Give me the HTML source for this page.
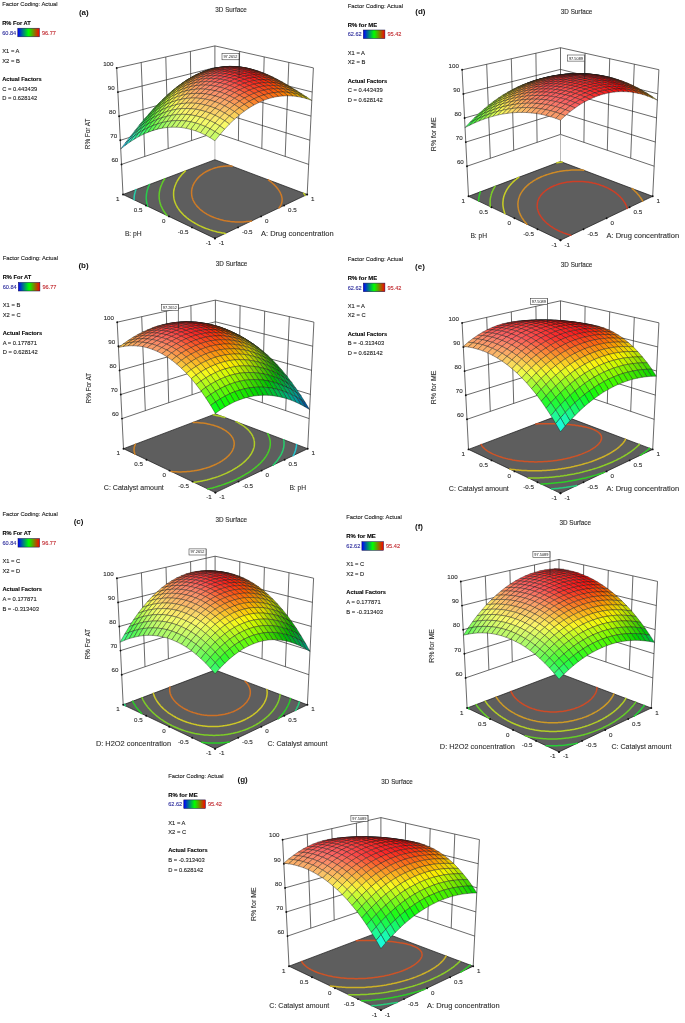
<!DOCTYPE html><html><head><meta charset="utf-8"><title>3D Surface plots</title>
<style>html,body{margin:0;padding:0;background:#fff}svg{display:block}</style></head><body>
<svg width="685" height="1023" viewBox="0 0 685 1023">
<defs><linearGradient id="lg" x1="0" x2="1" y1="0" y2="0"><stop offset="0" stop-color="#0000ff"/><stop offset="0.5" stop-color="#00ff00"/><stop offset="1" stop-color="#ff0000"/></linearGradient></defs>
<rect width="685" height="1023" fill="#fff"/>
<g id="panel-a">
<text x="2.2" y="5.8" font-size="5.80" fill="#1a1a1a" stroke="#1a1a1a" stroke-width="0.1" font-family="Liberation Sans, sans-serif" >Factor Coding: Actual</text>
<text x="2.2" y="24.8" font-size="5.80" fill="#000" stroke="#000" stroke-width="0.1" font-family="Liberation Sans, sans-serif" font-weight="bold" textLength="28.5" lengthAdjust="spacingAndGlyphs">R% For AT</text>
<rect x="17.8" y="28.2" width="21.6" height="8.6" fill="url(#lg)" stroke="#10104a" stroke-width="0.5"/>
<text x="2.2" y="34.6" font-size="5.60" fill="#2b2b9c" stroke="#2b2b9c" stroke-width="0.1" font-family="Liberation Sans, sans-serif" >60.84</text>
<text x="41.9" y="34.6" font-size="5.60" fill="#c0262c" stroke="#c0262c" stroke-width="0.1" font-family="Liberation Sans, sans-serif" >96.77</text>
<text x="2.2" y="52.8" font-size="5.80" fill="#1a1a1a" stroke="#1a1a1a" stroke-width="0.1" font-family="Liberation Sans, sans-serif" >X1 = A</text>
<text x="2.2" y="62.5" font-size="5.80" fill="#1a1a1a" stroke="#1a1a1a" stroke-width="0.1" font-family="Liberation Sans, sans-serif" >X2 = B</text>
<text x="2.2" y="80.7" font-size="5.70" fill="#000" stroke="#000" stroke-width="0.1" font-family="Liberation Sans, sans-serif" font-weight="bold">Actual Factors</text>
<text x="2.2" y="90.5" font-size="5.80" fill="#1a1a1a" stroke="#1a1a1a" stroke-width="0.1" font-family="Liberation Sans, sans-serif" >C = 0.443439</text>
<text x="2.2" y="100.2" font-size="5.80" fill="#1a1a1a" stroke="#1a1a1a" stroke-width="0.1" font-family="Liberation Sans, sans-serif" >D = 0.628142</text>
<text x="83.8" y="15.2" font-size="8.0" font-weight="bold" fill="#111" text-anchor="middle" font-family="Liberation Sans, sans-serif">(a)</text>
<text x="231.1" y="11.9" font-size="6.3" text-anchor="middle" fill="#2e2e2e" stroke="#2e2e2e" stroke-width="0.12" font-family="Liberation Sans, sans-serif">3D Surface</text>
<polyline points="121.5,164.4 214.9,132.6 308.7,164.4" stroke="#2a2a2a" stroke-width="0.7" fill="none"/>
<polyline points="120.3,140.3 214.9,110.9 309.9,140.2" stroke="#2a2a2a" stroke-width="0.7" fill="none"/>
<polyline points="119.1,116.2 214.9,89.3 311.0,116.1" stroke="#2a2a2a" stroke-width="0.7" fill="none"/>
<polyline points="117.9,92.1 214.9,67.6 312.2,92.0" stroke="#2a2a2a" stroke-width="0.7" fill="none"/>
<polyline points="116.7,68.0 214.9,45.9 313.4,67.9" stroke="#2a2a2a" stroke-width="0.7" fill="none"/>
<line x1="123.0" y1="194.5" x2="116.7" y2="68.0" stroke="#2a2a2a" stroke-width="0.7" fill="none"/>
<line x1="144.8" y1="156.4" x2="141.2" y2="62.5" stroke="#2a2a2a" stroke-width="0.7" fill="none"/>
<line x1="168.2" y1="148.5" x2="165.8" y2="57.0" stroke="#2a2a2a" stroke-width="0.7" fill="none"/>
<line x1="191.6" y1="140.5" x2="190.4" y2="51.4" stroke="#2a2a2a" stroke-width="0.7" fill="none"/>
<line x1="307.2" y1="194.5" x2="313.4" y2="67.9" stroke="#2a2a2a" stroke-width="0.7" fill="none"/>
<line x1="285.2" y1="156.4" x2="288.8" y2="62.4" stroke="#2a2a2a" stroke-width="0.7" fill="none"/>
<line x1="261.8" y1="148.5" x2="264.2" y2="56.9" stroke="#2a2a2a" stroke-width="0.7" fill="none"/>
<line x1="238.4" y1="140.5" x2="239.6" y2="51.4" stroke="#2a2a2a" stroke-width="0.7" fill="none"/>
<line x1="214.9" y1="159.7" x2="214.9" y2="132.6" stroke="#a8a8a8" stroke-width="0.8"/>
<line x1="214.9" y1="132.6" x2="214.9" y2="45.9" stroke="#2a2a2a" stroke-width="0.7" fill="none"/>
<polygon points="123.0,194.5 214.9,159.7 307.2,194.5 214.9,238.4" fill="#5e5e5e" stroke="#151515" stroke-width="0.7"/>
<polyline points="134.1,199.8 134.1,199.1 134.1,198.8 134.1,198.1 134.1,197.8 134.2,197.1 134.2,196.9 134.3,196.1 134.3,195.9 134.4,195.0 134.4,195.0 134.6,194.1 134.6,194.0 134.8,193.2 134.9,192.9 135.0,192.4 135.2,191.8 135.3,191.5 135.5,190.7 135.5,190.7 135.8,189.8 135.9,189.6" fill="none" stroke="rgb(38,206,173)" stroke-width="1.5" stroke-linecap="round"/>
<polyline points="147.6,206.3 147.5,205.9 147.3,205.1 147.2,205.0 147.0,204.0 147.0,203.9 146.8,203.1 146.7,202.8 146.6,202.2 146.5,201.7 146.5,201.2 146.4,200.7 146.4,200.3 146.3,199.6 146.3,199.3 146.3,198.6 146.2,198.3 146.2,197.6 146.2,197.4 146.3,196.6 146.3,196.4 146.3,195.7 146.4,195.3 146.4,194.7 146.5,194.3 146.5,193.8 146.6,193.3 146.7,192.9 146.8,192.2 146.9,192.0 147.0,191.2 147.1,191.1 147.3,190.2 147.3,190.1 147.5,189.4 147.7,189.0 147.8,188.6 148.0,187.9 148.1,187.7 148.4,186.9 148.4,186.8 148.7,186.1 148.9,185.6 149.1,185.3 149.4,184.5 149.4,184.5" fill="none" stroke="rgb(38,206,76)" stroke-width="1.5" stroke-linecap="round"/>
<polyline points="167.0,215.5 166.8,215.3 166.2,214.5 165.7,213.8 165.6,213.7 165.0,212.9 164.5,212.3 164.5,212.1 163.9,211.3 163.6,210.8 163.4,210.5 162.9,209.7 162.8,209.4 162.5,208.9 162.1,208.0 162.1,208.0 161.7,207.2 161.4,206.7 161.3,206.3 160.9,205.5 160.9,205.5 160.6,204.6 160.5,204.3 160.3,203.7 160.1,203.1 160.1,202.8 159.8,201.9 159.8,201.9 159.6,201.0 159.6,200.8 159.5,200.0 159.4,199.7 159.3,199.1 159.3,198.7 159.2,198.1 159.2,197.7 159.2,197.2 159.1,196.7 159.1,196.2 159.1,195.7 159.1,195.2 159.2,194.7 159.2,194.2 159.2,193.7 159.3,193.2 159.3,192.8 159.4,192.2 159.4,191.9 159.6,191.1 159.6,191.0 159.8,190.1 159.8,190.1 160.0,189.2 160.0,189.0 160.2,188.4 160.4,187.9 160.5,187.5 160.7,186.9 160.8,186.7 161.1,185.9 161.1,185.7 161.4,185.1 161.6,184.6 161.7,184.3 162.1,183.5 162.1,183.5 162.4,182.7 162.6,182.3 162.8,181.9 163.2,181.2 163.3,181.1 163.7,180.4 163.9,179.9 164.1,179.7 164.6,178.9 164.7,178.7" fill="none" stroke="rgb(96,206,38)" stroke-width="1.5" stroke-linecap="round"/>
<polyline points="225.4,233.4 225.1,233.4 223.7,233.1 222.0,232.9 221.5,232.7 220.4,232.5 218.8,232.2 217.3,231.9 217.3,231.9 215.8,231.5 214.3,231.1 212.8,230.7 211.9,230.4 211.4,230.3 210.0,229.9 208.7,229.4 207.4,228.9 206.1,228.5 204.8,228.0 203.6,227.5 202.4,227.0 201.2,226.4 200.0,225.9 198.9,225.4 197.8,224.8 196.7,224.2 195.6,223.6 194.6,223.0 193.6,222.4 192.6,221.8 191.6,221.2 190.7,220.6 190.1,220.2 189.7,219.9 188.8,219.3 188.0,218.6 187.1,218.0 186.4,217.4 186.3,217.3 185.5,216.6 184.7,215.9 183.9,215.2 183.9,215.2 183.2,214.5 182.5,213.8 182.0,213.3 181.8,213.0 181.1,212.3 180.5,211.5 180.4,211.5 179.8,210.8 179.2,210.0 179.2,209.9 178.7,209.2 178.1,208.4 178.1,208.4 177.6,207.6 177.2,207.0 177.1,206.8 176.7,206.0 176.5,205.6 176.2,205.2 175.8,204.3 175.8,204.3 175.5,203.5 175.3,203.1 175.1,202.6 174.9,201.9 174.8,201.8 174.5,200.9 174.5,200.7 174.3,200.0 174.2,199.6 174.1,199.1 174.0,198.5 173.9,198.2 173.8,197.4 173.8,197.2 173.7,196.4 173.7,196.3 173.6,195.3 173.6,195.3 173.6,194.4 173.6,194.3 173.6,193.4 173.6,193.4 173.6,192.4 173.6,192.4 173.7,191.5 173.7,191.4 173.8,190.6 173.9,190.3 174.0,189.7 174.1,189.3 174.2,188.8 174.3,188.2 174.4,187.9 174.6,187.2 174.6,187.1 174.9,186.2 175.0,186.1 175.2,185.4 175.4,185.0 175.5,184.6 175.9,183.8 175.9,183.8 176.2,183.0 176.4,182.7 176.6,182.2 177.0,181.5 177.0,181.5 177.4,180.7 177.7,180.3 177.9,180.0 178.3,179.2 178.5,179.1 178.8,178.5 179.3,177.8 179.3,177.8 179.8,177.1 180.3,176.5 180.4,176.4 180.9,175.7 181.3,175.2 181.5,175.0 182.1,174.3 182.6,173.8 182.7,173.7 183.3,173.0 183.9,172.4 183.9,172.4 184.6,171.7 185.2,171.1 185.5,170.9" fill="none" stroke="rgb(193,206,38)" stroke-width="1.5" stroke-linecap="round"/>
<polyline points="305.2,195.4 304.7,194.7 304.6,194.5 304.2,193.9 303.7,193.2 303.7,193.2" fill="none" stroke="rgb(193,206,38)" stroke-width="1.5" stroke-linecap="round"/>
<polyline points="251.6,220.9 250.2,221.2 248.4,221.4 248.4,221.4 246.5,221.6 245.6,221.7 244.4,221.8 243.0,221.9 242.3,221.9 240.6,222.0 240.1,222.0 238.3,222.0 237.7,222.0 236.2,221.9 235.1,221.9 234.1,221.8 232.4,221.7 232.2,221.7 230.4,221.5 229.2,221.3 228.6,221.3 226.9,221.0 225.6,220.8 225.3,220.7 223.7,220.4 222.2,220.0 221.0,219.7 220.7,219.7 219.3,219.3 217.9,218.8 216.5,218.4 215.2,217.9 214.0,217.5 212.8,217.0 211.6,216.5 210.4,216.0 209.3,215.4 208.3,214.9 207.2,214.3 206.2,213.7 205.2,213.1 204.3,212.5 203.4,211.9 203.0,211.6 202.5,211.2 201.7,210.6 200.8,209.9 200.0,209.2 200.0,209.2 199.3,208.5 198.6,207.8 198.1,207.3 197.9,207.1 197.2,206.4 196.6,205.7 196.6,205.6 196.0,204.9 195.4,204.1 195.4,204.1 194.9,203.4 194.5,202.7 194.4,202.6 194.0,201.8 193.8,201.4 193.5,200.9 193.1,200.1 193.1,200.1 192.8,199.3 192.7,198.9 192.5,198.4 192.3,197.8 192.2,197.5 192.0,196.6 192.0,196.6 191.8,195.7 191.8,195.6 191.7,194.8 191.7,194.5 191.6,193.9 191.6,193.5 191.6,192.9 191.6,192.5 191.6,191.9 191.6,191.6 191.6,190.9 191.7,190.6 191.8,189.9 191.8,189.7 191.9,188.9 192.0,188.8 192.2,188.0 192.2,187.8 192.4,187.1 192.5,186.7 192.7,186.3 193.0,185.6 193.0,185.5 193.4,184.7 193.5,184.4 193.7,183.9 194.1,183.3 194.1,183.1 194.6,182.4 194.8,182.0 195.1,181.6 195.6,180.9 195.7,180.7 196.1,180.2 196.6,179.5 196.7,179.4 197.2,178.8 197.8,178.1 197.9,178.0 198.5,177.4 199.1,176.8 199.5,176.4 199.8,176.1 200.5,175.5 201.3,174.9 201.5,174.7 202.1,174.3 202.9,173.7 203.7,173.1 204.4,172.7 204.6,172.6 205.5,172.0 206.4,171.5 207.4,171.0 208.4,170.5 209.5,170.0 210.5,169.5 211.7,169.1 212.9,168.6 214.1,168.2 215.4,167.8 216.8,167.5 218.3,167.1 219.0,167.0 219.8,166.8 221.4,166.6 222.8,166.4 223.2,166.3 225.1,166.2 225.7,166.1 227.2,166.1 228.2,166.1 229.5,166.1 230.4,166.1 232.1,166.2" fill="none" stroke="rgb(206,122,38)" stroke-width="1.5" stroke-linecap="round"/>
<polyline points="279.0,207.9 279.3,207.6 279.9,206.8 280.1,206.4 280.4,206.0 280.8,205.1 280.9,205.0 281.2,204.3 281.4,203.7 281.5,203.4 281.8,202.6 281.8,202.5 282.0,201.6 282.0,201.5 282.1,200.6 282.1,200.4 282.1,199.6 282.1,199.4 282.1,198.6 282.1,198.4 281.9,197.6 281.9,197.5 281.7,196.6 281.7,196.5 281.5,195.7 281.4,195.4 281.2,194.9 281.0,194.3 280.9,194.1 280.5,193.2 280.5,193.1 280.1,192.4 279.8,191.9 279.7,191.7 279.2,190.9 279.0,190.6 278.7,190.2 278.2,189.4 278.1,189.3 277.7,188.7 277.1,188.0 277.0,187.9 276.5,187.3 275.9,186.6 275.8,186.5 275.3,185.9 274.7,185.3 274.3,184.9 274.0,184.6 273.3,184.0 272.7,183.4 272.6,183.3 271.9,182.7 271.2,182.1 270.7,181.7 270.4,181.5 269.7,180.9 268.9,180.3 268.4,179.9" fill="none" stroke="rgb(206,122,38)" stroke-width="1.5" stroke-linecap="round"/>
<circle cx="121.5" cy="164.4" r="0.95" fill="#111"/>
<text x="118.3" y="162.1" font-size="6.2" text-anchor="end" fill="#2e2e2e" stroke="#2e2e2e" stroke-width="0.12" font-family="Liberation Sans, sans-serif">60</text>
<circle cx="120.3" cy="140.3" r="0.95" fill="#111"/>
<text x="117.1" y="138.0" font-size="6.2" text-anchor="end" fill="#2e2e2e" stroke="#2e2e2e" stroke-width="0.12" font-family="Liberation Sans, sans-serif">70</text>
<circle cx="119.1" cy="116.2" r="0.95" fill="#111"/>
<text x="115.9" y="113.9" font-size="6.2" text-anchor="end" fill="#2e2e2e" stroke="#2e2e2e" stroke-width="0.12" font-family="Liberation Sans, sans-serif">80</text>
<circle cx="117.9" cy="92.1" r="0.95" fill="#111"/>
<text x="114.7" y="89.8" font-size="6.2" text-anchor="end" fill="#2e2e2e" stroke="#2e2e2e" stroke-width="0.12" font-family="Liberation Sans, sans-serif">90</text>
<circle cx="116.7" cy="68.0" r="0.95" fill="#111"/>
<text x="113.5" y="65.7" font-size="6.2" text-anchor="end" fill="#2e2e2e" stroke="#2e2e2e" stroke-width="0.12" font-family="Liberation Sans, sans-serif">100</text>
<circle cx="214.9" cy="238.4" r="0.95" fill="#111"/>
<text x="211.3" y="244.9" font-size="6.2" text-anchor="end" fill="#2e2e2e" stroke="#2e2e2e" stroke-width="0.12" font-family="Liberation Sans, sans-serif">-1</text>
<circle cx="214.9" cy="238.4" r="0.95" fill="#111"/>
<text x="218.8" y="244.9" font-size="6.2" text-anchor="start" fill="#2e2e2e" stroke="#2e2e2e" stroke-width="0.12" font-family="Liberation Sans, sans-serif">-1</text>
<circle cx="192.0" cy="227.4" r="0.95" fill="#111"/>
<text x="188.4" y="233.9" font-size="6.2" text-anchor="end" fill="#2e2e2e" stroke="#2e2e2e" stroke-width="0.12" font-family="Liberation Sans, sans-serif">-0.5</text>
<circle cx="238.0" cy="227.4" r="0.95" fill="#111"/>
<text x="241.9" y="233.9" font-size="6.2" text-anchor="start" fill="#2e2e2e" stroke="#2e2e2e" stroke-width="0.12" font-family="Liberation Sans, sans-serif">-0.5</text>
<circle cx="169.0" cy="216.4" r="0.95" fill="#111"/>
<text x="165.4" y="222.9" font-size="6.2" text-anchor="end" fill="#2e2e2e" stroke="#2e2e2e" stroke-width="0.12" font-family="Liberation Sans, sans-serif">0</text>
<circle cx="261.1" cy="216.4" r="0.95" fill="#111"/>
<text x="265.0" y="222.9" font-size="6.2" text-anchor="start" fill="#2e2e2e" stroke="#2e2e2e" stroke-width="0.12" font-family="Liberation Sans, sans-serif">0</text>
<circle cx="146.0" cy="205.5" r="0.95" fill="#111"/>
<text x="142.4" y="212.0" font-size="6.2" text-anchor="end" fill="#2e2e2e" stroke="#2e2e2e" stroke-width="0.12" font-family="Liberation Sans, sans-serif">0.5</text>
<circle cx="284.1" cy="205.5" r="0.95" fill="#111"/>
<text x="288.0" y="212.0" font-size="6.2" text-anchor="start" fill="#2e2e2e" stroke="#2e2e2e" stroke-width="0.12" font-family="Liberation Sans, sans-serif">0.5</text>
<circle cx="123.0" cy="194.5" r="0.95" fill="#111"/>
<text x="119.4" y="201.0" font-size="6.2" text-anchor="end" fill="#2e2e2e" stroke="#2e2e2e" stroke-width="0.12" font-family="Liberation Sans, sans-serif">1</text>
<circle cx="307.2" cy="194.5" r="0.95" fill="#111"/>
<text x="311.1" y="201.0" font-size="6.2" text-anchor="start" fill="#2e2e2e" stroke="#2e2e2e" stroke-width="0.12" font-family="Liberation Sans, sans-serif">1</text>
<g stroke="#181818" stroke-width="0.4" stroke-linejoin="round">
<polygon points="215.0,69.1 219.8,68.8 214.9,70.2 210.1,70.8" fill="rgb(250,201,9)"/>
<polygon points="210.1,70.0 215.0,69.1 210.1,70.8 205.3,71.9" fill="rgb(250,196,16)"/>
<polygon points="219.8,67.9 224.7,67.8 219.8,68.8 215.0,69.1" fill="rgb(250,169,8)"/>
<polygon points="205.2,71.3 210.1,70.0 205.3,71.9 200.4,73.5" fill="rgb(250,197,21)"/>
<polygon points="215.0,68.5 219.8,67.9 215.0,69.1 210.1,70.0" fill="rgb(250,162,16)"/>
<polygon points="224.7,67.1 229.6,67.2 224.7,67.8 219.8,67.9" fill="rgb(250,142,5)"/>
<polygon points="200.4,73.0 205.2,71.3 200.4,73.5 195.6,75.5" fill="rgb(250,202,25)"/>
<polygon points="210.1,69.5 215.0,68.5 210.1,70.0 205.2,71.3" fill="rgb(250,161,22)"/>
<polygon points="219.8,67.4 224.7,67.1 219.8,67.9 215.0,68.5" fill="rgb(250,133,14)"/>
<polygon points="229.6,66.6 234.5,67.1 229.6,67.2 224.7,67.1" fill="rgb(250,119,1)"/>
<polygon points="205.2,71.0 210.1,69.5 205.2,71.3 200.4,73.0" fill="rgb(250,165,27)"/>
<polygon points="215.0,68.2 219.8,67.4 215.0,68.5 210.1,69.5" fill="rgb(250,131,22)"/>
<polygon points="224.7,66.7 229.6,66.6 224.7,67.1 219.8,67.4" fill="rgb(250,109,12)"/>
<polygon points="195.5,75.2 200.4,73.0 195.6,75.5 190.7,77.9" fill="rgb(250,212,28)"/>
<polygon points="234.5,66.6 239.4,67.3 234.5,67.1 229.6,66.6" fill="rgb(246,100,0)"/>
<polygon points="210.1,69.4 215.0,68.2 210.1,69.5 205.2,71.0" fill="rgb(250,133,28)"/>
<polygon points="219.9,67.3 224.7,66.7 219.8,67.4 215.0,68.2" fill="rgb(250,105,21)"/>
<polygon points="190.7,77.8 195.5,75.2 190.7,77.9 185.9,80.7" fill="rgb(250,226,30)"/>
<polygon points="200.4,72.9 205.2,71.0 200.4,73.0 195.5,75.2" fill="rgb(250,173,31)"/>
<polygon points="229.6,66.4 234.5,66.6 229.6,66.6 224.7,66.7" fill="rgb(250,88,9)"/>
<polygon points="239.4,66.9 244.2,67.8 239.4,67.3 234.5,66.6" fill="rgb(239,86,0)"/>
<polygon points="185.9,80.7 190.7,77.8 185.9,80.7 181.1,83.9" fill="rgb(250,244,31)"/>
<polygon points="195.5,75.3 200.4,72.9 195.5,75.2 190.7,77.8" fill="rgb(250,185,33)"/>
<polygon points="205.2,71.1 210.1,69.4 205.2,71.0 200.4,72.9" fill="rgb(250,139,33)"/>
<polygon points="215.0,68.3 219.9,67.3 215.0,68.2 210.1,69.4" fill="rgb(250,106,28)"/>
<polygon points="224.8,66.8 229.6,66.4 224.7,66.7 219.9,67.3" fill="rgb(250,83,19)"/>
<polygon points="234.5,66.5 239.4,66.9 234.5,66.6 229.6,66.4" fill="rgb(250,71,4)"/>
<polygon points="244.3,67.6 249.1,68.7 244.2,67.8 239.4,66.9" fill="rgb(232,77,0)"/>
<polygon points="181.1,84.1 185.9,80.7 181.1,83.9 176.3,87.4" fill="rgb(234,250,32)"/>
<polygon points="190.7,78.1 195.5,75.3 190.7,77.8 185.9,80.7" fill="rgb(250,200,35)"/>
<polygon points="200.4,73.3 205.2,71.1 200.4,72.9 195.5,75.3" fill="rgb(250,150,36)"/>
<polygon points="210.1,69.8 215.0,68.3 210.1,69.4 205.2,71.1" fill="rgb(250,111,34)"/>
<polygon points="219.9,67.6 224.8,66.8 219.9,67.3 215.0,68.3" fill="rgb(250,83,27)"/>
<polygon points="229.7,66.7 234.5,66.5 229.6,66.4 224.8,66.8" fill="rgb(250,64,16)"/>
<polygon points="239.4,67.0 244.3,67.6 239.4,66.9 234.5,66.5" fill="rgb(250,58,0)"/>
<polygon points="249.2,68.6 254.0,69.9 249.1,68.7 244.3,67.6" fill="rgb(226,72,0)"/>
<polygon points="176.3,87.8 181.1,84.1 176.3,87.4 171.6,91.3" fill="rgb(209,250,32)"/>
<polygon points="185.8,81.2 190.7,78.1 185.9,80.7 181.1,84.1" fill="rgb(250,220,36)"/>
<polygon points="195.5,75.9 200.4,73.3 195.5,75.3 190.7,78.1" fill="rgb(250,163,39)"/>
<polygon points="205.2,71.7 210.1,69.8 205.2,71.1 200.4,73.3" fill="rgb(250,120,39)"/>
<polygon points="215.0,68.8 219.9,67.6 215.0,68.3 210.1,69.8" fill="rgb(250,87,34)"/>
<polygon points="224.8,67.2 229.7,66.7 224.8,66.8 219.9,67.6" fill="rgb(250,63,26)"/>
<polygon points="234.6,66.9 239.4,67.0 234.5,66.5 229.7,66.7" fill="rgb(250,50,12)"/>
<polygon points="244.3,67.8 249.2,68.6 244.3,67.6 239.4,67.0" fill="rgb(243,51,0)"/>
<polygon points="254.1,70.0 258.9,71.4 254.0,69.9 249.2,68.6" fill="rgb(220,71,0)"/>
<polygon points="181.0,84.8 185.8,81.2 181.1,84.1 176.3,87.8" fill="rgb(250,242,37)"/>
<polygon points="190.7,78.8 195.5,75.9 190.7,78.1 185.8,81.2" fill="rgb(250,180,40)"/>
<polygon points="200.3,74.1 205.2,71.7 200.4,73.3 195.5,75.9" fill="rgb(250,132,42)"/>
<polygon points="229.7,67.3 234.6,66.9 229.7,66.7 224.8,67.2" fill="rgb(250,47,23)"/>
<polygon points="239.5,67.6 244.3,67.8 239.4,67.0 234.6,66.9" fill="rgb(250,38,8)"/>
<polygon points="249.2,69.0 254.1,70.0 249.2,68.6 244.3,67.8" fill="rgb(237,49,0)"/>
<polygon points="171.5,91.8 176.3,87.8 171.6,91.3 166.8,95.4" fill="rgb(181,250,33)"/>
<polygon points="210.1,70.6 215.0,68.8 210.1,69.8 205.2,71.7" fill="rgb(250,95,40)"/>
<polygon points="219.9,68.3 224.8,67.2 219.9,67.6 215.0,68.8" fill="rgb(250,67,34)"/>
<polygon points="258.9,71.6 263.8,73.2 258.9,71.4 254.1,70.0" fill="rgb(214,73,0)"/>
<polygon points="185.8,82.2 190.7,78.8 185.8,81.2 181.0,84.8" fill="rgb(250,201,41)"/>
<polygon points="195.5,76.9 200.3,74.1 195.5,75.9 190.7,78.8" fill="rgb(250,147,44)"/>
<polygon points="234.6,67.8 239.5,67.6 234.6,66.9 229.7,67.3" fill="rgb(250,35,19)"/>
<polygon points="244.4,68.5 249.2,69.0 244.3,67.8 239.5,67.6" fill="rgb(250,31,3)"/>
<polygon points="166.8,96.2 171.5,91.8 166.8,95.4 162.1,99.9" fill="rgb(150,250,33)"/>
<polygon points="176.2,88.6 181.0,84.8 176.3,87.8 171.5,91.8" fill="rgb(232,250,37)"/>
<polygon points="205.2,72.7 210.1,70.6 205.2,71.7 200.3,74.1" fill="rgb(250,106,44)"/>
<polygon points="215.0,69.8 219.9,68.3 215.0,68.8 210.1,70.6" fill="rgb(250,74,40)"/>
<polygon points="224.8,68.2 229.7,67.3 224.8,67.2 219.9,68.3" fill="rgb(250,50,32)"/>
<polygon points="254.1,70.5 258.9,71.6 254.1,70.0 249.2,69.0" fill="rgb(231,50,0)"/>
<polygon points="263.8,73.5 268.6,75.2 263.8,73.2 258.9,71.6" fill="rgb(208,78,0)"/>
<polygon points="190.6,80.0 195.5,76.9 190.7,78.8 185.8,82.2" fill="rgb(250,166,45)"/>
<polygon points="239.5,68.5 244.4,68.5 239.5,67.6 234.6,67.8" fill="rgb(250,26,15)"/>
<polygon points="181.0,85.9 185.8,82.2 181.0,84.8 176.2,88.6" fill="rgb(250,224,42)"/>
<polygon points="200.3,75.3 205.2,72.7 200.3,74.1 195.5,76.9" fill="rgb(250,120,47)"/>
<polygon points="210.1,71.8 215.0,69.8 210.1,70.6 205.2,72.7" fill="rgb(250,84,45)"/>
<polygon points="219.9,69.5 224.8,68.2 219.9,68.3 215.0,69.8" fill="rgb(250,56,40)"/>
<polygon points="229.7,68.4 234.6,67.8 229.7,67.3 224.8,68.2" fill="rgb(250,36,29)"/>
<polygon points="249.3,69.8 254.1,70.5 249.2,69.0 244.4,68.5" fill="rgb(248,28,0)"/>
<polygon points="162.0,100.8 166.8,96.2 162.1,99.9 157.4,104.6" fill="rgb(117,250,33)"/>
<polygon points="171.5,92.8 176.2,88.6 171.5,91.8 166.8,96.2" fill="rgb(203,250,38)"/>
<polygon points="259.0,72.2 263.8,73.5 258.9,71.6 254.1,70.5" fill="rgb(225,54,0)"/>
<polygon points="268.7,75.6 273.5,77.4 268.6,75.2 263.8,73.5" fill="rgb(204,85,0)"/>
<polygon points="157.3,105.7 162.0,100.8 157.4,104.6 152.7,109.6" fill="rgb(81,250,33)"/>
<polygon points="166.7,97.4 171.5,92.8 166.8,96.2 162.0,100.8" fill="rgb(171,250,38)"/>
<polygon points="176.2,90.0 181.0,85.9 176.2,88.6 171.5,92.8" fill="rgb(249,250,42)"/>
<polygon points="185.8,83.6 190.6,80.0 185.8,82.2 181.0,85.9" fill="rgb(250,188,46)"/>
<polygon points="195.5,78.3 200.3,75.3 195.5,76.9 190.6,80.0" fill="rgb(250,139,52)"/>
<polygon points="205.2,74.2 210.1,71.8 205.2,72.7 200.3,75.3" fill="rgb(250,100,53)"/>
<polygon points="215.0,71.3 219.9,69.5 215.0,69.8 210.1,71.8" fill="rgb(250,66,46)"/>
<polygon points="224.8,69.6 229.7,68.4 224.8,68.2 219.9,69.5" fill="rgb(250,42,38)"/>
<polygon points="234.6,69.0 239.5,68.5 234.6,67.8 229.7,68.4" fill="rgb(250,26,26)"/>
<polygon points="244.4,69.7 249.3,69.8 244.4,68.5 239.5,68.5" fill="rgb(250,20,11)"/>
<polygon points="254.1,71.4 259.0,72.2 254.1,70.5 249.3,69.8" fill="rgb(242,32,0)"/>
<polygon points="263.9,74.2 268.7,75.6 263.8,73.5 259.0,72.2" fill="rgb(220,61,0)"/>
<polygon points="273.5,78.0 278.3,79.9 273.5,77.4 268.7,75.6" fill="rgb(200,94,0)"/>
<polygon points="200.3,77.0 205.2,74.2 200.3,75.3 195.5,78.3" fill="rgb(250,118,60)"/>
<polygon points="210.1,73.5 215.0,71.3 210.1,71.8 205.2,74.2" fill="rgb(250,83,56)"/>
<polygon points="219.9,71.2 224.8,69.6 219.9,69.5 215.0,71.3" fill="rgb(250,51,45)"/>
<polygon points="229.7,70.0 234.6,69.0 229.7,68.4 224.8,69.6" fill="rgb(250,36,36)"/>
<polygon points="152.7,110.8 157.3,105.7 152.7,109.6 148.1,114.8" fill="rgb(43,250,33)"/>
<polygon points="162.0,102.2 166.7,97.4 162.0,100.8 157.3,105.7" fill="rgb(137,250,38)"/>
<polygon points="171.4,94.4 176.2,90.0 171.5,92.8 166.7,97.4" fill="rgb(219,250,43)"/>
<polygon points="181.0,87.5 185.8,83.6 181.0,85.9 176.2,90.0" fill="rgb(250,212,47)"/>
<polygon points="190.6,81.7 195.5,78.3 190.6,80.0 185.8,83.6" fill="rgb(250,159,56)"/>
<polygon points="239.5,70.0 244.4,69.7 239.5,68.5 234.6,69.0" fill="rgb(250,23,23)"/>
<polygon points="249.3,71.1 254.1,71.4 249.3,69.8 244.4,69.7" fill="rgb(250,18,7)"/>
<polygon points="259.0,73.3 263.9,74.2 259.0,72.2 254.1,71.4" fill="rgb(237,38,0)"/>
<polygon points="268.7,76.5 273.5,78.0 268.7,75.6 263.9,74.2" fill="rgb(216,70,0)"/>
<polygon points="278.4,80.5 283.1,82.5 278.3,79.9 273.5,78.0" fill="rgb(197,105,0)"/>
<polygon points="157.3,107.3 162.0,102.2 157.3,105.7 152.7,110.8" fill="rgb(101,250,38)"/>
<polygon points="166.7,99.1 171.4,94.4 166.7,97.4 162.0,102.2" fill="rgb(187,250,43)"/>
<polygon points="176.2,91.8 181.0,87.5 176.2,90.0 171.4,94.4" fill="rgb(250,240,48)"/>
<polygon points="205.2,76.2 210.1,73.5 205.2,74.2 200.3,77.0" fill="rgb(250,102,65)"/>
<polygon points="215.0,73.2 219.9,71.2 215.0,71.3 210.1,73.5" fill="rgb(250,69,58)"/>
<polygon points="224.8,71.4 229.7,70.0 224.8,69.6 219.9,71.2" fill="rgb(250,44,44)"/>
<polygon points="254.2,72.9 259.0,73.3 254.1,71.4 249.3,71.1" fill="rgb(250,19,3)"/>
<polygon points="263.9,75.5 268.7,76.5 263.9,74.2 259.0,73.3" fill="rgb(232,47,0)"/>
<polygon points="273.6,79.0 278.4,80.5 273.5,78.0 268.7,76.5" fill="rgb(212,81,0)"/>
<polygon points="148.0,116.2 152.7,110.8 148.1,114.8 143.4,120.1" fill="rgb(34,250,65)"/>
<polygon points="195.5,80.3 200.3,77.0 195.5,78.3 190.6,81.7" fill="rgb(250,137,64)"/>
<polygon points="234.6,70.8 239.5,70.0 234.6,69.0 229.7,70.0" fill="rgb(250,33,33)"/>
<polygon points="283.2,83.3 287.9,85.3 283.1,82.5 278.4,80.5" fill="rgb(195,117,0)"/>
<polygon points="185.8,85.5 190.6,81.7 185.8,83.6 181.0,87.5" fill="rgb(250,182,58)"/>
<polygon points="244.4,71.3 249.3,71.1 244.4,69.7 239.5,70.0" fill="rgb(250,18,18)"/>
<polygon points="210.1,75.7 215.0,73.2 210.1,73.5 205.2,76.2" fill="rgb(250,88,69)"/>
<polygon points="219.9,73.3 224.8,71.4 219.9,71.2 215.0,73.2" fill="rgb(250,56,56)"/>
<polygon points="162.0,104.1 166.7,99.1 162.0,102.2 157.3,107.3" fill="rgb(152,250,43)"/>
<polygon points="171.4,96.4 176.2,91.8 171.4,94.4 166.7,99.1" fill="rgb(229,250,48)"/>
<polygon points="259.1,75.0 263.9,75.5 259.0,73.3 254.2,72.9" fill="rgb(248,26,0)"/>
<polygon points="268.8,77.9 273.6,79.0 268.7,76.5 263.9,75.5" fill="rgb(228,58,0)"/>
<polygon points="152.6,112.6 157.3,107.3 152.7,110.8 148.0,116.2" fill="rgb(62,250,38)"/>
<polygon points="200.3,79.3 205.2,76.2 200.3,77.0 195.5,80.3" fill="rgb(250,121,71)"/>
<polygon points="229.7,72.1 234.6,70.8 229.7,70.0 224.8,71.4" fill="rgb(250,42,42)"/>
<polygon points="278.4,81.7 283.2,83.3 278.4,80.5 273.6,79.0" fill="rgb(210,94,0)"/>
<polygon points="181.0,89.7 185.8,85.5 181.0,87.5 176.2,91.8" fill="rgb(250,207,59)"/>
<polygon points="190.6,83.9 195.5,80.3 190.6,81.7 185.8,85.5" fill="rgb(250,158,67)"/>
<polygon points="239.5,72.0 244.4,71.3 239.5,70.0 234.6,70.8" fill="rgb(250,29,29)"/>
<polygon points="249.3,73.0 254.2,72.9 249.3,71.1 244.4,71.3" fill="rgb(250,14,14)"/>
<polygon points="143.4,121.7 148.0,116.2 143.4,120.1 138.8,125.7" fill="rgb(34,250,106)"/>
<polygon points="288.0,86.2 292.7,88.2 287.9,85.3 283.2,83.3" fill="rgb(194,132,0)"/>
<polygon points="215.0,75.6 219.9,73.3 215.0,73.2 210.1,75.7" fill="rgb(250,77,70)"/>
<polygon points="166.7,101.4 171.4,96.4 166.7,99.1 162.0,104.1" fill="rgb(196,250,48)"/>
<polygon points="263.9,77.3 268.8,77.9 263.9,75.5 259.1,75.0" fill="rgb(243,37,0)"/>
<polygon points="138.8,127.5 143.4,121.7 138.8,125.7 134.3,131.4" fill="rgb(35,250,149)"/>
<polygon points="157.3,109.4 162.0,104.1 157.3,107.3 152.6,112.6" fill="rgb(115,250,43)"/>
<polygon points="205.2,78.6 210.1,75.7 205.2,76.2 200.3,79.3" fill="rgb(250,108,77)"/>
<polygon points="224.8,73.8 229.7,72.1 224.8,71.4 219.9,73.3" fill="rgb(250,53,53)"/>
<polygon points="273.6,80.6 278.4,81.7 273.6,79.0 268.8,77.9" fill="rgb(225,72,0)"/>
<polygon points="292.8,89.2 297.5,91.1 292.7,88.2 288.0,86.2" fill="rgb(194,147,0)"/>
<polygon points="176.2,94.2 181.0,89.7 176.2,91.8 171.4,96.4" fill="rgb(250,235,59)"/>
<polygon points="185.8,88.0 190.6,83.9 185.8,85.5 181.0,89.7" fill="rgb(250,181,69)"/>
<polygon points="195.5,82.7 200.3,79.3 195.5,80.3 190.6,83.9" fill="rgb(250,141,75)"/>
<polygon points="234.6,73.1 239.5,72.0 234.6,70.8 229.7,72.1" fill="rgb(250,39,39)"/>
<polygon points="244.4,73.5 249.3,73.0 244.4,71.3 239.5,72.0" fill="rgb(250,25,25)"/>
<polygon points="254.2,74.9 259.1,75.0 254.2,72.9 249.3,73.0" fill="rgb(250,17,10)"/>
<polygon points="148.0,118.2 152.6,112.6 148.0,116.2 143.4,121.7" fill="rgb(39,250,55)"/>
<polygon points="283.2,84.6 288.0,86.2 283.2,83.3 278.4,81.7" fill="rgb(208,109,0)"/>
<polygon points="143.3,123.9 148.0,118.2 143.4,121.7 138.8,127.5" fill="rgb(39,250,98)"/>
<polygon points="162.0,106.6 166.7,101.4 162.0,104.1 157.3,109.4" fill="rgb(161,250,48)"/>
<polygon points="210.1,78.4 215.0,75.6 210.1,75.7 205.2,78.6" fill="rgb(250,97,80)"/>
<polygon points="219.9,76.0 224.8,73.8 219.9,73.3 215.0,75.6" fill="rgb(250,69,69)"/>
<polygon points="268.8,79.9 273.6,80.6 268.8,77.9 263.9,77.3" fill="rgb(239,51,0)"/>
<polygon points="288.0,87.6 292.8,89.2 288.0,86.2 283.2,84.6" fill="rgb(207,125,0)"/>
<polygon points="171.4,99.0 176.2,94.2 171.4,96.4 166.7,101.4" fill="rgb(235,250,59)"/>
<polygon points="181.0,92.4 185.8,88.0 181.0,89.7 176.2,94.2" fill="rgb(250,207,70)"/>
<polygon points="190.6,86.6 195.5,82.7 190.6,83.9 185.8,88.0" fill="rgb(250,162,78)"/>
<polygon points="200.3,82.0 205.2,78.6 200.3,79.3 195.5,82.7" fill="rgb(250,127,82)"/>
<polygon points="229.7,74.7 234.6,73.1 229.7,72.1 224.8,73.8" fill="rgb(250,48,48)"/>
<polygon points="239.5,74.4 244.4,73.5 239.5,72.0 234.6,73.1" fill="rgb(250,36,36)"/>
<polygon points="249.3,75.3 254.2,74.9 249.3,73.0 244.4,73.5" fill="rgb(250,22,22)"/>
<polygon points="259.1,77.2 263.9,77.3 259.1,75.0 254.2,74.9" fill="rgb(250,24,7)"/>
<polygon points="134.2,133.4 138.8,127.5 134.3,131.4 129.7,137.2" fill="rgb(36,250,193)"/>
<polygon points="152.6,115.0 157.3,109.4 152.6,112.6 148.0,118.2" fill="rgb(76,250,43)"/>
<polygon points="278.4,83.4 283.2,84.6 278.4,81.7 273.6,80.6" fill="rgb(222,87,0)"/>
<polygon points="297.6,92.3 302.3,94.2 297.5,91.1 292.8,89.2" fill="rgb(195,165,0)"/>
<polygon points="148.0,120.7 152.6,115.0 148.0,118.2 143.3,123.9" fill="rgb(44,250,52)"/>
<polygon points="283.3,86.5 288.0,87.6 283.2,84.6 278.4,83.4" fill="rgb(220,104,0)"/>
<polygon points="176.2,97.1 181.0,92.4 176.2,94.2 171.4,99.0" fill="rgb(250,234,70)"/>
<polygon points="185.8,90.9 190.6,86.6 185.8,88.0 181.0,92.4" fill="rgb(250,185,79)"/>
<polygon points="195.5,85.7 200.3,82.0 195.5,82.7 190.6,86.6" fill="rgb(250,147,86)"/>
<polygon points="205.2,81.6 210.1,78.4 205.2,78.6 200.3,82.0" fill="rgb(250,117,87)"/>
<polygon points="224.8,76.7 229.7,74.7 224.8,73.8 219.9,76.0" fill="rgb(250,65,65)"/>
<polygon points="234.6,75.9 239.5,74.4 234.6,73.1 229.7,74.7" fill="rgb(250,44,44)"/>
<polygon points="244.4,76.2 249.3,75.3 244.4,73.5 239.5,74.4" fill="rgb(250,32,32)"/>
<polygon points="254.2,77.4 259.1,77.2 254.2,74.9 249.3,75.3" fill="rgb(250,21,18)"/>
<polygon points="138.8,129.9 143.3,123.9 138.8,127.5 134.2,133.4" fill="rgb(40,250,141)"/>
<polygon points="157.3,112.1 162.0,106.6 157.3,109.4 152.6,115.0" fill="rgb(124,250,49)"/>
<polygon points="166.7,104.2 171.4,99.0 166.7,101.4 162.0,106.6" fill="rgb(202,250,60)"/>
<polygon points="215.0,78.6 219.9,76.0 215.0,75.6 210.1,78.4" fill="rgb(250,88,81)"/>
<polygon points="263.9,79.7 268.8,79.9 263.9,77.3 259.1,77.2" fill="rgb(250,35,3)"/>
<polygon points="273.6,82.7 278.4,83.4 273.6,80.6 268.8,79.9" fill="rgb(236,67,0)"/>
<polygon points="292.8,90.8 297.6,92.3 292.8,89.2 288.0,87.6" fill="rgb(207,143,0)"/>
<polygon points="129.7,139.4 134.2,133.4 129.7,137.2 125.2,143.1" fill="rgb(37,250,238)"/>
<polygon points="302.4,95.5 307.1,97.3 302.3,94.2 297.6,92.3" fill="rgb(197,184,0)"/>
<polygon points="152.6,117.9 157.3,112.1 152.6,115.0 148.0,120.7" fill="rgb(84,250,50)"/>
<polygon points="278.5,85.8 283.3,86.5 278.4,83.4 273.6,82.7" fill="rgb(234,85,0)"/>
<polygon points="181.0,95.6 185.8,90.9 181.0,92.4 176.2,97.1" fill="rgb(250,210,80)"/>
<polygon points="190.6,89.9 195.5,85.7 190.6,86.6 185.8,90.9" fill="rgb(250,169,88)"/>
<polygon points="200.3,85.2 205.2,81.6 200.3,82.0 195.5,85.7" fill="rgb(250,136,92)"/>
<polygon points="229.7,77.8 234.6,75.9 229.7,74.7 224.8,76.7" fill="rgb(250,60,60)"/>
<polygon points="239.5,77.5 244.4,76.2 239.5,74.4 234.6,75.9" fill="rgb(250,41,41)"/>
<polygon points="249.3,78.2 254.2,77.4 249.3,75.3 244.4,76.2" fill="rgb(250,28,28)"/>
<polygon points="125.1,145.5 129.7,139.4 125.2,143.1 120.7,149.0" fill="rgb(38,218,250)"/>
<polygon points="143.3,126.7 148.0,120.7 143.3,123.9 138.8,129.9" fill="rgb(44,250,95)"/>
<polygon points="171.4,102.2 176.2,97.1 171.4,99.0 166.7,104.2" fill="rgb(236,250,70)"/>
<polygon points="259.1,79.9 263.9,79.7 259.1,77.2 254.2,77.4" fill="rgb(250,29,14)"/>
<polygon points="288.1,89.7 292.8,90.8 288.0,87.6 283.3,86.5" fill="rgb(220,123,0)"/>
<polygon points="307.1,98.8 311.8,100.5 307.1,97.3 302.4,95.5" fill="rgb(196,200,0)"/>
<polygon points="210.1,81.6 215.0,78.6 210.1,78.4 205.2,81.6" fill="rgb(250,108,90)"/>
<polygon points="219.9,79.2 224.8,76.7 219.9,76.0 215.0,78.6" fill="rgb(250,80,79)"/>
<polygon points="134.2,136.0 138.8,129.9 134.2,133.4 129.7,139.4" fill="rgb(41,250,186)"/>
<polygon points="162.0,109.7 166.7,104.2 162.0,106.6 157.3,112.1" fill="rgb(167,250,60)"/>
<polygon points="268.8,82.4 273.6,82.7 268.8,79.9 263.9,79.7" fill="rgb(250,49,0)"/>
<polygon points="297.6,94.1 302.4,95.5 297.6,92.3 292.8,90.8" fill="rgb(208,163,0)"/>
<polygon points="185.8,94.4 190.6,89.9 185.8,90.9 181.0,95.6" fill="rgb(250,192,89)"/>
<polygon points="195.5,89.3 200.3,85.2 195.5,85.7 190.6,89.9" fill="rgb(250,157,94)"/>
<polygon points="234.6,79.2 239.5,77.5 234.6,75.9 229.7,77.8" fill="rgb(250,53,53)"/>
<polygon points="244.4,79.4 249.3,78.2 244.4,76.2 239.5,77.5" fill="rgb(250,38,38)"/>
<polygon points="129.6,142.2 134.2,136.0 129.7,139.4 125.1,145.5" fill="rgb(42,250,230)"/>
<polygon points="148.0,123.9 152.6,117.9 148.0,120.7 143.3,126.7" fill="rgb(51,250,57)"/>
<polygon points="157.3,115.5 162.0,109.7 157.3,112.1 152.6,117.9" fill="rgb(130,250,60)"/>
<polygon points="176.2,100.6 181.0,95.6 176.2,97.1 171.4,102.2" fill="rgb(250,238,80)"/>
<polygon points="254.2,80.5 259.1,79.9 254.2,77.4 249.3,78.2" fill="rgb(250,29,24)"/>
<polygon points="273.6,85.5 278.5,85.8 273.6,82.7 268.8,82.4" fill="rgb(247,67,0)"/>
<polygon points="283.3,89.0 288.1,89.7 283.3,86.5 278.5,85.8" fill="rgb(232,104,0)"/>
<polygon points="302.4,97.5 307.1,98.8 302.4,95.5 297.6,94.1" fill="rgb(210,185,0)"/>
<polygon points="205.2,85.1 210.1,81.6 205.2,81.6 200.3,85.2" fill="rgb(250,128,96)"/>
<polygon points="224.8,80.1 229.7,77.8 224.8,76.7 219.9,79.2" fill="rgb(250,76,76)"/>
<polygon points="138.7,132.9 143.3,126.7 138.8,129.9 134.2,136.0" fill="rgb(45,250,139)"/>
<polygon points="166.7,107.6 171.4,102.2 166.7,104.2 162.0,109.7" fill="rgb(203,250,70)"/>
<polygon points="215.0,82.1 219.9,79.2 215.0,78.6 210.1,81.6" fill="rgb(250,101,90)"/>
<polygon points="263.9,82.6 268.8,82.4 263.9,79.7 259.1,79.9" fill="rgb(250,41,11)"/>
<polygon points="292.9,93.1 297.6,94.1 292.8,90.8 288.1,89.7" fill="rgb(220,144,0)"/>
<polygon points="190.6,93.7 195.5,89.3 190.6,89.9 185.8,94.4" fill="rgb(250,178,96)"/>
<polygon points="239.5,81.0 244.4,79.4 239.5,77.5 234.6,79.2" fill="rgb(250,46,46)"/>
<polygon points="134.2,139.3 138.7,132.9 134.2,136.0 129.6,142.2" fill="rgb(46,250,184)"/>
<polygon points="162.0,113.4 166.7,107.6 162.0,109.7 157.3,115.5" fill="rgb(169,250,70)"/>
<polygon points="181.0,99.4 185.8,94.4 181.0,95.6 176.2,100.6" fill="rgb(250,217,89)"/>
<polygon points="249.3,81.6 254.2,80.5 249.3,78.2 244.4,79.4" fill="rgb(250,34,34)"/>
<polygon points="268.8,85.6 273.6,85.5 268.8,82.4 263.9,82.6" fill="rgb(250,57,8)"/>
<polygon points="297.6,96.6 302.4,97.5 297.6,94.1 292.9,93.1" fill="rgb(221,166,0)"/>
<polygon points="200.3,89.0 205.2,85.1 200.3,85.2 195.5,89.3" fill="rgb(250,148,100)"/>
<polygon points="229.7,81.4 234.6,79.2 229.7,77.8 224.8,80.1" fill="rgb(250,71,71)"/>
<polygon points="143.3,130.2 148.0,123.9 143.3,126.7 138.7,132.9" fill="rgb(52,250,101)"/>
<polygon points="152.6,121.5 157.3,115.5 152.6,117.9 148.0,123.9" fill="rgb(92,250,61)"/>
<polygon points="171.4,106.0 176.2,100.6 171.4,102.2 166.7,107.6" fill="rgb(232,250,80)"/>
<polygon points="210.1,85.4 215.0,82.1 210.1,81.6 205.2,85.1" fill="rgb(250,122,98)"/>
<polygon points="219.9,82.9 224.8,80.1 219.9,79.2 215.0,82.1" fill="rgb(250,95,88)"/>
<polygon points="259.0,83.2 263.9,82.6 259.1,79.9 254.2,80.5" fill="rgb(250,39,21)"/>
<polygon points="278.4,88.7 283.3,89.0 278.5,85.8 273.6,85.5" fill="rgb(245,88,0)"/>
<polygon points="288.1,92.4 292.9,93.1 288.1,89.7 283.3,89.0" fill="rgb(232,126,0)"/>
<polygon points="138.8,136.6 143.3,130.2 138.7,132.9 134.2,139.3" fill="rgb(54,250,145)"/>
<polygon points="166.7,111.6 171.4,106.0 166.7,107.6 162.0,113.4" fill="rgb(200,250,79)"/>
<polygon points="185.8,98.5 190.6,93.7 185.8,94.4 181.0,99.4" fill="rgb(250,202,97)"/>
<polygon points="244.4,83.2 249.3,81.6 244.4,79.4 239.5,81.0" fill="rgb(250,43,43)"/>
<polygon points="263.9,86.1 268.8,85.6 263.9,82.6 259.0,83.2" fill="rgb(250,53,18)"/>
<polygon points="292.9,96.0 297.6,96.6 292.9,93.1 288.1,92.4" fill="rgb(232,149,0)"/>
<polygon points="195.5,93.4 200.3,89.0 195.5,89.3 190.6,93.7" fill="rgb(250,168,102)"/>
<polygon points="234.6,83.1 239.5,81.0 234.6,79.2 229.7,81.4" fill="rgb(250,64,64)"/>
<polygon points="157.3,119.4 162.0,113.4 157.3,115.5 152.6,121.5" fill="rgb(132,250,70)"/>
<polygon points="176.2,104.7 181.0,99.4 176.2,100.6 171.4,106.0" fill="rgb(250,245,88)"/>
<polygon points="205.2,89.2 210.1,85.4 205.2,85.1 200.3,89.0" fill="rgb(250,141,103)"/>
<polygon points="215.0,86.1 219.9,82.9 215.0,82.1 210.1,85.4" fill="rgb(250,116,98)"/>
<polygon points="224.8,84.1 229.7,81.4 224.8,80.1 219.9,82.9" fill="rgb(250,90,85)"/>
<polygon points="254.2,84.2 259.0,83.2 254.2,80.5 249.3,81.6" fill="rgb(250,42,30)"/>
<polygon points="273.6,88.8 278.4,88.7 273.6,85.5 268.8,85.6" fill="rgb(250,75,6)"/>
<polygon points="148.0,127.8 152.6,121.5 148.0,123.9 143.3,130.2" fill="rgb(62,250,71)"/>
<polygon points="283.3,92.1 288.1,92.4 283.3,89.0 278.4,88.7" fill="rgb(243,110,0)"/>
<polygon points="171.5,110.3 176.2,104.7 171.4,106.0 166.7,111.6" fill="rgb(225,250,88)"/>
<polygon points="259.0,87.0 263.9,86.1 259.0,83.2 254.2,84.2" fill="rgb(250,54,27)"/>
<polygon points="143.4,134.3 148.0,127.8 143.3,130.2 138.8,136.6" fill="rgb(63,250,113)"/>
<polygon points="162.0,117.7 166.7,111.6 162.0,113.4 157.3,119.4" fill="rgb(165,250,79)"/>
<polygon points="181.0,103.7 185.8,98.5 181.0,99.4 176.2,104.7" fill="rgb(250,227,96)"/>
<polygon points="190.7,98.1 195.5,93.4 190.6,93.7 185.8,98.5" fill="rgb(250,190,103)"/>
<polygon points="200.4,93.4 205.2,89.2 200.3,89.0 195.5,93.4" fill="rgb(250,160,105)"/>
<polygon points="210.1,89.8 215.0,86.1 210.1,85.4 205.2,89.2" fill="rgb(250,136,105)"/>
<polygon points="219.9,87.2 224.8,84.1 219.9,82.9 215.0,86.1" fill="rgb(250,112,96)"/>
<polygon points="229.7,85.6 234.6,83.1 229.7,81.4 224.8,84.1" fill="rgb(250,86,79)"/>
<polygon points="239.5,85.1 244.4,83.2 239.5,81.0 234.6,83.1" fill="rgb(250,59,55)"/>
<polygon points="249.3,85.6 254.2,84.2 249.3,81.6 244.4,83.2" fill="rgb(250,49,39)"/>
<polygon points="268.7,89.3 273.6,88.8 268.8,85.6 263.9,86.1" fill="rgb(250,70,15)"/>
<polygon points="288.0,95.8 292.9,96.0 288.1,92.4 283.3,92.1" fill="rgb(243,134,0)"/>
<polygon points="152.6,125.7 157.3,119.4 152.6,121.5 148.0,127.8" fill="rgb(94,250,71)"/>
<polygon points="278.4,92.2 283.3,92.1 278.4,88.7 273.6,88.8" fill="rgb(250,97,4)"/>
<polygon points="176.3,109.3 181.0,103.7 176.2,104.7 171.5,110.3" fill="rgb(245,250,96)"/>
<polygon points="254.1,88.4 259.0,87.0 254.2,84.2 249.3,85.6" fill="rgb(250,59,35)"/>
<polygon points="148.0,132.3 152.6,125.7 148.0,127.8 143.4,134.3" fill="rgb(71,250,88)"/>
<polygon points="166.8,116.3 171.5,110.3 166.7,111.6 162.0,117.7" fill="rgb(193,250,87)"/>
<polygon points="205.2,93.9 210.1,89.8 205.2,89.2 200.4,93.4" fill="rgb(250,153,105)"/>
<polygon points="215.0,90.7 219.9,87.2 215.0,86.1 210.1,89.8" fill="rgb(250,132,104)"/>
<polygon points="224.8,88.6 229.7,85.6 224.8,84.1 219.9,87.2" fill="rgb(250,108,92)"/>
<polygon points="263.9,90.2 268.7,89.3 263.9,86.1 259.0,87.0" fill="rgb(250,69,24)"/>
<polygon points="283.2,95.9 288.0,95.8 283.3,92.1 278.4,92.2" fill="rgb(250,122,3)"/>
<polygon points="195.5,98.0 200.4,93.4 195.5,93.4 190.7,98.1" fill="rgb(250,180,105)"/>
<polygon points="234.6,87.6 239.5,85.1 234.6,83.1 229.7,85.6" fill="rgb(250,83,72)"/>
<polygon points="157.3,124.0 162.0,117.7 157.3,119.4 152.6,125.7" fill="rgb(129,250,79)"/>
<polygon points="185.9,103.2 190.7,98.1 185.8,98.5 181.0,103.7" fill="rgb(250,214,103)"/>
<polygon points="244.4,87.5 249.3,85.6 244.4,83.2 239.5,85.1" fill="rgb(250,59,47)"/>
<polygon points="273.6,92.7 278.4,92.2 273.6,88.8 268.7,89.3" fill="rgb(250,90,12)"/>
<polygon points="152.7,130.6 157.3,124.0 152.6,125.7 148.0,132.3" fill="rgb(91,250,79)"/>
<polygon points="171.5,115.3 176.3,109.3 171.5,110.3 166.8,116.3" fill="rgb(214,250,95)"/>
<polygon points="181.1,108.7 185.9,103.2 181.0,103.7 176.3,109.3" fill="rgb(250,240,103)"/>
<polygon points="200.4,98.4 205.2,93.9 200.4,93.4 195.5,98.0" fill="rgb(250,172,105)"/>
<polygon points="210.1,94.7 215.0,90.7 210.1,89.8 205.2,93.9" fill="rgb(250,148,105)"/>
<polygon points="219.9,92.0 224.8,88.6 219.9,87.2 215.0,90.7" fill="rgb(250,129,102)"/>
<polygon points="229.7,90.4 234.6,87.6 229.7,85.6 224.8,88.6" fill="rgb(250,105,87)"/>
<polygon points="249.2,90.2 254.1,88.4 249.3,85.6 244.4,87.5" fill="rgb(250,68,43)"/>
<polygon points="259.0,91.5 263.9,90.2 259.0,87.0 254.1,88.4" fill="rgb(250,72,32)"/>
<polygon points="278.4,96.4 283.2,95.9 278.4,92.2 273.6,92.7" fill="rgb(250,113,11)"/>
<polygon points="162.1,122.6 166.8,116.3 162.0,117.7 157.3,124.0" fill="rgb(158,250,87)"/>
<polygon points="268.7,93.6 273.6,92.7 268.7,89.3 263.9,90.2" fill="rgb(250,87,21)"/>
<polygon points="190.7,103.1 195.5,98.0 190.7,98.1 185.9,103.2" fill="rgb(250,203,105)"/>
<polygon points="239.4,89.9 244.4,87.5 239.5,85.1 234.6,87.6" fill="rgb(250,82,64)"/>
<polygon points="157.4,129.2 162.1,122.6 157.3,124.0 152.7,130.6" fill="rgb(122,250,87)"/>
<polygon points="215.0,95.9 219.9,92.0 215.0,90.7 210.1,94.7" fill="rgb(250,146,105)"/>
<polygon points="273.5,97.3 278.4,96.4 273.6,92.7 268.7,93.6" fill="rgb(250,109,18)"/>
<polygon points="166.8,121.6 171.5,115.3 166.8,116.3 162.1,122.6" fill="rgb(182,250,94)"/>
<polygon points="176.3,114.6 181.1,108.7 176.3,109.3 171.5,115.3" fill="rgb(232,250,102)"/>
<polygon points="185.9,108.5 190.7,103.1 185.9,103.2 181.1,108.7" fill="rgb(250,228,105)"/>
<polygon points="195.5,103.3 200.4,98.4 195.5,98.0 190.7,103.1" fill="rgb(250,194,105)"/>
<polygon points="205.2,99.1 210.1,94.7 205.2,93.9 200.4,98.4" fill="rgb(250,167,105)"/>
<polygon points="224.8,93.8 229.7,90.4 224.8,88.6 219.9,92.0" fill="rgb(250,127,98)"/>
<polygon points="234.5,92.6 239.4,89.9 234.6,87.6 229.7,90.4" fill="rgb(250,105,79)"/>
<polygon points="244.3,92.5 249.2,90.2 244.4,87.5 239.4,89.9" fill="rgb(250,84,56)"/>
<polygon points="254.1,93.3 259.0,91.5 254.1,88.4 249.2,90.2" fill="rgb(250,80,40)"/>
<polygon points="263.8,94.9 268.7,93.6 263.9,90.2 259.0,91.5" fill="rgb(250,89,29)"/>
<polygon points="162.1,128.2 166.8,121.6 162.1,122.6 157.4,129.2" fill="rgb(147,250,94)"/>
<polygon points="190.7,108.7 195.5,103.3 190.7,103.1 185.9,108.5" fill="rgb(250,218,105)"/>
<polygon points="210.1,100.2 215.0,95.9 210.1,94.7 205.2,99.1" fill="rgb(250,164,105)"/>
<polygon points="219.9,97.5 224.8,93.8 219.9,92.0 215.0,95.9" fill="rgb(250,147,105)"/>
<polygon points="239.4,95.2 244.3,92.5 239.4,89.9 234.5,92.6" fill="rgb(250,106,71)"/>
<polygon points="268.6,98.6 273.5,97.3 268.7,93.6 263.8,94.9" fill="rgb(250,109,26)"/>
<polygon points="171.6,120.9 176.3,114.6 171.5,115.3 166.8,121.6" fill="rgb(201,250,101)"/>
<polygon points="181.1,114.3 185.9,108.5 181.1,108.7 176.3,114.6" fill="rgb(245,250,105)"/>
<polygon points="200.4,103.9 205.2,99.1 200.4,98.4 195.5,103.3" fill="rgb(250,188,105)"/>
<polygon points="229.6,95.9 234.5,92.6 229.7,90.4 224.8,93.8" fill="rgb(250,126,92)"/>
<polygon points="249.2,95.5 254.1,93.3 249.2,90.2 244.3,92.5" fill="rgb(250,90,47)"/>
<polygon points="258.9,96.7 263.8,94.9 259.0,91.5 254.1,93.3" fill="rgb(250,95,36)"/>
<polygon points="166.9,127.5 171.6,120.9 166.8,121.6 162.1,128.2" fill="rgb(168,250,100)"/>
<polygon points="185.9,114.4 190.7,108.7 185.9,108.5 181.1,114.3" fill="rgb(250,245,105)"/>
<polygon points="195.6,109.2 200.4,103.9 195.5,103.3 190.7,108.7" fill="rgb(250,211,105)"/>
<polygon points="205.2,105.0 210.1,100.2 205.2,99.1 200.4,103.9" fill="rgb(250,184,105)"/>
<polygon points="215.0,101.7 219.9,97.5 215.0,95.9 210.1,100.2" fill="rgb(250,163,105)"/>
<polygon points="224.7,99.5 229.6,95.9 224.8,93.8 219.9,97.5" fill="rgb(250,148,102)"/>
<polygon points="234.5,98.3 239.4,95.2 234.5,92.6 229.6,95.9" fill="rgb(250,128,85)"/>
<polygon points="244.3,98.1 249.2,95.5 244.3,92.5 239.4,95.2" fill="rgb(250,111,62)"/>
<polygon points="263.8,100.3 268.6,98.6 263.8,94.9 258.9,96.7" fill="rgb(250,114,33)"/>
<polygon points="176.4,120.6 181.1,114.3 176.3,114.6 171.6,120.9" fill="rgb(216,250,105)"/>
<polygon points="254.0,98.8 258.9,96.7 254.1,93.3 249.2,95.5" fill="rgb(250,104,43)"/>
<polygon points="200.4,110.2 205.2,105.0 200.4,103.9 195.6,109.2" fill="rgb(250,206,105)"/>
<polygon points="229.6,101.9 234.5,98.3 229.6,95.9 224.7,99.5" fill="rgb(250,149,96)"/>
<polygon points="171.6,127.2 176.4,120.6 171.6,120.9 166.9,127.5" fill="rgb(184,250,105)"/>
<polygon points="181.2,120.6 185.9,114.4 181.1,114.3 176.4,120.6" fill="rgb(227,250,105)"/>
<polygon points="190.7,114.9 195.6,109.2 190.7,108.7 185.9,114.4" fill="rgb(250,237,105)"/>
<polygon points="210.1,106.4 215.0,101.7 210.1,100.2 205.2,105.0" fill="rgb(250,183,105)"/>
<polygon points="219.9,103.6 224.7,99.5 219.9,97.5 215.0,101.7" fill="rgb(250,166,105)"/>
<polygon points="239.4,101.2 244.3,98.1 239.4,95.2 234.5,98.3" fill="rgb(250,132,76)"/>
<polygon points="249.1,101.4 254.0,98.8 249.2,95.5 244.3,98.1" fill="rgb(250,119,53)"/>
<polygon points="258.9,102.5 263.8,100.3 258.9,96.7 254.0,98.8" fill="rgb(250,121,40)"/>
<polygon points="176.4,127.2 181.2,120.6 176.4,120.6 171.6,127.2" fill="rgb(196,250,105)"/>
<polygon points="195.6,115.8 200.4,110.2 195.6,109.2 190.7,114.9" fill="rgb(250,231,105)"/>
<polygon points="205.3,111.5 210.1,106.4 205.2,105.0 200.4,110.2" fill="rgb(250,204,105)"/>
<polygon points="224.7,105.9 229.6,101.9 224.7,99.5 219.9,103.6" fill="rgb(250,169,104)"/>
<polygon points="234.5,104.7 239.4,101.2 234.5,98.3 229.6,101.9" fill="rgb(250,152,88)"/>
<polygon points="254.0,105.0 258.9,102.5 254.0,98.8 249.1,101.4" fill="rgb(250,132,46)"/>
<polygon points="186.0,121.0 190.7,114.9 185.9,114.4 181.2,120.6" fill="rgb(235,250,105)"/>
<polygon points="215.0,108.2 219.9,103.6 215.0,101.7 210.1,106.4" fill="rgb(250,184,105)"/>
<polygon points="244.2,104.4 249.1,101.4 244.3,98.1 239.4,101.2" fill="rgb(250,139,67)"/>
<polygon points="181.2,127.5 186.0,121.0 181.2,120.6 176.4,127.2" fill="rgb(205,250,105)"/>
<polygon points="190.8,121.8 195.6,115.8 190.7,114.9 186.0,121.0" fill="rgb(241,250,105)"/>
<polygon points="200.4,117.0 205.3,111.5 200.4,110.2 195.6,115.8" fill="rgb(250,229,105)"/>
<polygon points="210.1,113.2 215.0,108.2 210.1,106.4 205.3,111.5" fill="rgb(250,205,105)"/>
<polygon points="219.8,110.4 224.7,105.9 219.9,103.6 215.0,108.2" fill="rgb(250,187,105)"/>
<polygon points="229.6,108.6 234.5,104.7 229.6,101.9 224.7,105.9" fill="rgb(250,173,98)"/>
<polygon points="239.3,107.8 244.2,104.4 239.4,101.2 234.5,104.7" fill="rgb(250,159,80)"/>
<polygon points="249.1,107.9 254.0,105.0 249.1,101.4 244.2,104.4" fill="rgb(250,150,58)"/>
<polygon points="186.0,128.3 190.8,121.8 186.0,121.0 181.2,127.5" fill="rgb(211,250,105)"/>
<polygon points="215.0,115.3 219.8,110.4 215.0,108.2 210.1,113.2" fill="rgb(250,208,105)"/>
<polygon points="244.2,111.3 249.1,107.9 244.2,104.4 239.3,107.8" fill="rgb(250,169,71)"/>
<polygon points="195.6,123.0 200.4,117.0 195.6,115.8 190.8,121.8" fill="rgb(244,250,105)"/>
<polygon points="205.3,118.6 210.1,113.2 205.3,111.5 200.4,117.0" fill="rgb(250,228,105)"/>
<polygon points="224.7,113.0 229.6,108.6 224.7,105.9 219.8,110.4" fill="rgb(250,193,105)"/>
<polygon points="234.4,111.6 239.3,107.8 234.5,104.7 229.6,108.6" fill="rgb(250,179,90)"/>
<polygon points="190.8,129.4 195.6,123.0 190.8,121.8 186.0,128.3" fill="rgb(215,250,105)"/>
<polygon points="210.1,120.7 215.0,115.3 210.1,113.2 205.3,118.6" fill="rgb(250,230,105)"/>
<polygon points="219.8,117.8 224.7,113.0 219.8,110.4 215.0,115.3" fill="rgb(250,213,105)"/>
<polygon points="239.3,115.1 244.2,111.3 239.3,107.8 234.4,111.6" fill="rgb(250,188,81)"/>
<polygon points="200.5,124.6 205.3,118.6 200.4,117.0 195.6,123.0" fill="rgb(246,250,105)"/>
<polygon points="229.5,116.0 234.4,111.6 229.6,108.6 224.7,113.0" fill="rgb(250,200,98)"/>
<polygon points="195.7,130.9 200.5,124.6 195.6,123.0 190.8,129.4" fill="rgb(217,250,105)"/>
<polygon points="205.3,126.5 210.1,120.7 205.3,118.6 200.5,124.6" fill="rgb(244,250,105)"/>
<polygon points="215.0,123.1 219.8,117.8 215.0,115.3 210.1,120.7" fill="rgb(250,235,105)"/>
<polygon points="224.7,120.7 229.5,116.0 224.7,113.0 219.8,117.8" fill="rgb(250,220,105)"/>
<polygon points="234.4,119.3 239.3,115.1 234.4,111.6 229.5,116.0" fill="rgb(250,209,90)"/>
<polygon points="200.5,132.8 205.3,126.5 200.5,124.6 195.7,130.9" fill="rgb(217,250,105)"/>
<polygon points="229.5,124.0 234.4,119.3 229.5,116.0 224.7,120.7" fill="rgb(250,229,98)"/>
<polygon points="210.1,128.9 215.0,123.1 210.1,120.7 205.3,126.5" fill="rgb(241,250,105)"/>
<polygon points="219.8,125.9 224.7,120.7 219.8,117.8 215.0,123.1" fill="rgb(250,242,105)"/>
<polygon points="205.3,135.1 210.1,128.9 205.3,126.5 200.5,132.8" fill="rgb(214,250,105)"/>
<polygon points="224.6,129.2 229.5,124.0 224.7,120.7 219.8,125.9" fill="rgb(249,250,103)"/>
<polygon points="215.0,131.6 219.8,125.9 215.0,123.1 210.1,128.9" fill="rgb(235,250,105)"/>
<polygon points="210.1,137.7 215.0,131.6 210.1,128.9 205.3,135.1" fill="rgb(208,250,105)"/>
<polygon points="219.8,134.8 224.6,129.2 219.8,125.9 215.0,131.6" fill="rgb(226,250,105)"/>
<polygon points="214.9,140.8 219.8,134.8 215.0,131.6 210.1,137.7" fill="rgb(201,250,105)"/>
</g>
<line x1="239.1" y1="53.5" x2="239.1" y2="77.8" stroke="#222" stroke-width="0.6"/>
<rect x="222.0" y="53.7" width="17" height="6.1" fill="#fff" stroke="#222" stroke-width="0.5"/>
<text x="230.5" y="58.2" font-size="3.9" text-anchor="middle" fill="#111" font-family="Liberation Sans, sans-serif">97.2652</text>
<text transform="translate(90.1,133.9) rotate(-90)" font-size="7.0" text-anchor="middle" fill="#2e2e2e" stroke="#2e2e2e" stroke-width="0.1" textLength="30.6" lengthAdjust="spacingAndGlyphs" font-family="Liberation Sans, sans-serif">R% For AT</text>
<text x="133.3" y="235.9" font-size="7.2" text-anchor="middle" fill="#2e2e2e" stroke="#2e2e2e" stroke-width="0.1" textLength="16.8" lengthAdjust="spacingAndGlyphs" font-family="Liberation Sans, sans-serif">B: pH</text>
<text x="297.3" y="235.9" font-size="7.2" text-anchor="middle" fill="#2e2e2e" stroke="#2e2e2e" stroke-width="0.1" textLength="72.7" lengthAdjust="spacingAndGlyphs" font-family="Liberation Sans, sans-serif">A: Drug concentration</text>
</g>
<g id="panel-b">
<text x="2.7" y="260.0" font-size="5.80" fill="#1a1a1a" stroke="#1a1a1a" stroke-width="0.1" font-family="Liberation Sans, sans-serif" >Factor Coding: Actual</text>
<text x="2.7" y="279.0" font-size="5.80" fill="#000" stroke="#000" stroke-width="0.1" font-family="Liberation Sans, sans-serif" font-weight="bold" textLength="28.5" lengthAdjust="spacingAndGlyphs">R% For AT</text>
<rect x="18.3" y="282.4" width="21.6" height="8.6" fill="url(#lg)" stroke="#10104a" stroke-width="0.5"/>
<text x="2.7" y="288.8" font-size="5.60" fill="#2b2b9c" stroke="#2b2b9c" stroke-width="0.1" font-family="Liberation Sans, sans-serif" >60.84</text>
<text x="42.4" y="288.8" font-size="5.60" fill="#c0262c" stroke="#c0262c" stroke-width="0.1" font-family="Liberation Sans, sans-serif" >96.77</text>
<text x="2.7" y="307.0" font-size="5.80" fill="#1a1a1a" stroke="#1a1a1a" stroke-width="0.1" font-family="Liberation Sans, sans-serif" >X1 = B</text>
<text x="2.7" y="316.7" font-size="5.80" fill="#1a1a1a" stroke="#1a1a1a" stroke-width="0.1" font-family="Liberation Sans, sans-serif" >X2 = C</text>
<text x="2.7" y="334.9" font-size="5.70" fill="#000" stroke="#000" stroke-width="0.1" font-family="Liberation Sans, sans-serif" font-weight="bold">Actual Factors</text>
<text x="2.7" y="344.7" font-size="5.80" fill="#1a1a1a" stroke="#1a1a1a" stroke-width="0.1" font-family="Liberation Sans, sans-serif" >A = 0.177871</text>
<text x="2.7" y="354.4" font-size="5.80" fill="#1a1a1a" stroke="#1a1a1a" stroke-width="0.1" font-family="Liberation Sans, sans-serif" >D = 0.628142</text>
<text x="83.5" y="268.1" font-size="8.0" font-weight="bold" fill="#111" text-anchor="middle" font-family="Liberation Sans, sans-serif">(b)</text>
<text x="231.6" y="266.1" font-size="6.3" text-anchor="middle" fill="#2e2e2e" stroke="#2e2e2e" stroke-width="0.12" font-family="Liberation Sans, sans-serif">3D Surface</text>
<polyline points="122.0,418.6 215.4,386.8 309.2,418.6" stroke="#2a2a2a" stroke-width="0.7" fill="none"/>
<polyline points="120.8,394.5 215.4,365.1 310.4,394.4" stroke="#2a2a2a" stroke-width="0.7" fill="none"/>
<polyline points="119.6,370.4 215.4,343.5 311.5,370.3" stroke="#2a2a2a" stroke-width="0.7" fill="none"/>
<polyline points="118.4,346.3 215.4,321.8 312.7,346.2" stroke="#2a2a2a" stroke-width="0.7" fill="none"/>
<polyline points="117.2,322.2 215.4,300.1 313.9,322.1" stroke="#2a2a2a" stroke-width="0.7" fill="none"/>
<line x1="123.5" y1="448.7" x2="117.2" y2="322.2" stroke="#2a2a2a" stroke-width="0.7" fill="none"/>
<line x1="145.3" y1="410.6" x2="141.7" y2="316.7" stroke="#2a2a2a" stroke-width="0.7" fill="none"/>
<line x1="168.7" y1="402.7" x2="166.3" y2="311.1" stroke="#2a2a2a" stroke-width="0.7" fill="none"/>
<line x1="192.1" y1="394.7" x2="190.9" y2="305.6" stroke="#2a2a2a" stroke-width="0.7" fill="none"/>
<line x1="307.7" y1="448.7" x2="313.9" y2="322.1" stroke="#2a2a2a" stroke-width="0.7" fill="none"/>
<line x1="285.7" y1="410.6" x2="289.3" y2="316.6" stroke="#2a2a2a" stroke-width="0.7" fill="none"/>
<line x1="262.3" y1="402.7" x2="264.7" y2="311.1" stroke="#2a2a2a" stroke-width="0.7" fill="none"/>
<line x1="238.9" y1="394.7" x2="240.1" y2="305.6" stroke="#2a2a2a" stroke-width="0.7" fill="none"/>
<line x1="215.4" y1="413.9" x2="215.4" y2="386.8" stroke="#a8a8a8" stroke-width="0.8"/>
<line x1="215.4" y1="386.8" x2="215.4" y2="300.1" stroke="#2a2a2a" stroke-width="0.7" fill="none"/>
<polygon points="123.5,448.7 215.4,413.9 307.7,448.7 215.4,492.6" fill="#5e5e5e" stroke="#151515" stroke-width="0.7"/>
<polyline points="293.2,455.6 293.5,455.1 293.9,454.3 293.9,454.3 294.3,453.5 294.5,453.0 294.6,452.6 295.0,451.8 295.0,451.7 295.3,450.9 295.4,450.6 295.6,450.0 295.7,449.4 295.8,449.1 296.0,448.3 296.0,448.2 296.2,447.3 296.2,447.2 296.4,446.4 296.4,446.2 296.5,445.4 296.5,445.2 296.5,444.5" fill="none" stroke="rgb(38,197,206)" stroke-width="1.5" stroke-linecap="round"/>
<polyline points="273.1,465.2 273.1,465.2 273.8,464.4 274.5,463.7 274.8,463.3 275.2,462.9 275.8,462.2 276.3,461.6 276.5,461.4 277.1,460.7 277.6,460.0 277.7,459.9 278.2,459.1 278.7,458.4 278.8,458.3 279.3,457.5 279.7,457.0 279.8,456.7 280.3,455.9 280.5,455.6 280.8,455.1 281.2,454.3 281.2,454.3 281.6,453.5 281.8,453.0 282.0,452.6 282.4,451.8 282.4,451.7 282.7,450.9 282.8,450.5 283.0,450.0 283.2,449.4 283.2,449.1 283.5,448.3 283.5,448.3 283.7,447.4 283.7,447.2 283.8,446.4 283.9,446.1 283.9,445.5 284.0,445.1 284.0,444.6 284.0,444.1 284.0,443.6 284.1,443.1 284.0,442.7 284.0,442.2 284.0,441.7 284.0,441.3 283.9,440.7 283.8,440.4 283.7,439.7" fill="none" stroke="rgb(38,206,110)" stroke-width="1.5" stroke-linecap="round"/>
<polyline points="207.8,489.0 209.3,488.6 210.8,488.2 210.9,488.2 212.4,487.9 213.8,487.5 215.3,487.1 216.1,486.8 216.7,486.7 218.1,486.2 219.5,485.8 220.9,485.4 222.3,484.9 223.1,484.6 223.6,484.5 224.9,484.0 226.2,483.5 227.5,483.0 228.8,482.5 230.0,482.0 231.2,481.5 232.5,481.0 233.6,480.5 234.8,480.0 236.0,479.4 237.1,478.9 238.3,478.3 239.4,477.8 240.5,477.2 241.6,476.6 242.6,476.0 243.7,475.4 244.7,474.8 245.7,474.2 246.7,473.6 247.6,473.1 247.7,473.0 248.7,472.4 249.6,471.8 250.6,471.1 251.5,470.5 252.4,469.8 252.6,469.7 253.3,469.2 254.2,468.5 255.0,467.9 255.9,467.2 256.0,467.1 256.7,466.5 257.5,465.8 258.3,465.1 258.5,464.9 259.0,464.4 259.8,463.7 260.5,463.0 260.6,462.9 261.2,462.3 261.9,461.5 262.3,461.1 262.5,460.8 263.2,460.0 263.7,459.4 263.8,459.3 264.4,458.5 264.9,457.8 265.0,457.8 265.5,457.0 266.0,456.4 266.1,456.2 266.6,455.4 266.8,455.0 267.0,454.6 267.5,453.8 267.6,453.6 267.9,452.9 268.2,452.3 268.3,452.1 268.7,451.3 268.7,451.1 269.0,450.4 269.2,449.9 269.3,449.6 269.5,448.8 269.6,448.7 269.8,447.8 269.8,447.7 270.0,446.9 270.0,446.6 270.1,446.0 270.2,445.6 270.2,445.0 270.3,444.6 270.3,444.1 270.3,443.6 270.3,443.1 270.3,442.6 270.3,442.2 270.2,441.7 270.2,441.2 270.1,440.8 270.0,440.2 270.0,439.9 269.8,439.1 269.8,439.0 269.6,438.1 269.6,438.1 269.3,437.3 269.2,437.0 269.0,436.5 268.8,435.9 268.7,435.7 268.4,434.9 268.3,434.8 268.0,434.1 267.7,433.6" fill="none" stroke="rgb(71,206,38)" stroke-width="1.5" stroke-linecap="round"/>
<polyline points="193.9,482.3 195.6,482.1 196.5,481.9 197.3,481.8 199.0,481.5 200.3,481.3 200.6,481.2 202.2,480.9 203.8,480.6 204.5,480.4 205.3,480.2 206.8,479.9 208.3,479.5 209.5,479.2 209.8,479.1 211.2,478.7 212.6,478.3 214.0,477.9 215.4,477.5 216.3,477.1 216.7,477.0 218.0,476.6 219.3,476.1 220.6,475.6 221.8,475.1 223.0,474.6 224.2,474.1 225.4,473.6 226.6,473.1 227.7,472.5 228.8,472.0 229.9,471.4 231.0,470.9 232.1,470.3 233.1,469.7 234.1,469.1 235.1,468.5 235.4,468.4 236.1,467.9 237.1,467.3 238.0,466.7 238.9,466.1 239.8,465.4 240.2,465.1 240.7,464.8 241.6,464.1 242.4,463.5 243.2,462.8 243.3,462.7 244.0,462.1 244.8,461.4 245.5,460.7 245.6,460.7 246.2,460.0 246.9,459.3 247.4,458.8 247.6,458.6 248.2,457.9 248.8,457.2 248.9,457.1 249.5,456.4 250.0,455.6 250.0,455.6 250.6,454.8 251.0,454.2 251.1,454.0 251.6,453.2 251.8,452.8 252.0,452.4 252.4,451.6 252.5,451.6 252.8,450.8 253.0,450.3 253.2,449.9 253.5,449.1 253.5,449.1 253.7,448.2 253.8,448.0 254.0,447.3 254.1,446.9 254.2,446.4 254.3,445.9 254.3,445.5 254.4,444.8 254.4,444.6 254.4,443.9 254.4,443.7 254.4,442.9 254.4,442.7 254.4,442.0 254.3,441.7 254.3,441.1 254.2,440.7 254.1,440.2 254.0,439.6 253.9,439.3 253.7,438.6 253.6,438.5 253.4,437.6 253.3,437.5 253.0,436.8 252.8,436.3 252.7,436.0 252.3,435.3 252.2,435.2 251.8,434.5 251.5,434.0 251.4,433.8 250.9,433.1 250.6,432.7 250.3,432.4 249.8,431.7 249.5,431.3 249.2,431.0 248.6,430.3 248.2,429.9 247.9,429.7 247.3,429.0 246.6,428.4 246.5,428.4 245.8,427.8 245.1,427.2 244.4,426.6 244.3,426.6 243.5,426.0 242.7,425.4 241.8,424.9 241.4,424.6 241.0,424.3 240.0,423.8 239.1,423.3 238.2,422.7 237.2,422.2 236.2,421.7 236.0,421.7" fill="none" stroke="rgb(176,206,38)" stroke-width="1.5" stroke-linecap="round"/>
<polyline points="213.1,414.8 213.3,414.8 214.7,415.1 216.2,415.4 217.7,415.7 217.9,415.7 219.2,416.0 220.6,416.3 222.0,416.7 223.3,417.0 224.7,417.4 224.9,417.5" fill="none" stroke="rgb(176,206,38)" stroke-width="1.5" stroke-linecap="round"/>
<polyline points="171.2,471.5 172.1,471.6 173.9,471.7 174.2,471.7 176.3,471.8 176.4,471.8 178.7,471.9 178.7,471.9 180.9,471.9 181.1,471.9 183.0,471.8 183.6,471.8 185.0,471.8 186.4,471.7 186.9,471.6 188.8,471.5 189.3,471.4 190.6,471.3 192.4,471.0 192.6,471.0 194.1,470.8 195.8,470.5 196.4,470.4 197.4,470.2 198.9,469.9 200.4,469.6 200.8,469.5 201.9,469.2 203.4,468.8 204.8,468.4 206.2,468.0 207.1,467.7 207.5,467.6 208.8,467.2 210.1,466.7 211.3,466.2 212.5,465.7 213.7,465.2 214.8,464.7 216.0,464.2 217.1,463.7 218.1,463.1 219.2,462.6 220.2,462.0 220.5,461.8 221.1,461.4 222.1,460.8 223.0,460.2 223.9,459.6 224.8,458.9 224.8,458.9 225.6,458.3 226.4,457.6 227.2,456.9 227.4,456.7 227.9,456.3 228.6,455.6 229.2,455.0 229.3,454.9 229.9,454.1 230.5,453.4 230.5,453.4 231.1,452.6 231.6,451.9 231.6,451.9 232.1,451.1 232.4,450.6 232.5,450.3 232.9,449.5 233.0,449.3 233.3,448.6 233.4,448.2 233.6,447.8 233.8,447.0 233.8,446.9 234.0,446.0 234.0,446.0 234.1,445.1 234.2,444.9 234.2,444.2 234.2,444.0 234.2,443.2 234.2,443.0 234.1,442.2 234.1,442.1 233.9,441.2 233.9,441.2 233.7,440.3 233.6,440.1 233.4,439.5 233.2,439.0 233.1,438.7 232.7,437.9 232.6,437.8 232.2,437.2 231.8,436.6 231.7,436.4 231.2,435.7 230.8,435.2 230.6,435.0 230.0,434.3 229.4,433.7 229.4,433.7 228.7,433.0 227.9,432.4 227.5,432.0 227.2,431.8 226.4,431.2 225.5,430.6 224.6,430.0 224.3,429.8 223.7,429.5 222.7,429.0 221.7,428.4 220.7,427.9 219.6,427.5 218.5,427.0 217.3,426.5 216.1,426.1 214.8,425.7 213.5,425.3 212.2,424.9 211.2,424.7 210.8,424.6 209.4,424.2 207.8,423.9 206.3,423.6 206.2,423.6 204.6,423.3 202.9,423.1 202.6,423.1 201.2,422.9 199.4,422.7 199.3,422.7 197.3,422.5 196.7,422.5 195.3,422.4 194.2,422.4 193.1,422.4" fill="none" stroke="rgb(206,130,38)" stroke-width="1.5" stroke-linecap="round"/>
<polyline points="135.0,454.2 135.0,454.2 134.6,453.3 134.5,453.0 134.4,452.4 134.2,451.9 134.2,451.5 134.1,450.8 134.1,450.6 134.0,449.8 134.0,449.6 134.1,448.8 134.1,448.6 134.2,447.9 134.2,447.6 134.3,447.0 134.5,446.5 134.6,446.1 134.9,445.4 134.9,445.3 135.2,444.5 135.4,444.2" fill="none" stroke="rgb(206,130,38)" stroke-width="1.5" stroke-linecap="round"/>
<circle cx="122.0" cy="418.6" r="0.95" fill="#111"/>
<text x="118.8" y="416.3" font-size="6.2" text-anchor="end" fill="#2e2e2e" stroke="#2e2e2e" stroke-width="0.12" font-family="Liberation Sans, sans-serif">60</text>
<circle cx="120.8" cy="394.5" r="0.95" fill="#111"/>
<text x="117.6" y="392.2" font-size="6.2" text-anchor="end" fill="#2e2e2e" stroke="#2e2e2e" stroke-width="0.12" font-family="Liberation Sans, sans-serif">70</text>
<circle cx="119.6" cy="370.4" r="0.95" fill="#111"/>
<text x="116.4" y="368.1" font-size="6.2" text-anchor="end" fill="#2e2e2e" stroke="#2e2e2e" stroke-width="0.12" font-family="Liberation Sans, sans-serif">80</text>
<circle cx="118.4" cy="346.3" r="0.95" fill="#111"/>
<text x="115.2" y="344.0" font-size="6.2" text-anchor="end" fill="#2e2e2e" stroke="#2e2e2e" stroke-width="0.12" font-family="Liberation Sans, sans-serif">90</text>
<circle cx="117.2" cy="322.2" r="0.95" fill="#111"/>
<text x="114.0" y="319.9" font-size="6.2" text-anchor="end" fill="#2e2e2e" stroke="#2e2e2e" stroke-width="0.12" font-family="Liberation Sans, sans-serif">100</text>
<circle cx="215.4" cy="492.6" r="0.95" fill="#111"/>
<text x="211.8" y="499.1" font-size="6.2" text-anchor="end" fill="#2e2e2e" stroke="#2e2e2e" stroke-width="0.12" font-family="Liberation Sans, sans-serif">-1</text>
<circle cx="215.4" cy="492.6" r="0.95" fill="#111"/>
<text x="219.3" y="499.1" font-size="6.2" text-anchor="start" fill="#2e2e2e" stroke="#2e2e2e" stroke-width="0.12" font-family="Liberation Sans, sans-serif">-1</text>
<circle cx="192.5" cy="481.6" r="0.95" fill="#111"/>
<text x="188.9" y="488.1" font-size="6.2" text-anchor="end" fill="#2e2e2e" stroke="#2e2e2e" stroke-width="0.12" font-family="Liberation Sans, sans-serif">-0.5</text>
<circle cx="238.5" cy="481.6" r="0.95" fill="#111"/>
<text x="242.4" y="488.1" font-size="6.2" text-anchor="start" fill="#2e2e2e" stroke="#2e2e2e" stroke-width="0.12" font-family="Liberation Sans, sans-serif">-0.5</text>
<circle cx="169.5" cy="470.6" r="0.95" fill="#111"/>
<text x="165.9" y="477.1" font-size="6.2" text-anchor="end" fill="#2e2e2e" stroke="#2e2e2e" stroke-width="0.12" font-family="Liberation Sans, sans-serif">0</text>
<circle cx="261.6" cy="470.6" r="0.95" fill="#111"/>
<text x="265.5" y="477.1" font-size="6.2" text-anchor="start" fill="#2e2e2e" stroke="#2e2e2e" stroke-width="0.12" font-family="Liberation Sans, sans-serif">0</text>
<circle cx="146.5" cy="459.7" r="0.95" fill="#111"/>
<text x="142.9" y="466.2" font-size="6.2" text-anchor="end" fill="#2e2e2e" stroke="#2e2e2e" stroke-width="0.12" font-family="Liberation Sans, sans-serif">0.5</text>
<circle cx="284.6" cy="459.7" r="0.95" fill="#111"/>
<text x="288.5" y="466.2" font-size="6.2" text-anchor="start" fill="#2e2e2e" stroke="#2e2e2e" stroke-width="0.12" font-family="Liberation Sans, sans-serif">0.5</text>
<circle cx="123.5" cy="448.7" r="0.95" fill="#111"/>
<text x="119.9" y="455.2" font-size="6.2" text-anchor="end" fill="#2e2e2e" stroke="#2e2e2e" stroke-width="0.12" font-family="Liberation Sans, sans-serif">1</text>
<circle cx="307.7" cy="448.7" r="0.95" fill="#111"/>
<text x="311.6" y="455.2" font-size="6.2" text-anchor="start" fill="#2e2e2e" stroke="#2e2e2e" stroke-width="0.12" font-family="Liberation Sans, sans-serif">1</text>
<g stroke="#181818" stroke-width="0.4" stroke-linejoin="round">
<polygon points="215.5,329.5 220.3,332.0 215.4,331.9 210.6,329.5" fill="rgb(155,181,0)"/>
<polygon points="210.6,327.3 215.5,329.5 210.6,329.5 205.8,327.5" fill="rgb(193,186,0)"/>
<polygon points="220.3,329.9 225.1,332.6 220.3,332.0 215.5,329.5" fill="rgb(162,178,0)"/>
<polygon points="205.7,325.6 210.6,327.3 205.8,327.5 200.9,325.8" fill="rgb(205,165,0)"/>
<polygon points="215.5,327.7 220.3,329.9 215.5,329.5 210.6,327.3" fill="rgb(191,173,0)"/>
<polygon points="225.2,330.8 230.0,333.5 225.1,332.6 220.3,329.9" fill="rgb(165,176,0)"/>
<polygon points="200.9,324.1 205.7,325.6 200.9,325.8 196.0,324.5" fill="rgb(217,144,0)"/>
<polygon points="210.6,325.8 215.5,327.7 210.6,327.3 205.7,325.6" fill="rgb(203,151,0)"/>
<polygon points="220.3,328.4 225.2,330.8 220.3,329.9 215.5,327.7" fill="rgb(188,164,0)"/>
<polygon points="230.0,332.0 234.8,334.9 230.0,333.5 225.2,330.8" fill="rgb(163,173,0)"/>
<polygon points="205.7,324.3 210.6,325.8 205.7,325.6 200.9,324.1" fill="rgb(216,129,0)"/>
<polygon points="215.5,326.4 220.3,328.4 215.5,327.7 210.6,325.8" fill="rgb(201,141,0)"/>
<polygon points="225.2,329.6 230.0,332.0 225.2,330.8 220.3,328.4" fill="rgb(185,159,0)"/>
<polygon points="196.0,323.1 200.9,324.1 196.0,324.5 191.1,323.5" fill="rgb(229,124,0)"/>
<polygon points="234.9,333.8 239.7,336.7 234.8,334.9 230.0,332.0" fill="rgb(158,170,0)"/>
<polygon points="210.6,324.8 215.5,326.4 210.6,325.8 205.7,324.3" fill="rgb(214,118,0)"/>
<polygon points="220.3,327.5 225.2,329.6 220.3,328.4 215.5,326.4" fill="rgb(198,136,0)"/>
<polygon points="191.1,322.4 196.0,323.1 191.1,323.5 186.2,322.9" fill="rgb(241,106,0)"/>
<polygon points="200.8,323.1 205.7,324.3 200.9,324.1 196.0,323.1" fill="rgb(228,108,0)"/>
<polygon points="230.0,331.2 234.9,333.8 230.0,332.0 225.2,329.6" fill="rgb(182,158,0)"/>
<polygon points="239.7,335.9 244.5,338.9 239.7,336.7 234.9,333.8" fill="rgb(150,167,0)"/>
<polygon points="186.2,322.0 191.1,322.4 186.2,322.9 181.3,322.7" fill="rgb(250,90,1)"/>
<polygon points="195.9,322.3 200.8,323.1 196.0,323.1 191.1,322.4" fill="rgb(241,88,0)"/>
<polygon points="205.7,323.6 210.6,324.8 205.7,324.3 200.8,323.1" fill="rgb(227,96,0)"/>
<polygon points="215.5,325.8 220.3,327.5 215.5,326.4 210.6,324.8" fill="rgb(211,112,0)"/>
<polygon points="225.2,329.0 230.0,331.2 225.2,329.6 220.3,327.5" fill="rgb(195,134,0)"/>
<polygon points="234.9,333.3 239.7,335.9 234.9,333.8 230.0,331.2" fill="rgb(179,161,0)"/>
<polygon points="244.5,338.4 249.3,341.5 244.5,338.9 239.7,335.9" fill="rgb(138,164,0)"/>
<polygon points="181.3,322.0 186.2,322.0 181.3,322.7 176.4,322.8" fill="rgb(250,80,9)"/>
<polygon points="191.0,321.9 195.9,322.3 191.1,322.4 186.2,322.0" fill="rgb(250,70,2)"/>
<polygon points="200.8,322.7 205.7,323.6 200.8,323.1 195.9,322.3" fill="rgb(239,74,0)"/>
<polygon points="210.6,324.5 215.5,325.8 210.6,324.8 205.7,323.6" fill="rgb(224,89,0)"/>
<polygon points="220.4,327.2 225.2,329.0 220.3,327.5 215.5,325.8" fill="rgb(208,110,0)"/>
<polygon points="230.1,331.0 234.9,333.3 230.0,331.2 225.2,329.0" fill="rgb(192,137,0)"/>
<polygon points="239.7,335.7 244.5,338.4 239.7,335.9 234.9,333.3" fill="rgb(176,167,0)"/>
<polygon points="249.3,341.4 254.1,344.5 249.3,341.5 244.5,338.4" fill="rgb(124,161,0)"/>
<polygon points="176.4,322.4 181.3,322.0 176.4,322.8 171.5,323.2" fill="rgb(250,73,16)"/>
<polygon points="186.1,321.8 191.0,321.9 186.2,322.0 181.3,322.0" fill="rgb(250,60,10)"/>
<polygon points="195.9,322.1 200.8,322.7 195.9,322.3 191.0,321.9" fill="rgb(250,56,1)"/>
<polygon points="205.7,323.5 210.6,324.5 205.7,323.6 200.8,322.7" fill="rgb(237,66,0)"/>
<polygon points="215.5,325.8 220.4,327.2 215.5,325.8 210.6,324.5" fill="rgb(221,87,0)"/>
<polygon points="225.2,329.1 230.1,331.0 225.2,329.0 220.4,327.2" fill="rgb(204,113,0)"/>
<polygon points="234.9,333.4 239.7,335.7 234.9,333.3 230.1,331.0" fill="rgb(188,143,0)"/>
<polygon points="244.6,338.6 249.3,341.4 244.5,338.4 239.7,335.7" fill="rgb(169,173,0)"/>
<polygon points="254.1,344.7 258.9,347.9 254.1,344.5 249.3,341.4" fill="rgb(107,159,0)"/>
<polygon points="181.2,322.0 186.1,321.8 181.3,322.0 176.4,322.4" fill="rgb(250,54,17)"/>
<polygon points="191.0,322.0 195.9,322.1 191.0,321.9 186.1,321.8" fill="rgb(250,45,10)"/>
<polygon points="200.8,322.9 205.7,323.5 200.8,322.7 195.9,322.1" fill="rgb(250,46,0)"/>
<polygon points="230.1,331.5 234.9,333.4 230.1,331.0 225.2,329.1" fill="rgb(201,120,0)"/>
<polygon points="239.8,336.2 244.6,338.6 239.7,335.7 234.9,333.4" fill="rgb(185,153,0)"/>
<polygon points="249.4,341.9 254.1,344.7 249.3,341.4 244.6,338.6" fill="rgb(151,170,0)"/>
<polygon points="171.5,323.0 176.4,322.4 171.5,323.2 166.6,323.9" fill="rgb(250,71,22)"/>
<polygon points="210.6,324.8 215.5,325.8 210.6,324.5 205.7,323.5" fill="rgb(234,64,0)"/>
<polygon points="220.4,327.6 225.2,329.1 220.4,327.2 215.5,325.8" fill="rgb(218,89,0)"/>
<polygon points="258.9,348.5 263.6,351.7 258.9,347.9 254.1,344.7" fill="rgb(88,156,0)"/>
<polygon points="186.1,322.1 191.0,322.0 186.1,321.8 181.2,322.0" fill="rgb(250,39,18)"/>
<polygon points="195.9,322.6 200.8,322.9 195.9,322.1 191.0,322.0" fill="rgb(250,34,9)"/>
<polygon points="235.0,334.2 239.8,336.2 234.9,333.4 230.1,331.5" fill="rgb(197,130,0)"/>
<polygon points="244.6,339.5 249.4,341.9 244.6,338.6 239.8,336.2" fill="rgb(181,166,0)"/>
<polygon points="166.6,324.0 171.5,323.0 166.6,323.9 161.7,325.0" fill="rgb(250,72,28)"/>
<polygon points="176.3,322.6 181.2,322.0 176.4,322.4 171.5,323.0" fill="rgb(250,51,24)"/>
<polygon points="205.7,324.1 210.6,324.8 205.7,323.5 200.8,322.9" fill="rgb(247,42,0)"/>
<polygon points="215.5,326.5 220.4,327.6 215.5,325.8 210.6,324.8" fill="rgb(231,66,0)"/>
<polygon points="225.2,329.9 230.1,331.5 225.2,329.1 220.4,327.6" fill="rgb(214,96,0)"/>
<polygon points="254.2,345.7 258.9,348.5 254.1,344.7 249.4,341.9" fill="rgb(130,167,0)"/>
<polygon points="263.7,352.7 268.4,355.9 263.6,351.7 258.9,348.5" fill="rgb(67,154,0)"/>
<polygon points="191.0,322.7 195.9,322.6 191.0,322.0 186.1,322.1" fill="rgb(250,28,18)"/>
<polygon points="239.8,337.4 244.6,339.5 239.8,336.2 235.0,334.2" fill="rgb(193,143,0)"/>
<polygon points="181.2,322.7 186.1,322.1 181.2,322.0 176.3,322.6" fill="rgb(250,37,25)"/>
<polygon points="200.8,323.7 205.7,324.1 200.8,322.9 195.9,322.6" fill="rgb(250,29,7)"/>
<polygon points="210.6,325.7 215.5,326.5 210.6,324.8 205.7,324.1" fill="rgb(244,44,0)"/>
<polygon points="220.4,328.7 225.2,329.9 220.4,327.6 215.5,326.5" fill="rgb(227,73,0)"/>
<polygon points="230.1,332.6 235.0,334.2 230.1,331.5 225.2,329.9" fill="rgb(209,106,0)"/>
<polygon points="249.4,343.2 254.2,345.7 249.4,341.9 244.6,339.5" fill="rgb(174,178,0)"/>
<polygon points="161.7,325.3 166.6,324.0 161.7,325.0 156.9,326.3" fill="rgb(250,76,33)"/>
<polygon points="171.4,323.5 176.3,322.6 171.5,323.0 166.6,324.0" fill="rgb(250,53,31)"/>
<polygon points="259.0,349.8 263.7,352.7 258.9,348.5 254.2,345.7" fill="rgb(107,164,0)"/>
<polygon points="268.4,357.2 273.1,360.5 268.4,355.9 263.7,352.7" fill="rgb(44,152,0)"/>
<polygon points="156.8,327.0 161.7,325.3 156.9,326.3 152.0,328.0" fill="rgb(250,83,38)"/>
<polygon points="166.5,324.8 171.4,323.5 166.6,324.0 161.7,325.3" fill="rgb(250,57,36)"/>
<polygon points="176.3,323.5 181.2,322.7 176.3,322.6 171.4,323.5" fill="rgb(250,38,32)"/>
<polygon points="186.1,323.2 191.0,322.7 186.1,322.1 181.2,322.7" fill="rgb(250,26,25)"/>
<polygon points="195.9,323.8 200.8,323.7 195.9,322.6 191.0,322.7" fill="rgb(250,22,16)"/>
<polygon points="205.7,325.3 210.6,325.7 205.7,324.1 200.8,323.7" fill="rgb(250,28,5)"/>
<polygon points="215.5,327.8 220.4,328.7 215.5,326.5 210.6,325.7" fill="rgb(239,51,0)"/>
<polygon points="225.2,331.3 230.1,332.6 225.2,329.9 220.4,328.7" fill="rgb(222,84,0)"/>
<polygon points="235.0,335.7 239.8,337.4 235.0,334.2 230.1,332.6" fill="rgb(205,121,0)"/>
<polygon points="244.6,341.1 249.4,343.2 244.6,339.5 239.8,337.4" fill="rgb(189,160,0)"/>
<polygon points="254.2,347.3 259.0,349.8 254.2,345.7 249.4,343.2" fill="rgb(149,175,0)"/>
<polygon points="263.7,354.3 268.4,357.2 263.7,352.7 259.0,349.8" fill="rgb(82,162,0)"/>
<polygon points="273.1,362.2 277.8,365.4 273.1,360.5 268.4,357.2" fill="rgb(19,151,0)"/>
<polygon points="200.8,325.3 205.7,325.3 200.8,323.7 195.9,323.8" fill="rgb(250,20,14)"/>
<polygon points="210.6,327.3 215.5,327.8 210.6,325.7 205.7,325.3" fill="rgb(250,32,2)"/>
<polygon points="220.4,330.4 225.2,331.3 220.4,328.7 215.5,327.8" fill="rgb(235,62,0)"/>
<polygon points="230.1,334.4 235.0,335.7 230.1,332.6 225.2,331.3" fill="rgb(217,99,0)"/>
<polygon points="152.0,328.9 156.8,327.0 152.0,328.0 147.2,330.0" fill="rgb(250,93,42)"/>
<polygon points="161.7,326.4 166.5,324.8 161.7,325.3 156.8,327.0" fill="rgb(250,64,41)"/>
<polygon points="171.4,324.7 176.3,323.5 171.4,323.5 166.5,324.8" fill="rgb(250,43,38)"/>
<polygon points="181.2,324.0 186.1,323.2 181.2,322.7 176.3,323.5" fill="rgb(250,33,33)"/>
<polygon points="191.0,324.1 195.9,323.8 191.0,322.7 186.1,323.2" fill="rgb(250,24,24)"/>
<polygon points="239.8,339.3 244.6,341.1 239.8,337.4 235.0,335.7" fill="rgb(201,138,0)"/>
<polygon points="249.4,345.1 254.2,347.3 249.4,343.2 244.6,341.1" fill="rgb(185,180,0)"/>
<polygon points="259.0,351.8 263.7,354.3 259.0,349.8 254.2,347.3" fill="rgb(122,172,0)"/>
<polygon points="268.4,359.3 273.1,362.2 268.4,357.2 263.7,354.3" fill="rgb(55,160,0)"/>
<polygon points="277.8,367.5 282.4,370.7 277.8,365.4 273.1,362.2" fill="rgb(0,149,8)"/>
<polygon points="156.8,328.3 161.7,326.4 156.8,327.0 152.0,328.9" fill="rgb(250,74,45)"/>
<polygon points="166.5,326.3 171.4,324.7 166.5,324.8 161.7,326.4" fill="rgb(250,50,43)"/>
<polygon points="176.3,325.1 181.2,324.0 176.3,323.5 171.4,324.7" fill="rgb(250,39,39)"/>
<polygon points="205.7,327.2 210.6,327.3 205.7,325.3 200.8,325.3" fill="rgb(250,23,11)"/>
<polygon points="215.5,329.8 220.4,330.4 215.5,327.8 210.6,327.3" fill="rgb(247,42,0)"/>
<polygon points="225.3,333.4 230.1,334.4 225.2,331.3 220.4,330.4" fill="rgb(230,77,0)"/>
<polygon points="254.2,349.6 259.0,351.8 254.2,347.3 249.4,345.1" fill="rgb(162,182,0)"/>
<polygon points="263.7,356.7 268.4,359.3 263.7,354.3 259.0,351.8" fill="rgb(93,169,0)"/>
<polygon points="273.1,364.6 277.8,367.5 273.1,362.2 268.4,359.3" fill="rgb(26,158,0)"/>
<polygon points="147.1,331.1 152.0,328.9 147.2,330.0 142.3,332.2" fill="rgb(250,104,45)"/>
<polygon points="195.9,325.6 200.8,325.3 195.9,323.8 191.0,324.1" fill="rgb(250,23,23)"/>
<polygon points="235.0,337.9 239.8,339.3 235.0,335.7 230.1,334.4" fill="rgb(213,117,0)"/>
<polygon points="282.4,373.2 287.0,376.3 282.4,370.7 277.8,367.5" fill="rgb(0,148,37)"/>
<polygon points="186.1,324.9 191.0,324.1 186.1,323.2 181.2,324.0" fill="rgb(250,32,32)"/>
<polygon points="244.6,343.3 249.4,345.1 244.6,341.1 239.8,339.3" fill="rgb(197,159,0)"/>
<polygon points="210.6,329.7 215.5,329.8 210.6,327.3 205.7,327.2" fill="rgb(250,30,7)"/>
<polygon points="220.4,332.8 225.3,333.4 220.4,330.4 215.5,329.8" fill="rgb(242,58,0)"/>
<polygon points="161.6,328.1 166.5,326.3 161.7,326.4 156.8,328.3" fill="rgb(250,61,50)"/>
<polygon points="171.4,326.6 176.3,325.1 171.4,324.7 166.5,326.3" fill="rgb(250,45,45)"/>
<polygon points="259.0,354.5 263.7,356.7 259.0,351.8 254.2,349.6" fill="rgb(131,179,0)"/>
<polygon points="268.4,362.0 273.1,364.6 268.4,359.3 263.7,356.7" fill="rgb(62,167,0)"/>
<polygon points="151.9,330.5 156.8,328.3 152.0,328.9 147.1,331.1" fill="rgb(250,88,53)"/>
<polygon points="200.8,327.5 205.7,327.2 200.8,325.3 195.9,325.6" fill="rgb(250,20,20)"/>
<polygon points="230.1,336.9 235.0,337.9 230.1,334.4 225.3,333.4" fill="rgb(225,97,0)"/>
<polygon points="277.8,370.3 282.4,373.2 277.8,367.5 273.1,364.6" fill="rgb(0,156,4)"/>
<polygon points="181.2,326.0 186.1,324.9 181.2,324.0 176.3,325.1" fill="rgb(250,39,39)"/>
<polygon points="191.0,326.2 195.9,325.6 191.0,324.1 186.1,324.9" fill="rgb(250,31,31)"/>
<polygon points="239.8,341.9 244.6,343.3 239.8,339.3 235.0,337.9" fill="rgb(208,139,0)"/>
<polygon points="249.4,347.8 254.2,349.6 249.4,345.1 244.6,343.3" fill="rgb(193,182,0)"/>
<polygon points="142.3,333.6 147.1,331.1 142.3,332.2 137.5,334.7" fill="rgb(250,119,51)"/>
<polygon points="287.0,379.2 291.6,382.3 287.0,376.3 282.4,373.2" fill="rgb(0,148,68)"/>
<polygon points="215.5,332.6 220.4,332.8 215.5,329.8 210.6,329.7" fill="rgb(250,42,3)"/>
<polygon points="166.5,328.4 171.4,326.6 166.5,326.3 161.6,328.1" fill="rgb(250,55,55)"/>
<polygon points="263.7,359.9 268.4,362.0 263.7,356.7 259.0,354.5" fill="rgb(98,176,0)"/>
<polygon points="137.5,336.4 142.3,333.6 137.5,334.7 132.7,337.5" fill="rgb(250,137,58)"/>
<polygon points="156.8,330.3 161.6,328.1 156.8,328.3 151.9,330.5" fill="rgb(250,79,61)"/>
<polygon points="205.7,329.9 210.6,329.7 205.7,327.2 200.8,327.5" fill="rgb(250,24,16)"/>
<polygon points="225.3,336.2 230.1,336.9 225.3,333.4 220.4,332.8" fill="rgb(237,78,0)"/>
<polygon points="273.1,367.8 277.8,370.3 273.1,364.6 268.4,362.0" fill="rgb(29,165,0)"/>
<polygon points="291.6,385.6 296.2,388.7 291.6,382.3 287.0,379.2" fill="rgb(0,147,101)"/>
<polygon points="176.3,327.4 181.2,326.0 176.3,325.1 171.4,326.6" fill="rgb(250,45,45)"/>
<polygon points="186.1,327.3 191.0,326.2 186.1,324.9 181.2,326.0" fill="rgb(250,38,38)"/>
<polygon points="195.9,328.1 200.8,327.5 195.9,325.6 191.0,326.2" fill="rgb(250,28,28)"/>
<polygon points="235.0,340.8 239.8,341.9 235.0,337.9 230.1,336.9" fill="rgb(219,119,0)"/>
<polygon points="244.6,346.3 249.4,347.8 244.6,343.3 239.8,341.9" fill="rgb(203,163,0)"/>
<polygon points="254.2,352.7 259.0,354.5 254.2,349.6 249.4,347.8" fill="rgb(169,189,0)"/>
<polygon points="147.1,333.0 151.9,330.5 147.1,331.1 142.3,333.6" fill="rgb(250,106,61)"/>
<polygon points="282.4,376.4 287.0,379.2 282.4,373.2 277.8,370.3" fill="rgb(0,155,37)"/>
<polygon points="142.3,335.8 147.1,333.0 142.3,333.6 137.5,336.4" fill="rgb(250,124,68)"/>
<polygon points="161.6,330.5 166.5,328.4 161.6,328.1 156.8,330.3" fill="rgb(250,72,66)"/>
<polygon points="210.6,332.7 215.5,332.6 210.6,329.7 205.7,329.9" fill="rgb(250,35,12)"/>
<polygon points="220.4,335.9 225.3,336.2 220.4,332.8 215.5,332.6" fill="rgb(248,61,0)"/>
<polygon points="268.4,365.6 273.1,367.8 268.4,362.0 263.7,359.9" fill="rgb(62,173,0)"/>
<polygon points="287.0,382.9 291.6,385.6 287.0,379.2 282.4,376.4" fill="rgb(0,154,72)"/>
<polygon points="171.4,329.1 176.3,327.4 171.4,326.6 166.5,328.4" fill="rgb(250,57,57)"/>
<polygon points="181.2,328.6 186.1,327.3 181.2,326.0 176.3,327.4" fill="rgb(250,44,44)"/>
<polygon points="191.0,329.0 195.9,328.1 191.0,326.2 186.1,327.3" fill="rgb(250,36,36)"/>
<polygon points="200.8,330.4 205.7,329.9 200.8,327.5 195.9,328.1" fill="rgb(250,25,25)"/>
<polygon points="230.1,340.1 235.0,340.8 230.1,336.9 225.3,336.2" fill="rgb(231,101,0)"/>
<polygon points="239.8,345.2 244.6,346.3 239.8,341.9 235.0,340.8" fill="rgb(214,145,0)"/>
<polygon points="249.4,351.2 254.2,352.7 249.4,347.8 244.6,346.3" fill="rgb(199,191,0)"/>
<polygon points="259.0,358.0 263.7,359.9 259.0,354.5 254.2,352.7" fill="rgb(134,185,0)"/>
<polygon points="132.7,339.5 137.5,336.4 132.7,337.5 127.9,340.6" fill="rgb(250,156,64)"/>
<polygon points="151.9,332.8 156.8,330.3 151.9,330.5 147.1,333.0" fill="rgb(250,96,69)"/>
<polygon points="277.8,373.9 282.4,376.4 277.8,370.3 273.1,367.8" fill="rgb(0,163,6)"/>
<polygon points="296.2,392.4 300.7,395.3 296.2,388.7 291.6,385.6" fill="rgb(0,147,135)"/>
<polygon points="147.1,335.6 151.9,332.8 147.1,333.0 142.3,335.8" fill="rgb(250,114,77)"/>
<polygon points="282.4,380.4 287.0,382.9 282.4,376.4 277.8,373.9" fill="rgb(0,162,42)"/>
<polygon points="176.3,330.4 181.2,328.6 176.3,327.4 171.4,329.1" fill="rgb(250,55,55)"/>
<polygon points="186.1,330.4 191.0,329.0 186.1,327.3 181.2,328.6" fill="rgb(250,42,42)"/>
<polygon points="195.9,331.3 200.8,330.4 195.9,328.1 191.0,329.0" fill="rgb(250,32,32)"/>
<polygon points="205.7,333.2 210.6,332.7 205.7,329.9 200.8,330.4" fill="rgb(250,33,20)"/>
<polygon points="225.3,339.8 230.1,340.1 225.3,336.2 220.4,335.9" fill="rgb(242,85,0)"/>
<polygon points="235.0,344.5 239.8,345.2 235.0,340.8 230.1,340.1" fill="rgb(225,128,0)"/>
<polygon points="244.6,350.0 249.4,351.2 244.6,346.3 239.8,345.2" fill="rgb(209,174,0)"/>
<polygon points="254.2,356.5 259.0,358.0 254.2,352.7 249.4,351.2" fill="rgb(169,195,0)"/>
<polygon points="137.5,338.9 142.3,335.8 137.5,336.4 132.7,339.5" fill="rgb(250,142,75)"/>
<polygon points="156.8,333.0 161.6,330.5 156.8,330.3 151.9,332.8" fill="rgb(250,90,76)"/>
<polygon points="166.5,331.2 171.4,329.1 166.5,328.4 161.6,330.5" fill="rgb(250,69,69)"/>
<polygon points="215.5,336.0 220.4,335.9 215.5,332.6 210.6,332.7" fill="rgb(250,51,8)"/>
<polygon points="263.7,363.7 268.4,365.6 263.7,359.9 259.0,358.0" fill="rgb(96,182,0)"/>
<polygon points="273.1,371.7 277.8,373.9 273.1,367.8 268.4,365.6" fill="rgb(26,171,0)"/>
<polygon points="291.6,389.7 296.2,392.4 291.6,385.6 287.0,382.9" fill="rgb(0,154,108)"/>
<polygon points="127.9,342.9 132.7,339.5 127.9,340.6 123.2,343.9" fill="rgb(250,176,70)"/>
<polygon points="300.7,399.5 305.2,402.3 300.7,395.3 296.2,392.4" fill="rgb(0,122,147)"/>
<polygon points="151.9,335.8 156.8,333.0 151.9,332.8 147.1,335.6" fill="rgb(250,109,84)"/>
<polygon points="277.7,378.3 282.4,380.4 277.8,373.9 273.1,371.7" fill="rgb(0,169,13)"/>
<polygon points="181.2,332.0 186.1,330.4 181.2,328.6 176.3,330.4" fill="rgb(250,51,51)"/>
<polygon points="191.0,332.6 195.9,331.3 191.0,329.0 186.1,330.4" fill="rgb(250,40,40)"/>
<polygon points="200.8,334.0 205.7,333.2 200.8,330.4 195.9,331.3" fill="rgb(250,34,28)"/>
<polygon points="230.1,344.1 235.0,344.5 230.1,340.1 225.3,339.8" fill="rgb(236,113,0)"/>
<polygon points="239.8,349.3 244.6,350.0 239.8,345.2 235.0,344.5" fill="rgb(220,158,0)"/>
<polygon points="249.4,355.3 254.2,356.5 249.4,351.2 244.6,350.0" fill="rgb(204,205,0)"/>
<polygon points="123.1,346.5 127.9,342.9 123.2,343.9 118.4,347.5" fill="rgb(250,196,75)"/>
<polygon points="142.3,338.7 147.1,335.6 142.3,335.8 137.5,338.9" fill="rgb(250,133,84)"/>
<polygon points="171.4,332.4 176.3,330.4 171.4,329.1 166.5,331.2" fill="rgb(250,68,68)"/>
<polygon points="258.9,362.2 263.7,363.7 259.0,358.0 254.2,356.5" fill="rgb(129,191,0)"/>
<polygon points="287.0,387.3 291.6,389.7 287.0,382.9 282.4,380.4" fill="rgb(0,161,81)"/>
<polygon points="305.1,406.9 309.6,409.6 305.2,402.3 300.7,399.5" fill="rgb(0,83,148)"/>
<polygon points="210.6,336.4 215.5,336.0 210.6,332.7 205.7,333.2" fill="rgb(250,47,16)"/>
<polygon points="220.4,339.8 225.3,339.8 220.4,335.9 215.5,336.0" fill="rgb(250,73,3)"/>
<polygon points="132.7,342.2 137.5,338.9 132.7,339.5 127.9,342.9" fill="rgb(250,161,80)"/>
<polygon points="161.6,333.7 166.5,331.2 161.6,330.5 156.8,333.0" fill="rgb(250,86,79)"/>
<polygon points="268.4,369.9 273.1,371.7 268.4,365.6 263.7,363.7" fill="rgb(57,179,0)"/>
<polygon points="296.1,396.9 300.7,399.5 296.2,392.4 291.6,389.7" fill="rgb(0,154,147)"/>
<polygon points="186.1,334.2 191.0,332.6 186.1,330.4 181.2,332.0" fill="rgb(250,46,46)"/>
<polygon points="195.9,335.2 200.8,334.0 195.9,331.3 191.0,332.6" fill="rgb(250,39,36)"/>
<polygon points="234.9,348.8 239.8,349.3 235.0,344.5 230.1,344.1" fill="rgb(230,144,0)"/>
<polygon points="244.6,354.5 249.4,355.3 244.6,350.0 239.8,349.3" fill="rgb(215,191,0)"/>
<polygon points="127.9,345.9 132.7,342.2 127.9,342.9 123.1,346.5" fill="rgb(250,181,85)"/>
<polygon points="147.1,338.9 151.9,335.8 147.1,335.6 142.3,338.7" fill="rgb(250,127,90)"/>
<polygon points="156.8,336.4 161.6,333.7 156.8,333.0 151.9,335.8" fill="rgb(250,105,88)"/>
<polygon points="176.3,334.1 181.2,332.0 176.3,330.4 171.4,332.4" fill="rgb(250,65,65)"/>
<polygon points="254.2,361.1 258.9,362.2 254.2,356.5 249.4,355.3" fill="rgb(162,200,0)"/>
<polygon points="273.1,376.5 277.7,378.3 273.1,371.7 268.4,369.9" fill="rgb(16,177,0)"/>
<polygon points="282.3,385.2 287.0,387.3 282.4,380.4 277.7,378.3" fill="rgb(0,168,54)"/>
<polygon points="300.6,404.4 305.1,406.9 300.7,399.5 296.1,396.9" fill="rgb(0,119,154)"/>
<polygon points="205.7,337.2 210.6,336.4 205.7,333.2 200.8,334.0" fill="rgb(250,47,24)"/>
<polygon points="225.2,344.0 230.1,344.1 225.3,339.8 220.4,339.8" fill="rgb(247,101,0)"/>
<polygon points="137.5,342.0 142.3,338.7 137.5,338.9 132.7,342.2" fill="rgb(250,152,89)"/>
<polygon points="166.5,334.8 171.4,332.4 166.5,331.2 161.6,333.7" fill="rgb(250,83,80)"/>
<polygon points="215.5,340.2 220.4,339.8 215.5,336.0 210.6,336.4" fill="rgb(250,66,11)"/>
<polygon points="263.7,368.4 268.4,369.9 263.7,363.7 258.9,362.2" fill="rgb(88,188,0)"/>
<polygon points="291.5,394.6 296.1,396.9 291.6,389.7 287.0,387.3" fill="rgb(0,160,121)"/>
<polygon points="191.0,336.8 195.9,335.2 191.0,332.6 186.1,334.2" fill="rgb(250,47,42)"/>
<polygon points="239.8,354.1 244.6,354.5 239.8,349.3 234.9,348.8" fill="rgb(225,178,0)"/>
<polygon points="132.7,345.7 137.5,342.0 132.7,342.2 127.9,345.9" fill="rgb(250,171,94)"/>
<polygon points="161.7,337.6 166.5,334.8 161.6,333.7 156.8,336.4" fill="rgb(250,102,89)"/>
<polygon points="181.2,336.2 186.1,334.2 181.2,332.0 176.3,334.1" fill="rgb(250,59,59)"/>
<polygon points="249.4,360.2 254.2,361.1 249.4,355.3 244.6,354.5" fill="rgb(194,210,0)"/>
<polygon points="268.3,375.0 273.1,376.5 268.4,369.9 263.7,368.4" fill="rgb(45,185,0)"/>
<polygon points="296.0,402.2 300.6,404.4 296.1,396.9 291.5,394.6" fill="rgb(0,155,159)"/>
<polygon points="200.8,338.4 205.7,337.2 200.8,334.0 195.9,335.2" fill="rgb(250,50,31)"/>
<polygon points="230.1,348.8 234.9,348.8 230.1,344.1 225.2,344.0" fill="rgb(241,133,0)"/>
<polygon points="142.3,342.3 147.1,338.9 142.3,338.7 137.5,342.0" fill="rgb(250,145,96)"/>
<polygon points="152.0,339.5 156.8,336.4 151.9,335.8 147.1,338.9" fill="rgb(250,123,95)"/>
<polygon points="171.4,336.4 176.3,334.1 171.4,332.4 166.5,334.8" fill="rgb(250,80,77)"/>
<polygon points="210.6,340.9 215.5,340.2 210.6,336.4 205.7,337.2" fill="rgb(250,65,19)"/>
<polygon points="220.4,344.4 225.2,344.0 220.4,339.8 215.5,340.2" fill="rgb(250,92,6)"/>
<polygon points="258.9,367.2 263.7,368.4 258.9,362.2 254.2,361.1" fill="rgb(118,197,0)"/>
<polygon points="277.7,383.5 282.3,385.2 277.7,378.3 273.1,376.5" fill="rgb(0,175,27)"/>
<polygon points="286.9,392.6 291.5,394.6 287.0,387.3 282.3,385.2" fill="rgb(0,166,96)"/>
<polygon points="137.5,346.0 142.3,342.3 137.5,342.0 132.7,345.7" fill="rgb(250,164,101)"/>
<polygon points="166.6,339.1 171.4,336.4 166.5,334.8 161.7,337.6" fill="rgb(250,100,87)"/>
<polygon points="186.1,338.7 191.0,336.8 186.1,334.2 181.2,336.2" fill="rgb(250,59,51)"/>
<polygon points="244.6,359.8 249.4,360.2 244.6,354.5 239.8,354.1" fill="rgb(219,214,0)"/>
<polygon points="263.6,373.9 268.3,375.0 263.7,368.4 258.9,367.2" fill="rgb(72,193,0)"/>
<polygon points="291.4,400.3 296.0,402.2 291.5,394.6 286.9,392.6" fill="rgb(0,165,141)"/>
<polygon points="195.9,339.9 200.8,338.4 195.9,335.2 191.0,336.8" fill="rgb(250,57,38)"/>
<polygon points="234.9,354.0 239.8,354.1 234.9,348.8 230.1,348.8" fill="rgb(234,168,0)"/>
<polygon points="156.8,340.6 161.7,337.6 156.8,336.4 152.0,339.5" fill="rgb(250,120,97)"/>
<polygon points="176.3,338.5 181.2,336.2 176.3,334.1 171.4,336.4" fill="rgb(250,79,72)"/>
<polygon points="205.7,342.0 210.6,340.9 205.7,337.2 200.8,338.4" fill="rgb(250,67,26)"/>
<polygon points="215.5,345.1 220.4,344.4 215.5,340.2 210.6,340.9" fill="rgb(250,88,14)"/>
<polygon points="225.2,349.1 230.1,348.8 225.2,344.0 220.4,344.4" fill="rgb(250,124,1)"/>
<polygon points="254.1,366.4 258.9,367.2 254.2,361.1 249.4,360.2" fill="rgb(147,205,0)"/>
<polygon points="273.0,382.0 277.7,383.5 273.1,376.5 268.3,375.0" fill="rgb(0,182,0)"/>
<polygon points="147.1,342.9 152.0,339.5 147.1,338.9 142.3,342.3" fill="rgb(250,141,101)"/>
<polygon points="282.3,390.9 286.9,392.6 282.3,385.2 277.7,383.5" fill="rgb(0,173,71)"/>
<polygon points="171.5,341.2 176.3,338.5 171.4,336.4 166.6,339.1" fill="rgb(250,99,83)"/>
<polygon points="258.8,373.1 263.6,373.9 258.9,367.2 254.1,366.4" fill="rgb(99,201,0)"/>
<polygon points="142.4,346.6 147.1,342.9 142.3,342.3 137.5,346.0" fill="rgb(250,159,105)"/>
<polygon points="161.7,342.2 166.6,339.1 161.7,337.6 156.8,340.6" fill="rgb(250,119,96)"/>
<polygon points="181.2,341.0 186.1,338.7 181.2,336.2 176.3,338.5" fill="rgb(250,79,64)"/>
<polygon points="191.0,341.8 195.9,339.9 191.0,336.8 186.1,338.7" fill="rgb(250,66,44)"/>
<polygon points="200.8,343.5 205.7,342.0 200.8,338.4 195.9,339.9" fill="rgb(250,72,33)"/>
<polygon points="210.6,346.2 215.5,345.1 210.6,340.9 205.7,342.0" fill="rgb(250,88,21)"/>
<polygon points="220.4,349.7 225.2,349.1 220.4,344.4 215.5,345.1" fill="rgb(250,118,8)"/>
<polygon points="230.1,354.3 234.9,354.0 230.1,348.8 225.2,349.1" fill="rgb(244,160,0)"/>
<polygon points="239.7,359.7 244.6,359.8 239.8,354.1 234.9,354.0" fill="rgb(228,205,0)"/>
<polygon points="249.3,366.0 254.1,366.4 249.4,360.2 244.6,359.8" fill="rgb(175,214,0)"/>
<polygon points="268.3,380.9 273.0,382.0 268.3,375.0 263.6,373.9" fill="rgb(25,190,0)"/>
<polygon points="286.8,398.7 291.4,400.3 286.9,392.6 282.3,390.9" fill="rgb(0,172,118)"/>
<polygon points="152.0,344.0 156.8,340.6 152.0,339.5 147.1,342.9" fill="rgb(250,139,103)"/>
<polygon points="277.6,389.5 282.3,390.9 277.7,383.5 273.0,382.0" fill="rgb(0,180,47)"/>
<polygon points="176.4,343.7 181.2,341.0 176.3,338.5 171.5,341.2" fill="rgb(250,99,76)"/>
<polygon points="254.1,372.6 258.8,373.1 254.1,366.4 249.3,366.0" fill="rgb(124,209,0)"/>
<polygon points="147.2,347.7 152.0,344.0 147.1,342.9 142.4,346.6" fill="rgb(250,155,105)"/>
<polygon points="166.6,344.2 171.5,341.2 166.6,339.1 161.7,342.2" fill="rgb(250,118,92)"/>
<polygon points="205.7,347.6 210.6,346.2 205.7,342.0 200.8,343.5" fill="rgb(250,92,28)"/>
<polygon points="215.5,350.8 220.4,349.7 215.5,345.1 210.6,346.2" fill="rgb(250,116,15)"/>
<polygon points="225.2,354.9 230.1,354.3 225.2,349.1 220.4,349.7" fill="rgb(250,154,3)"/>
<polygon points="263.5,380.1 268.3,380.9 263.6,373.9 258.8,373.1" fill="rgb(49,197,0)"/>
<polygon points="282.2,397.4 286.8,398.7 282.3,390.9 277.6,389.5" fill="rgb(0,178,96)"/>
<polygon points="195.9,345.4 200.8,343.5 195.9,339.9 191.0,341.8" fill="rgb(250,80,39)"/>
<polygon points="234.9,359.9 239.7,359.7 234.9,354.0 230.1,354.3" fill="rgb(238,198,0)"/>
<polygon points="156.9,345.6 161.7,342.2 156.8,340.6 152.0,344.0" fill="rgb(250,138,102)"/>
<polygon points="186.2,344.1 191.0,341.8 186.1,338.7 181.2,341.0" fill="rgb(250,82,54)"/>
<polygon points="244.5,365.8 249.3,366.0 244.6,359.8 239.7,359.7" fill="rgb(200,223,0)"/>
<polygon points="272.9,388.4 277.6,389.5 273.0,382.0 268.3,380.9" fill="rgb(0,187,24)"/>
<polygon points="152.1,349.3 156.9,345.6 152.0,344.0 147.2,347.7" fill="rgb(250,154,105)"/>
<polygon points="171.5,346.7 176.4,343.7 171.5,341.2 166.6,344.2" fill="rgb(250,119,86)"/>
<polygon points="181.3,346.7 186.2,344.1 181.2,341.0 176.4,343.7" fill="rgb(250,102,67)"/>
<polygon points="200.8,349.4 205.7,347.6 200.8,343.5 195.9,345.4" fill="rgb(250,99,34)"/>
<polygon points="210.6,352.2 215.5,350.8 210.6,346.2 205.7,347.6" fill="rgb(250,118,22)"/>
<polygon points="220.4,355.9 225.2,354.9 220.4,349.7 215.5,350.8" fill="rgb(250,150,10)"/>
<polygon points="230.0,360.5 234.9,359.9 230.1,354.3 225.2,354.9" fill="rgb(247,194,0)"/>
<polygon points="249.3,372.5 254.1,372.6 249.3,366.0 244.5,365.8" fill="rgb(147,217,0)"/>
<polygon points="258.8,379.7 263.5,380.1 258.8,373.1 254.1,372.6" fill="rgb(72,205,0)"/>
<polygon points="277.5,396.4 282.2,397.4 277.6,389.5 272.9,388.4" fill="rgb(0,184,74)"/>
<polygon points="161.8,347.6 166.6,344.2 161.7,342.2 156.9,345.6" fill="rgb(250,137,100)"/>
<polygon points="268.2,387.7 272.9,388.4 268.3,380.9 263.5,380.1" fill="rgb(0,194,2)"/>
<polygon points="191.1,347.6 195.9,345.4 191.0,341.8 186.2,344.1" fill="rgb(250,91,45)"/>
<polygon points="239.7,366.0 244.5,365.8 239.7,359.7 234.9,359.9" fill="rgb(223,231,0)"/>
<polygon points="157.0,351.3 161.8,347.6 156.9,345.6 152.1,349.3" fill="rgb(250,156,105)"/>
<polygon points="215.5,357.2 220.4,355.9 215.5,350.8 210.6,352.2" fill="rgb(250,150,16)"/>
<polygon points="272.8,395.7 277.5,396.4 272.9,388.4 268.2,387.7" fill="rgb(0,191,54)"/>
<polygon points="166.7,350.0 171.5,346.7 166.6,344.2 161.8,347.6" fill="rgb(250,139,94)"/>
<polygon points="176.4,349.6 181.3,346.7 176.4,343.7 171.5,346.7" fill="rgb(250,122,77)"/>
<polygon points="186.2,350.2 191.1,347.6 186.2,344.1 181.3,346.7" fill="rgb(250,108,55)"/>
<polygon points="196.0,351.6 200.8,349.4 195.9,345.4 191.1,347.6" fill="rgb(250,109,40)"/>
<polygon points="205.7,353.9 210.6,352.2 205.7,347.6 200.8,349.4" fill="rgb(250,124,28)"/>
<polygon points="225.2,361.5 230.0,360.5 225.2,354.9 220.4,355.9" fill="rgb(250,190,4)"/>
<polygon points="234.9,366.6 239.7,366.0 234.9,359.9 230.0,360.5" fill="rgb(240,236,0)"/>
<polygon points="244.5,372.7 249.3,372.5 244.5,365.8 239.7,366.0" fill="rgb(168,225,0)"/>
<polygon points="254.0,379.6 258.8,379.7 254.1,372.6 249.3,372.5" fill="rgb(93,212,0)"/>
<polygon points="263.4,387.2 268.2,387.7 263.5,380.1 258.8,379.7" fill="rgb(19,201,0)"/>
<polygon points="161.9,353.7 166.7,350.0 161.8,347.6 157.0,351.3" fill="rgb(250,158,101)"/>
<polygon points="191.1,354.1 196.0,351.6 191.1,347.6 186.2,350.2" fill="rgb(250,122,45)"/>
<polygon points="210.6,359.0 215.5,357.2 210.6,352.2 205.7,353.9" fill="rgb(250,154,23)"/>
<polygon points="220.3,362.8 225.2,361.5 220.4,355.9 215.5,357.2" fill="rgb(250,189,11)"/>
<polygon points="239.6,373.2 244.5,372.7 239.7,366.0 234.9,366.6" fill="rgb(186,234,0)"/>
<polygon points="268.1,395.3 272.8,395.7 268.2,387.7 263.4,387.2" fill="rgb(0,197,36)"/>
<polygon points="171.6,353.0 176.4,349.6 171.5,346.7 166.7,350.0" fill="rgb(250,142,86)"/>
<polygon points="181.3,353.1 186.2,350.2 181.3,346.7 176.4,349.6" fill="rgb(250,128,67)"/>
<polygon points="200.9,356.1 205.7,353.9 200.8,349.4 196.0,351.6" fill="rgb(250,132,34)"/>
<polygon points="230.0,367.6 234.9,366.6 230.0,360.5 225.2,361.5" fill="rgb(248,237,0)"/>
<polygon points="249.2,379.8 254.0,379.6 249.3,372.5 244.5,372.7" fill="rgb(112,220,0)"/>
<polygon points="258.7,387.1 263.4,387.2 258.8,379.7 254.0,379.6" fill="rgb(38,208,0)"/>
<polygon points="166.8,356.7 171.6,353.0 166.7,350.0 161.9,353.7" fill="rgb(250,162,94)"/>
<polygon points="186.3,357.0 191.1,354.1 186.2,350.2 181.3,353.1" fill="rgb(250,139,54)"/>
<polygon points="196.0,358.6 200.9,356.1 196.0,351.6 191.1,354.1" fill="rgb(250,144,40)"/>
<polygon points="205.8,361.1 210.6,359.0 205.7,353.9 200.9,356.1" fill="rgb(250,161,28)"/>
<polygon points="215.5,364.5 220.3,362.8 215.5,357.2 210.6,359.0" fill="rgb(250,191,17)"/>
<polygon points="225.2,368.9 230.0,367.6 225.2,361.5 220.3,362.8" fill="rgb(250,234,5)"/>
<polygon points="234.8,374.2 239.6,373.2 234.9,366.6 230.0,367.6" fill="rgb(201,242,0)"/>
<polygon points="244.4,380.3 249.2,379.8 244.5,372.7 239.6,373.2" fill="rgb(128,228,0)"/>
<polygon points="263.3,395.2 268.1,395.3 263.4,387.2 258.7,387.1" fill="rgb(0,204,19)"/>
<polygon points="176.5,356.4 181.3,353.1 176.4,349.6 171.6,353.0" fill="rgb(250,148,76)"/>
<polygon points="253.9,387.4 258.7,387.1 254.0,379.6 249.2,379.8" fill="rgb(54,215,0)"/>
<polygon points="200.9,363.5 205.8,361.1 200.9,356.1 196.0,358.6" fill="rgb(250,171,34)"/>
<polygon points="230.0,375.4 234.8,374.2 230.0,367.6 225.2,368.9" fill="rgb(213,249,0)"/>
<polygon points="171.7,360.1 176.5,356.4 171.6,353.0 166.8,356.7" fill="rgb(250,168,84)"/>
<polygon points="181.4,360.3 186.3,357.0 181.3,353.1 176.5,356.4" fill="rgb(250,159,65)"/>
<polygon points="191.2,361.5 196.0,358.6 191.1,354.1 186.3,357.0" fill="rgb(250,158,44)"/>
<polygon points="210.6,366.6 215.5,364.5 210.6,359.0 205.8,361.1" fill="rgb(250,196,23)"/>
<polygon points="220.3,370.5 225.2,368.9 220.3,362.8 215.5,364.5" fill="rgb(250,234,11)"/>
<polygon points="239.6,381.3 244.4,380.3 239.6,373.2 234.8,374.2" fill="rgb(141,235,0)"/>
<polygon points="249.1,387.9 253.9,387.4 249.2,379.8 244.4,380.3" fill="rgb(68,222,0)"/>
<polygon points="258.6,395.5 263.3,395.2 258.7,387.1 253.9,387.4" fill="rgb(0,210,5)"/>
<polygon points="176.6,364.0 181.4,360.3 176.5,356.4 171.7,360.1" fill="rgb(250,179,74)"/>
<polygon points="196.1,366.4 200.9,363.5 196.0,358.6 191.2,361.5" fill="rgb(250,184,39)"/>
<polygon points="205.8,369.0 210.6,366.6 205.8,361.1 200.9,363.5" fill="rgb(250,205,28)"/>
<polygon points="225.1,377.1 230.0,375.4 225.2,368.9 220.3,370.5" fill="rgb(215,250,5)"/>
<polygon points="234.8,382.5 239.6,381.3 234.8,374.2 230.0,375.4" fill="rgb(151,243,0)"/>
<polygon points="253.8,396.0 258.6,395.5 253.9,387.4 249.1,387.9" fill="rgb(8,217,0)"/>
<polygon points="186.3,364.7 191.2,361.5 186.3,357.0 181.4,360.3" fill="rgb(250,175,52)"/>
<polygon points="215.5,372.6 220.3,370.5 215.5,364.5 210.6,366.6" fill="rgb(250,238,17)"/>
<polygon points="244.3,388.9 249.1,387.9 244.4,380.3 239.6,381.3" fill="rgb(80,229,0)"/>
<polygon points="181.5,368.3 186.3,364.7 181.4,360.3 176.6,364.0" fill="rgb(250,195,61)"/>
<polygon points="191.2,369.6 196.1,366.4 191.2,361.5 186.3,364.7" fill="rgb(250,200,43)"/>
<polygon points="200.9,371.8 205.8,369.0 200.9,363.5 196.1,366.4" fill="rgb(250,217,33)"/>
<polygon points="210.6,375.0 215.5,372.6 210.6,366.6 205.8,369.0" fill="rgb(250,245,22)"/>
<polygon points="220.3,379.1 225.1,377.1 220.3,370.5 215.5,372.6" fill="rgb(213,250,11)"/>
<polygon points="229.9,384.2 234.8,382.5 230.0,375.4 225.1,377.1" fill="rgb(157,250,0)"/>
<polygon points="239.5,390.1 244.3,388.9 239.6,381.3 234.8,382.5" fill="rgb(88,236,0)"/>
<polygon points="249.0,397.0 253.8,396.0 249.1,387.9 244.3,388.9" fill="rgb(17,223,0)"/>
<polygon points="186.4,373.2 191.2,369.6 186.3,364.7 181.5,368.3" fill="rgb(250,218,48)"/>
<polygon points="215.5,381.5 220.3,379.1 215.5,372.6 210.6,375.0" fill="rgb(207,250,16)"/>
<polygon points="244.2,398.2 249.0,397.0 244.3,388.9 239.5,390.1" fill="rgb(24,230,0)"/>
<polygon points="196.1,375.0 200.9,371.8 196.1,366.4 191.2,369.6" fill="rgb(250,232,37)"/>
<polygon points="205.8,377.8 210.6,375.0 205.8,369.0 200.9,371.8" fill="rgb(244,250,27)"/>
<polygon points="225.1,386.2 229.9,384.2 225.1,377.1 220.3,379.1" fill="rgb(157,250,5)"/>
<polygon points="234.7,391.7 239.5,390.1 234.8,382.5 229.9,384.2" fill="rgb(93,243,0)"/>
<polygon points="191.3,378.6 196.1,375.0 191.2,369.6 186.4,373.2" fill="rgb(250,249,42)"/>
<polygon points="210.6,384.3 215.5,381.5 210.6,375.0 205.8,377.8" fill="rgb(198,250,21)"/>
<polygon points="220.3,388.5 225.1,386.2 220.3,379.1 215.5,381.5" fill="rgb(153,250,10)"/>
<polygon points="239.4,399.9 244.2,398.2 239.5,390.1 234.7,391.7" fill="rgb(27,236,0)"/>
<polygon points="201.0,380.9 205.8,377.8 200.9,371.8 196.1,375.0" fill="rgb(231,250,32)"/>
<polygon points="229.9,393.7 234.7,391.7 229.9,384.2 225.1,386.2" fill="rgb(94,250,0)"/>
<polygon points="196.1,384.5 201.0,380.9 196.1,375.0 191.3,378.6" fill="rgb(214,250,36)"/>
<polygon points="205.8,387.4 210.6,384.3 205.8,377.8 201.0,380.9" fill="rgb(186,250,26)"/>
<polygon points="215.5,391.3 220.3,388.5 215.5,381.5 210.6,384.3" fill="rgb(146,250,15)"/>
<polygon points="225.1,396.1 229.9,393.7 225.1,386.2 220.3,388.5" fill="rgb(92,250,5)"/>
<polygon points="234.6,401.8 239.4,399.9 234.7,391.7 229.9,393.7" fill="rgb(27,243,0)"/>
<polygon points="201.0,390.9 205.8,387.4 201.0,380.9 196.1,384.5" fill="rgb(171,250,30)"/>
<polygon points="229.8,404.2 234.6,401.8 229.9,393.7 225.1,396.1" fill="rgb(23,249,0)"/>
<polygon points="210.7,394.4 215.5,391.3 210.6,384.3 205.8,387.4" fill="rgb(135,250,20)"/>
<polygon points="220.3,398.8 225.1,396.1 220.3,388.5 215.5,391.3" fill="rgb(86,250,10)"/>
<polygon points="205.8,397.9 210.7,394.4 205.8,387.4 201.0,390.9" fill="rgb(121,250,24)"/>
<polygon points="225.0,406.9 229.8,404.2 225.1,396.1 220.3,398.8" fill="rgb(19,250,4)"/>
<polygon points="215.5,401.9 220.3,398.8 215.5,391.3 210.7,394.4" fill="rgb(77,250,14)"/>
<polygon points="210.7,405.4 215.5,401.9 210.7,394.4 205.8,397.9" fill="rgb(64,250,18)"/>
<polygon points="220.2,410.0 225.0,406.9 220.3,398.8 215.5,401.9" fill="rgb(11,250,8)"/>
<polygon points="215.4,413.4 220.2,410.0 215.5,401.9 210.7,405.4" fill="rgb(13,250,25)"/>
</g>
<line x1="178.4" y1="304.1" x2="178.4" y2="328.4" stroke="#222" stroke-width="0.6"/>
<rect x="161.3" y="304.3" width="17" height="6.1" fill="#fff" stroke="#222" stroke-width="0.5"/>
<text x="169.8" y="308.8" font-size="3.9" text-anchor="middle" fill="#111" font-family="Liberation Sans, sans-serif">97.2652</text>
<text transform="translate(90.6,388.1) rotate(-90)" font-size="7.0" text-anchor="middle" fill="#2e2e2e" stroke="#2e2e2e" stroke-width="0.1" textLength="30.6" lengthAdjust="spacingAndGlyphs" font-family="Liberation Sans, sans-serif">R% For AT</text>
<text x="133.8" y="490.1" font-size="7.2" text-anchor="middle" fill="#2e2e2e" stroke="#2e2e2e" stroke-width="0.1" textLength="60.0" lengthAdjust="spacingAndGlyphs" font-family="Liberation Sans, sans-serif">C: Catalyst amount</text>
<text x="297.8" y="490.1" font-size="7.2" text-anchor="middle" fill="#2e2e2e" stroke="#2e2e2e" stroke-width="0.1" textLength="16.8" lengthAdjust="spacingAndGlyphs" font-family="Liberation Sans, sans-serif">B: pH</text>
</g>
<g id="panel-c">
<text x="2.4" y="516.1" font-size="5.80" fill="#1a1a1a" stroke="#1a1a1a" stroke-width="0.1" font-family="Liberation Sans, sans-serif" >Factor Coding: Actual</text>
<text x="2.4" y="535.1" font-size="5.80" fill="#000" stroke="#000" stroke-width="0.1" font-family="Liberation Sans, sans-serif" font-weight="bold" textLength="28.5" lengthAdjust="spacingAndGlyphs">R% For AT</text>
<rect x="18.0" y="538.5" width="21.6" height="8.6" fill="url(#lg)" stroke="#10104a" stroke-width="0.5"/>
<text x="2.4" y="544.9" font-size="5.60" fill="#2b2b9c" stroke="#2b2b9c" stroke-width="0.1" font-family="Liberation Sans, sans-serif" >60.84</text>
<text x="42.1" y="544.9" font-size="5.60" fill="#c0262c" stroke="#c0262c" stroke-width="0.1" font-family="Liberation Sans, sans-serif" >96.77</text>
<text x="2.4" y="563.1" font-size="5.80" fill="#1a1a1a" stroke="#1a1a1a" stroke-width="0.1" font-family="Liberation Sans, sans-serif" >X1 = C</text>
<text x="2.4" y="572.8" font-size="5.80" fill="#1a1a1a" stroke="#1a1a1a" stroke-width="0.1" font-family="Liberation Sans, sans-serif" >X2 = D</text>
<text x="2.4" y="591.0" font-size="5.70" fill="#000" stroke="#000" stroke-width="0.1" font-family="Liberation Sans, sans-serif" font-weight="bold">Actual Factors</text>
<text x="2.4" y="600.8" font-size="5.80" fill="#1a1a1a" stroke="#1a1a1a" stroke-width="0.1" font-family="Liberation Sans, sans-serif" >A = 0.177871</text>
<text x="2.4" y="610.5" font-size="5.80" fill="#1a1a1a" stroke="#1a1a1a" stroke-width="0.1" font-family="Liberation Sans, sans-serif" >B = -0.313403</text>
<text x="78.6" y="524.1" font-size="8.0" font-weight="bold" fill="#111" text-anchor="middle" font-family="Liberation Sans, sans-serif">(c)</text>
<text x="231.3" y="522.2" font-size="6.3" text-anchor="middle" fill="#2e2e2e" stroke="#2e2e2e" stroke-width="0.12" font-family="Liberation Sans, sans-serif">3D Surface</text>
<polyline points="121.7,674.7 215.1,642.9 308.9,674.7" stroke="#2a2a2a" stroke-width="0.7" fill="none"/>
<polyline points="120.5,650.6 215.1,621.2 310.1,650.5" stroke="#2a2a2a" stroke-width="0.7" fill="none"/>
<polyline points="119.3,626.5 215.1,599.6 311.2,626.4" stroke="#2a2a2a" stroke-width="0.7" fill="none"/>
<polyline points="118.1,602.4 215.1,577.9 312.4,602.3" stroke="#2a2a2a" stroke-width="0.7" fill="none"/>
<polyline points="116.9,578.3 215.1,556.2 313.6,578.2" stroke="#2a2a2a" stroke-width="0.7" fill="none"/>
<line x1="123.2" y1="704.8" x2="116.9" y2="578.3" stroke="#2a2a2a" stroke-width="0.7" fill="none"/>
<line x1="145.0" y1="666.7" x2="141.4" y2="572.8" stroke="#2a2a2a" stroke-width="0.7" fill="none"/>
<line x1="168.4" y1="658.8" x2="166.0" y2="567.2" stroke="#2a2a2a" stroke-width="0.7" fill="none"/>
<line x1="191.8" y1="650.8" x2="190.6" y2="561.7" stroke="#2a2a2a" stroke-width="0.7" fill="none"/>
<line x1="307.4" y1="704.8" x2="313.6" y2="578.2" stroke="#2a2a2a" stroke-width="0.7" fill="none"/>
<line x1="285.4" y1="666.7" x2="289.0" y2="572.7" stroke="#2a2a2a" stroke-width="0.7" fill="none"/>
<line x1="262.0" y1="658.8" x2="264.4" y2="567.2" stroke="#2a2a2a" stroke-width="0.7" fill="none"/>
<line x1="238.6" y1="650.8" x2="239.8" y2="561.7" stroke="#2a2a2a" stroke-width="0.7" fill="none"/>
<line x1="215.1" y1="670.0" x2="215.1" y2="642.9" stroke="#a8a8a8" stroke-width="0.8"/>
<line x1="215.1" y1="642.9" x2="215.1" y2="556.2" stroke="#2a2a2a" stroke-width="0.7" fill="none"/>
<polygon points="123.2,704.8 215.1,670.0 307.4,704.8 215.1,748.7" fill="#5e5e5e" stroke="#151515" stroke-width="0.7"/>
<polyline points="125.4,705.9 125.0,705.1 124.6,704.5 124.5,704.3" fill="none" stroke="rgb(38,206,123)" stroke-width="1.5" stroke-linecap="round"/>
<polyline points="295.5,710.5 295.7,710.2 296.1,709.4 296.3,709.1 296.6,708.6 297.0,707.8 297.0,707.7 297.4,706.9 297.6,706.5 297.8,706.1 298.2,705.2 298.2,705.2 298.5,704.4 298.7,704.0 298.8,703.5 299.1,702.8 299.1,702.7 299.4,701.8" fill="none" stroke="rgb(38,206,123)" stroke-width="1.5" stroke-linecap="round"/>
<polyline points="201.8,742.3 202.9,742.5 204.7,742.6 204.9,742.7 206.8,742.8 207.5,742.9 208.9,742.9 210.0,743.0 211.0,743.0 212.5,743.1 213.2,743.1 214.8,743.1 215.5,743.1 217.0,743.0 218.0,743.0 219.2,743.0 220.5,742.9 221.2,742.8 223.2,742.7 223.2,742.7 225.2,742.5 226.1,742.4 227.0,742.3 228.8,742.0 229.3,742.0" fill="none" stroke="rgb(39,206,38)" stroke-width="1.5" stroke-linecap="round"/>
<polyline points="141.7,713.6 141.6,713.6 140.9,712.8 140.3,712.1 140.1,711.9 139.6,711.3 139.0,710.6 138.6,710.2 138.3,709.8 137.7,709.1 137.3,708.6 137.1,708.3 136.6,707.6 136.2,707.1 136.0,706.8 135.5,706.0 135.2,705.6 135.0,705.2 134.5,704.4 134.3,704.2 134.0,703.6 133.5,702.8 133.5,702.8 133.1,702.0 132.8,701.5 132.6,701.2" fill="none" stroke="rgb(39,206,38)" stroke-width="1.5" stroke-linecap="round"/>
<polyline points="278.4,718.6 278.5,718.5 279.2,717.8 279.9,717.0 280.2,716.7 280.6,716.3 281.3,715.5 281.7,715.0 281.9,714.8 282.5,714.0 283.1,713.4 283.1,713.3 283.7,712.5 284.2,711.8 284.3,711.7 284.8,710.9 285.2,710.3 285.3,710.2 285.9,709.4 286.1,708.9 286.3,708.6 286.8,707.7 286.9,707.6 287.3,706.9 287.6,706.2 287.7,706.1 288.1,705.3 288.2,705.0 288.5,704.5 288.8,703.7 288.8,703.6 289.2,702.8 289.3,702.5 289.5,701.9 289.7,701.4 289.8,701.0 290.0,700.2 290.0,700.2 290.3,699.3 290.3,699.1 290.5,698.4" fill="none" stroke="rgb(39,206,38)" stroke-width="1.5" stroke-linecap="round"/>
<polyline points="142.0,697.7 142.2,698.1 142.4,698.5 142.7,699.3 142.7,699.3 143.1,700.1 143.4,700.6 143.6,700.9 144.0,701.7 144.1,701.9 144.5,702.5 145.0,703.3 145.0,703.3 145.5,704.1 146.0,704.7 146.1,704.9 146.6,705.6 147.1,706.2 147.2,706.4 147.8,707.1 148.3,707.8 148.4,707.9 149.0,708.6 149.7,709.3 149.8,709.5 150.4,710.1 151.1,710.8 151.5,711.3 151.8,711.5 152.5,712.2 153.2,712.9 153.6,713.2 154.0,713.6 154.8,714.3 155.6,715.0 156.1,715.4 156.4,715.7 157.2,716.3 158.1,717.0 158.9,717.7 159.3,718.0 159.8,718.3 160.7,719.0 161.6,719.6 162.6,720.2 163.5,720.9 164.2,721.3 164.5,721.5 165.5,722.1 166.5,722.7 167.6,723.3 168.6,723.9 169.7,724.5 170.8,725.0 171.9,725.6 173.0,726.1 174.2,726.7 175.4,727.2 176.6,727.7 177.8,728.2 179.0,728.7 180.3,729.2 181.6,729.7 182.9,730.2 183.1,730.3 184.3,730.6 185.7,731.1 187.1,731.5 188.5,731.9 189.3,732.1 190.0,732.3 191.5,732.7 193.1,733.1 193.9,733.2 194.7,733.4 196.3,733.7 197.7,734.0 198.0,734.0 199.7,734.3 201.1,734.5 201.5,734.6 203.4,734.8 204.1,734.9 205.3,735.0 207.0,735.1 207.3,735.1 209.3,735.2 209.6,735.3 211.5,735.3 212.0,735.3 213.7,735.4 214.4,735.4 216.1,735.3 216.6,735.3 218.6,735.2 218.7,735.2 220.7,735.1 221.3,735.0 222.7,734.9 224.1,734.8 224.6,734.7 226.4,734.5 227.3,734.4 228.1,734.2 229.8,733.9 230.9,733.7 231.5,733.6 233.1,733.3 234.7,732.9 235.1,732.8 236.2,732.6 237.7,732.2 239.1,731.8 240.5,731.3 240.6,731.3 241.9,730.9 243.2,730.4 244.6,730.0 245.8,729.5 247.1,729.0 248.3,728.5 249.5,727.9 250.7,727.4 251.8,726.9 253.0,726.3 254.0,725.7 255.1,725.2 256.2,724.6 257.2,724.0 258.2,723.4 259.2,722.8 260.1,722.1 260.2,722.1 261.1,721.5 262.0,720.9 262.9,720.2 263.8,719.6 264.3,719.1 264.6,718.9 265.5,718.2 266.3,717.5 267.1,716.8 267.1,716.8 267.8,716.2 268.6,715.4 269.3,714.8 269.3,714.7 270.0,714.0 270.7,713.3 271.0,713.0 271.4,712.6 272.0,711.8 272.5,711.3 272.7,711.1 273.3,710.3 273.7,709.7 273.8,709.6 274.4,708.8 274.8,708.2 274.9,708.0 275.4,707.2 275.7,706.8 275.9,706.4 276.4,705.6 276.5,705.5 276.8,704.8 277.2,704.2 277.3,704.0 277.7,703.2 277.8,702.9 278.0,702.4 278.3,701.7 278.4,701.5 278.7,700.7 278.7,700.6 279.0,699.8 279.1,699.4 279.2,699.0 279.4,698.3 279.5,698.1 279.7,697.3 279.7,697.2 279.8,696.3 279.8,696.2 280.0,695.4 280.0,695.2 280.1,694.5" fill="none" stroke="rgb(125,206,38)" stroke-width="1.5" stroke-linecap="round"/>
<polyline points="153.4,693.3 153.5,693.7 153.7,694.2 153.9,694.8 153.9,695.1 154.2,695.9 154.3,695.9 154.6,696.7 154.7,697.1 154.9,697.5 155.3,698.3 155.3,698.3 155.8,699.1 156.0,699.6 156.2,699.9 156.7,700.7 156.8,700.9 157.2,701.5 157.7,702.3 157.8,702.3 158.3,703.0 158.8,703.8 158.9,703.8 159.5,704.5 160.1,705.2 160.2,705.4 160.7,706.0 161.4,706.7 161.8,707.1 162.1,707.4 162.8,708.1 163.5,708.8 163.8,709.0 164.3,709.5 165.1,710.1 165.9,710.8 166.3,711.2 166.7,711.5 167.6,712.1 168.4,712.8 169.3,713.4 170.0,713.8 170.3,714.0 171.2,714.6 172.2,715.2 173.1,715.8 174.2,716.4 175.2,717.0 176.2,717.6 177.3,718.1 178.4,718.7 179.6,719.2 180.7,719.8 181.9,720.3 183.1,720.8 184.4,721.3 185.7,721.7 187.0,722.2 188.3,722.6 189.7,723.1 190.6,723.3 191.1,723.5 192.6,723.9 194.1,724.3 195.6,724.6 195.6,724.6 197.2,725.0 198.9,725.3 199.5,725.4 200.6,725.6 202.3,725.8 202.9,725.9 204.2,726.0 205.9,726.2 206.1,726.2 208.1,726.4 208.6,726.4 210.1,726.5 211.1,726.5 212.3,726.5 213.5,726.5 214.7,726.5 215.7,726.5 217.2,726.4 217.8,726.4 219.8,726.3 219.9,726.2 221.7,726.1 222.9,725.9 223.5,725.8 225.3,725.6 226.2,725.4 226.9,725.3 228.6,725.0 230.2,724.7 230.2,724.6 231.7,724.3 233.2,723.9 234.6,723.5 235.7,723.2 236.0,723.1 237.3,722.6 238.7,722.2 239.9,721.7 241.2,721.2 242.4,720.7 243.5,720.2 244.7,719.7 245.8,719.1 246.9,718.6 247.9,718.0 249.0,717.4 250.0,716.8 250.9,716.2 251.0,716.2 251.9,715.6 252.8,715.0 253.7,714.3 254.5,713.7 254.9,713.4 255.4,713.0 256.2,712.4 257.0,711.7 257.5,711.2 257.7,711.0 258.4,710.3 259.1,709.6 259.4,709.3 259.8,708.9 260.5,708.1 260.9,707.7 261.1,707.4 261.7,706.7 262.1,706.1 262.3,705.9 262.8,705.2 263.1,704.7 263.3,704.4 263.8,703.6 264.0,703.3 264.3,702.8 264.7,702.0 264.7,702.0 265.1,701.2 265.3,700.8 265.5,700.4 265.8,699.6 265.8,699.5 266.1,698.7 266.2,698.5 266.4,697.8 266.5,697.4 266.6,697.0 266.8,696.3 266.8,696.1 266.9,695.3 267.0,695.2 267.1,694.3 267.1,694.3 267.1,693.4 267.1,693.3 267.2,692.4 267.2,692.3 267.1,691.5 267.1,691.4 267.0,690.5 267.0,690.5 266.9,689.6 266.9,689.5" fill="none" stroke="rgb(206,200,38)" stroke-width="1.5" stroke-linecap="round"/>
<polyline points="169.9,687.1 169.8,687.7 169.7,688.1 169.7,688.6 169.7,689.1 169.7,689.5 169.7,690.0 169.7,690.4 169.7,690.9 169.8,691.4 169.8,691.8 170.0,692.4 170.0,692.7 170.2,693.5 170.2,693.5 170.5,694.4 170.6,694.6 170.8,695.2 171.1,695.7 171.2,696.0 171.6,696.8 171.7,697.0 172.1,697.6 172.5,698.3 172.5,698.4 173.1,699.1 173.5,699.7 173.6,699.9 174.2,700.6 174.8,701.2 174.8,701.3 175.5,702.0 176.2,702.7 176.4,702.9 176.9,703.4 177.7,704.0 178.5,704.7 178.7,704.9 179.3,705.4 180.2,706.0 181.0,706.6 182.0,707.2 182.6,707.6 182.9,707.8 183.9,708.4 184.9,709.0 186.0,709.5 187.1,710.0 188.2,710.6 189.4,711.1 190.6,711.6 191.8,712.0 193.1,712.5 194.5,712.9 194.5,712.9 195.9,713.3 197.3,713.7 198.8,714.1 199.8,714.3 200.4,714.4 202.0,714.7 203.6,714.9 203.8,715.0 205.6,715.2 206.7,715.3 207.5,715.4 209.4,715.5 209.5,715.5 211.7,715.6 211.8,715.6 214.1,715.5 214.1,715.5 216.1,715.4 216.7,715.4 218.1,715.3 219.7,715.1 219.9,715.1 221.6,714.8 223.2,714.5 223.3,714.5 224.9,714.2 226.4,713.8 227.8,713.5 228.3,713.3 229.2,713.0 230.5,712.6 231.8,712.1 233.0,711.7 234.2,711.2 235.3,710.6 236.4,710.1 237.4,709.5 238.4,709.0 239.3,708.5 239.4,708.4 240.3,707.8 241.2,707.2 242.0,706.5 242.8,705.9 242.8,705.9 243.6,705.2 244.3,704.5 244.8,704.0 245.0,703.8 245.7,703.1 246.3,702.4 246.3,702.4 246.9,701.7 247.4,701.0 247.4,700.9 247.9,700.2 248.2,699.6 248.4,699.4 248.8,698.6 248.9,698.4 249.2,697.8 249.4,697.2 249.5,697.0 249.8,696.1 249.8,696.1 250.0,695.2 250.0,695.0 250.2,694.4 250.2,694.0 250.3,693.5 250.3,693.0 250.3,692.5 250.3,692.1 250.3,691.6 250.3,691.2 250.2,690.6 250.2,690.3 250.0,689.6 250.0,689.4 249.8,688.6 249.8,688.6 249.5,687.8 249.4,687.5 249.2,687.0 248.9,686.4 248.8,686.2 248.4,685.4 248.3,685.2 247.9,684.7 247.5,684.0 247.5,684.0 246.9,683.3 246.4,682.7 246.4,682.6 245.7,682.0 245.1,681.3 245.1,681.3" fill="none" stroke="rgb(206,113,38)" stroke-width="1.5" stroke-linecap="round"/>
<polyline points="215.8,670.2 214.8,670.1" fill="none" stroke="rgb(206,113,38)" stroke-width="1.5" stroke-linecap="round"/>
<circle cx="121.7" cy="674.7" r="0.95" fill="#111"/>
<text x="118.5" y="672.4" font-size="6.2" text-anchor="end" fill="#2e2e2e" stroke="#2e2e2e" stroke-width="0.12" font-family="Liberation Sans, sans-serif">60</text>
<circle cx="120.5" cy="650.6" r="0.95" fill="#111"/>
<text x="117.3" y="648.3" font-size="6.2" text-anchor="end" fill="#2e2e2e" stroke="#2e2e2e" stroke-width="0.12" font-family="Liberation Sans, sans-serif">70</text>
<circle cx="119.3" cy="626.5" r="0.95" fill="#111"/>
<text x="116.1" y="624.2" font-size="6.2" text-anchor="end" fill="#2e2e2e" stroke="#2e2e2e" stroke-width="0.12" font-family="Liberation Sans, sans-serif">80</text>
<circle cx="118.1" cy="602.4" r="0.95" fill="#111"/>
<text x="114.9" y="600.1" font-size="6.2" text-anchor="end" fill="#2e2e2e" stroke="#2e2e2e" stroke-width="0.12" font-family="Liberation Sans, sans-serif">90</text>
<circle cx="116.9" cy="578.3" r="0.95" fill="#111"/>
<text x="113.7" y="576.0" font-size="6.2" text-anchor="end" fill="#2e2e2e" stroke="#2e2e2e" stroke-width="0.12" font-family="Liberation Sans, sans-serif">100</text>
<circle cx="215.1" cy="748.7" r="0.95" fill="#111"/>
<text x="211.5" y="755.2" font-size="6.2" text-anchor="end" fill="#2e2e2e" stroke="#2e2e2e" stroke-width="0.12" font-family="Liberation Sans, sans-serif">-1</text>
<circle cx="215.1" cy="748.7" r="0.95" fill="#111"/>
<text x="219.0" y="755.2" font-size="6.2" text-anchor="start" fill="#2e2e2e" stroke="#2e2e2e" stroke-width="0.12" font-family="Liberation Sans, sans-serif">-1</text>
<circle cx="192.2" cy="737.7" r="0.95" fill="#111"/>
<text x="188.6" y="744.2" font-size="6.2" text-anchor="end" fill="#2e2e2e" stroke="#2e2e2e" stroke-width="0.12" font-family="Liberation Sans, sans-serif">-0.5</text>
<circle cx="238.2" cy="737.7" r="0.95" fill="#111"/>
<text x="242.1" y="744.2" font-size="6.2" text-anchor="start" fill="#2e2e2e" stroke="#2e2e2e" stroke-width="0.12" font-family="Liberation Sans, sans-serif">-0.5</text>
<circle cx="169.2" cy="726.8" r="0.95" fill="#111"/>
<text x="165.6" y="733.2" font-size="6.2" text-anchor="end" fill="#2e2e2e" stroke="#2e2e2e" stroke-width="0.12" font-family="Liberation Sans, sans-serif">0</text>
<circle cx="261.3" cy="726.8" r="0.95" fill="#111"/>
<text x="265.2" y="733.2" font-size="6.2" text-anchor="start" fill="#2e2e2e" stroke="#2e2e2e" stroke-width="0.12" font-family="Liberation Sans, sans-serif">0</text>
<circle cx="146.2" cy="715.8" r="0.95" fill="#111"/>
<text x="142.6" y="722.3" font-size="6.2" text-anchor="end" fill="#2e2e2e" stroke="#2e2e2e" stroke-width="0.12" font-family="Liberation Sans, sans-serif">0.5</text>
<circle cx="284.3" cy="715.8" r="0.95" fill="#111"/>
<text x="288.2" y="722.3" font-size="6.2" text-anchor="start" fill="#2e2e2e" stroke="#2e2e2e" stroke-width="0.12" font-family="Liberation Sans, sans-serif">0.5</text>
<circle cx="123.2" cy="704.8" r="0.95" fill="#111"/>
<text x="119.6" y="711.3" font-size="6.2" text-anchor="end" fill="#2e2e2e" stroke="#2e2e2e" stroke-width="0.12" font-family="Liberation Sans, sans-serif">1</text>
<circle cx="307.4" cy="704.8" r="0.95" fill="#111"/>
<text x="311.3" y="711.3" font-size="6.2" text-anchor="start" fill="#2e2e2e" stroke="#2e2e2e" stroke-width="0.12" font-family="Liberation Sans, sans-serif">1</text>
<g stroke="#181818" stroke-width="0.4" stroke-linejoin="round">
<polygon points="215.2,571.3 220.0,572.1 215.1,572.1 210.3,571.3" fill="rgb(237,88,0)"/>
<polygon points="210.3,570.8 215.2,571.3 210.3,571.3 205.4,571.0" fill="rgb(250,71,1)"/>
<polygon points="220.0,571.6 224.9,572.6 220.0,572.1 215.2,571.3" fill="rgb(235,75,0)"/>
<polygon points="205.4,570.8 210.3,570.8 205.4,571.0 200.5,571.1" fill="rgb(250,62,12)"/>
<polygon points="215.2,571.1 220.0,571.6 215.2,571.3 210.3,570.8" fill="rgb(250,56,0)"/>
<polygon points="224.9,572.4 229.8,573.5 224.9,572.6 220.0,571.6" fill="rgb(232,68,0)"/>
<polygon points="200.5,571.3 205.4,570.8 200.5,571.1 195.6,571.6" fill="rgb(250,59,21)"/>
<polygon points="210.3,571.0 215.2,571.1 210.3,570.8 205.4,570.8" fill="rgb(250,47,11)"/>
<polygon points="220.1,571.7 224.9,572.4 220.0,571.6 215.2,571.1" fill="rgb(247,47,0)"/>
<polygon points="229.8,573.5 234.7,574.7 229.8,573.5 224.9,572.4" fill="rgb(228,64,0)"/>
<polygon points="205.4,571.3 210.3,571.0 205.4,570.8 200.5,571.3" fill="rgb(250,43,21)"/>
<polygon points="215.2,571.5 220.1,571.7 215.2,571.1 210.3,571.0" fill="rgb(250,35,9)"/>
<polygon points="225.0,572.7 229.8,573.5 224.9,572.4 220.1,571.7" fill="rgb(243,42,0)"/>
<polygon points="195.6,572.1 200.5,571.3 195.6,571.6 190.7,572.6" fill="rgb(250,61,30)"/>
<polygon points="234.7,575.1 239.6,576.4 234.7,574.7 229.8,573.5" fill="rgb(223,66,0)"/>
<polygon points="210.3,571.7 215.2,571.5 210.3,571.0 205.4,571.3" fill="rgb(250,31,19)"/>
<polygon points="220.1,572.4 225.0,572.7 220.1,571.7 215.2,571.5" fill="rgb(250,28,6)"/>
<polygon points="190.7,573.4 195.6,572.1 190.7,572.6 185.8,574.0" fill="rgb(250,67,38)"/>
<polygon points="200.5,572.0 205.4,571.3 200.5,571.3 195.6,572.1" fill="rgb(250,45,30)"/>
<polygon points="229.9,574.2 234.7,575.1 229.8,573.5 225.0,572.7" fill="rgb(239,43,0)"/>
<polygon points="239.6,577.0 244.4,578.4 239.6,576.4 234.7,575.1" fill="rgb(218,71,0)"/>
<polygon points="185.8,575.2 190.7,573.4 185.8,574.0 181.0,575.9" fill="rgb(250,77,44)"/>
<polygon points="195.6,573.2 200.5,572.0 195.6,572.1 190.7,573.4" fill="rgb(250,51,38)"/>
<polygon points="205.4,572.3 210.3,571.7 205.4,571.3 200.5,572.0" fill="rgb(250,33,29)"/>
<polygon points="215.2,572.4 220.1,572.4 215.2,571.5 210.3,571.7" fill="rgb(250,23,17)"/>
<polygon points="225.0,573.7 229.9,574.2 225.0,572.7 220.1,572.4" fill="rgb(250,24,3)"/>
<polygon points="234.7,576.0 239.6,577.0 234.7,575.1 229.9,574.2" fill="rgb(233,48,0)"/>
<polygon points="244.5,579.4 249.3,580.9 244.4,578.4 239.6,577.0" fill="rgb(213,80,0)"/>
<polygon points="181.0,577.4 185.8,575.2 181.0,575.9 176.1,578.2" fill="rgb(250,93,53)"/>
<polygon points="190.7,574.8 195.6,573.2 190.7,573.4 185.8,575.2" fill="rgb(250,61,45)"/>
<polygon points="200.5,573.4 205.4,572.3 200.5,572.0 195.6,573.2" fill="rgb(250,38,38)"/>
<polygon points="210.3,573.0 215.2,572.4 210.3,571.7 205.4,572.3" fill="rgb(250,27,27)"/>
<polygon points="220.1,573.6 225.0,573.7 220.1,572.4 215.2,572.4" fill="rgb(250,18,14)"/>
<polygon points="229.9,575.4 234.7,576.0 229.9,574.2 225.0,573.7" fill="rgb(249,26,0)"/>
<polygon points="239.6,578.2 244.5,579.4 239.6,577.0 234.7,576.0" fill="rgb(228,57,0)"/>
<polygon points="249.3,582.1 254.1,583.8 249.3,580.9 244.5,579.4" fill="rgb(207,92,0)"/>
<polygon points="176.1,580.0 181.0,577.4 176.1,578.2 171.3,581.0" fill="rgb(250,113,64)"/>
<polygon points="185.8,576.9 190.7,574.8 185.8,575.2 181.0,577.4" fill="rgb(250,79,58)"/>
<polygon points="195.6,574.9 200.5,573.4 195.6,573.2 190.7,574.8" fill="rgb(250,48,46)"/>
<polygon points="205.4,573.9 210.3,573.0 205.4,572.3 200.5,573.4" fill="rgb(250,37,37)"/>
<polygon points="215.2,574.0 220.1,573.6 215.2,572.4 210.3,573.0" fill="rgb(250,25,25)"/>
<polygon points="225.0,575.2 229.9,575.4 225.0,573.7 220.1,573.6" fill="rgb(250,17,10)"/>
<polygon points="234.8,577.5 239.6,578.2 234.7,576.0 229.9,575.4" fill="rgb(243,35,0)"/>
<polygon points="244.5,580.9 249.3,582.1 244.5,579.4 239.6,578.2" fill="rgb(222,69,0)"/>
<polygon points="254.2,585.3 259.0,587.1 254.1,583.8 249.3,582.1" fill="rgb(201,108,0)"/>
<polygon points="181.0,579.4 185.8,576.9 181.0,577.4 176.1,580.0" fill="rgb(250,100,69)"/>
<polygon points="190.7,576.8 195.6,574.9 190.7,574.8 185.8,576.9" fill="rgb(250,68,60)"/>
<polygon points="200.5,575.3 205.4,573.9 200.5,573.4 195.6,574.9" fill="rgb(250,45,45)"/>
<polygon points="229.9,577.3 234.8,577.5 229.9,575.4 225.0,575.2" fill="rgb(250,21,6)"/>
<polygon points="239.6,580.1 244.5,580.9 239.6,578.2 234.8,577.5" fill="rgb(236,48,0)"/>
<polygon points="249.3,584.0 254.2,585.3 249.3,582.1 244.5,580.9" fill="rgb(215,85,0)"/>
<polygon points="171.3,583.1 176.1,580.0 171.3,581.0 166.4,584.2" fill="rgb(250,134,72)"/>
<polygon points="210.3,574.9 215.2,574.0 210.3,573.0 205.4,573.9" fill="rgb(250,35,35)"/>
<polygon points="220.1,575.5 225.0,575.2 220.1,573.6 215.2,574.0" fill="rgb(250,21,21)"/>
<polygon points="259.0,588.9 263.8,590.8 259.0,587.1 254.2,585.3" fill="rgb(195,126,0)"/>
<polygon points="185.8,579.3 190.7,576.8 185.8,576.9 181.0,579.4" fill="rgb(250,89,73)"/>
<polygon points="195.6,577.2 200.5,575.3 195.6,574.9 190.7,576.8" fill="rgb(250,60,60)"/>
<polygon points="234.8,579.7 239.6,580.1 234.8,577.5 229.9,577.3" fill="rgb(250,29,1)"/>
<polygon points="244.5,583.0 249.3,584.0 244.5,580.9 239.6,580.1" fill="rgb(230,64,0)"/>
<polygon points="166.4,586.7 171.3,583.1 166.4,584.2 161.6,587.9" fill="rgb(250,156,77)"/>
<polygon points="176.1,582.4 181.0,579.4 176.1,580.0 171.3,583.1" fill="rgb(250,121,78)"/>
<polygon points="205.4,576.1 210.3,574.9 205.4,573.9 200.5,575.3" fill="rgb(250,44,44)"/>
<polygon points="215.2,576.2 220.1,575.5 215.2,574.0 210.3,574.9" fill="rgb(250,32,32)"/>
<polygon points="225.0,577.4 229.9,577.3 225.0,575.2 220.1,575.5" fill="rgb(250,17,17)"/>
<polygon points="254.2,587.5 259.0,588.9 254.2,585.3 249.3,584.0" fill="rgb(209,104,0)"/>
<polygon points="263.8,592.9 268.5,594.9 263.8,590.8 259.0,588.9" fill="rgb(189,146,0)"/>
<polygon points="190.7,579.5 195.6,577.2 190.7,576.8 185.8,579.3" fill="rgb(250,81,75)"/>
<polygon points="239.6,582.5 244.5,583.0 239.6,580.1 234.8,579.7" fill="rgb(245,45,0)"/>
<polygon points="181.0,582.1 185.8,579.3 181.0,579.4 176.1,582.4" fill="rgb(250,111,83)"/>
<polygon points="200.5,577.9 205.4,576.1 200.5,575.3 195.6,577.2" fill="rgb(250,58,58)"/>
<polygon points="210.3,577.4 215.2,576.2 210.3,574.9 205.4,576.1" fill="rgb(250,41,41)"/>
<polygon points="220.1,578.0 225.0,577.4 220.1,575.5 215.2,576.2" fill="rgb(250,28,28)"/>
<polygon points="229.9,579.7 234.8,579.7 229.9,577.3 225.0,577.4" fill="rgb(250,23,12)"/>
<polygon points="249.3,586.4 254.2,587.5 249.3,584.0 244.5,583.0" fill="rgb(223,84,0)"/>
<polygon points="161.7,590.7 166.4,586.7 161.6,587.9 156.9,592.0" fill="rgb(250,180,81)"/>
<polygon points="171.3,585.9 176.1,582.4 171.3,583.1 166.4,586.7" fill="rgb(250,142,85)"/>
<polygon points="259.0,591.4 263.8,592.9 259.0,588.9 254.2,587.5" fill="rgb(202,126,0)"/>
<polygon points="268.6,597.4 273.3,599.5 268.5,594.9 263.8,592.9" fill="rgb(184,169,0)"/>
<polygon points="156.9,595.2 161.7,590.7 156.9,592.0 152.1,596.6" fill="rgb(250,206,82)"/>
<polygon points="166.5,589.8 171.3,585.9 166.4,586.7 161.7,590.7" fill="rgb(250,164,89)"/>
<polygon points="176.1,585.5 181.0,582.1 176.1,582.4 171.3,585.9" fill="rgb(250,132,91)"/>
<polygon points="185.8,582.2 190.7,579.5 185.8,579.3 181.0,582.1" fill="rgb(250,103,86)"/>
<polygon points="195.6,580.1 200.5,577.9 195.6,577.2 190.7,579.5" fill="rgb(250,74,74)"/>
<polygon points="205.4,579.0 210.3,577.4 205.4,576.1 200.5,577.9" fill="rgb(250,53,53)"/>
<polygon points="215.2,579.0 220.1,578.0 215.2,576.2 210.3,577.4" fill="rgb(250,38,38)"/>
<polygon points="225.0,580.2 229.9,579.7 225.0,577.4 220.1,578.0" fill="rgb(250,23,23)"/>
<polygon points="234.8,582.4 239.6,582.5 234.8,579.7 229.9,579.7" fill="rgb(250,34,7)"/>
<polygon points="244.5,585.8 249.3,586.4 244.5,583.0 239.6,582.5" fill="rgb(237,65,0)"/>
<polygon points="254.2,590.2 259.0,591.4 254.2,587.5 249.3,586.4" fill="rgb(216,106,0)"/>
<polygon points="263.8,595.7 268.6,597.4 263.8,592.9 259.0,591.4" fill="rgb(196,150,0)"/>
<polygon points="273.3,602.3 278.0,604.5 273.3,599.5 268.6,597.4" fill="rgb(163,178,0)"/>
<polygon points="200.5,581.1 205.4,579.0 200.5,577.9 195.6,580.1" fill="rgb(250,71,71)"/>
<polygon points="210.3,580.5 215.2,579.0 210.3,577.4 205.4,579.0" fill="rgb(250,46,46)"/>
<polygon points="220.1,581.1 225.0,580.2 220.1,578.0 215.2,579.0" fill="rgb(250,33,33)"/>
<polygon points="229.9,582.8 234.8,582.4 229.9,579.7 225.0,580.2" fill="rgb(250,31,18)"/>
<polygon points="152.2,600.2 156.9,595.2 152.1,596.6 147.4,601.7" fill="rgb(250,234,83)"/>
<polygon points="161.7,594.2 166.5,589.8 161.7,590.7 156.9,595.2" fill="rgb(250,188,91)"/>
<polygon points="171.3,589.3 176.1,585.5 171.3,585.9 166.5,589.8" fill="rgb(250,153,95)"/>
<polygon points="181.0,585.5 185.8,582.2 181.0,582.1 176.1,585.5" fill="rgb(250,124,95)"/>
<polygon points="190.7,582.7 195.6,580.1 190.7,579.5 185.8,582.2" fill="rgb(250,96,87)"/>
<polygon points="239.6,585.6 244.5,585.8 239.6,582.5 234.8,582.4" fill="rgb(250,50,2)"/>
<polygon points="249.3,589.5 254.2,590.2 249.3,586.4 244.5,585.8" fill="rgb(230,88,0)"/>
<polygon points="259.0,594.4 263.8,595.7 259.0,591.4 254.2,590.2" fill="rgb(209,131,0)"/>
<polygon points="268.5,600.5 273.3,602.3 268.6,597.4 263.8,595.7" fill="rgb(190,175,0)"/>
<polygon points="278.0,607.6 282.7,609.9 278.0,604.5 273.3,602.3" fill="rgb(126,173,0)"/>
<polygon points="156.9,599.1 161.7,594.2 156.9,595.2 152.2,600.2" fill="rgb(250,214,91)"/>
<polygon points="166.5,593.6 171.3,589.3 166.5,589.8 161.7,594.2" fill="rgb(250,175,98)"/>
<polygon points="176.1,589.2 181.0,585.5 176.1,585.5 171.3,589.3" fill="rgb(250,144,100)"/>
<polygon points="205.4,582.5 210.3,580.5 205.4,579.0 200.5,581.1" fill="rgb(250,65,65)"/>
<polygon points="215.2,582.5 220.1,581.1 215.2,579.0 210.3,580.5" fill="rgb(250,43,43)"/>
<polygon points="225.0,583.6 229.9,582.8 225.0,580.2 220.1,581.1" fill="rgb(250,34,28)"/>
<polygon points="254.2,593.6 259.0,594.4 254.2,590.2 249.3,589.5" fill="rgb(223,114,0)"/>
<polygon points="263.8,599.1 268.5,600.5 263.8,595.7 259.0,594.4" fill="rgb(203,158,0)"/>
<polygon points="273.3,605.7 278.0,607.6 273.3,602.3 268.5,600.5" fill="rgb(166,184,0)"/>
<polygon points="147.5,605.7 152.2,600.2 147.4,601.7 142.7,607.3" fill="rgb(234,250,82)"/>
<polygon points="195.6,583.6 200.5,581.1 195.6,580.1 190.7,582.7" fill="rgb(250,90,86)"/>
<polygon points="234.8,585.8 239.6,585.6 234.8,582.4 229.9,582.8" fill="rgb(250,44,12)"/>
<polygon points="282.7,613.3 287.4,615.7 282.7,609.9 278.0,607.6" fill="rgb(89,168,0)"/>
<polygon points="185.8,585.8 190.7,582.7 185.8,582.2 181.0,585.5" fill="rgb(250,117,97)"/>
<polygon points="244.5,589.2 249.3,589.5 244.5,585.8 239.6,585.6" fill="rgb(244,73,0)"/>
<polygon points="210.3,584.3 215.2,582.5 210.3,580.5 205.4,582.5" fill="rgb(250,57,57)"/>
<polygon points="220.1,584.8 225.0,583.6 220.1,581.1 215.2,582.5" fill="rgb(250,42,38)"/>
<polygon points="161.7,598.4 166.5,593.6 161.7,594.2 156.9,599.1" fill="rgb(250,199,98)"/>
<polygon points="171.3,593.3 176.1,589.2 171.3,589.3 166.5,593.6" fill="rgb(250,166,104)"/>
<polygon points="259.0,598.1 263.8,599.1 259.0,594.4 254.2,593.6" fill="rgb(215,142,0)"/>
<polygon points="268.5,604.2 273.3,605.7 268.5,600.5 263.8,599.1" fill="rgb(196,187,0)"/>
<polygon points="152.2,604.5 156.9,599.1 152.2,600.2 147.5,605.7" fill="rgb(250,244,90)"/>
<polygon points="200.5,584.9 205.4,582.5 200.5,581.1 195.6,583.6" fill="rgb(250,85,82)"/>
<polygon points="229.9,586.5 234.8,585.8 229.9,582.8 225.0,583.6" fill="rgb(250,45,23)"/>
<polygon points="278.0,611.3 282.7,613.3 278.0,607.6 273.3,605.7" fill="rgb(125,179,0)"/>
<polygon points="181.0,589.4 185.8,585.8 181.0,585.5 176.1,589.2" fill="rgb(250,138,104)"/>
<polygon points="190.7,586.6 195.6,583.6 190.7,582.7 185.8,585.8" fill="rgb(250,112,97)"/>
<polygon points="239.6,589.3 244.5,589.2 239.6,585.6 234.8,585.8" fill="rgb(250,63,6)"/>
<polygon points="249.3,593.2 254.2,593.6 249.3,589.5 244.5,589.2" fill="rgb(236,99,0)"/>
<polygon points="142.8,611.6 147.5,605.7 142.7,607.3 138.1,613.3" fill="rgb(198,250,80)"/>
<polygon points="287.3,619.5 292.0,622.0 287.4,615.7 282.7,613.3" fill="rgb(50,163,0)"/>
<polygon points="215.2,586.5 220.1,584.8 215.2,582.5 210.3,584.3" fill="rgb(250,52,47)"/>
<polygon points="166.5,598.0 171.3,593.3 166.5,593.6 161.7,598.4" fill="rgb(250,188,105)"/>
<polygon points="263.7,603.1 268.5,604.2 263.8,599.1 259.0,598.1" fill="rgb(208,172,0)"/>
<polygon points="138.2,618.1 142.8,611.6 138.1,613.3 133.5,619.8" fill="rgb(157,250,78)"/>
<polygon points="157.0,603.6 161.7,598.4 156.9,599.1 152.2,604.5" fill="rgb(250,226,98)"/>
<polygon points="205.4,586.6 210.3,584.3 205.4,582.5 200.5,584.9" fill="rgb(250,80,75)"/>
<polygon points="225.0,587.6 229.9,586.5 225.0,583.6 220.1,584.8" fill="rgb(250,50,33)"/>
<polygon points="273.2,609.8 278.0,611.3 273.3,605.7 268.5,604.2" fill="rgb(162,190,0)"/>
<polygon points="291.9,626.2 296.6,628.7 292.0,622.0 287.3,619.5" fill="rgb(10,159,0)"/>
<polygon points="176.2,593.5 181.0,589.4 176.1,589.2 171.3,593.3" fill="rgb(250,157,105)"/>
<polygon points="185.9,590.1 190.7,586.6 185.8,585.8 181.0,589.4" fill="rgb(250,133,105)"/>
<polygon points="195.6,587.8 200.5,584.9 195.6,583.6 190.7,586.6" fill="rgb(250,108,95)"/>
<polygon points="234.7,589.8 239.6,589.3 234.8,585.8 229.9,586.5" fill="rgb(250,60,17)"/>
<polygon points="244.5,593.2 249.3,593.2 244.5,589.2 239.6,589.3" fill="rgb(250,87,0)"/>
<polygon points="254.1,597.6 259.0,598.1 254.2,593.6 249.3,593.2" fill="rgb(229,128,0)"/>
<polygon points="147.5,610.3 152.2,604.5 147.5,605.7 142.8,611.6" fill="rgb(223,250,88)"/>
<polygon points="282.7,617.4 287.3,619.5 282.7,613.3 278.0,611.3" fill="rgb(84,173,0)"/>
<polygon points="142.9,616.6 147.5,610.3 142.8,611.6 138.2,618.1" fill="rgb(186,250,86)"/>
<polygon points="161.8,603.1 166.5,598.0 161.7,598.4 157.0,603.6" fill="rgb(250,213,105)"/>
<polygon points="210.3,588.7 215.2,586.5 210.3,584.3 205.4,586.6" fill="rgb(250,77,66)"/>
<polygon points="220.1,589.2 225.0,587.6 220.1,584.8 215.2,586.5" fill="rgb(250,60,42)"/>
<polygon points="268.5,608.6 273.2,609.8 268.5,604.2 263.7,603.1" fill="rgb(199,202,0)"/>
<polygon points="287.3,624.0 291.9,626.2 287.3,619.5 282.7,617.4" fill="rgb(42,168,0)"/>
<polygon points="171.4,598.0 176.2,593.5 171.3,593.3 166.5,598.0" fill="rgb(250,178,105)"/>
<polygon points="181.0,594.0 185.9,590.1 181.0,589.4 176.2,593.5" fill="rgb(250,150,105)"/>
<polygon points="190.8,591.1 195.6,587.8 190.7,586.6 185.9,590.1" fill="rgb(250,130,104)"/>
<polygon points="200.5,589.3 205.4,586.6 200.5,584.9 195.6,587.8" fill="rgb(250,104,90)"/>
<polygon points="229.9,590.8 234.7,589.8 229.9,586.5 225.0,587.6" fill="rgb(250,63,27)"/>
<polygon points="239.6,593.6 244.5,593.2 239.6,589.3 234.7,589.8" fill="rgb(250,81,11)"/>
<polygon points="249.3,597.5 254.1,597.6 249.3,593.2 244.5,593.2" fill="rgb(242,117,0)"/>
<polygon points="258.9,602.5 263.7,603.1 259.0,598.1 254.1,597.6" fill="rgb(221,159,0)"/>
<polygon points="133.6,625.0 138.2,618.1 133.5,619.8 129.0,626.9" fill="rgb(112,250,75)"/>
<polygon points="152.3,609.4 157.0,603.6 152.2,604.5 147.5,610.3" fill="rgb(243,250,96)"/>
<polygon points="277.9,615.7 282.7,617.4 278.0,611.3 273.2,609.8" fill="rgb(119,184,0)"/>
<polygon points="296.5,633.2 301.1,635.9 296.6,628.7 291.9,626.2" fill="rgb(0,154,30)"/>
<polygon points="147.6,615.6 152.3,609.4 147.5,610.3 142.9,616.6" fill="rgb(209,250,93)"/>
<polygon points="282.6,622.2 287.3,624.0 282.7,617.4 277.9,615.7" fill="rgb(74,178,0)"/>
<polygon points="176.2,598.4 181.0,594.0 176.2,593.5 171.4,598.0" fill="rgb(250,170,105)"/>
<polygon points="185.9,594.9 190.8,591.1 185.9,590.1 181.0,594.0" fill="rgb(250,146,105)"/>
<polygon points="195.6,592.6 200.5,589.3 195.6,587.8 190.8,591.1" fill="rgb(250,127,101)"/>
<polygon points="205.4,591.3 210.3,588.7 205.4,586.6 200.5,589.3" fill="rgb(250,102,82)"/>
<polygon points="225.0,592.3 229.9,590.8 225.0,587.6 220.1,589.2" fill="rgb(250,71,36)"/>
<polygon points="234.7,594.5 239.6,593.6 234.7,589.8 229.9,590.8" fill="rgb(250,81,20)"/>
<polygon points="244.4,597.8 249.3,597.5 244.5,593.2 239.6,593.6" fill="rgb(250,108,4)"/>
<polygon points="254.1,602.2 258.9,602.5 254.1,597.6 249.3,597.5" fill="rgb(234,148,0)"/>
<polygon points="138.3,623.5 142.9,616.6 138.2,618.1 133.6,625.0" fill="rgb(143,250,83)"/>
<polygon points="157.1,608.8 161.8,603.1 157.0,603.6 152.3,609.4" fill="rgb(250,241,103)"/>
<polygon points="166.6,603.0 171.4,598.0 166.5,598.0 161.8,603.1" fill="rgb(250,202,105)"/>
<polygon points="215.2,591.2 220.1,589.2 215.2,586.5 210.3,588.7" fill="rgb(250,76,54)"/>
<polygon points="263.7,607.8 268.5,608.6 263.7,603.1 258.9,602.5" fill="rgb(214,192,0)"/>
<polygon points="273.2,614.4 277.9,615.7 273.2,609.8 268.5,608.6" fill="rgb(153,195,0)"/>
<polygon points="291.9,630.9 296.5,633.2 291.9,626.2 287.3,624.0" fill="rgb(0,164,0)"/>
<polygon points="129.1,632.4 133.6,625.0 129.0,626.9 124.5,634.4" fill="rgb(72,250,83)"/>
<polygon points="301.0,640.7 305.6,643.5 301.1,635.9 296.5,633.2" fill="rgb(0,150,70)"/>
<polygon points="152.4,614.9 157.1,608.8 152.3,609.4 147.6,615.6" fill="rgb(227,250,100)"/>
<polygon points="277.9,620.8 282.6,622.2 277.9,615.7 273.2,614.4" fill="rgb(106,189,0)"/>
<polygon points="181.1,599.2 185.9,594.9 181.0,594.0 176.2,598.4" fill="rgb(250,165,105)"/>
<polygon points="190.8,596.2 195.6,592.6 190.8,591.1 185.9,594.9" fill="rgb(250,145,105)"/>
<polygon points="200.5,594.4 205.4,591.3 200.5,589.3 195.6,592.6" fill="rgb(250,125,95)"/>
<polygon points="229.8,595.8 234.7,594.5 229.9,590.8 225.0,592.3" fill="rgb(250,86,30)"/>
<polygon points="239.6,598.6 244.4,597.8 239.6,593.6 234.7,594.5" fill="rgb(250,105,14)"/>
<polygon points="249.3,602.4 254.1,602.2 249.3,597.5 244.4,597.8" fill="rgb(247,141,0)"/>
<polygon points="124.6,640.3 129.1,632.4 124.5,634.4 120.0,642.3" fill="rgb(69,250,133)"/>
<polygon points="143.0,622.3 147.6,615.6 142.9,616.6 138.3,623.5" fill="rgb(170,250,90)"/>
<polygon points="171.4,603.3 176.2,598.4 171.4,598.0 166.6,603.0" fill="rgb(250,193,105)"/>
<polygon points="258.9,607.4 263.7,607.8 258.9,602.5 254.1,602.2" fill="rgb(226,182,0)"/>
<polygon points="287.2,629.0 291.9,630.9 287.3,624.0 282.6,622.2" fill="rgb(30,173,0)"/>
<polygon points="305.5,648.7 310.0,651.5 305.6,643.5 301.0,640.7" fill="rgb(0,147,112)"/>
<polygon points="210.3,593.7 215.2,591.2 210.3,588.7 205.4,591.3" fill="rgb(250,100,72)"/>
<polygon points="220.1,594.2 225.0,592.3 220.1,589.2 215.2,591.2" fill="rgb(250,82,45)"/>
<polygon points="133.7,630.8 138.3,623.5 133.6,625.0 129.1,632.4" fill="rgb(96,250,79)"/>
<polygon points="161.9,608.6 166.6,603.0 161.8,603.1 157.1,608.8" fill="rgb(250,229,105)"/>
<polygon points="268.4,613.6 273.2,614.4 268.5,608.6 263.7,607.8" fill="rgb(187,206,0)"/>
<polygon points="296.4,638.4 301.0,640.7 296.5,633.2 291.9,630.9" fill="rgb(0,159,43)"/>
<polygon points="185.9,600.4 190.8,596.2 185.9,594.9 181.1,599.2" fill="rgb(250,163,105)"/>
<polygon points="195.7,598.0 200.5,594.4 195.6,592.6 190.8,596.2" fill="rgb(250,146,105)"/>
<polygon points="234.7,599.8 239.6,598.6 234.7,594.5 229.8,595.8" fill="rgb(250,107,24)"/>
<polygon points="244.4,603.1 249.3,602.4 244.4,597.8 239.6,598.6" fill="rgb(250,135,7)"/>
<polygon points="129.2,638.6 133.7,630.8 129.1,632.4 124.6,640.3" fill="rgb(76,250,109)"/>
<polygon points="147.7,621.5 152.4,614.9 147.6,615.6 143.0,622.3" fill="rgb(191,250,97)"/>
<polygon points="157.1,614.6 161.9,608.6 157.1,608.8 152.4,614.9" fill="rgb(241,250,105)"/>
<polygon points="176.3,604.0 181.1,599.2 176.2,598.4 171.4,603.3" fill="rgb(250,187,105)"/>
<polygon points="254.1,607.5 258.9,607.4 254.1,602.2 249.3,602.4" fill="rgb(238,175,0)"/>
<polygon points="273.1,619.8 277.9,620.8 273.2,614.4 268.4,613.6" fill="rgb(138,200,0)"/>
<polygon points="282.5,627.6 287.2,629.0 282.6,622.2 277.9,620.8" fill="rgb(59,183,0)"/>
<polygon points="300.9,646.2 305.5,648.7 301.0,640.7 296.4,638.4" fill="rgb(0,155,87)"/>
<polygon points="205.4,596.7 210.3,593.7 205.4,591.3 200.5,594.4" fill="rgb(250,124,87)"/>
<polygon points="225.0,597.6 229.8,595.8 225.0,592.3 220.1,594.2" fill="rgb(250,95,39)"/>
<polygon points="138.4,629.5 143.0,622.3 138.3,623.5 133.7,630.8" fill="rgb(125,250,87)"/>
<polygon points="166.7,608.7 171.4,603.3 166.6,603.0 161.9,608.6" fill="rgb(250,219,105)"/>
<polygon points="215.2,596.6 220.1,594.2 215.2,591.2 210.3,593.7" fill="rgb(250,102,60)"/>
<polygon points="263.6,613.1 268.4,613.6 263.7,607.8 258.9,607.4" fill="rgb(218,218,0)"/>
<polygon points="291.8,636.4 296.4,638.4 291.9,630.9 287.2,629.0" fill="rgb(0,168,16)"/>
<polygon points="190.8,602.0 195.7,598.0 190.8,596.2 185.9,600.4" fill="rgb(250,163,105)"/>
<polygon points="239.5,604.1 244.4,603.1 239.6,598.6 234.7,599.8" fill="rgb(250,134,17)"/>
<polygon points="133.9,637.3 138.4,629.5 133.7,630.8 129.2,638.6" fill="rgb(83,250,90)"/>
<polygon points="161.9,614.6 166.7,608.7 161.9,608.6 157.1,614.6" fill="rgb(250,248,105)"/>
<polygon points="181.1,605.1 185.9,600.4 181.1,599.2 176.3,604.0" fill="rgb(250,184,105)"/>
<polygon points="249.2,608.0 254.1,607.5 249.3,602.4 244.4,603.1" fill="rgb(250,171,1)"/>
<polygon points="268.4,619.2 273.1,619.8 268.4,613.6 263.6,613.1" fill="rgb(167,211,0)"/>
<polygon points="296.3,644.2 300.9,646.2 296.4,638.4 291.8,636.4" fill="rgb(0,163,61)"/>
<polygon points="200.6,600.1 205.4,596.7 200.5,594.4 195.7,598.0" fill="rgb(250,146,99)"/>
<polygon points="229.8,601.4 234.7,599.8 229.8,595.8 225.0,597.6" fill="rgb(250,114,32)"/>
<polygon points="143.1,628.6 147.7,621.5 143.0,622.3 138.4,629.5" fill="rgb(150,250,93)"/>
<polygon points="152.5,621.1 157.1,614.6 152.4,614.9 147.7,621.5" fill="rgb(208,250,103)"/>
<polygon points="171.5,609.3 176.3,604.0 171.4,603.3 166.7,608.7" fill="rgb(250,212,105)"/>
<polygon points="210.3,599.4 215.2,596.6 210.3,593.7 205.4,596.7" fill="rgb(250,125,77)"/>
<polygon points="220.1,599.8 225.0,597.6 220.1,594.2 215.2,596.6" fill="rgb(250,108,47)"/>
<polygon points="258.8,613.1 263.6,613.1 258.9,607.4 254.1,607.5" fill="rgb(230,212,0)"/>
<polygon points="277.8,626.5 282.5,627.6 277.9,620.8 273.1,619.8" fill="rgb(88,193,0)"/>
<polygon points="287.1,634.8 291.8,636.4 287.2,629.0 282.5,627.6" fill="rgb(12,177,0)"/>
<polygon points="138.5,636.3 143.1,628.6 138.4,629.5 133.9,637.3" fill="rgb(103,250,89)"/>
<polygon points="166.7,615.1 171.5,609.3 166.7,608.7 161.9,614.6" fill="rgb(250,240,105)"/>
<polygon points="186.0,606.6 190.8,602.0 185.9,600.4 181.1,605.1" fill="rgb(250,183,105)"/>
<polygon points="244.4,609.0 249.2,608.0 244.4,603.1 239.5,604.1" fill="rgb(250,167,10)"/>
<polygon points="263.6,619.0 268.4,619.2 263.6,613.1 258.8,613.1" fill="rgb(196,222,0)"/>
<polygon points="291.7,642.5 296.3,644.2 291.8,636.4 287.1,634.8" fill="rgb(0,172,36)"/>
<polygon points="195.7,604.1 200.6,600.1 195.7,598.0 190.8,602.0" fill="rgb(250,166,105)"/>
<polygon points="234.7,605.7 239.5,604.1 234.7,599.8 229.8,601.4" fill="rgb(250,138,26)"/>
<polygon points="157.2,621.0 161.9,614.6 157.1,614.6 152.5,621.1" fill="rgb(220,250,105)"/>
<polygon points="176.3,610.2 181.1,605.1 176.3,604.0 171.5,609.3" fill="rgb(250,207,105)"/>
<polygon points="205.4,602.7 210.3,599.4 205.4,596.7 200.6,600.1" fill="rgb(250,148,91)"/>
<polygon points="215.2,602.5 220.1,599.8 215.2,596.6 210.3,599.4" fill="rgb(250,130,64)"/>
<polygon points="224.9,603.5 229.8,601.4 225.0,597.6 220.1,599.8" fill="rgb(250,124,41)"/>
<polygon points="254.0,613.4 258.8,613.1 254.1,607.5 249.2,608.0" fill="rgb(242,209,0)"/>
<polygon points="273.0,625.8 277.8,626.5 273.1,619.8 268.4,619.2" fill="rgb(116,204,0)"/>
<polygon points="147.8,628.1 152.5,621.1 147.7,621.5 143.1,628.6" fill="rgb(170,250,100)"/>
<polygon points="282.4,633.6 287.1,634.8 282.5,627.6 277.8,626.5" fill="rgb(38,187,0)"/>
<polygon points="171.6,615.9 176.3,610.2 171.5,609.3 166.7,615.1" fill="rgb(250,234,105)"/>
<polygon points="258.8,619.3 263.6,619.0 258.8,613.1 254.0,613.4" fill="rgb(221,234,0)"/>
<polygon points="143.2,635.6 147.8,628.1 143.1,628.6 138.5,636.3" fill="rgb(126,250,95)"/>
<polygon points="162.0,621.3 166.7,615.1 161.9,614.6 157.2,621.0" fill="rgb(229,250,105)"/>
<polygon points="181.2,611.6 186.0,606.6 181.1,605.1 176.3,610.2" fill="rgb(250,206,105)"/>
<polygon points="190.9,608.5 195.7,604.1 190.8,602.0 186.0,606.6" fill="rgb(250,185,105)"/>
<polygon points="200.6,606.5 205.4,602.7 200.6,600.1 195.7,604.1" fill="rgb(250,170,101)"/>
<polygon points="210.3,605.7 215.2,602.5 210.3,599.4 205.4,602.7" fill="rgb(250,152,80)"/>
<polygon points="220.1,606.1 224.9,603.5 220.1,599.8 215.2,602.5" fill="rgb(250,139,50)"/>
<polygon points="229.8,607.7 234.7,605.7 229.8,601.4 224.9,603.5" fill="rgb(250,146,34)"/>
<polygon points="239.5,610.4 244.4,609.0 239.5,604.1 234.7,605.7" fill="rgb(250,167,19)"/>
<polygon points="249.2,614.3 254.0,613.4 249.2,608.0 244.4,609.0" fill="rgb(250,206,3)"/>
<polygon points="268.3,625.5 273.0,625.8 268.4,619.2 263.6,619.0" fill="rgb(142,215,0)"/>
<polygon points="287.0,641.2 291.7,642.5 287.1,634.8 282.4,633.6" fill="rgb(0,181,12)"/>
<polygon points="152.6,627.9 157.2,621.0 152.5,621.1 147.8,628.1" fill="rgb(185,250,105)"/>
<polygon points="277.7,632.8 282.4,633.6 277.8,626.5 273.0,625.8" fill="rgb(63,197,0)"/>
<polygon points="176.4,617.1 181.2,611.6 176.3,610.2 171.6,615.9" fill="rgb(250,232,105)"/>
<polygon points="253.9,620.0 258.8,619.3 254.0,613.4 249.2,614.3" fill="rgb(243,246,0)"/>
<polygon points="148.0,635.3 152.6,627.9 147.8,628.1 143.2,635.6" fill="rgb(145,250,101)"/>
<polygon points="166.8,622.1 171.6,615.9 166.7,615.1 162.0,621.3" fill="rgb(236,250,105)"/>
<polygon points="205.5,609.4 210.3,605.7 205.4,602.7 200.6,606.5" fill="rgb(250,174,92)"/>
<polygon points="215.2,609.1 220.1,606.1 215.2,602.5 210.3,605.7" fill="rgb(250,160,67)"/>
<polygon points="224.9,610.1 229.8,607.7 224.9,603.5 220.1,606.1" fill="rgb(250,157,42)"/>
<polygon points="263.5,625.6 268.3,625.5 263.6,619.0 258.8,619.3" fill="rgb(165,226,0)"/>
<polygon points="282.3,640.3 287.0,641.2 282.4,633.6 277.7,632.8" fill="rgb(11,191,0)"/>
<polygon points="195.7,610.8 200.6,606.5 195.7,604.1 190.9,608.5" fill="rgb(250,190,105)"/>
<polygon points="234.6,612.2 239.5,610.4 234.7,605.7 229.8,607.7" fill="rgb(250,173,28)"/>
<polygon points="157.4,628.1 162.0,621.3 157.2,621.0 152.6,627.9" fill="rgb(195,250,105)"/>
<polygon points="186.1,613.4 190.9,608.5 186.0,606.6 181.2,611.6" fill="rgb(250,207,105)"/>
<polygon points="244.3,615.5 249.2,614.3 244.4,609.0 239.5,610.4" fill="rgb(250,204,12)"/>
<polygon points="272.9,632.4 277.7,632.8 273.0,625.8 268.3,625.5" fill="rgb(87,208,0)"/>
<polygon points="152.7,635.4 157.4,628.1 152.6,627.9 148.0,635.3" fill="rgb(159,250,105)"/>
<polygon points="171.7,623.2 176.4,617.1 171.6,615.9 166.8,622.1" fill="rgb(240,250,105)"/>
<polygon points="181.3,618.8 186.1,613.4 181.2,611.6 176.4,617.1" fill="rgb(250,231,105)"/>
<polygon points="200.6,613.5 205.5,609.4 200.6,606.5 195.7,610.8" fill="rgb(250,196,102)"/>
<polygon points="210.3,612.7 215.2,609.1 210.3,605.7 205.5,609.4" fill="rgb(250,182,81)"/>
<polygon points="220.0,613.0 224.9,610.1 220.1,606.1 215.2,609.1" fill="rgb(250,174,53)"/>
<polygon points="229.8,614.6 234.6,612.2 229.8,607.7 224.9,610.1" fill="rgb(250,182,36)"/>
<polygon points="249.1,621.2 253.9,620.0 249.2,614.3 244.3,615.5" fill="rgb(250,246,6)"/>
<polygon points="258.7,626.2 263.5,625.6 258.8,619.3 253.9,620.0" fill="rgb(186,237,0)"/>
<polygon points="277.6,639.8 282.3,640.3 277.7,632.8 272.9,632.4" fill="rgb(33,201,0)"/>
<polygon points="162.1,628.7 166.8,622.1 162.0,621.3 157.4,628.1" fill="rgb(203,250,105)"/>
<polygon points="268.2,632.4 272.9,632.4 268.3,625.5 263.5,625.6" fill="rgb(109,218,0)"/>
<polygon points="190.9,615.6 195.7,610.8 190.9,608.5 186.1,613.4" fill="rgb(250,210,105)"/>
<polygon points="239.4,617.3 244.3,615.5 239.5,610.4 234.6,612.2" fill="rgb(250,206,21)"/>
<polygon points="157.5,635.9 162.1,628.7 157.4,628.1 152.7,635.4" fill="rgb(167,250,105)"/>
<polygon points="215.2,616.4 220.0,613.0 215.2,609.1 210.3,612.7" fill="rgb(250,194,68)"/>
<polygon points="272.8,639.7 277.6,639.8 272.9,632.4 268.2,632.4" fill="rgb(53,211,0)"/>
<polygon points="167.0,629.7 171.7,623.2 166.8,622.1 162.1,628.7" fill="rgb(208,250,105)"/>
<polygon points="176.5,624.7 181.3,618.8 176.4,617.1 171.7,623.2" fill="rgb(241,250,105)"/>
<polygon points="186.1,620.8 190.9,615.6 186.1,613.4 181.3,618.8" fill="rgb(250,234,105)"/>
<polygon points="195.8,618.2 200.6,613.5 195.7,610.8 190.9,615.6" fill="rgb(250,216,105)"/>
<polygon points="205.5,616.7 210.3,612.7 205.5,609.4 200.6,613.5" fill="rgb(250,203,93)"/>
<polygon points="224.9,617.3 229.8,614.6 224.9,610.1 220.0,613.0" fill="rgb(250,195,43)"/>
<polygon points="234.6,619.5 239.4,617.3 234.6,612.2 229.8,614.6" fill="rgb(250,212,29)"/>
<polygon points="244.2,622.8 249.1,621.2 244.3,615.5 239.4,617.3" fill="rgb(250,245,14)"/>
<polygon points="253.8,627.2 258.7,626.2 253.9,620.0 249.1,621.2" fill="rgb(203,249,0)"/>
<polygon points="263.4,632.9 268.2,632.4 263.5,625.6 258.7,626.2" fill="rgb(128,229,0)"/>
<polygon points="162.3,636.8 167.0,629.7 162.1,628.7 157.5,635.9" fill="rgb(173,250,105)"/>
<polygon points="191.0,623.3 195.8,618.2 190.9,615.6 186.1,620.8" fill="rgb(250,239,105)"/>
<polygon points="210.3,620.3 215.2,616.4 210.3,612.7 205.5,616.7" fill="rgb(250,215,81)"/>
<polygon points="220.0,620.6 224.9,617.3 220.0,613.0 215.2,616.4" fill="rgb(250,212,54)"/>
<polygon points="239.4,624.8 244.2,622.8 239.4,617.3 234.6,619.5" fill="rgb(250,249,22)"/>
<polygon points="268.0,640.0 272.8,639.7 268.2,632.4 263.4,632.9" fill="rgb(70,221,0)"/>
<polygon points="171.8,631.1 176.5,624.7 171.7,623.2 167.0,629.7" fill="rgb(210,250,105)"/>
<polygon points="181.3,626.6 186.1,620.8 181.3,618.8 176.5,624.7" fill="rgb(239,250,105)"/>
<polygon points="200.6,621.2 205.5,616.7 200.6,613.5 195.8,618.2" fill="rgb(250,225,101)"/>
<polygon points="229.7,622.1 234.6,619.5 229.8,614.6 224.9,617.3" fill="rgb(250,223,37)"/>
<polygon points="249.0,628.7 253.8,627.2 249.1,621.2 244.2,622.8" fill="rgb(208,250,7)"/>
<polygon points="258.6,633.8 263.4,632.9 258.7,626.2 253.8,627.2" fill="rgb(144,240,0)"/>
<polygon points="167.1,638.0 171.8,631.1 167.0,629.7 162.3,636.8" fill="rgb(177,250,105)"/>
<polygon points="186.2,628.9 191.0,623.3 186.1,620.8 181.3,626.6" fill="rgb(235,250,105)"/>
<polygon points="195.8,626.2 200.6,621.2 195.8,618.2 191.0,623.3" fill="rgb(250,247,105)"/>
<polygon points="205.5,624.7 210.3,620.3 205.5,616.7 200.6,621.2" fill="rgb(250,236,92)"/>
<polygon points="215.2,624.3 220.0,620.6 215.2,616.4 210.3,620.3" fill="rgb(250,231,68)"/>
<polygon points="224.9,625.2 229.7,622.1 224.9,617.3 220.0,620.6" fill="rgb(250,237,44)"/>
<polygon points="234.5,627.3 239.4,624.8 234.6,619.5 229.7,622.1" fill="rgb(243,250,30)"/>
<polygon points="244.2,630.6 249.0,628.7 244.2,622.8 239.4,624.8" fill="rgb(208,250,15)"/>
<polygon points="263.3,640.8 268.0,640.0 263.4,632.9 258.6,633.8" fill="rgb(84,232,0)"/>
<polygon points="176.6,632.9 181.3,626.6 176.5,624.7 171.8,631.1" fill="rgb(210,250,105)"/>
<polygon points="253.8,635.1 258.6,633.8 253.8,627.2 249.0,628.7" fill="rgb(155,250,1)"/>
<polygon points="200.7,629.5 205.5,624.7 200.6,621.2 195.8,626.2" fill="rgb(243,250,100)"/>
<polygon points="229.7,630.3 234.5,627.3 229.7,622.1 224.9,625.2" fill="rgb(232,250,37)"/>
<polygon points="171.9,639.7 176.6,632.9 171.8,631.1 167.1,638.0" fill="rgb(178,250,105)"/>
<polygon points="181.4,635.1 186.2,628.9 181.3,626.6 176.6,632.9" fill="rgb(207,250,105)"/>
<polygon points="191.0,631.7 195.8,626.2 191.0,623.3 186.2,628.9" fill="rgb(229,250,105)"/>
<polygon points="210.3,628.6 215.2,624.3 210.3,620.3 205.5,624.7" fill="rgb(249,250,80)"/>
<polygon points="220.0,628.8 224.9,625.2 220.0,620.6 215.2,624.3" fill="rgb(246,250,54)"/>
<polygon points="239.3,633.0 244.2,630.6 239.4,624.8 234.5,627.3" fill="rgb(203,250,23)"/>
<polygon points="248.9,636.9 253.8,635.1 249.0,628.7 244.2,630.6" fill="rgb(158,250,9)"/>
<polygon points="258.5,642.0 263.3,640.8 258.6,633.8 253.8,635.1" fill="rgb(95,242,0)"/>
<polygon points="176.7,641.8 181.4,635.1 176.6,632.9 171.9,639.7" fill="rgb(176,250,105)"/>
<polygon points="195.9,634.9 200.7,629.5 195.8,626.2 191.0,631.7" fill="rgb(220,250,105)"/>
<polygon points="205.5,633.3 210.3,628.6 205.5,624.7 200.7,629.5" fill="rgb(228,250,90)"/>
<polygon points="224.8,633.8 229.7,630.3 224.9,625.2 220.0,628.8" fill="rgb(217,250,44)"/>
<polygon points="234.5,635.9 239.3,633.0 234.5,627.3 229.7,630.3" fill="rgb(194,250,31)"/>
<polygon points="253.6,643.7 258.5,642.0 253.8,635.1 248.9,636.9" fill="rgb(101,250,2)"/>
<polygon points="186.3,637.7 191.0,631.7 186.2,628.9 181.4,635.1" fill="rgb(202,250,105)"/>
<polygon points="215.2,632.9 220.0,628.8 215.2,624.3 210.3,628.6" fill="rgb(228,250,68)"/>
<polygon points="244.1,639.2 248.9,636.9 244.2,630.6 239.3,633.0" fill="rgb(156,250,16)"/>
<polygon points="181.5,644.2 186.3,637.7 181.4,635.1 176.7,641.8" fill="rgb(172,250,105)"/>
<polygon points="191.1,640.8 195.9,634.9 191.0,631.7 186.3,637.7" fill="rgb(194,250,105)"/>
<polygon points="200.7,638.5 205.5,633.3 200.7,629.5 195.9,634.9" fill="rgb(206,250,98)"/>
<polygon points="210.4,637.5 215.2,632.9 210.3,628.6 205.5,633.3" fill="rgb(208,250,79)"/>
<polygon points="220.0,637.7 224.8,633.8 220.0,628.8 215.2,632.9" fill="rgb(200,250,53)"/>
<polygon points="229.6,639.2 234.5,635.9 229.7,630.3 224.8,633.8" fill="rgb(182,250,37)"/>
<polygon points="239.3,641.9 244.1,639.2 239.3,633.0 234.5,635.9" fill="rgb(150,250,24)"/>
<polygon points="248.8,645.8 253.6,643.7 248.9,636.9 244.1,639.2" fill="rgb(103,250,10)"/>
<polygon points="186.3,647.1 191.1,640.8 186.3,637.7 181.5,644.2" fill="rgb(165,250,105)"/>
<polygon points="215.2,642.1 220.0,637.7 215.2,632.9 210.4,637.5" fill="rgb(182,250,66)"/>
<polygon points="244.0,648.3 248.8,645.8 244.1,639.2 239.3,641.9" fill="rgb(100,250,17)"/>
<polygon points="195.9,644.2 200.7,638.5 195.9,634.9 191.1,640.8" fill="rgb(182,250,103)"/>
<polygon points="205.5,642.6 210.4,637.5 205.5,633.3 200.7,638.5" fill="rgb(187,250,88)"/>
<polygon points="224.8,643.0 229.6,639.2 224.8,633.8 220.0,637.7" fill="rgb(166,250,43)"/>
<polygon points="234.4,645.0 239.3,641.9 234.5,635.9 229.6,639.2" fill="rgb(141,250,31)"/>
<polygon points="191.2,650.5 195.9,644.2 191.1,640.8 186.3,647.1" fill="rgb(155,250,105)"/>
<polygon points="210.4,647.1 215.2,642.1 210.4,637.5 205.5,642.6" fill="rgb(162,250,77)"/>
<polygon points="220.0,647.3 224.8,643.0 220.0,637.7 215.2,642.1" fill="rgb(148,250,52)"/>
<polygon points="239.2,651.4 244.0,648.3 239.3,641.9 234.4,645.0" fill="rgb(93,250,24)"/>
<polygon points="200.7,648.2 205.5,642.6 200.7,638.5 195.9,644.2" fill="rgb(165,250,95)"/>
<polygon points="229.6,648.7 234.4,645.0 229.6,639.2 224.8,643.0" fill="rgb(127,250,37)"/>
<polygon points="196.0,654.3 200.7,648.2 195.9,644.2 191.2,650.5" fill="rgb(140,250,100)"/>
<polygon points="205.6,652.5 210.4,647.1 205.5,642.6 200.7,648.2" fill="rgb(141,250,85)"/>
<polygon points="215.2,652.0 220.0,647.3 215.2,642.1 210.4,647.1" fill="rgb(131,250,64)"/>
<polygon points="224.8,652.8 229.6,648.7 224.8,643.0 220.0,647.3" fill="rgb(110,250,43)"/>
<polygon points="234.4,654.9 239.2,651.4 234.4,645.0 229.6,648.7" fill="rgb(82,250,31)"/>
<polygon points="200.8,658.5 205.6,652.5 200.7,648.2 196.0,654.3" fill="rgb(118,250,92)"/>
<polygon points="229.5,658.9 234.4,654.9 229.6,648.7 224.8,652.8" fill="rgb(68,250,37)"/>
<polygon points="210.4,657.3 215.2,652.0 210.4,647.1 205.6,652.5" fill="rgb(112,250,74)"/>
<polygon points="220.0,657.5 224.8,652.8 220.0,647.3 215.2,652.0" fill="rgb(92,250,50)"/>
<polygon points="205.6,663.1 210.4,657.3 205.6,652.5 200.8,658.5" fill="rgb(91,250,83)"/>
<polygon points="224.7,663.4 229.5,658.9 224.8,652.8 220.0,657.5" fill="rgb(50,250,43)"/>
<polygon points="215.2,662.6 220.0,657.5 215.2,652.0 210.4,657.3" fill="rgb(75,250,62)"/>
<polygon points="210.4,668.3 215.2,662.6 210.4,657.3 205.6,663.1" fill="rgb(72,250,87)"/>
<polygon points="219.9,668.3 224.7,663.4 220.0,657.5 215.2,662.6" fill="rgb(48,250,67)"/>
<polygon points="215.1,673.8 219.9,668.3 215.2,662.6 210.4,668.3" fill="rgb(59,250,105)"/>
</g>
<line x1="206.1" y1="548.7" x2="206.1" y2="573.0" stroke="#222" stroke-width="0.6"/>
<rect x="189.0" y="548.9" width="17" height="6.1" fill="#fff" stroke="#222" stroke-width="0.5"/>
<text x="197.5" y="553.4" font-size="3.9" text-anchor="middle" fill="#111" font-family="Liberation Sans, sans-serif">97.2652</text>
<text transform="translate(90.3,644.2) rotate(-90)" font-size="7.0" text-anchor="middle" fill="#2e2e2e" stroke="#2e2e2e" stroke-width="0.1" textLength="30.6" lengthAdjust="spacingAndGlyphs" font-family="Liberation Sans, sans-serif">R% For AT</text>
<text x="133.5" y="746.2" font-size="7.2" text-anchor="middle" fill="#2e2e2e" stroke="#2e2e2e" stroke-width="0.1" textLength="75.2" lengthAdjust="spacingAndGlyphs" font-family="Liberation Sans, sans-serif">D: H2O2 concentration</text>
<text x="297.5" y="746.2" font-size="7.2" text-anchor="middle" fill="#2e2e2e" stroke="#2e2e2e" stroke-width="0.1" textLength="60.0" lengthAdjust="spacingAndGlyphs" font-family="Liberation Sans, sans-serif">C: Catalyst amount</text>
</g>
<g id="panel-d">
<text x="347.7" y="7.6" font-size="5.80" fill="#1a1a1a" stroke="#1a1a1a" stroke-width="0.1" font-family="Liberation Sans, sans-serif" >Factor Coding: Actual</text>
<text x="347.7" y="26.6" font-size="5.80" fill="#000" stroke="#000" stroke-width="0.1" font-family="Liberation Sans, sans-serif" font-weight="bold" textLength="29.5" lengthAdjust="spacingAndGlyphs">R% for ME</text>
<rect x="363.3" y="30.0" width="21.6" height="8.6" fill="url(#lg)" stroke="#10104a" stroke-width="0.5"/>
<text x="347.7" y="36.4" font-size="5.60" fill="#2b2b9c" stroke="#2b2b9c" stroke-width="0.1" font-family="Liberation Sans, sans-serif" >62.62</text>
<text x="387.4" y="36.4" font-size="5.60" fill="#c0262c" stroke="#c0262c" stroke-width="0.1" font-family="Liberation Sans, sans-serif" >95.42</text>
<text x="347.7" y="54.6" font-size="5.80" fill="#1a1a1a" stroke="#1a1a1a" stroke-width="0.1" font-family="Liberation Sans, sans-serif" >X1 = A</text>
<text x="347.7" y="64.3" font-size="5.80" fill="#1a1a1a" stroke="#1a1a1a" stroke-width="0.1" font-family="Liberation Sans, sans-serif" >X2 = B</text>
<text x="347.7" y="82.5" font-size="5.70" fill="#000" stroke="#000" stroke-width="0.1" font-family="Liberation Sans, sans-serif" font-weight="bold">Actual Factors</text>
<text x="347.7" y="92.3" font-size="5.80" fill="#1a1a1a" stroke="#1a1a1a" stroke-width="0.1" font-family="Liberation Sans, sans-serif" >C = 0.443439</text>
<text x="347.7" y="102.0" font-size="5.80" fill="#1a1a1a" stroke="#1a1a1a" stroke-width="0.1" font-family="Liberation Sans, sans-serif" >D = 0.628142</text>
<text x="420.4" y="14.0" font-size="8.0" font-weight="bold" fill="#111" text-anchor="middle" font-family="Liberation Sans, sans-serif">(d)</text>
<text x="576.6" y="13.7" font-size="6.3" text-anchor="middle" fill="#2e2e2e" stroke="#2e2e2e" stroke-width="0.12" font-family="Liberation Sans, sans-serif">3D Surface</text>
<polyline points="467.0,166.2 560.5,134.4 654.2,166.2" stroke="#2a2a2a" stroke-width="0.7" fill="none"/>
<polyline points="465.8,142.1 560.5,112.7 655.4,142.0" stroke="#2a2a2a" stroke-width="0.7" fill="none"/>
<polyline points="464.6,118.0 560.5,91.1 656.5,117.9" stroke="#2a2a2a" stroke-width="0.7" fill="none"/>
<polyline points="463.4,93.9 560.5,69.4 657.7,93.8" stroke="#2a2a2a" stroke-width="0.7" fill="none"/>
<polyline points="462.1,69.8 560.5,47.7 658.9,69.7" stroke="#2a2a2a" stroke-width="0.7" fill="none"/>
<line x1="468.5" y1="196.3" x2="462.1" y2="69.8" stroke="#2a2a2a" stroke-width="0.7" fill="none"/>
<line x1="490.3" y1="158.2" x2="486.7" y2="64.3" stroke="#2a2a2a" stroke-width="0.7" fill="none"/>
<line x1="513.7" y1="150.3" x2="511.3" y2="58.8" stroke="#2a2a2a" stroke-width="0.7" fill="none"/>
<line x1="537.1" y1="142.3" x2="535.9" y2="53.2" stroke="#2a2a2a" stroke-width="0.7" fill="none"/>
<line x1="652.7" y1="196.3" x2="658.9" y2="69.7" stroke="#2a2a2a" stroke-width="0.7" fill="none"/>
<line x1="630.7" y1="158.2" x2="634.3" y2="64.2" stroke="#2a2a2a" stroke-width="0.7" fill="none"/>
<line x1="607.3" y1="150.3" x2="609.7" y2="58.7" stroke="#2a2a2a" stroke-width="0.7" fill="none"/>
<line x1="583.9" y1="142.3" x2="585.1" y2="53.2" stroke="#2a2a2a" stroke-width="0.7" fill="none"/>
<line x1="560.5" y1="161.5" x2="560.5" y2="134.4" stroke="#a8a8a8" stroke-width="0.8"/>
<line x1="560.5" y1="134.4" x2="560.5" y2="47.7" stroke="#2a2a2a" stroke-width="0.7" fill="none"/>
<polygon points="468.5,196.3 560.5,161.5 652.7,196.3 560.5,240.2" fill="#5e5e5e" stroke="#151515" stroke-width="0.7"/>
<polyline points="478.6,201.1 478.6,200.3 478.6,200.2 478.7,199.3 478.7,199.2 478.8,198.3 478.8,198.3 478.9,197.3 479.0,197.2 479.1,196.4 479.2,196.2 479.3,195.5 479.4,195.1 479.5,194.7 479.7,194.0 479.7,193.8 480.0,192.9 480.0,192.9 480.2,192.1 480.3,191.8" fill="none" stroke="rgb(50,206,38)" stroke-width="1.5" stroke-linecap="round"/>
<polyline points="490.4,206.8 490.4,206.7 490.2,205.7 490.2,205.7 490.2,204.8 490.1,204.6 490.1,203.8 490.1,203.6 490.1,202.8 490.1,202.6 490.1,201.8 490.1,201.6 490.1,200.8 490.1,200.6 490.2,199.8 490.2,199.7 490.3,198.7 490.3,198.7 490.5,197.8 490.5,197.7 490.7,196.9 490.7,196.6 490.9,196.0 491.0,195.5 491.1,195.2 491.3,194.4 491.3,194.3 491.6,193.5 491.7,193.3 491.9,192.6 492.1,192.2 492.2,191.8 492.6,191.0 492.6,191.0 492.9,190.2 493.1,189.9 493.3,189.4 493.7,188.7 493.7,188.6 494.2,187.9 494.4,187.4 494.6,187.1 495.1,186.4 495.2,186.2" fill="none" stroke="rgb(125,206,38)" stroke-width="1.5" stroke-linecap="round"/>
<polyline points="505.0,213.7 504.7,213.1 504.5,212.5 504.4,212.2 504.1,211.3 504.1,211.3 503.9,210.3 503.8,210.1 503.6,209.4 503.5,208.9 503.4,208.5 503.3,207.8 503.3,207.5 503.1,206.7 503.1,206.6 503.0,205.7 503.0,205.6 502.9,204.6 502.9,204.6 502.9,203.7 502.9,203.6 502.9,202.7 502.9,202.6 503.0,201.6 503.0,201.6 503.1,200.7 503.1,200.6 503.2,199.8 503.2,199.6 503.3,198.8 503.4,198.5 503.5,197.9 503.6,197.4 503.7,197.1 503.9,196.3 504.0,196.2 504.2,195.3 504.3,195.2 504.5,194.5 504.7,194.1 504.9,193.7 505.2,192.9 505.2,192.8 505.6,192.0 505.7,191.7 506.0,191.3 506.4,190.5 506.4,190.5 506.8,189.7 507.1,189.3 507.3,189.0 507.8,188.2 507.9,188.0 508.3,187.5 508.8,186.8 508.9,186.7 509.4,186.1 509.9,185.4 510.0,185.3 510.5,184.7 511.1,184.0 511.2,183.9 511.7,183.3 512.4,182.7 512.7,182.4 513.0,182.0 513.7,181.4 514.4,180.8 514.4,180.7 515.1,180.1 515.9,179.5 516.4,179.1 516.6,178.9 517.4,178.3 518.2,177.7 518.8,177.3" fill="none" stroke="rgb(199,206,38)" stroke-width="1.5" stroke-linecap="round"/>
<polyline points="556.9,162.9 557.1,162.8 558.7,162.6 560.4,162.4 560.5,162.3 562.2,162.1" fill="none" stroke="rgb(199,206,38)" stroke-width="1.5" stroke-linecap="round"/>
<polyline points="526.9,224.2 526.3,223.6 525.7,222.8 525.3,222.4 525.0,222.0 524.4,221.3 524.0,220.7 523.8,220.5 523.3,219.7 522.9,219.1 522.7,218.9 522.2,218.1 521.9,217.6 521.7,217.2 521.2,216.4 521.1,216.2 520.8,215.5 520.4,214.9 520.4,214.7 520.0,213.8 519.9,213.6 519.6,213.0 519.4,212.3 519.3,212.1 519.0,211.2 519.0,211.1 518.7,210.3 518.6,209.9 518.5,209.3 518.4,208.8 518.3,208.4 518.2,207.7 518.2,207.5 518.0,206.6 518.0,206.5 518.0,205.6 518.0,205.5 517.9,204.5 517.9,204.5 517.9,203.6 517.9,203.5 518.0,202.6 518.0,202.5 518.1,201.6 518.1,201.5 518.2,200.7 518.3,200.4 518.4,199.8 518.5,199.3 518.6,198.9 518.8,198.2 518.9,198.0 519.2,197.2 519.2,197.1 519.5,196.3 519.6,195.9 519.8,195.5 520.2,194.7 520.2,194.7 520.6,193.9 520.8,193.5 521.0,193.1 521.5,192.4 521.6,192.2 522.0,191.6 522.4,190.9 522.5,190.9 523.0,190.1 523.5,189.6 523.6,189.4 524.2,188.7 524.7,188.1 524.8,188.0 525.4,187.4 526.1,186.7 526.2,186.6 526.8,186.0 527.5,185.4 528.0,184.9 528.2,184.8 528.9,184.1 529.7,183.5 530.4,183.0 530.5,182.9 531.3,182.3 532.2,181.8 533.0,181.2 533.6,180.8 533.9,180.6 534.8,180.1 535.8,179.6 536.7,179.0 537.7,178.5 538.7,178.0 539.8,177.5 539.8,177.5 540.8,177.0 541.9,176.5 543.0,176.1 544.2,175.6 545.4,175.2 546.6,174.8 547.8,174.4 548.2,174.2 549.1,174.0 550.4,173.6 551.7,173.2 553.1,172.8 554.5,172.5 555.7,172.2 555.9,172.2 557.4,171.8 559.0,171.6 560.2,171.3 560.6,171.3 562.2,171.0 563.9,170.8 563.9,170.8 565.7,170.6 567.1,170.4 567.6,170.4 569.5,170.3 569.9,170.2 571.5,170.1 572.5,170.1 573.7,170.1 575.0,170.0 575.9,170.0 577.2,170.0 578.4,170.0 579.4,170.1 580.9,170.1 581.4,170.1 583.3,170.3 583.8,170.3" fill="none" stroke="rgb(206,138,38)" stroke-width="1.5" stroke-linecap="round"/>
<polyline points="642.7,201.1 642.2,200.3 642.2,200.2 641.8,199.5 641.4,198.9 641.3,198.8 640.8,198.0 640.5,197.5 640.3,197.3 639.7,196.5 639.5,196.2 639.2,195.8 638.6,195.1 638.3,194.8 638.0,194.4 637.4,193.7 637.1,193.3 636.8,193.0 636.2,192.3 635.6,191.8 635.5,191.7 634.8,191.0 634.2,190.3 634.0,190.2 633.5,189.7 632.8,189.1 632.2,188.6" fill="none" stroke="rgb(206,138,38)" stroke-width="1.5" stroke-linecap="round"/>
<polyline points="570.9,235.2 570.7,235.2 569.4,234.8 568.0,234.4 566.7,234.0 565.4,233.5 564.1,233.1 562.8,232.6 562.3,232.3 561.6,232.1 560.4,231.6 559.2,231.0 558.1,230.5 557.0,229.9 556.4,229.6 555.9,229.3 554.9,228.8 553.8,228.2 552.8,227.6 551.9,226.9 550.9,226.3 550.0,225.7 549.6,225.4 549.1,225.0 548.3,224.3 547.4,223.7 546.6,223.0 546.5,222.9 545.8,222.3 545.1,221.6 544.4,220.8 544.4,220.8 543.7,220.1 543.0,219.4 542.7,219.0 542.4,218.6 541.8,217.8 541.5,217.4 541.2,217.0 540.7,216.2 540.4,215.9 540.2,215.4 539.7,214.6 539.6,214.5 539.2,213.8 538.9,213.2 538.8,212.9 538.5,212.1 538.4,211.9 538.2,211.2 538.0,210.7 537.9,210.3 537.7,209.5 537.6,209.4 537.4,208.4 537.4,208.4 537.3,207.5 537.3,207.3 537.2,206.5 537.2,206.3 537.2,205.5 537.2,205.3 537.2,204.5 537.3,204.3 537.4,203.4 537.4,203.3 537.5,202.4 537.5,202.4 537.7,201.5 537.8,201.3 538.0,200.6 538.2,200.1 538.3,199.8 538.7,198.9 538.7,198.9 539.1,198.1 539.3,197.7 539.5,197.3 540.0,196.6 540.1,196.4 540.5,195.8 541.0,195.1 541.1,195.0 541.6,194.4 542.2,193.7 542.4,193.5 542.9,193.0 543.6,192.3 544.2,191.8 544.3,191.7 545.1,191.0 545.9,190.4 546.7,189.8 546.7,189.8 547.6,189.2 548.5,188.6 549.4,188.1 550.4,187.5 551.4,187.0 552.5,186.5 552.5,186.5 553.5,186.0 554.7,185.5 555.9,185.1 556.7,184.8 557.1,184.6 558.3,184.2 559.7,183.8 561.0,183.4 562.5,183.1 563.9,182.7 564.0,182.7 565.5,182.4 567.2,182.1 567.9,182.0 568.9,181.9 570.7,181.7 571.1,181.7 572.6,181.5 573.9,181.5 574.7,181.4 576.4,181.4 576.9,181.4 578.6,181.4 579.3,181.4 580.7,181.4 581.9,181.5 582.7,181.5 584.6,181.7 584.9,181.7 586.4,181.9 588.1,182.1 588.4,182.1 589.7,182.4 591.2,182.6 592.7,182.9 592.9,183.0 594.2,183.3 595.6,183.6 596.9,184.0 598.2,184.3 599.5,184.7 600.7,185.2 601.9,185.6 603.1,186.0 604.2,186.5 605.3,187.0 606.4,187.4 607.4,187.9 608.5,188.4 609.4,189.0 610.4,189.5 611.3,190.0 611.9,190.4 612.3,190.6 613.1,191.2 614.0,191.7 614.9,192.3 615.4,192.7 615.7,192.9 616.5,193.5 617.2,194.2 617.8,194.6 618.0,194.8 618.7,195.5 619.4,196.1 619.7,196.3 620.1,196.8 620.8,197.5 621.2,197.9 621.4,198.2 622.0,198.9 622.5,199.4 622.6,199.6 623.1,200.3 623.5,200.8 623.7,201.1 624.2,201.8 624.4,202.2 624.7,202.6 625.1,203.4 625.2,203.5 625.6,204.2 625.8,204.7 626.0,205.0 626.3,205.8 626.4,206.0 626.7,206.7 626.8,207.2 627.0,207.5 627.2,208.3 627.2,208.4" fill="none" stroke="rgb(206,63,38)" stroke-width="1.5" stroke-linecap="round"/>
<circle cx="467.0" cy="166.2" r="0.95" fill="#111"/>
<text x="463.8" y="163.9" font-size="6.2" text-anchor="end" fill="#2e2e2e" stroke="#2e2e2e" stroke-width="0.12" font-family="Liberation Sans, sans-serif">60</text>
<circle cx="465.8" cy="142.1" r="0.95" fill="#111"/>
<text x="462.6" y="139.8" font-size="6.2" text-anchor="end" fill="#2e2e2e" stroke="#2e2e2e" stroke-width="0.12" font-family="Liberation Sans, sans-serif">70</text>
<circle cx="464.6" cy="118.0" r="0.95" fill="#111"/>
<text x="461.4" y="115.7" font-size="6.2" text-anchor="end" fill="#2e2e2e" stroke="#2e2e2e" stroke-width="0.12" font-family="Liberation Sans, sans-serif">80</text>
<circle cx="463.4" cy="93.9" r="0.95" fill="#111"/>
<text x="460.2" y="91.6" font-size="6.2" text-anchor="end" fill="#2e2e2e" stroke="#2e2e2e" stroke-width="0.12" font-family="Liberation Sans, sans-serif">90</text>
<circle cx="462.1" cy="69.8" r="0.95" fill="#111"/>
<text x="458.9" y="67.5" font-size="6.2" text-anchor="end" fill="#2e2e2e" stroke="#2e2e2e" stroke-width="0.12" font-family="Liberation Sans, sans-serif">100</text>
<circle cx="560.5" cy="240.2" r="0.95" fill="#111"/>
<text x="556.9" y="246.7" font-size="6.2" text-anchor="end" fill="#2e2e2e" stroke="#2e2e2e" stroke-width="0.12" font-family="Liberation Sans, sans-serif">-1</text>
<circle cx="560.5" cy="240.2" r="0.95" fill="#111"/>
<text x="564.4" y="246.7" font-size="6.2" text-anchor="start" fill="#2e2e2e" stroke="#2e2e2e" stroke-width="0.12" font-family="Liberation Sans, sans-serif">-1</text>
<circle cx="537.5" cy="229.2" r="0.95" fill="#111"/>
<text x="533.9" y="235.7" font-size="6.2" text-anchor="end" fill="#2e2e2e" stroke="#2e2e2e" stroke-width="0.12" font-family="Liberation Sans, sans-serif">-0.5</text>
<circle cx="583.5" cy="229.2" r="0.95" fill="#111"/>
<text x="587.4" y="235.7" font-size="6.2" text-anchor="start" fill="#2e2e2e" stroke="#2e2e2e" stroke-width="0.12" font-family="Liberation Sans, sans-serif">-0.5</text>
<circle cx="514.5" cy="218.2" r="0.95" fill="#111"/>
<text x="510.9" y="224.8" font-size="6.2" text-anchor="end" fill="#2e2e2e" stroke="#2e2e2e" stroke-width="0.12" font-family="Liberation Sans, sans-serif">0</text>
<circle cx="606.6" cy="218.2" r="0.95" fill="#111"/>
<text x="610.5" y="224.8" font-size="6.2" text-anchor="start" fill="#2e2e2e" stroke="#2e2e2e" stroke-width="0.12" font-family="Liberation Sans, sans-serif">0</text>
<circle cx="491.5" cy="207.3" r="0.95" fill="#111"/>
<text x="487.9" y="213.8" font-size="6.2" text-anchor="end" fill="#2e2e2e" stroke="#2e2e2e" stroke-width="0.12" font-family="Liberation Sans, sans-serif">0.5</text>
<circle cx="629.6" cy="207.3" r="0.95" fill="#111"/>
<text x="633.5" y="213.8" font-size="6.2" text-anchor="start" fill="#2e2e2e" stroke="#2e2e2e" stroke-width="0.12" font-family="Liberation Sans, sans-serif">0.5</text>
<circle cx="468.5" cy="196.3" r="0.95" fill="#111"/>
<text x="464.9" y="202.8" font-size="6.2" text-anchor="end" fill="#2e2e2e" stroke="#2e2e2e" stroke-width="0.12" font-family="Liberation Sans, sans-serif">1</text>
<circle cx="652.7" cy="196.3" r="0.95" fill="#111"/>
<text x="656.6" y="202.8" font-size="6.2" text-anchor="start" fill="#2e2e2e" stroke="#2e2e2e" stroke-width="0.12" font-family="Liberation Sans, sans-serif">1</text>
<g stroke="#181818" stroke-width="0.4" stroke-linejoin="round">
<polygon points="560.5,76.1 565.3,76.0 560.5,76.9 555.6,77.1" fill="rgb(250,247,6)"/>
<polygon points="555.6,76.4 560.5,76.1 555.6,77.1 550.8,77.6" fill="rgb(250,234,10)"/>
<polygon points="565.3,75.2 570.2,75.2 565.3,76.0 560.5,76.1" fill="rgb(250,218,5)"/>
<polygon points="550.8,77.0 555.6,76.4 550.8,77.6 545.9,78.3" fill="rgb(250,224,15)"/>
<polygon points="560.5,75.4 565.3,75.2 560.5,76.1 555.6,76.4" fill="rgb(250,203,10)"/>
<polygon points="570.2,74.6 575.0,74.7 570.2,75.2 565.3,75.2" fill="rgb(250,191,3)"/>
<polygon points="545.9,77.8 550.8,77.0 545.9,78.3 541.1,79.2" fill="rgb(250,218,19)"/>
<polygon points="555.6,75.9 560.5,75.4 555.6,76.4 550.8,77.0" fill="rgb(250,193,14)"/>
<polygon points="565.3,74.6 570.2,74.6 565.3,75.2 560.5,75.4" fill="rgb(250,176,9)"/>
<polygon points="575.1,74.1 579.9,74.4 575.0,74.7 570.2,74.6" fill="rgb(250,167,2)"/>
<polygon points="550.8,76.6 555.6,75.9 550.8,77.0 545.9,77.8" fill="rgb(250,186,19)"/>
<polygon points="560.5,75.0 565.3,74.6 560.5,75.4 555.6,75.9" fill="rgb(250,164,14)"/>
<polygon points="570.2,74.1 575.1,74.1 570.2,74.6 565.3,74.6" fill="rgb(250,151,7)"/>
<polygon points="541.1,78.8 545.9,77.8 541.1,79.2 536.2,80.3" fill="rgb(250,215,22)"/>
<polygon points="579.9,73.9 584.8,74.3 579.9,74.4 575.1,74.1" fill="rgb(250,146,0)"/>
<polygon points="555.6,75.6 560.5,75.0 555.6,75.9 550.8,76.6" fill="rgb(250,156,18)"/>
<polygon points="565.3,74.3 570.2,74.1 565.3,74.6 560.5,75.0" fill="rgb(250,138,13)"/>
<polygon points="536.2,80.1 541.1,78.8 536.2,80.3 531.4,81.7" fill="rgb(250,215,25)"/>
<polygon points="545.9,77.5 550.8,76.6 545.9,77.8 541.1,78.8" fill="rgb(250,182,22)"/>
<polygon points="575.1,73.8 579.9,73.9 575.1,74.1 570.2,74.1" fill="rgb(250,129,6)"/>
<polygon points="584.8,73.9 589.7,74.5 584.8,74.3 579.9,73.9" fill="rgb(247,128,0)"/>
<polygon points="531.4,81.7 536.2,80.1 531.4,81.7 526.6,83.4" fill="rgb(250,219,28)"/>
<polygon points="541.0,78.7 545.9,77.5 541.1,78.8 536.2,80.1" fill="rgb(250,182,26)"/>
<polygon points="550.7,76.4 555.6,75.6 550.8,76.6 545.9,77.5" fill="rgb(250,152,23)"/>
<polygon points="560.5,74.8 565.3,74.3 560.5,75.0 555.6,75.6" fill="rgb(250,130,18)"/>
<polygon points="570.2,73.9 575.1,73.8 570.2,74.1 565.3,74.3" fill="rgb(250,115,12)"/>
<polygon points="580.0,73.7 584.8,73.9 579.9,73.9 575.1,73.8" fill="rgb(250,109,4)"/>
<polygon points="589.7,74.2 594.6,74.8 589.7,74.5 584.8,73.9" fill="rgb(244,112,0)"/>
<polygon points="526.5,83.5 531.4,81.7 526.6,83.4 521.7,85.3" fill="rgb(250,224,31)"/>
<polygon points="536.2,80.2 541.0,78.7 536.2,80.1 531.4,81.7" fill="rgb(250,184,29)"/>
<polygon points="545.9,77.5 550.7,76.4 545.9,77.5 541.0,78.7" fill="rgb(250,151,27)"/>
<polygon points="555.6,75.5 560.5,74.8 555.6,75.6 550.7,76.4" fill="rgb(250,125,22)"/>
<polygon points="565.4,74.2 570.2,73.9 565.3,74.3 560.5,74.8" fill="rgb(250,106,17)"/>
<polygon points="575.1,73.6 580.0,73.7 575.1,73.8 570.2,73.9" fill="rgb(250,95,10)"/>
<polygon points="584.9,73.8 589.7,74.2 584.8,73.9 580.0,73.7" fill="rgb(250,92,2)"/>
<polygon points="594.6,74.6 599.4,75.4 594.6,74.8 589.7,74.2" fill="rgb(240,100,0)"/>
<polygon points="521.7,85.5 526.5,83.5 521.7,85.3 516.9,87.4" fill="rgb(250,233,34)"/>
<polygon points="531.3,81.9 536.2,80.2 531.4,81.7 526.5,83.5" fill="rgb(250,189,32)"/>
<polygon points="541.0,78.9 545.9,77.5 541.0,78.7 536.2,80.2" fill="rgb(250,153,30)"/>
<polygon points="550.7,76.5 555.6,75.5 550.7,76.4 545.9,77.5" fill="rgb(250,123,27)"/>
<polygon points="560.5,74.9 565.4,74.2 560.5,74.8 555.6,75.5" fill="rgb(250,100,22)"/>
<polygon points="570.2,73.9 575.1,73.6 570.2,73.9 565.4,74.2" fill="rgb(250,84,16)"/>
<polygon points="580.0,73.6 584.9,73.8 580.0,73.7 575.1,73.6" fill="rgb(250,77,8)"/>
<polygon points="589.8,74.1 594.6,74.6 589.7,74.2 584.9,73.8" fill="rgb(249,78,0)"/>
<polygon points="599.5,75.3 604.3,76.2 599.4,75.4 594.6,74.6" fill="rgb(236,91,0)"/>
<polygon points="526.5,83.8 531.3,81.9 526.5,83.5 521.7,85.5" fill="rgb(250,197,35)"/>
<polygon points="536.2,80.5 541.0,78.9 536.2,80.2 531.3,81.9" fill="rgb(250,157,33)"/>
<polygon points="545.9,77.8 550.7,76.5 545.9,77.5 541.0,78.9" fill="rgb(250,124,31)"/>
<polygon points="575.1,73.8 580.0,73.6 575.1,73.6 570.2,73.9" fill="rgb(250,66,14)"/>
<polygon points="584.9,73.9 589.8,74.1 584.9,73.8 580.0,73.6" fill="rgb(250,62,6)"/>
<polygon points="594.7,74.7 599.5,75.3 594.6,74.6 589.8,74.1" fill="rgb(246,68,0)"/>
<polygon points="516.9,87.8 521.7,85.5 516.9,87.4 512.1,89.8" fill="rgb(250,244,36)"/>
<polygon points="555.6,75.8 560.5,74.9 555.6,75.5 550.7,76.5" fill="rgb(250,98,27)"/>
<polygon points="565.4,74.4 570.2,73.9 565.4,74.2 560.5,74.9" fill="rgb(250,78,21)"/>
<polygon points="604.4,76.2 609.2,77.2 604.3,76.2 599.5,75.3" fill="rgb(232,86,0)"/>
<polygon points="531.3,82.4 536.2,80.5 531.3,81.9 526.5,83.8" fill="rgb(250,164,36)"/>
<polygon points="541.0,79.3 545.9,77.8 541.0,78.9 536.2,80.5" fill="rgb(250,128,34)"/>
<polygon points="580.0,73.9 584.9,73.9 580.0,73.6 575.1,73.8" fill="rgb(250,49,13)"/>
<polygon points="589.8,74.3 594.7,74.7 589.8,74.1 584.9,73.9" fill="rgb(250,49,4)"/>
<polygon points="512.1,90.4 516.9,87.8 512.1,89.8 507.3,92.4" fill="rgb(242,250,38)"/>
<polygon points="521.7,86.1 526.5,83.8 521.7,85.5 516.9,87.8" fill="rgb(250,208,38)"/>
<polygon points="550.7,76.9 555.6,75.8 550.7,76.5 545.9,77.8" fill="rgb(250,98,31)"/>
<polygon points="560.5,75.2 565.4,74.4 560.5,74.9 555.6,75.8" fill="rgb(250,75,26)"/>
<polygon points="570.3,74.2 575.1,73.8 570.2,73.9 565.4,74.4" fill="rgb(250,58,20)"/>
<polygon points="599.5,75.5 604.4,76.2 599.5,75.3 594.7,74.7" fill="rgb(242,61,0)"/>
<polygon points="609.3,77.3 614.1,78.5 609.2,77.2 604.4,76.2" fill="rgb(228,83,0)"/>
<polygon points="536.1,81.1 541.0,79.3 536.2,80.5 531.3,82.4" fill="rgb(250,135,37)"/>
<polygon points="584.9,74.2 589.8,74.3 584.9,73.9 580.0,73.9" fill="rgb(250,36,11)"/>
<polygon points="526.5,84.5 531.3,82.4 526.5,83.8 521.7,86.1" fill="rgb(250,174,39)"/>
<polygon points="545.9,78.3 550.7,76.9 545.9,77.8 541.0,79.3" fill="rgb(250,102,35)"/>
<polygon points="555.6,76.3 560.5,75.2 555.6,75.8 550.7,76.9" fill="rgb(250,75,31)"/>
<polygon points="565.4,74.9 570.3,74.2 565.4,74.4 560.5,75.2" fill="rgb(250,55,25)"/>
<polygon points="575.2,74.2 580.0,73.9 575.1,73.8 570.3,74.2" fill="rgb(250,41,19)"/>
<polygon points="594.7,75.0 599.5,75.5 594.7,74.7 589.8,74.3" fill="rgb(250,39,1)"/>
<polygon points="507.3,93.2 512.1,90.4 507.3,92.4 502.5,95.3" fill="rgb(226,250,40)"/>
<polygon points="516.8,88.5 521.7,86.1 516.9,87.8 512.1,90.4" fill="rgb(250,221,40)"/>
<polygon points="604.4,76.5 609.3,77.3 604.4,76.2 599.5,75.5" fill="rgb(238,57,0)"/>
<polygon points="614.1,78.7 618.9,80.0 614.1,78.5 609.3,77.3" fill="rgb(224,82,0)"/>
<polygon points="502.5,96.3 507.3,93.2 502.5,95.3 497.8,98.4" fill="rgb(208,250,41)"/>
<polygon points="512.0,91.3 516.8,88.5 512.1,90.4 507.3,93.2" fill="rgb(250,236,42)"/>
<polygon points="521.6,86.9 526.5,84.5 521.7,86.1 516.8,88.5" fill="rgb(250,187,41)"/>
<polygon points="531.3,83.2 536.1,81.1 531.3,82.4 526.5,84.5" fill="rgb(250,144,40)"/>
<polygon points="541.0,80.1 545.9,78.3 541.0,79.3 536.1,81.1" fill="rgb(250,108,38)"/>
<polygon points="550.7,77.6 555.6,76.3 550.7,76.9 545.9,78.3" fill="rgb(250,78,35)"/>
<polygon points="560.5,75.8 565.4,74.9 560.5,75.2 555.6,76.3" fill="rgb(250,54,31)"/>
<polygon points="570.3,74.8 575.2,74.2 570.3,74.2 565.4,74.9" fill="rgb(250,37,24)"/>
<polygon points="580.1,74.4 584.9,74.2 580.0,73.9 575.2,74.2" fill="rgb(250,27,17)"/>
<polygon points="589.8,74.8 594.7,75.0 589.8,74.3 584.9,74.2" fill="rgb(250,25,8)"/>
<polygon points="599.6,75.9 604.4,76.5 599.5,75.5 594.7,75.0" fill="rgb(248,33,0)"/>
<polygon points="609.3,77.7 614.1,78.7 609.3,77.3 604.4,76.5" fill="rgb(234,56,0)"/>
<polygon points="619.0,80.3 623.8,81.7 618.9,80.0 614.1,78.7" fill="rgb(220,85,0)"/>
<polygon points="545.8,79.2 550.7,77.6 545.9,78.3 541.0,80.1" fill="rgb(250,84,39)"/>
<polygon points="555.6,77.1 560.5,75.8 555.6,76.3 550.7,77.6" fill="rgb(250,57,35)"/>
<polygon points="565.4,75.6 570.3,74.8 565.4,74.9 560.5,75.8" fill="rgb(250,36,30)"/>
<polygon points="575.2,74.9 580.1,74.4 575.2,74.2 570.3,74.8" fill="rgb(250,23,23)"/>
<polygon points="497.7,99.6 502.5,96.3 497.8,98.4 493.0,101.8" fill="rgb(187,250,43)"/>
<polygon points="507.2,94.3 512.0,91.3 507.3,93.2 502.5,96.3" fill="rgb(246,250,43)"/>
<polygon points="516.8,89.6 521.6,86.9 516.8,88.5 512.0,91.3" fill="rgb(250,201,43)"/>
<polygon points="526.4,85.5 531.3,83.2 526.5,84.5 521.6,86.9" fill="rgb(250,156,43)"/>
<polygon points="536.1,82.0 541.0,80.1 536.1,81.1 531.3,83.2" fill="rgb(250,117,41)"/>
<polygon points="585.0,74.9 589.8,74.8 584.9,74.2 580.1,74.4" fill="rgb(250,15,15)"/>
<polygon points="594.7,75.6 599.6,75.9 594.7,75.0 589.8,74.8" fill="rgb(250,16,6)"/>
<polygon points="604.5,77.0 609.3,77.7 604.4,76.5 599.6,75.9" fill="rgb(244,31,0)"/>
<polygon points="614.2,79.2 619.0,80.3 614.1,78.7 609.3,77.7" fill="rgb(230,57,0)"/>
<polygon points="623.9,82.1 628.6,83.6 623.8,81.7 619.0,80.3" fill="rgb(215,89,0)"/>
<polygon points="502.4,97.6 507.2,94.3 502.5,96.3 497.7,99.6" fill="rgb(226,250,45)"/>
<polygon points="512.0,92.6 516.8,89.6 512.0,91.3 507.2,94.3" fill="rgb(250,219,45)"/>
<polygon points="521.6,88.1 526.4,85.5 521.6,86.9 516.8,89.6" fill="rgb(250,170,45)"/>
<polygon points="550.7,78.6 555.6,77.1 550.7,77.6 545.8,79.2" fill="rgb(250,63,39)"/>
<polygon points="560.5,76.8 565.4,75.6 560.5,75.8 555.6,77.1" fill="rgb(250,38,35)"/>
<polygon points="570.3,75.7 575.2,74.9 570.3,74.8 565.4,75.6" fill="rgb(250,29,29)"/>
<polygon points="599.6,76.6 604.5,77.0 599.6,75.9 594.7,75.6" fill="rgb(250,10,3)"/>
<polygon points="609.4,78.4 614.2,79.2 609.3,77.7 604.5,77.0" fill="rgb(240,31,0)"/>
<polygon points="619.1,80.9 623.9,82.1 619.0,80.3 614.2,79.2" fill="rgb(226,62,0)"/>
<polygon points="493.0,103.2 497.7,99.6 493.0,101.8 488.3,105.5" fill="rgb(164,250,44)"/>
<polygon points="541.0,81.1 545.8,79.2 541.0,80.1 536.1,82.0" fill="rgb(250,92,42)"/>
<polygon points="580.1,75.2 585.0,74.9 580.1,74.4 575.2,74.9" fill="rgb(250,22,22)"/>
<polygon points="628.7,84.2 633.5,85.8 628.6,83.6 623.9,82.1" fill="rgb(211,96,0)"/>
<polygon points="531.3,84.3 536.1,82.0 531.3,83.2 526.4,85.5" fill="rgb(250,128,44)"/>
<polygon points="589.9,75.6 594.7,75.6 589.8,74.8 585.0,74.9" fill="rgb(250,13,13)"/>
<polygon points="555.6,78.2 560.5,76.8 555.6,77.1 550.7,78.6" fill="rgb(250,43,39)"/>
<polygon points="565.4,76.7 570.3,75.7 565.4,75.6 560.5,76.8" fill="rgb(250,34,34)"/>
<polygon points="507.2,95.8 512.0,92.6 507.2,94.3 502.4,97.6" fill="rgb(250,238,47)"/>
<polygon points="516.8,91.0 521.6,88.1 516.8,89.6 512.0,92.6" fill="rgb(250,187,48)"/>
<polygon points="604.5,77.9 609.4,78.4 604.5,77.0 599.6,76.6" fill="rgb(250,7,0)"/>
<polygon points="614.3,80.0 619.1,80.9 614.2,79.2 609.4,78.4" fill="rgb(236,35,0)"/>
<polygon points="497.7,101.2 502.4,97.6 497.7,99.6 493.0,103.2" fill="rgb(203,250,46)"/>
<polygon points="545.8,80.4 550.7,78.6 545.8,79.2 541.0,81.1" fill="rgb(250,71,43)"/>
<polygon points="575.2,75.9 580.1,75.2 575.2,74.9 570.3,75.7" fill="rgb(250,28,28)"/>
<polygon points="623.9,82.9 628.7,84.2 623.9,82.1 619.1,80.9" fill="rgb(221,68,0)"/>
<polygon points="526.4,86.8 531.3,84.3 526.4,85.5 521.6,88.1" fill="rgb(250,142,47)"/>
<polygon points="536.1,83.3 541.0,81.1 536.1,82.0 531.3,84.3" fill="rgb(250,103,45)"/>
<polygon points="585.0,75.8 589.9,75.6 585.0,74.9 580.1,75.2" fill="rgb(250,20,20)"/>
<polygon points="594.8,76.5 599.6,76.6 594.7,75.6 589.9,75.6" fill="rgb(250,10,10)"/>
<polygon points="488.3,107.1 493.0,103.2 488.3,105.5 483.6,109.4" fill="rgb(138,250,45)"/>
<polygon points="633.6,86.5 638.3,88.2 633.5,85.8 628.7,84.2" fill="rgb(206,105,0)"/>
<polygon points="560.5,78.1 565.4,76.7 560.5,76.8 555.6,78.2" fill="rgb(250,39,39)"/>
<polygon points="512.0,94.2 516.8,91.0 512.0,92.6 507.2,95.8" fill="rgb(250,206,52)"/>
<polygon points="609.4,79.4 614.3,80.0 609.4,78.4 604.5,77.9" fill="rgb(246,9,0)"/>
<polygon points="483.6,111.2 488.3,107.1 483.6,109.4 478.9,113.6" fill="rgb(111,250,46)"/>
<polygon points="502.4,99.3 507.2,95.8 502.4,97.6 497.7,101.2" fill="rgb(240,250,51)"/>
<polygon points="550.7,80.0 555.6,78.2 550.7,78.6 545.8,80.4" fill="rgb(250,51,43)"/>
<polygon points="570.3,76.9 575.2,75.9 570.3,75.7 565.4,76.7" fill="rgb(250,33,33)"/>
<polygon points="619.1,81.8 623.9,82.9 619.1,80.9 614.3,80.0" fill="rgb(231,41,0)"/>
<polygon points="638.4,89.0 643.1,90.9 638.3,88.2 633.6,86.5" fill="rgb(202,116,0)"/>
<polygon points="521.6,89.7 526.4,86.8 521.6,88.1 516.8,91.0" fill="rgb(250,159,52)"/>
<polygon points="531.2,85.8 536.1,83.3 531.3,84.3 526.4,86.8" fill="rgb(250,118,50)"/>
<polygon points="541.0,82.5 545.8,80.4 541.0,81.1 536.1,83.3" fill="rgb(250,81,46)"/>
<polygon points="580.1,76.4 585.0,75.8 580.1,75.2 575.2,75.9" fill="rgb(250,26,26)"/>
<polygon points="589.9,76.6 594.8,76.5 589.9,75.6 585.0,75.8" fill="rgb(250,18,18)"/>
<polygon points="599.7,77.6 604.5,77.9 599.6,76.6 594.8,76.5" fill="rgb(250,8,8)"/>
<polygon points="492.9,105.0 497.7,101.2 493.0,103.2 488.3,107.1" fill="rgb(179,250,48)"/>
<polygon points="628.8,85.1 633.6,86.5 628.7,84.2 623.9,82.9" fill="rgb(217,77,0)"/>
<polygon points="488.2,109.1 492.9,105.0 488.3,107.1 483.6,111.2" fill="rgb(153,250,51)"/>
<polygon points="507.2,97.7 512.0,94.2 507.2,95.8 502.4,99.3" fill="rgb(250,227,56)"/>
<polygon points="555.6,79.7 560.5,78.1 555.6,78.2 550.7,80.0" fill="rgb(250,44,44)"/>
<polygon points="565.4,78.1 570.3,76.9 565.4,76.7 560.5,78.1" fill="rgb(250,39,39)"/>
<polygon points="614.3,81.1 619.1,81.8 614.3,80.0 609.4,79.4" fill="rgb(242,15,0)"/>
<polygon points="633.6,87.5 638.4,89.0 633.6,86.5 628.8,85.1" fill="rgb(212,88,0)"/>
<polygon points="516.7,92.8 521.6,89.7 516.8,91.0 512.0,94.2" fill="rgb(250,178,57)"/>
<polygon points="526.4,88.6 531.2,85.8 526.4,86.8 521.6,89.7" fill="rgb(250,135,56)"/>
<polygon points="536.1,84.9 541.0,82.5 536.1,83.3 531.2,85.8" fill="rgb(250,97,53)"/>
<polygon points="545.8,82.0 550.7,80.0 545.8,80.4 541.0,82.5" fill="rgb(250,61,47)"/>
<polygon points="575.2,77.3 580.1,76.4 575.2,75.9 570.3,76.9" fill="rgb(250,32,32)"/>
<polygon points="585.0,77.1 589.9,76.6 585.0,75.8 580.1,76.4" fill="rgb(250,24,24)"/>
<polygon points="594.8,77.7 599.7,77.6 594.8,76.5 589.9,76.6" fill="rgb(250,15,15)"/>
<polygon points="604.6,79.0 609.4,79.4 604.5,77.9 599.7,77.6" fill="rgb(250,5,5)"/>
<polygon points="478.9,115.7 483.6,111.2 478.9,113.6 474.3,118.0" fill="rgb(81,250,48)"/>
<polygon points="497.7,103.1 502.4,99.3 497.7,101.2 492.9,105.0" fill="rgb(217,250,54)"/>
<polygon points="624.0,83.9 628.8,85.1 623.9,82.9 619.1,81.8" fill="rgb(227,49,0)"/>
<polygon points="643.2,91.8 647.9,93.7 643.1,90.9 638.4,89.0" fill="rgb(198,128,0)"/>
<polygon points="492.9,107.2 497.7,103.1 492.9,105.0 488.2,109.1" fill="rgb(191,250,57)"/>
<polygon points="628.8,86.2 633.6,87.5 628.8,85.1 624.0,83.9" fill="rgb(223,60,0)"/>
<polygon points="521.6,91.6 526.4,88.6 521.6,89.7 516.7,92.8" fill="rgb(250,154,62)"/>
<polygon points="531.2,87.6 536.1,84.9 531.2,85.8 526.4,88.6" fill="rgb(250,114,60)"/>
<polygon points="540.9,84.3 545.8,82.0 541.0,82.5 536.1,84.9" fill="rgb(250,78,56)"/>
<polygon points="550.7,81.7 555.6,79.7 550.7,80.0 545.8,82.0" fill="rgb(250,49,49)"/>
<polygon points="570.3,78.4 575.2,77.3 570.3,76.9 565.4,78.1" fill="rgb(250,38,38)"/>
<polygon points="580.1,77.9 585.0,77.1 580.1,76.4 575.2,77.3" fill="rgb(250,31,31)"/>
<polygon points="589.9,78.1 594.8,77.7 589.9,76.6 585.0,77.1" fill="rgb(250,22,22)"/>
<polygon points="599.7,79.0 604.6,79.0 599.7,77.6 594.8,77.7" fill="rgb(250,12,12)"/>
<polygon points="483.5,113.5 488.2,109.1 483.6,111.2 478.9,115.7" fill="rgb(125,250,54)"/>
<polygon points="502.4,101.4 507.2,97.7 502.4,99.3 497.7,103.1" fill="rgb(250,250,60)"/>
<polygon points="511.9,96.2 516.7,92.8 512.0,94.2 507.2,97.7" fill="rgb(250,199,62)"/>
<polygon points="560.5,79.7 565.4,78.1 560.5,78.1 555.6,79.7" fill="rgb(250,43,43)"/>
<polygon points="609.4,80.7 614.3,81.1 609.4,79.4 604.6,79.0" fill="rgb(250,2,2)"/>
<polygon points="619.2,83.1 624.0,83.9 619.1,81.8 614.3,81.1" fill="rgb(238,23,0)"/>
<polygon points="638.4,90.1 643.2,91.8 638.4,89.0 633.6,87.5" fill="rgb(208,100,0)"/>
<polygon points="474.2,120.3 478.9,115.7 474.3,118.0 469.6,122.7" fill="rgb(50,250,50)"/>
<polygon points="648.0,94.8 652.7,96.9 647.9,93.7 643.2,91.8" fill="rgb(193,142,0)"/>
<polygon points="497.6,105.4 502.4,101.4 497.7,103.1 492.9,107.2" fill="rgb(225,250,63)"/>
<polygon points="624.0,85.3 628.8,86.2 624.0,83.9 619.2,83.1" fill="rgb(233,33,0)"/>
<polygon points="526.4,90.6 531.2,87.6 526.4,88.6 521.6,91.6" fill="rgb(250,133,66)"/>
<polygon points="536.1,86.9 540.9,84.3 536.1,84.9 531.2,87.6" fill="rgb(250,96,63)"/>
<polygon points="545.8,83.9 550.7,81.7 545.8,82.0 540.9,84.3" fill="rgb(250,62,58)"/>
<polygon points="575.2,79.0 580.1,77.9 575.2,77.3 570.3,78.4" fill="rgb(250,37,37)"/>
<polygon points="585.0,78.7 589.9,78.1 585.0,77.1 580.1,77.9" fill="rgb(250,29,29)"/>
<polygon points="594.8,79.3 599.7,79.0 594.8,77.7 589.9,78.1" fill="rgb(250,20,20)"/>
<polygon points="469.6,125.3 474.2,120.3 469.6,122.7 465.0,127.6" fill="rgb(52,250,86)"/>
<polygon points="488.2,111.5 492.9,107.2 488.2,109.1 483.5,113.5" fill="rgb(164,250,60)"/>
<polygon points="516.7,95.0 521.6,91.6 516.7,92.8 511.9,96.2" fill="rgb(250,174,66)"/>
<polygon points="604.6,80.5 609.4,80.7 604.6,79.0 599.7,79.0" fill="rgb(250,10,10)"/>
<polygon points="633.7,88.8 638.4,90.1 633.6,87.5 628.8,86.2" fill="rgb(218,73,0)"/>
<polygon points="652.7,98.1 657.4,100.2 652.7,96.9 648.0,94.8" fill="rgb(189,158,0)"/>
<polygon points="555.6,81.6 560.5,79.7 555.6,79.7 550.7,81.7" fill="rgb(250,49,49)"/>
<polygon points="565.4,79.9 570.3,78.4 565.4,78.1 560.5,79.7" fill="rgb(250,43,43)"/>
<polygon points="478.9,118.2 483.5,113.5 478.9,115.7 474.2,120.3" fill="rgb(95,250,56)"/>
<polygon points="507.1,99.9 511.9,96.2 507.2,97.7 502.4,101.4" fill="rgb(250,221,65)"/>
<polygon points="614.3,82.5 619.2,83.1 614.3,81.1 609.4,80.7" fill="rgb(248,0,0)"/>
<polygon points="643.2,93.0 648.0,94.8 643.2,91.8 638.4,90.1" fill="rgb(203,115,0)"/>
<polygon points="531.2,89.9 536.1,86.9 531.2,87.6 526.4,90.6" fill="rgb(250,115,69)"/>
<polygon points="540.9,86.5 545.8,83.9 540.9,84.3 536.1,86.9" fill="rgb(250,80,66)"/>
<polygon points="580.1,79.7 585.0,78.7 580.1,77.9 575.2,79.0" fill="rgb(250,35,35)"/>
<polygon points="589.9,79.8 594.8,79.3 589.9,78.1 585.0,78.7" fill="rgb(250,27,27)"/>
<polygon points="474.2,123.1 478.9,118.2 474.2,120.3 469.6,125.3" fill="rgb(64,250,58)"/>
<polygon points="492.9,109.8 497.6,105.4 492.9,107.2 488.2,111.5" fill="rgb(199,250,65)"/>
<polygon points="502.4,103.9 507.1,99.9 502.4,101.4 497.6,105.4" fill="rgb(250,245,68)"/>
<polygon points="521.5,93.9 526.4,90.6 521.6,91.6 516.7,95.0" fill="rgb(250,153,71)"/>
<polygon points="599.7,80.7 604.6,80.5 599.7,79.0 594.8,79.3" fill="rgb(250,17,17)"/>
<polygon points="619.2,84.6 624.0,85.3 619.2,83.1 614.3,82.5" fill="rgb(244,8,0)"/>
<polygon points="628.9,87.7 633.7,88.8 628.8,86.2 624.0,85.3" fill="rgb(229,46,0)"/>
<polygon points="648.0,96.2 652.7,98.1 648.0,94.8 643.2,93.0" fill="rgb(199,131,0)"/>
<polygon points="550.7,83.7 555.6,81.6 550.7,81.7 545.8,83.9" fill="rgb(250,59,59)"/>
<polygon points="570.3,80.4 575.2,79.0 570.3,78.4 565.4,79.9" fill="rgb(250,42,42)"/>
<polygon points="483.5,116.2 488.2,111.5 483.5,113.5 478.9,118.2" fill="rgb(135,250,62)"/>
<polygon points="511.9,98.6 516.7,95.0 511.9,96.2 507.1,99.9" fill="rgb(250,196,70)"/>
<polygon points="560.5,81.7 565.4,79.9 560.5,79.7 555.6,81.6" fill="rgb(250,49,49)"/>
<polygon points="609.5,82.3 614.3,82.5 609.4,80.7 604.6,80.5" fill="rgb(250,7,7)"/>
<polygon points="638.5,91.6 643.2,93.0 638.4,90.1 633.7,88.8" fill="rgb(214,87,0)"/>
<polygon points="536.1,89.4 540.9,86.5 536.1,86.9 531.2,89.9" fill="rgb(250,99,72)"/>
<polygon points="585.0,80.7 589.9,79.8 585.0,78.7 580.1,79.7" fill="rgb(250,33,33)"/>
<polygon points="478.9,121.1 483.5,116.2 478.9,118.2 474.2,123.1" fill="rgb(105,250,64)"/>
<polygon points="507.1,102.6 511.9,98.6 507.1,99.9 502.4,103.9" fill="rgb(250,219,73)"/>
<polygon points="526.4,93.1 531.2,89.9 526.4,90.6 521.5,93.9" fill="rgb(250,135,75)"/>
<polygon points="594.8,81.2 599.7,80.7 594.8,79.3 589.9,79.8" fill="rgb(250,24,24)"/>
<polygon points="614.4,84.3 619.2,84.6 614.3,82.5 609.5,82.3" fill="rgb(250,3,3)"/>
<polygon points="643.3,94.6 648.0,96.2 643.2,93.0 638.5,91.6" fill="rgb(209,104,0)"/>
<polygon points="545.8,86.2 550.7,83.7 545.8,83.9 540.9,86.5" fill="rgb(250,67,67)"/>
<polygon points="575.2,81.0 580.1,79.7 575.2,79.0 570.3,80.4" fill="rgb(250,41,41)"/>
<polygon points="488.2,114.4 492.9,109.8 488.2,111.5 483.5,116.2" fill="rgb(171,250,67)"/>
<polygon points="497.6,108.2 502.4,103.9 497.6,105.4 492.9,109.8" fill="rgb(230,250,71)"/>
<polygon points="516.7,97.6 521.5,93.9 516.7,95.0 511.9,98.6" fill="rgb(250,174,75)"/>
<polygon points="555.6,83.8 560.5,81.7 555.6,81.6 550.7,83.7" fill="rgb(250,59,59)"/>
<polygon points="565.4,82.1 570.3,80.4 565.4,79.9 560.5,81.7" fill="rgb(250,47,47)"/>
<polygon points="604.6,82.4 609.5,82.3 604.6,80.5 599.7,80.7" fill="rgb(250,14,14)"/>
<polygon points="624.1,87.0 628.9,87.7 624.0,85.3 619.2,84.6" fill="rgb(239,20,0)"/>
<polygon points="633.7,90.4 638.5,91.6 633.7,88.8 628.9,87.7" fill="rgb(224,61,0)"/>
<polygon points="483.5,119.3 488.2,114.4 483.5,116.2 478.9,121.1" fill="rgb(141,250,69)"/>
<polygon points="511.9,101.5 516.7,97.6 511.9,98.6 507.1,102.6" fill="rgb(250,197,78)"/>
<polygon points="531.2,92.5 536.1,89.4 531.2,89.9 526.4,93.1" fill="rgb(250,119,78)"/>
<polygon points="589.9,82.0 594.8,81.2 589.9,79.8 585.0,80.7" fill="rgb(250,31,31)"/>
<polygon points="609.5,84.3 614.4,84.3 609.5,82.3 604.6,82.4" fill="rgb(250,11,11)"/>
<polygon points="638.5,93.4 643.3,94.6 638.5,91.6 633.7,90.4" fill="rgb(220,77,0)"/>
<polygon points="540.9,89.1 545.8,86.2 540.9,86.5 536.1,89.4" fill="rgb(250,86,75)"/>
<polygon points="580.1,82.0 585.0,80.7 580.1,79.7 575.2,81.0" fill="rgb(250,39,39)"/>
<polygon points="502.4,106.9 507.1,102.6 502.4,103.9 497.6,108.2" fill="rgb(250,244,76)"/>
<polygon points="521.5,96.7 526.4,93.1 521.5,93.9 516.7,97.6" fill="rgb(250,156,79)"/>
<polygon points="550.7,86.2 555.6,83.8 550.7,83.7 545.8,86.2" fill="rgb(250,69,69)"/>
<polygon points="560.5,84.1 565.4,82.1 560.5,81.7 555.6,83.8" fill="rgb(250,59,59)"/>
<polygon points="570.3,82.7 575.2,81.0 570.3,80.4 565.4,82.1" fill="rgb(250,46,46)"/>
<polygon points="599.7,82.8 604.6,82.4 599.7,80.7 594.8,81.2" fill="rgb(250,22,22)"/>
<polygon points="619.2,86.6 624.1,87.0 619.2,84.6 614.4,84.3" fill="rgb(250,0,0)"/>
<polygon points="492.9,112.8 497.6,108.2 492.9,109.8 488.2,114.4" fill="rgb(203,250,73)"/>
<polygon points="628.9,89.6 633.7,90.4 628.9,87.7 624.1,87.0" fill="rgb(235,35,0)"/>
<polygon points="516.7,100.6 521.5,96.7 516.7,97.6 511.9,101.5" fill="rgb(250,177,83)"/>
<polygon points="604.6,84.6 609.5,84.3 604.6,82.4 599.7,82.8" fill="rgb(250,19,19)"/>
<polygon points="488.2,117.7 492.9,112.8 488.2,114.4 483.5,119.3" fill="rgb(174,250,75)"/>
<polygon points="507.1,105.7 511.9,101.5 507.1,102.6 502.4,106.9" fill="rgb(250,220,81)"/>
<polygon points="526.4,96.1 531.2,92.5 526.4,93.1 521.5,96.7" fill="rgb(250,140,83)"/>
<polygon points="536.1,92.2 540.9,89.1 536.1,89.4 531.2,92.5" fill="rgb(250,106,81)"/>
<polygon points="545.8,89.0 550.7,86.2 545.8,86.2 540.9,89.1" fill="rgb(250,77,77)"/>
<polygon points="555.6,86.4 560.5,84.1 555.6,83.8 550.7,86.2" fill="rgb(250,69,69)"/>
<polygon points="565.4,84.6 570.3,82.7 565.4,82.1 560.5,84.1" fill="rgb(250,58,58)"/>
<polygon points="575.2,83.5 580.1,82.0 575.2,81.0 570.3,82.7" fill="rgb(250,45,45)"/>
<polygon points="585.0,83.1 589.9,82.0 585.0,80.7 580.1,82.0" fill="rgb(250,38,38)"/>
<polygon points="594.8,83.5 599.7,82.8 594.8,81.2 589.9,82.0" fill="rgb(250,29,29)"/>
<polygon points="614.4,86.5 619.2,86.6 614.4,84.3 609.5,84.3" fill="rgb(250,8,8)"/>
<polygon points="633.7,92.5 638.5,93.4 633.7,90.4 628.9,89.6" fill="rgb(230,52,0)"/>
<polygon points="497.6,111.4 502.4,106.9 497.6,108.2 492.9,112.8" fill="rgb(230,250,78)"/>
<polygon points="624.1,89.1 628.9,89.6 624.1,87.0 619.2,86.6" fill="rgb(246,11,0)"/>
<polygon points="521.5,99.9 526.4,96.1 521.5,96.7 516.7,100.6" fill="rgb(250,161,87)"/>
<polygon points="599.7,85.2 604.6,84.6 599.7,82.8 594.8,83.5" fill="rgb(250,26,26)"/>
<polygon points="492.9,116.3 497.6,111.4 492.9,112.8 488.2,117.7" fill="rgb(202,250,80)"/>
<polygon points="511.9,104.8 516.7,100.6 511.9,101.5 507.1,105.7" fill="rgb(250,201,86)"/>
<polygon points="550.7,89.1 555.6,86.4 550.7,86.2 545.8,89.0" fill="rgb(250,78,78)"/>
<polygon points="560.5,86.9 565.4,84.6 560.5,84.1 555.6,86.4" fill="rgb(250,68,68)"/>
<polygon points="570.3,85.4 575.2,83.5 570.3,82.7 565.4,84.6" fill="rgb(250,55,55)"/>
<polygon points="609.5,86.7 614.4,86.5 609.5,84.3 604.6,84.6" fill="rgb(250,16,16)"/>
<polygon points="628.9,91.8 633.7,92.5 628.9,89.6 624.1,89.1" fill="rgb(241,28,0)"/>
<polygon points="540.9,92.1 545.8,89.0 540.9,89.1 536.1,92.2" fill="rgb(250,94,83)"/>
<polygon points="580.1,84.6 585.0,83.1 580.1,82.0 575.2,83.5" fill="rgb(250,44,44)"/>
<polygon points="502.4,110.3 507.1,105.7 502.4,106.9 497.6,111.4" fill="rgb(250,246,83)"/>
<polygon points="531.2,95.6 536.1,92.2 531.2,92.5 526.4,96.1" fill="rgb(250,126,86)"/>
<polygon points="589.9,84.5 594.8,83.5 589.9,82.0 585.0,83.1" fill="rgb(250,36,36)"/>
<polygon points="619.2,88.9 624.1,89.1 619.2,86.6 614.4,86.5" fill="rgb(250,5,5)"/>
<polygon points="497.7,115.1 502.4,110.3 497.6,111.4 492.9,116.3" fill="rgb(227,250,85)"/>
<polygon points="516.7,104.1 521.5,99.9 516.7,100.6 511.9,104.8" fill="rgb(250,184,90)"/>
<polygon points="526.4,99.4 531.2,95.6 526.4,96.1 521.5,99.9" fill="rgb(250,147,91)"/>
<polygon points="545.8,92.1 550.7,89.1 545.8,89.0 540.9,92.1" fill="rgb(250,85,85)"/>
<polygon points="555.6,89.5 560.5,86.9 555.6,86.4 550.7,89.1" fill="rgb(250,78,78)"/>
<polygon points="565.4,87.6 570.3,85.4 565.4,84.6 560.5,86.9" fill="rgb(250,67,67)"/>
<polygon points="575.2,86.4 580.1,84.6 575.2,83.5 570.3,85.4" fill="rgb(250,53,53)"/>
<polygon points="594.8,86.2 599.7,85.2 594.8,83.5 589.9,84.5" fill="rgb(250,33,33)"/>
<polygon points="604.6,87.2 609.5,86.7 604.6,84.6 599.7,85.2" fill="rgb(250,23,23)"/>
<polygon points="624.1,91.6 628.9,91.8 624.1,89.1 619.2,88.9" fill="rgb(250,7,1)"/>
<polygon points="507.2,109.3 511.9,104.8 507.1,105.7 502.4,110.3" fill="rgb(250,225,88)"/>
<polygon points="614.4,89.0 619.2,88.9 614.4,86.5 609.5,86.7" fill="rgb(250,13,13)"/>
<polygon points="536.1,95.5 540.9,92.1 536.1,92.2 531.2,95.6" fill="rgb(250,115,89)"/>
<polygon points="585.0,85.9 589.9,84.5 585.0,83.1 580.1,84.6" fill="rgb(250,42,42)"/>
<polygon points="502.4,114.1 507.2,109.3 502.4,110.3 497.7,115.1" fill="rgb(249,250,90)"/>
<polygon points="560.5,90.2 565.4,87.6 560.5,86.9 555.6,89.5" fill="rgb(250,77,77)"/>
<polygon points="619.2,91.6 624.1,91.6 619.2,88.9 614.4,89.0" fill="rgb(250,9,9)"/>
<polygon points="511.9,108.5 516.7,104.1 511.9,104.8 507.2,109.3" fill="rgb(250,207,93)"/>
<polygon points="521.6,103.6 526.4,99.4 521.5,99.9 516.7,104.1" fill="rgb(250,169,94)"/>
<polygon points="531.2,99.2 536.1,95.5 531.2,95.6 526.4,99.4" fill="rgb(250,136,94)"/>
<polygon points="540.9,95.5 545.8,92.1 540.9,92.1 536.1,95.5" fill="rgb(250,105,91)"/>
<polygon points="550.7,92.5 555.6,89.5 550.7,89.1 545.8,92.1" fill="rgb(250,86,86)"/>
<polygon points="570.3,88.5 575.2,86.4 570.3,85.4 565.4,87.6" fill="rgb(250,65,65)"/>
<polygon points="580.1,87.7 585.0,85.9 580.1,84.6 575.2,86.4" fill="rgb(250,49,49)"/>
<polygon points="589.9,87.5 594.8,86.2 589.9,84.5 585.0,85.9" fill="rgb(250,40,40)"/>
<polygon points="599.7,88.1 604.6,87.2 599.7,85.2 594.8,86.2" fill="rgb(250,31,31)"/>
<polygon points="609.5,89.5 614.4,89.0 609.5,86.7 604.6,87.2" fill="rgb(250,20,20)"/>
<polygon points="507.2,113.4 511.9,108.5 507.2,109.3 502.4,114.1" fill="rgb(250,232,95)"/>
<polygon points="536.1,99.2 540.9,95.5 536.1,95.5 531.2,99.2" fill="rgb(250,126,96)"/>
<polygon points="555.6,93.1 560.5,90.2 555.6,89.5 550.7,92.5" fill="rgb(250,86,86)"/>
<polygon points="565.4,91.0 570.3,88.5 565.4,87.6 560.5,90.2" fill="rgb(250,76,76)"/>
<polygon points="585.0,89.2 589.9,87.5 585.0,85.9 580.1,87.7" fill="rgb(250,46,46)"/>
<polygon points="614.4,92.0 619.2,91.6 614.4,89.0 609.5,89.5" fill="rgb(250,17,17)"/>
<polygon points="516.8,108.0 521.6,103.6 516.7,104.1 511.9,108.5" fill="rgb(250,192,97)"/>
<polygon points="526.4,103.3 531.2,99.2 526.4,99.4 521.6,103.6" fill="rgb(250,157,98)"/>
<polygon points="545.8,95.8 550.7,92.5 545.8,92.1 540.9,95.5" fill="rgb(250,97,93)"/>
<polygon points="575.2,89.7 580.1,87.7 575.2,86.4 570.3,88.5" fill="rgb(250,62,62)"/>
<polygon points="594.8,89.3 599.7,88.1 594.8,86.2 589.9,87.5" fill="rgb(250,37,37)"/>
<polygon points="604.6,90.3 609.5,89.5 604.6,87.2 599.7,88.1" fill="rgb(250,28,28)"/>
<polygon points="512.0,112.8 516.8,108.0 511.9,108.5 507.2,113.4" fill="rgb(250,217,99)"/>
<polygon points="531.2,103.2 536.1,99.2 531.2,99.2 526.4,103.3" fill="rgb(250,147,100)"/>
<polygon points="540.9,99.4 545.8,95.8 540.9,95.5 536.1,99.2" fill="rgb(250,118,98)"/>
<polygon points="550.7,96.3 555.6,93.1 550.7,92.5 545.8,95.8" fill="rgb(250,94,94)"/>
<polygon points="560.5,93.9 565.4,91.0 560.5,90.2 555.6,93.1" fill="rgb(250,86,86)"/>
<polygon points="570.3,92.2 575.2,89.7 570.3,88.5 565.4,91.0" fill="rgb(250,74,74)"/>
<polygon points="580.1,91.2 585.0,89.2 580.1,87.7 575.2,89.7" fill="rgb(250,58,58)"/>
<polygon points="589.9,90.9 594.8,89.3 589.9,87.5 585.0,89.2" fill="rgb(250,44,44)"/>
<polygon points="609.5,92.7 614.4,92.0 609.5,89.5 604.6,90.3" fill="rgb(250,25,25)"/>
<polygon points="521.6,107.7 526.4,103.3 521.6,103.6 516.8,108.0" fill="rgb(250,180,100)"/>
<polygon points="599.7,91.4 604.6,90.3 599.7,88.1 594.8,89.3" fill="rgb(250,35,35)"/>
<polygon points="545.8,99.9 550.7,96.3 545.8,95.8 540.9,99.4" fill="rgb(250,112,100)"/>
<polygon points="575.2,93.5 580.1,91.2 575.2,89.7 570.3,92.2" fill="rgb(250,71,71)"/>
<polygon points="516.8,112.5 521.6,107.7 516.8,108.0 512.0,112.8" fill="rgb(250,203,102)"/>
<polygon points="526.4,107.6 531.2,103.2 526.4,103.3 521.6,107.7" fill="rgb(250,169,104)"/>
<polygon points="536.1,103.4 540.9,99.4 536.1,99.2 531.2,103.2" fill="rgb(250,139,103)"/>
<polygon points="555.6,97.1 560.5,93.9 555.6,93.1 550.7,96.3" fill="rgb(250,94,94)"/>
<polygon points="565.4,94.9 570.3,92.2 565.4,91.0 560.5,93.9" fill="rgb(250,84,84)"/>
<polygon points="585.0,92.9 589.9,90.9 585.0,89.2 580.1,91.2" fill="rgb(250,54,54)"/>
<polygon points="594.8,92.9 599.7,91.4 594.8,89.3 589.9,90.9" fill="rgb(250,41,41)"/>
<polygon points="604.6,93.8 609.5,92.7 604.6,90.3 599.7,91.4" fill="rgb(250,32,32)"/>
<polygon points="521.6,112.4 526.4,107.6 521.6,107.7 516.8,112.5" fill="rgb(250,192,105)"/>
<polygon points="541.0,103.9 545.8,99.9 540.9,99.4 536.1,103.4" fill="rgb(250,133,105)"/>
<polygon points="550.7,100.6 555.6,97.1 550.7,96.3 545.8,99.9" fill="rgb(250,106,100)"/>
<polygon points="570.3,96.2 575.2,93.5 570.3,92.2 565.4,94.9" fill="rgb(250,82,82)"/>
<polygon points="580.1,95.1 585.0,92.9 580.1,91.2 575.2,93.5" fill="rgb(250,67,67)"/>
<polygon points="599.7,95.2 604.6,93.8 599.7,91.4 594.8,92.9" fill="rgb(250,39,39)"/>
<polygon points="531.3,107.8 536.1,103.4 531.2,103.2 526.4,107.6" fill="rgb(250,160,105)"/>
<polygon points="560.5,98.1 565.4,94.9 560.5,93.9 555.6,97.1" fill="rgb(250,93,93)"/>
<polygon points="589.9,94.8 594.8,92.9 589.9,90.9 585.0,92.9" fill="rgb(250,49,49)"/>
<polygon points="526.4,112.5 531.3,107.8 526.4,107.6 521.6,112.4" fill="rgb(250,181,105)"/>
<polygon points="536.1,108.2 541.0,103.9 536.1,103.4 531.3,107.8" fill="rgb(250,152,105)"/>
<polygon points="545.8,104.5 550.7,100.6 545.8,99.9 541.0,103.9" fill="rgb(250,127,105)"/>
<polygon points="555.6,101.6 560.5,98.1 555.6,97.1 550.7,100.6" fill="rgb(250,102,100)"/>
<polygon points="565.4,99.3 570.3,96.2 565.4,94.9 560.5,98.1" fill="rgb(250,91,91)"/>
<polygon points="575.2,97.8 580.1,95.1 575.2,93.5 570.3,96.2" fill="rgb(250,79,79)"/>
<polygon points="585.0,97.0 589.9,94.8 585.0,92.9 580.1,95.1" fill="rgb(250,63,63)"/>
<polygon points="594.8,97.0 599.7,95.2 594.8,92.9 589.9,94.8" fill="rgb(250,45,45)"/>
<polygon points="531.3,112.9 536.1,108.2 531.3,107.8 526.4,112.5" fill="rgb(250,173,105)"/>
<polygon points="560.5,102.8 565.4,99.3 560.5,98.1 555.6,101.6" fill="rgb(250,99,99)"/>
<polygon points="589.9,99.2 594.8,97.0 589.9,94.8 585.0,97.0" fill="rgb(250,57,57)"/>
<polygon points="541.0,108.8 545.8,104.5 541.0,103.9 536.1,108.2" fill="rgb(250,145,105)"/>
<polygon points="550.7,105.4 555.6,101.6 550.7,100.6 545.8,104.5" fill="rgb(250,122,105)"/>
<polygon points="570.3,100.8 575.2,97.8 570.3,96.2 565.4,99.3" fill="rgb(250,89,89)"/>
<polygon points="580.1,99.6 585.0,97.0 580.1,95.1 575.2,97.8" fill="rgb(250,75,75)"/>
<polygon points="536.1,113.5 541.0,108.8 536.1,108.2 531.3,112.9" fill="rgb(250,166,105)"/>
<polygon points="555.6,106.6 560.5,102.8 555.6,101.6 550.7,105.4" fill="rgb(250,119,105)"/>
<polygon points="565.4,104.2 570.3,100.8 565.4,99.3 560.5,102.8" fill="rgb(250,98,98)"/>
<polygon points="584.9,101.7 589.9,99.2 585.0,97.0 580.1,99.6" fill="rgb(250,71,71)"/>
<polygon points="545.8,109.7 550.7,105.4 545.8,104.5 541.0,108.8" fill="rgb(250,140,105)"/>
<polygon points="575.1,102.6 580.1,99.6 575.2,97.8 570.3,100.8" fill="rgb(250,86,86)"/>
<polygon points="541.0,114.3 545.8,109.7 541.0,108.8 536.1,113.5" fill="rgb(250,160,105)"/>
<polygon points="550.7,110.8 555.6,106.6 550.7,105.4 545.8,109.7" fill="rgb(250,137,105)"/>
<polygon points="560.5,108.0 565.4,104.2 560.5,102.8 555.6,106.6" fill="rgb(250,118,104)"/>
<polygon points="570.2,105.9 575.1,102.6 570.3,100.8 565.4,104.2" fill="rgb(250,95,95)"/>
<polygon points="580.0,104.6 584.9,101.7 580.1,99.6 575.1,102.6" fill="rgb(250,82,82)"/>
<polygon points="545.8,115.4 550.7,110.8 545.8,109.7 541.0,114.3" fill="rgb(250,157,105)"/>
<polygon points="575.1,107.9 580.0,104.6 575.1,102.6 570.2,105.9" fill="rgb(250,95,92)"/>
<polygon points="555.6,112.2 560.5,108.0 555.6,106.6 550.7,110.8" fill="rgb(250,135,105)"/>
<polygon points="565.3,109.7 570.2,105.9 565.4,104.2 560.5,108.0" fill="rgb(250,117,103)"/>
<polygon points="550.7,116.7 555.6,112.2 550.7,110.8 545.8,115.4" fill="rgb(250,155,105)"/>
<polygon points="570.2,111.6 575.1,107.9 570.2,105.9 565.3,109.7" fill="rgb(250,117,100)"/>
<polygon points="560.5,113.8 565.3,109.7 560.5,108.0 555.6,112.2" fill="rgb(250,136,105)"/>
<polygon points="555.6,118.3 560.5,113.8 555.6,112.2 550.7,116.7" fill="rgb(250,154,105)"/>
<polygon points="565.3,115.7 570.2,111.6 565.3,109.7 560.5,113.8" fill="rgb(250,137,105)"/>
<polygon points="560.5,120.2 565.3,115.7 560.5,113.8 555.6,118.3" fill="rgb(250,156,105)"/>
</g>
<line x1="584.6" y1="54.8" x2="584.6" y2="79.1" stroke="#222" stroke-width="0.6"/>
<rect x="567.5" y="55.0" width="17" height="6.1" fill="#fff" stroke="#222" stroke-width="0.5"/>
<text x="576.0" y="59.5" font-size="3.9" text-anchor="middle" fill="#111" font-family="Liberation Sans, sans-serif">97.5089</text>
<text transform="translate(435.6,134.3) rotate(-90)" font-size="7.0" text-anchor="middle" fill="#2e2e2e" stroke="#2e2e2e" stroke-width="0.1" textLength="33.7" lengthAdjust="spacingAndGlyphs" font-family="Liberation Sans, sans-serif">R% for ME</text>
<text x="478.8" y="237.7" font-size="7.2" text-anchor="middle" fill="#2e2e2e" stroke="#2e2e2e" stroke-width="0.1" textLength="16.8" lengthAdjust="spacingAndGlyphs" font-family="Liberation Sans, sans-serif">B: pH</text>
<text x="642.8" y="237.7" font-size="7.2" text-anchor="middle" fill="#2e2e2e" stroke="#2e2e2e" stroke-width="0.1" textLength="72.7" lengthAdjust="spacingAndGlyphs" font-family="Liberation Sans, sans-serif">A: Drug concentration</text>
</g>
<g id="panel-e">
<text x="347.7" y="260.7" font-size="5.80" fill="#1a1a1a" stroke="#1a1a1a" stroke-width="0.1" font-family="Liberation Sans, sans-serif" >Factor Coding: Actual</text>
<text x="347.7" y="279.7" font-size="5.80" fill="#000" stroke="#000" stroke-width="0.1" font-family="Liberation Sans, sans-serif" font-weight="bold" textLength="29.5" lengthAdjust="spacingAndGlyphs">R% for ME</text>
<rect x="363.3" y="283.1" width="21.6" height="8.6" fill="url(#lg)" stroke="#10104a" stroke-width="0.5"/>
<text x="347.7" y="289.5" font-size="5.60" fill="#2b2b9c" stroke="#2b2b9c" stroke-width="0.1" font-family="Liberation Sans, sans-serif" >62.62</text>
<text x="387.4" y="289.5" font-size="5.60" fill="#c0262c" stroke="#c0262c" stroke-width="0.1" font-family="Liberation Sans, sans-serif" >95.42</text>
<text x="347.7" y="307.7" font-size="5.80" fill="#1a1a1a" stroke="#1a1a1a" stroke-width="0.1" font-family="Liberation Sans, sans-serif" >X1 = A</text>
<text x="347.7" y="317.4" font-size="5.80" fill="#1a1a1a" stroke="#1a1a1a" stroke-width="0.1" font-family="Liberation Sans, sans-serif" >X2 = C</text>
<text x="347.7" y="335.6" font-size="5.70" fill="#000" stroke="#000" stroke-width="0.1" font-family="Liberation Sans, sans-serif" font-weight="bold">Actual Factors</text>
<text x="347.7" y="345.4" font-size="5.80" fill="#1a1a1a" stroke="#1a1a1a" stroke-width="0.1" font-family="Liberation Sans, sans-serif" >B = -0.313403</text>
<text x="347.7" y="355.1" font-size="5.80" fill="#1a1a1a" stroke="#1a1a1a" stroke-width="0.1" font-family="Liberation Sans, sans-serif" >D = 0.628142</text>
<text x="420.0" y="268.8" font-size="8.0" font-weight="bold" fill="#111" text-anchor="middle" font-family="Liberation Sans, sans-serif">(e)</text>
<text x="576.6" y="266.8" font-size="6.3" text-anchor="middle" fill="#2e2e2e" stroke="#2e2e2e" stroke-width="0.12" font-family="Liberation Sans, sans-serif">3D Surface</text>
<polyline points="467.0,419.3 560.5,387.5 654.2,419.3" stroke="#2a2a2a" stroke-width="0.7" fill="none"/>
<polyline points="465.8,395.2 560.5,365.8 655.4,395.1" stroke="#2a2a2a" stroke-width="0.7" fill="none"/>
<polyline points="464.6,371.1 560.5,344.2 656.5,371.0" stroke="#2a2a2a" stroke-width="0.7" fill="none"/>
<polyline points="463.4,347.0 560.5,322.5 657.7,346.9" stroke="#2a2a2a" stroke-width="0.7" fill="none"/>
<polyline points="462.1,322.9 560.5,300.8 658.9,322.8" stroke="#2a2a2a" stroke-width="0.7" fill="none"/>
<line x1="468.5" y1="449.4" x2="462.1" y2="322.9" stroke="#2a2a2a" stroke-width="0.7" fill="none"/>
<line x1="490.3" y1="411.3" x2="486.7" y2="317.4" stroke="#2a2a2a" stroke-width="0.7" fill="none"/>
<line x1="513.7" y1="403.4" x2="511.3" y2="311.9" stroke="#2a2a2a" stroke-width="0.7" fill="none"/>
<line x1="537.1" y1="395.4" x2="535.9" y2="306.3" stroke="#2a2a2a" stroke-width="0.7" fill="none"/>
<line x1="652.7" y1="449.4" x2="658.9" y2="322.8" stroke="#2a2a2a" stroke-width="0.7" fill="none"/>
<line x1="630.7" y1="411.3" x2="634.3" y2="317.3" stroke="#2a2a2a" stroke-width="0.7" fill="none"/>
<line x1="607.3" y1="403.4" x2="609.7" y2="311.8" stroke="#2a2a2a" stroke-width="0.7" fill="none"/>
<line x1="583.9" y1="395.4" x2="585.1" y2="306.3" stroke="#2a2a2a" stroke-width="0.7" fill="none"/>
<line x1="560.5" y1="414.6" x2="560.5" y2="387.5" stroke="#a8a8a8" stroke-width="0.8"/>
<line x1="560.5" y1="387.5" x2="560.5" y2="300.8" stroke="#2a2a2a" stroke-width="0.7" fill="none"/>
<polygon points="468.5,449.4 560.5,414.6 652.7,449.4 560.5,493.3" fill="#5e5e5e" stroke="#151515" stroke-width="0.7"/>
<polyline points="551.4,489.0 553.3,488.8 553.9,488.8 555.2,488.6 556.8,488.5 557.1,488.4 559.0,488.2 559.9,488.1 560.8,488.0 562.6,487.8 563.0,487.7 564.4,487.5 566.2,487.3 566.2,487.3 568.0,487.0 569.6,486.8 569.7,486.8 571.4,486.5 573.1,486.2 573.1,486.2 574.8,485.9 576.5,485.6 576.8,485.5" fill="none" stroke="rgb(38,206,123)" stroke-width="1.5" stroke-linecap="round"/>
<polyline points="541.0,484.0 543.1,483.9 543.4,483.9 545.1,483.8 546.1,483.8 547.1,483.7 548.8,483.6 549.1,483.6 551.0,483.4 551.6,483.3 552.9,483.2 554.5,483.1 554.8,483.0 556.7,482.8 557.5,482.8 558.6,482.6 560.4,482.4 560.7,482.4 562.2,482.2 563.9,482.0 564.0,481.9 565.7,481.7 567.2,481.5 567.5,481.4 569.2,481.1 570.7,480.9 570.9,480.9 572.6,480.6 574.2,480.3 574.4,480.2 575.9,479.9 577.5,479.6 578.3,479.4 579.1,479.3 580.7,478.9 582.3,478.6 582.5,478.5 583.9,478.2 585.4,477.9 587.0,477.5 587.0,477.5 588.5,477.1 590.0,476.7 591.5,476.3 592.0,476.2 592.9,475.9 594.4,475.5 595.8,475.1 597.3,474.7 597.7,474.5 598.7,474.2 600.1,473.8 601.5,473.3 602.9,472.9 604.2,472.4 604.5,472.3" fill="none" stroke="rgb(46,206,38)" stroke-width="1.5" stroke-linecap="round"/>
<polyline points="640.3,455.3 641.0,454.8 641.9,454.2 642.9,453.5 643.8,452.9 644.6,452.3 644.7,452.2 645.5,451.6 646.4,450.9 647.2,450.3 647.9,449.7 648.0,449.6 648.9,448.9 649.6,448.2" fill="none" stroke="rgb(46,206,38)" stroke-width="1.5" stroke-linecap="round"/>
<polyline points="528.2,477.9 528.3,477.9 530.5,478.0 530.6,478.0 532.8,478.0 533.0,478.0 535.0,478.0 535.4,478.0 537.1,477.9 537.8,477.9 539.3,477.9 540.4,477.8 541.4,477.8 543.0,477.7 543.4,477.7 545.4,477.6 545.6,477.6 547.4,477.5 548.4,477.4 549.4,477.3 551.2,477.2 551.3,477.2 553.2,477.0 554.1,476.9 555.1,476.8 557.0,476.6 557.2,476.6 558.8,476.4 560.3,476.2 560.6,476.1 562.3,475.9 563.7,475.7 564.1,475.6 565.8,475.4 567.1,475.2 567.5,475.1 569.2,474.8 570.8,474.5 570.9,474.5 572.5,474.2 574.2,473.9 574.7,473.8 575.8,473.6 577.4,473.2 578.9,472.9 578.9,472.9 580.5,472.5 582.0,472.2 583.5,471.8 583.5,471.8 585.0,471.4 586.5,471.0 588.0,470.6 588.7,470.4 589.4,470.2 590.9,469.8 592.3,469.4 593.7,468.9 594.9,468.6 595.1,468.5 596.5,468.1 597.8,467.6 599.2,467.2 600.5,466.7 601.8,466.2 603.1,465.7 603.4,465.6 604.4,465.3 605.6,464.8 606.9,464.3 608.1,463.8 609.4,463.3 610.6,462.7 611.8,462.2 612.9,461.7 614.1,461.1 615.2,460.6 616.4,460.1 617.5,459.5 618.6,458.9 619.7,458.4 620.8,457.8 621.8,457.2 622.9,456.7 623.9,456.1 624.1,456.0 624.9,455.5 625.9,454.9 626.9,454.3 627.8,453.6 628.8,453.0 629.7,452.4 630.0,452.2 630.6,451.8 631.5,451.1 632.4,450.5 633.3,449.8 633.7,449.5 634.1,449.2 634.9,448.5 635.7,447.8 636.4,447.3 636.5,447.2 637.2,446.5 638.0,445.8 638.4,445.4 638.7,445.1 639.4,444.4" fill="none" stroke="rgb(140,206,38)" stroke-width="1.5" stroke-linecap="round"/>
<polyline points="509.8,469.1 509.9,469.1 511.7,469.4 512.8,469.5 513.6,469.6 515.5,469.8 515.7,469.9 517.5,470.0 518.4,470.1 519.5,470.2 521.1,470.3 521.6,470.4 523.7,470.5 523.7,470.5 525.8,470.6 526.1,470.6 528.0,470.7 528.5,470.7 530.3,470.8 530.9,470.8 532.6,470.8 533.2,470.8 534.9,470.8 535.4,470.8 537.4,470.8 537.6,470.8 539.7,470.7 539.9,470.7 541.8,470.7 542.4,470.6 543.8,470.6 545.1,470.5 545.8,470.4 547.8,470.3 547.9,470.3 549.7,470.2 550.7,470.1 551.6,470.0 553.5,469.8 553.7,469.8 555.4,469.6 556.8,469.4 557.2,469.4 558.9,469.1 560.1,469.0 560.7,468.9 562.4,468.6 563.6,468.5 564.1,468.4 565.8,468.1 567.3,467.8 567.5,467.8 569.1,467.5 570.7,467.2 571.3,467.0 572.3,466.8 573.8,466.5 575.4,466.1 575.7,466.1 576.9,465.8 578.4,465.4 579.9,465.0 580.8,464.8 581.4,464.6 582.8,464.2 584.2,463.8 585.6,463.4 587.0,463.0 587.0,463.0 588.4,462.6 589.7,462.1 591.0,461.7 592.4,461.2 593.6,460.7 594.9,460.3 596.2,459.8 596.8,459.5 597.4,459.3 598.6,458.8 599.8,458.3 601.0,457.8 602.2,457.2 603.3,456.7 604.4,456.2 605.6,455.6 606.6,455.1 607.3,454.8 607.7,454.5 608.8,454.0 609.8,453.4 610.8,452.8 611.8,452.2 612.7,451.6 613.7,451.0 614.5,450.5 614.6,450.4 615.5,449.8 616.4,449.1 617.3,448.5 618.0,447.9 618.1,447.8 618.9,447.2 619.7,446.5 620.4,445.8 620.4,445.8 621.1,445.1 621.8,444.4 622.1,444.1 622.5,443.7 623.1,443.0 623.5,442.5 623.7,442.3 624.2,441.5 624.5,441.1 624.7,440.7 625.2,440.0 625.3,439.8 625.6,439.2" fill="none" stroke="rgb(206,178,38)" stroke-width="1.5" stroke-linecap="round"/>
<polyline points="555.0,416.7 556.8,416.7 557.2,416.7 559.1,416.7 559.5,416.7 561.6,416.8 561.7,416.8 563.8,416.8 564.0,416.8 566.0,416.9 566.5,416.9" fill="none" stroke="rgb(206,178,38)" stroke-width="1.5" stroke-linecap="round"/>
<polyline points="481.1,444.6 481.2,444.6 481.6,445.4 482.0,446.0 482.1,446.2 482.7,446.9 483.3,447.6 483.4,447.6 484.1,448.3 484.8,449.0 485.6,449.6 485.7,449.7 486.5,450.3 487.5,451.0 488.4,451.6 489.4,452.2 490.5,452.8 491.6,453.3 492.7,453.9 493.8,454.4 495.1,454.9 496.3,455.4 497.6,455.9 498.9,456.4 500.3,456.8 501.7,457.3 502.5,457.5 503.1,457.7 504.6,458.1 506.1,458.5 507.4,458.8 507.6,458.9 509.2,459.2 510.9,459.5 511.4,459.6 512.5,459.9 514.3,460.2 514.9,460.3 516.0,460.4 517.8,460.7 518.1,460.7 519.7,460.9 521.0,461.1 521.6,461.1 523.6,461.3 523.8,461.4 525.6,461.5 526.5,461.6 527.7,461.6 529.0,461.7 529.8,461.7 531.4,461.8 532.0,461.8 533.8,461.8 534.3,461.9 536.0,461.9 536.7,461.9 538.2,461.8 539.1,461.8 540.3,461.8 541.7,461.7 542.4,461.7 544.3,461.6 544.4,461.6 546.4,461.5 547.1,461.4 548.3,461.3 550.1,461.2 550.2,461.1 552.0,460.9 553.2,460.8 553.8,460.7 555.6,460.5 556.5,460.4 557.3,460.3 559.0,460.0 560.1,459.8 560.7,459.7 562.3,459.4 563.9,459.1 564.2,459.0 565.5,458.8 567.0,458.4 568.5,458.1 568.8,458.0 570.0,457.7 571.4,457.3 572.9,456.9 574.3,456.5 574.7,456.4 575.6,456.1 577.0,455.7 578.3,455.3 579.6,454.8 580.8,454.4 582.1,453.9 583.3,453.4 584.5,452.9 585.6,452.4 586.8,451.9 587.9,451.4 589.0,450.8 590.0,450.3 591.0,449.7 592.0,449.1 593.0,448.5 593.7,448.0 593.9,447.9 594.8,447.3 595.6,446.7 596.4,446.0 596.8,445.7 597.2,445.4 597.9,444.7 598.6,444.0 598.7,443.9 599.2,443.3 599.8,442.6 599.9,442.4 600.3,441.8 600.7,441.1 600.7,441.0 601.1,440.2 601.2,439.9 601.4,439.4 601.5,438.9 601.5,438.5 601.6,437.9 601.6,437.6 601.5,437.0 601.4,436.6 601.3,436.1 601.1,435.5 601.0,435.3 600.6,434.6 600.4,434.3 600.0,433.9 599.4,433.2 599.1,432.9 598.7,432.6 598.0,432.0 597.1,431.4 596.2,430.8 596.2,430.8 595.2,430.3 594.2,429.8 593.1,429.4 592.0,428.9 590.8,428.5 589.5,428.1 588.2,427.7 587.7,427.6 586.9,427.4 585.5,427.0 584.0,426.7 582.5,426.4 581.9,426.3 581.0,426.1 579.4,425.9 577.8,425.6 577.7,425.6 576.1,425.4 574.4,425.1 574.1,425.1 572.7,424.9 570.9,424.7 570.8,424.7 569.1,424.6 567.7,424.5 567.2,424.4 565.3,424.3 564.8,424.2 563.3,424.1 562.1,424.1 561.3,424.0 559.4,423.9 559.2,423.9 557.1,423.8 556.9,423.8 555.0,423.8 554.4,423.8 552.8,423.7 552.0,423.7 550.5,423.7 549.7,423.7 548.2,423.7 547.4,423.7 545.9,423.7 545.2,423.7 543.5,423.7 543.0,423.7 541.0,423.8 540.8,423.8 538.7,423.8 538.4,423.8 536.7,423.9 535.8,423.9" fill="none" stroke="rgb(206,83,38)" stroke-width="1.5" stroke-linecap="round"/>
<circle cx="467.0" cy="419.3" r="0.95" fill="#111"/>
<text x="463.8" y="417.0" font-size="6.2" text-anchor="end" fill="#2e2e2e" stroke="#2e2e2e" stroke-width="0.12" font-family="Liberation Sans, sans-serif">60</text>
<circle cx="465.8" cy="395.2" r="0.95" fill="#111"/>
<text x="462.6" y="392.9" font-size="6.2" text-anchor="end" fill="#2e2e2e" stroke="#2e2e2e" stroke-width="0.12" font-family="Liberation Sans, sans-serif">70</text>
<circle cx="464.6" cy="371.1" r="0.95" fill="#111"/>
<text x="461.4" y="368.8" font-size="6.2" text-anchor="end" fill="#2e2e2e" stroke="#2e2e2e" stroke-width="0.12" font-family="Liberation Sans, sans-serif">80</text>
<circle cx="463.4" cy="347.0" r="0.95" fill="#111"/>
<text x="460.2" y="344.7" font-size="6.2" text-anchor="end" fill="#2e2e2e" stroke="#2e2e2e" stroke-width="0.12" font-family="Liberation Sans, sans-serif">90</text>
<circle cx="462.1" cy="322.9" r="0.95" fill="#111"/>
<text x="458.9" y="320.6" font-size="6.2" text-anchor="end" fill="#2e2e2e" stroke="#2e2e2e" stroke-width="0.12" font-family="Liberation Sans, sans-serif">100</text>
<circle cx="560.5" cy="493.3" r="0.95" fill="#111"/>
<text x="556.9" y="499.8" font-size="6.2" text-anchor="end" fill="#2e2e2e" stroke="#2e2e2e" stroke-width="0.12" font-family="Liberation Sans, sans-serif">-1</text>
<circle cx="560.5" cy="493.3" r="0.95" fill="#111"/>
<text x="564.4" y="499.8" font-size="6.2" text-anchor="start" fill="#2e2e2e" stroke="#2e2e2e" stroke-width="0.12" font-family="Liberation Sans, sans-serif">-1</text>
<circle cx="537.5" cy="482.3" r="0.95" fill="#111"/>
<text x="533.9" y="488.8" font-size="6.2" text-anchor="end" fill="#2e2e2e" stroke="#2e2e2e" stroke-width="0.12" font-family="Liberation Sans, sans-serif">-0.5</text>
<circle cx="583.5" cy="482.3" r="0.95" fill="#111"/>
<text x="587.4" y="488.8" font-size="6.2" text-anchor="start" fill="#2e2e2e" stroke="#2e2e2e" stroke-width="0.12" font-family="Liberation Sans, sans-serif">-0.5</text>
<circle cx="514.5" cy="471.4" r="0.95" fill="#111"/>
<text x="510.9" y="477.9" font-size="6.2" text-anchor="end" fill="#2e2e2e" stroke="#2e2e2e" stroke-width="0.12" font-family="Liberation Sans, sans-serif">0</text>
<circle cx="606.6" cy="471.4" r="0.95" fill="#111"/>
<text x="610.5" y="477.9" font-size="6.2" text-anchor="start" fill="#2e2e2e" stroke="#2e2e2e" stroke-width="0.12" font-family="Liberation Sans, sans-serif">0</text>
<circle cx="491.5" cy="460.4" r="0.95" fill="#111"/>
<text x="487.9" y="466.9" font-size="6.2" text-anchor="end" fill="#2e2e2e" stroke="#2e2e2e" stroke-width="0.12" font-family="Liberation Sans, sans-serif">0.5</text>
<circle cx="629.6" cy="460.4" r="0.95" fill="#111"/>
<text x="633.5" y="466.9" font-size="6.2" text-anchor="start" fill="#2e2e2e" stroke="#2e2e2e" stroke-width="0.12" font-family="Liberation Sans, sans-serif">0.5</text>
<circle cx="468.5" cy="449.4" r="0.95" fill="#111"/>
<text x="464.9" y="455.9" font-size="6.2" text-anchor="end" fill="#2e2e2e" stroke="#2e2e2e" stroke-width="0.12" font-family="Liberation Sans, sans-serif">1</text>
<circle cx="652.7" cy="449.4" r="0.95" fill="#111"/>
<text x="656.6" y="455.9" font-size="6.2" text-anchor="start" fill="#2e2e2e" stroke="#2e2e2e" stroke-width="0.12" font-family="Liberation Sans, sans-serif">1</text>
<g stroke="#181818" stroke-width="0.4" stroke-linejoin="round">
<polygon points="560.5,325.8 565.3,327.6 560.5,329.3 555.6,327.3" fill="rgb(193,168,0)"/>
<polygon points="555.6,324.3 560.5,325.8 555.6,327.3 550.7,325.7" fill="rgb(202,142,0)"/>
<polygon points="565.3,324.6 570.2,326.3 565.3,327.6 560.5,325.8" fill="rgb(199,144,0)"/>
<polygon points="550.7,323.0 555.6,324.3 550.7,325.7 545.9,324.2" fill="rgb(211,117,0)"/>
<polygon points="560.5,323.2 565.3,324.6 560.5,325.8 555.6,324.3" fill="rgb(208,117,0)"/>
<polygon points="570.2,323.8 575.0,325.3 570.2,326.3 565.3,324.6" fill="rgb(206,122,0)"/>
<polygon points="545.8,321.9 550.7,323.0 545.9,324.2 541.0,323.1" fill="rgb(221,92,0)"/>
<polygon points="555.6,322.0 560.5,323.2 555.6,324.3 550.7,323.0" fill="rgb(218,91,0)"/>
<polygon points="565.3,322.5 570.2,323.8 565.3,324.6 560.5,323.2" fill="rgb(215,95,0)"/>
<polygon points="575.1,323.4 579.9,324.8 575.0,325.3 570.2,323.8" fill="rgb(212,103,0)"/>
<polygon points="550.7,321.1 555.6,322.0 550.7,323.0 545.8,321.9" fill="rgb(228,66,0)"/>
<polygon points="560.5,321.5 565.3,322.5 560.5,323.2 555.6,322.0" fill="rgb(224,69,0)"/>
<polygon points="570.2,322.2 575.1,323.4 570.2,323.8 565.3,322.5" fill="rgb(221,76,0)"/>
<polygon points="540.9,321.2 545.8,321.9 541.0,323.1 536.1,322.2" fill="rgb(231,69,0)"/>
<polygon points="580.0,323.3 584.8,324.6 579.9,324.8 575.1,323.4" fill="rgb(218,88,0)"/>
<polygon points="555.6,320.7 560.5,321.5 555.6,322.0 550.7,321.1" fill="rgb(234,44,0)"/>
<polygon points="565.4,321.3 570.2,322.2 565.3,322.5 560.5,321.5" fill="rgb(231,50,0)"/>
<polygon points="536.0,320.7 540.9,321.2 536.1,322.2 531.2,321.6" fill="rgb(241,47,0)"/>
<polygon points="545.8,320.5 550.7,321.1 545.8,321.9 540.9,321.2" fill="rgb(238,43,0)"/>
<polygon points="575.1,322.3 580.0,323.3 575.1,323.4 570.2,322.2" fill="rgb(227,61,0)"/>
<polygon points="584.9,323.7 589.7,324.9 584.8,324.6 580.0,323.3" fill="rgb(223,77,0)"/>
<polygon points="531.1,320.4 536.0,320.7 531.2,321.6 526.3,321.2" fill="rgb(250,28,1)"/>
<polygon points="540.9,320.1 545.8,320.5 540.9,321.2 536.0,320.7" fill="rgb(248,21,0)"/>
<polygon points="550.7,320.2 555.6,320.7 550.7,321.1 545.8,320.5" fill="rgb(244,20,0)"/>
<polygon points="560.5,320.6 565.4,321.3 560.5,321.5 555.6,320.7" fill="rgb(240,25,0)"/>
<polygon points="570.3,321.5 575.1,322.3 570.2,322.2 565.4,321.3" fill="rgb(237,35,0)"/>
<polygon points="580.0,322.8 584.9,323.7 580.0,323.3 575.1,322.3" fill="rgb(232,50,0)"/>
<polygon points="589.8,324.5 594.6,325.5 589.7,324.9 584.9,323.7" fill="rgb(228,70,0)"/>
<polygon points="526.2,320.5 531.1,320.4 526.3,321.2 521.4,321.2" fill="rgb(250,18,9)"/>
<polygon points="536.0,320.0 540.9,320.1 536.0,320.7 531.1,320.4" fill="rgb(250,7,6)"/>
<polygon points="545.8,319.9 550.7,320.2 545.8,320.5 540.9,320.1" fill="rgb(250,3,3)"/>
<polygon points="555.6,320.2 560.5,320.6 555.6,320.7 550.7,320.2" fill="rgb(250,1,0)"/>
<polygon points="565.4,320.9 570.3,321.5 565.4,321.3 560.5,320.6" fill="rgb(246,10,0)"/>
<polygon points="575.1,322.1 580.0,322.8 575.1,322.3 570.3,321.5" fill="rgb(242,24,0)"/>
<polygon points="584.9,323.7 589.8,324.5 584.9,323.7 580.0,322.8" fill="rgb(237,44,0)"/>
<polygon points="594.6,325.7 599.5,326.6 594.6,325.5 589.8,324.5" fill="rgb(232,68,0)"/>
<polygon points="521.3,320.9 526.2,320.5 521.4,321.2 516.5,321.4" fill="rgb(250,16,16)"/>
<polygon points="531.1,320.2 536.0,320.0 531.1,320.4 526.2,320.5" fill="rgb(250,14,14)"/>
<polygon points="540.9,319.9 545.8,319.9 540.9,320.1 536.0,320.0" fill="rgb(250,11,11)"/>
<polygon points="550.7,320.1 555.6,320.2 550.7,320.2 545.8,319.9" fill="rgb(250,8,8)"/>
<polygon points="560.5,320.7 565.4,320.9 560.5,320.6 555.6,320.2" fill="rgb(250,4,4)"/>
<polygon points="570.3,321.7 575.1,322.1 570.3,321.5 565.4,320.9" fill="rgb(250,1,1)"/>
<polygon points="580.0,323.1 584.9,323.7 580.0,322.8 575.1,322.1" fill="rgb(246,18,0)"/>
<polygon points="589.8,325.0 594.6,325.7 589.8,324.5 584.9,323.7" fill="rgb(241,42,0)"/>
<polygon points="599.5,327.3 604.3,328.1 599.5,326.6 594.6,325.7" fill="rgb(235,71,0)"/>
<polygon points="526.2,320.7 531.1,320.2 526.2,320.5 521.3,320.9" fill="rgb(250,21,21)"/>
<polygon points="536.0,320.2 540.9,319.9 536.0,320.0 531.1,320.2" fill="rgb(250,18,18)"/>
<polygon points="545.8,320.2 550.7,320.1 545.8,319.9 540.9,319.9" fill="rgb(250,15,15)"/>
<polygon points="575.2,322.8 580.0,323.1 575.1,322.1 570.3,321.7" fill="rgb(250,4,4)"/>
<polygon points="584.9,324.5 589.8,325.0 584.9,323.7 580.0,323.1" fill="rgb(249,18,0)"/>
<polygon points="594.7,326.7 599.5,327.3 594.6,325.7 589.8,325.0" fill="rgb(243,46,0)"/>
<polygon points="516.4,321.6 521.3,320.9 516.5,321.4 511.6,322.0" fill="rgb(250,24,24)"/>
<polygon points="555.6,320.6 560.5,320.7 555.6,320.2 550.7,320.1" fill="rgb(250,12,12)"/>
<polygon points="565.4,321.5 570.3,321.7 565.4,320.9 560.5,320.7" fill="rgb(250,8,8)"/>
<polygon points="604.4,329.3 609.2,330.1 604.3,328.1 599.5,327.3" fill="rgb(237,79,0)"/>
<polygon points="531.1,320.9 536.0,320.2 531.1,320.2 526.2,320.7" fill="rgb(250,25,25)"/>
<polygon points="540.9,320.7 545.8,320.2 540.9,319.9 536.0,320.2" fill="rgb(250,22,22)"/>
<polygon points="580.1,324.3 584.9,324.5 580.0,323.1 575.2,322.8" fill="rgb(250,6,6)"/>
<polygon points="589.8,326.3 594.7,326.7 589.8,325.0 584.9,324.5" fill="rgb(250,24,1)"/>
<polygon points="511.5,322.6 516.4,321.6 511.6,322.0 506.7,322.9" fill="rgb(250,31,31)"/>
<polygon points="521.3,321.5 526.2,320.7 521.3,320.9 516.4,321.6" fill="rgb(250,28,28)"/>
<polygon points="550.7,320.9 555.6,320.6 550.7,320.1 545.8,320.2" fill="rgb(250,19,19)"/>
<polygon points="560.5,321.6 565.4,321.5 560.5,320.7 555.6,320.6" fill="rgb(250,15,15)"/>
<polygon points="570.3,322.7 575.2,322.8 570.3,321.7 565.4,321.5" fill="rgb(250,11,11)"/>
<polygon points="599.5,328.9 604.4,329.3 599.5,327.3 594.7,326.7" fill="rgb(245,55,0)"/>
<polygon points="609.2,331.9 614.0,332.5 609.2,330.1 604.4,329.3" fill="rgb(238,92,0)"/>
<polygon points="536.0,321.4 540.9,320.7 536.0,320.2 531.1,320.9" fill="rgb(250,29,29)"/>
<polygon points="584.9,326.3 589.8,326.3 584.9,324.5 580.1,324.3" fill="rgb(250,10,8)"/>
<polygon points="526.2,321.8 531.1,320.9 526.2,320.7 521.3,321.5" fill="rgb(250,32,32)"/>
<polygon points="545.8,321.5 550.7,320.9 545.8,320.2 540.9,320.7" fill="rgb(250,26,26)"/>
<polygon points="555.6,322.0 560.5,321.6 555.6,320.6 550.7,320.9" fill="rgb(250,22,22)"/>
<polygon points="565.4,322.9 570.3,322.7 565.4,321.5 560.5,321.6" fill="rgb(250,18,18)"/>
<polygon points="575.2,324.4 580.1,324.3 575.2,322.8 570.3,322.7" fill="rgb(250,13,13)"/>
<polygon points="594.7,328.6 599.5,328.9 594.7,326.7 589.8,326.3" fill="rgb(250,35,2)"/>
<polygon points="506.6,323.9 511.5,322.6 506.7,322.9 501.8,324.1" fill="rgb(250,38,38)"/>
<polygon points="516.4,322.6 521.3,321.5 516.4,321.6 511.5,322.6" fill="rgb(250,35,35)"/>
<polygon points="604.4,331.5 609.2,331.9 604.4,329.3 599.5,328.9" fill="rgb(245,70,0)"/>
<polygon points="614.1,334.8 618.9,335.4 614.0,332.5 609.2,331.9" fill="rgb(237,111,0)"/>
<polygon points="501.8,325.5 506.6,323.9 501.8,324.1 496.9,325.6" fill="rgb(250,44,44)"/>
<polygon points="511.5,324.0 516.4,322.6 511.5,322.6 506.6,323.9" fill="rgb(250,42,42)"/>
<polygon points="521.3,323.0 526.2,321.8 521.3,321.5 516.4,322.6" fill="rgb(250,39,39)"/>
<polygon points="531.1,322.4 536.0,321.4 531.1,320.9 526.2,321.8" fill="rgb(250,36,36)"/>
<polygon points="540.9,322.3 545.8,321.5 540.9,320.7 536.0,321.4" fill="rgb(250,32,32)"/>
<polygon points="550.7,322.6 555.6,322.0 550.7,320.9 545.8,321.5" fill="rgb(250,28,28)"/>
<polygon points="560.5,323.4 565.4,322.9 560.5,321.6 555.6,322.0" fill="rgb(250,24,24)"/>
<polygon points="570.3,324.7 575.2,324.4 570.3,322.7 565.4,322.9" fill="rgb(250,19,19)"/>
<polygon points="580.1,326.4 584.9,326.3 580.1,324.3 575.2,324.4" fill="rgb(250,14,14)"/>
<polygon points="589.8,328.6 594.7,328.6 589.8,326.3 584.9,326.3" fill="rgb(250,22,8)"/>
<polygon points="599.5,331.3 604.4,331.5 599.5,328.9 594.7,328.6" fill="rgb(250,51,3)"/>
<polygon points="609.2,334.5 614.1,334.8 609.2,331.9 604.4,331.5" fill="rgb(245,90,0)"/>
<polygon points="618.9,338.3 623.7,338.7 618.9,335.4 614.1,334.8" fill="rgb(236,134,0)"/>
<polygon points="545.8,323.6 550.7,322.6 545.8,321.5 540.9,322.3" fill="rgb(250,35,35)"/>
<polygon points="555.6,324.2 560.5,323.4 555.6,322.0 550.7,322.6" fill="rgb(250,30,30)"/>
<polygon points="565.4,325.3 570.3,324.7 565.4,322.9 560.5,323.4" fill="rgb(250,25,25)"/>
<polygon points="575.2,326.9 580.1,326.4 575.2,324.4 570.3,324.7" fill="rgb(250,20,20)"/>
<polygon points="496.9,327.5 501.8,325.5 496.9,325.6 492.0,327.5" fill="rgb(250,55,55)"/>
<polygon points="506.6,325.8 511.5,324.0 506.6,323.9 501.8,325.5" fill="rgb(250,49,49)"/>
<polygon points="516.4,324.5 521.3,323.0 516.4,322.6 511.5,324.0" fill="rgb(250,45,45)"/>
<polygon points="526.2,323.7 531.1,322.4 526.2,321.8 521.3,323.0" fill="rgb(250,42,42)"/>
<polygon points="536.0,323.4 540.9,322.3 536.0,321.4 531.1,322.4" fill="rgb(250,39,39)"/>
<polygon points="584.9,328.9 589.8,328.6 584.9,326.3 580.1,326.4" fill="rgb(250,14,14)"/>
<polygon points="594.7,331.5 599.5,331.3 594.7,328.6 589.8,328.6" fill="rgb(250,38,8)"/>
<polygon points="604.4,334.5 609.2,334.5 604.4,331.5 599.5,331.3" fill="rgb(250,73,2)"/>
<polygon points="614.0,338.1 618.9,338.3 614.1,334.8 609.2,334.5" fill="rgb(244,116,0)"/>
<polygon points="623.6,342.2 628.4,342.5 623.7,338.7 618.9,338.3" fill="rgb(234,163,0)"/>
<polygon points="501.7,327.9 506.6,325.8 501.8,325.5 496.9,327.5" fill="rgb(250,64,64)"/>
<polygon points="511.5,326.4 516.4,324.5 511.5,324.0 506.6,325.8" fill="rgb(250,57,57)"/>
<polygon points="521.3,325.4 526.2,323.7 521.3,323.0 516.4,324.5" fill="rgb(250,50,50)"/>
<polygon points="550.7,325.3 555.6,324.2 550.7,322.6 545.8,323.6" fill="rgb(250,36,36)"/>
<polygon points="560.5,326.2 565.4,325.3 560.5,323.4 555.6,324.2" fill="rgb(250,31,31)"/>
<polygon points="570.3,327.6 575.2,326.9 570.3,324.7 565.4,325.3" fill="rgb(250,26,26)"/>
<polygon points="599.5,334.7 604.4,334.5 599.5,331.3 594.7,331.5" fill="rgb(250,60,7)"/>
<polygon points="609.2,338.1 614.0,338.1 609.2,334.5 604.4,334.5" fill="rgb(250,99,1)"/>
<polygon points="618.8,342.1 623.6,342.2 618.9,338.3 614.0,338.1" fill="rgb(241,146,0)"/>
<polygon points="492.0,329.9 496.9,327.5 492.0,327.5 487.2,329.7" fill="rgb(250,71,68)"/>
<polygon points="540.9,324.8 545.8,323.6 540.9,322.3 536.0,323.4" fill="rgb(250,41,41)"/>
<polygon points="580.1,329.5 584.9,328.9 580.1,326.4 575.2,326.9" fill="rgb(250,20,20)"/>
<polygon points="628.4,346.6 633.2,346.8 628.4,342.5 623.6,342.2" fill="rgb(232,195,0)"/>
<polygon points="531.1,324.9 536.0,323.4 531.1,322.4 526.2,323.7" fill="rgb(250,45,45)"/>
<polygon points="589.8,331.8 594.7,331.5 589.8,328.6 584.9,328.9" fill="rgb(250,29,14)"/>
<polygon points="555.6,327.3 560.5,326.2 555.6,324.2 550.7,325.3" fill="rgb(250,37,37)"/>
<polygon points="565.4,328.6 570.3,327.6 565.4,325.3 560.5,326.2" fill="rgb(250,31,31)"/>
<polygon points="506.6,328.6 511.5,326.4 506.6,325.8 501.7,327.9" fill="rgb(250,71,71)"/>
<polygon points="516.4,327.4 521.3,325.4 516.4,324.5 511.5,326.4" fill="rgb(250,64,64)"/>
<polygon points="604.4,338.5 609.2,338.1 604.4,334.5 599.5,334.7" fill="rgb(250,86,6)"/>
<polygon points="614.0,342.2 618.8,342.1 614.0,338.1 609.2,338.1" fill="rgb(248,131,0)"/>
<polygon points="496.9,330.3 501.7,327.9 496.9,327.5 492.0,329.9" fill="rgb(250,76,76)"/>
<polygon points="545.8,326.6 550.7,325.3 545.8,323.6 540.9,324.8" fill="rgb(250,42,42)"/>
<polygon points="575.2,330.3 580.1,329.5 575.2,326.9 570.3,327.6" fill="rgb(250,25,25)"/>
<polygon points="623.6,346.6 628.4,346.6 623.6,342.2 618.8,342.1" fill="rgb(238,180,0)"/>
<polygon points="526.2,326.6 531.1,324.9 526.2,323.7 521.3,325.4" fill="rgb(250,55,55)"/>
<polygon points="536.0,326.4 540.9,324.8 536.0,323.4 531.1,324.9" fill="rgb(250,46,46)"/>
<polygon points="584.9,332.5 589.8,331.8 584.9,328.9 580.1,329.5" fill="rgb(250,23,19)"/>
<polygon points="594.7,335.2 599.5,334.7 594.7,331.5 589.8,331.8" fill="rgb(250,50,13)"/>
<polygon points="487.2,332.5 492.0,329.9 487.2,329.7 482.4,332.3" fill="rgb(250,94,80)"/>
<polygon points="633.1,351.5 637.9,351.7 633.2,346.8 628.4,346.6" fill="rgb(225,228,0)"/>
<polygon points="560.5,329.8 565.4,328.6 560.5,326.2 555.6,327.3" fill="rgb(250,36,36)"/>
<polygon points="511.5,329.7 516.4,327.4 511.5,326.4 506.6,328.6" fill="rgb(250,76,76)"/>
<polygon points="609.2,342.6 614.0,342.2 609.2,338.1 604.4,338.5" fill="rgb(250,118,3)"/>
<polygon points="482.4,335.6 487.2,332.5 482.4,332.3 477.6,335.3" fill="rgb(250,117,91)"/>
<polygon points="501.8,331.1 506.6,328.6 501.7,327.9 496.9,330.3" fill="rgb(250,82,82)"/>
<polygon points="550.7,328.8 555.6,327.3 550.7,325.3 545.8,326.6" fill="rgb(250,42,42)"/>
<polygon points="570.3,331.4 575.2,330.3 570.3,327.6 565.4,328.6" fill="rgb(250,31,31)"/>
<polygon points="618.8,346.8 623.6,346.6 618.8,342.1 614.0,342.2" fill="rgb(245,167,0)"/>
<polygon points="637.8,356.9 642.5,357.0 637.9,351.7 633.1,351.5" fill="rgb(177,225,0)"/>
<polygon points="521.3,328.7 526.2,326.6 521.3,325.4 516.4,327.4" fill="rgb(250,68,68)"/>
<polygon points="531.1,328.2 536.0,326.4 531.1,324.9 526.2,326.6" fill="rgb(250,58,58)"/>
<polygon points="540.9,328.3 545.8,326.6 540.9,324.8 536.0,326.4" fill="rgb(250,47,47)"/>
<polygon points="580.1,333.4 584.9,332.5 580.1,329.5 575.2,330.3" fill="rgb(250,24,24)"/>
<polygon points="589.8,336.0 594.7,335.2 589.8,331.8 584.9,332.5" fill="rgb(250,45,18)"/>
<polygon points="599.5,339.0 604.4,338.5 599.5,334.7 594.7,335.2" fill="rgb(250,77,11)"/>
<polygon points="492.1,333.1 496.9,330.3 492.0,329.9 487.2,332.5" fill="rgb(250,91,87)"/>
<polygon points="628.3,351.6 633.1,351.5 628.4,346.6 623.6,346.6" fill="rgb(235,219,0)"/>
<polygon points="487.2,336.2 492.1,333.1 487.2,332.5 482.4,335.6" fill="rgb(250,114,96)"/>
<polygon points="506.7,332.3 511.5,329.7 506.6,328.6 501.8,331.1" fill="rgb(250,86,86)"/>
<polygon points="555.6,331.4 560.5,329.8 555.6,327.3 550.7,328.8" fill="rgb(250,41,41)"/>
<polygon points="565.4,332.7 570.3,331.4 565.4,328.6 560.5,329.8" fill="rgb(250,35,35)"/>
<polygon points="613.9,347.3 618.8,346.8 614.0,342.2 609.2,342.6" fill="rgb(250,156,1)"/>
<polygon points="633.0,357.1 637.8,356.9 633.1,351.5 628.3,351.6" fill="rgb(200,230,0)"/>
<polygon points="516.4,331.1 521.3,328.7 516.4,327.4 511.5,329.7" fill="rgb(250,79,79)"/>
<polygon points="526.2,330.4 531.1,328.2 526.2,326.6 521.3,328.7" fill="rgb(250,70,70)"/>
<polygon points="536.0,330.3 540.9,328.3 536.0,326.4 531.1,328.2" fill="rgb(250,59,59)"/>
<polygon points="545.8,330.6 550.7,328.8 545.8,326.6 540.9,328.3" fill="rgb(250,47,47)"/>
<polygon points="575.2,334.6 580.1,333.4 575.2,330.3 570.3,331.4" fill="rgb(250,29,29)"/>
<polygon points="584.9,337.0 589.8,336.0 584.9,332.5 580.1,333.4" fill="rgb(250,43,22)"/>
<polygon points="594.6,339.9 599.5,339.0 594.7,335.2 589.8,336.0" fill="rgb(250,72,15)"/>
<polygon points="604.3,343.3 609.2,342.6 604.4,338.5 599.5,339.0" fill="rgb(250,109,8)"/>
<polygon points="477.6,339.0 482.4,335.6 477.6,335.3 472.8,338.6" fill="rgb(250,139,99)"/>
<polygon points="496.9,334.0 501.8,331.1 496.9,330.3 492.1,333.1" fill="rgb(250,92,92)"/>
<polygon points="623.5,351.9 628.3,351.6 623.6,346.6 618.8,346.8" fill="rgb(241,208,0)"/>
<polygon points="642.4,362.8 647.2,362.8 642.5,357.0 637.8,356.9" fill="rgb(124,220,0)"/>
<polygon points="492.1,337.2 496.9,334.0 492.1,333.1 487.2,336.2" fill="rgb(250,113,101)"/>
<polygon points="628.2,357.5 633.0,357.1 628.3,351.6 623.5,351.9" fill="rgb(221,236,0)"/>
<polygon points="521.3,332.9 526.2,330.4 521.3,328.7 516.4,331.1" fill="rgb(250,80,80)"/>
<polygon points="531.1,332.5 536.0,330.3 531.1,328.2 526.2,330.4" fill="rgb(250,69,69)"/>
<polygon points="540.9,332.7 545.8,330.6 540.9,328.3 536.0,330.3" fill="rgb(250,57,57)"/>
<polygon points="550.7,333.3 555.6,331.4 550.7,328.8 545.8,330.6" fill="rgb(250,46,46)"/>
<polygon points="570.3,336.1 575.2,334.6 570.3,331.4 565.4,332.7" fill="rgb(250,34,34)"/>
<polygon points="580.0,338.3 584.9,337.0 580.1,333.4 575.2,334.6" fill="rgb(250,44,27)"/>
<polygon points="589.8,341.0 594.6,339.9 589.8,336.0 584.9,337.0" fill="rgb(250,70,20)"/>
<polygon points="599.5,344.3 604.3,343.3 599.5,339.0 594.6,339.9" fill="rgb(250,103,13)"/>
<polygon points="482.5,339.7 487.2,336.2 482.4,335.6 477.6,339.0" fill="rgb(250,136,104)"/>
<polygon points="501.8,335.3 506.7,332.3 501.8,331.1 496.9,334.0" fill="rgb(250,95,95)"/>
<polygon points="511.6,333.9 516.4,331.1 511.5,329.7 506.7,332.3" fill="rgb(250,88,88)"/>
<polygon points="560.5,334.4 565.4,332.7 560.5,329.8 555.6,331.4" fill="rgb(250,40,40)"/>
<polygon points="609.1,348.1 613.9,347.3 609.2,342.6 604.3,343.3" fill="rgb(250,147,5)"/>
<polygon points="618.7,352.5 623.5,351.9 618.8,346.8 613.9,347.3" fill="rgb(246,199,0)"/>
<polygon points="637.7,363.1 642.4,362.8 637.8,356.9 633.0,357.1" fill="rgb(145,226,0)"/>
<polygon points="472.9,342.8 477.6,339.0 472.8,338.6 468.0,342.3" fill="rgb(250,161,105)"/>
<polygon points="647.0,369.3 651.8,369.2 647.2,362.8 642.4,362.8" fill="rgb(69,216,0)"/>
<polygon points="497.0,338.6 501.8,335.3 496.9,334.0 492.1,337.2" fill="rgb(250,113,103)"/>
<polygon points="623.4,358.1 628.2,357.5 623.5,351.9 618.7,352.5" fill="rgb(239,242,0)"/>
<polygon points="526.2,335.1 531.1,332.5 526.2,330.4 521.3,332.9" fill="rgb(250,79,79)"/>
<polygon points="536.0,335.0 540.9,332.7 536.0,330.3 531.1,332.5" fill="rgb(250,67,67)"/>
<polygon points="545.8,335.5 550.7,333.3 545.8,330.6 540.9,332.7" fill="rgb(250,54,54)"/>
<polygon points="575.1,339.9 580.0,338.3 575.2,334.6 570.3,336.1" fill="rgb(250,49,31)"/>
<polygon points="584.9,342.4 589.8,341.0 584.9,337.0 580.0,338.3" fill="rgb(250,71,24)"/>
<polygon points="594.6,345.5 599.5,344.3 594.6,339.9 589.8,341.0" fill="rgb(250,101,17)"/>
<polygon points="468.1,347.0 472.9,342.8 468.0,342.3 463.3,346.4" fill="rgb(250,181,105)"/>
<polygon points="487.3,340.9 492.1,337.2 487.2,336.2 482.5,339.7" fill="rgb(250,133,105)"/>
<polygon points="516.5,335.8 521.3,332.9 516.4,331.1 511.6,333.9" fill="rgb(250,89,89)"/>
<polygon points="604.2,349.1 609.1,348.1 604.3,343.3 599.5,344.3" fill="rgb(250,141,9)"/>
<polygon points="632.9,363.6 637.7,363.1 633.0,357.1 628.2,357.5" fill="rgb(164,231,0)"/>
<polygon points="651.6,376.3 656.3,376.2 651.8,369.2 647.0,369.3" fill="rgb(10,211,0)"/>
<polygon points="555.6,336.4 560.5,334.4 555.6,331.4 550.7,333.3" fill="rgb(250,44,44)"/>
<polygon points="565.4,337.9 570.3,336.1 565.4,332.7 560.5,334.4" fill="rgb(250,38,38)"/>
<polygon points="477.7,343.6 482.5,339.7 477.6,339.0 472.9,342.8" fill="rgb(250,155,105)"/>
<polygon points="506.7,336.9 511.6,333.9 506.7,332.3 501.8,335.3" fill="rgb(250,97,97)"/>
<polygon points="613.9,353.3 618.7,352.5 613.9,347.3 609.1,348.1" fill="rgb(250,191,2)"/>
<polygon points="642.3,369.6 647.0,369.3 642.4,362.8 637.7,363.1" fill="rgb(87,221,0)"/>
<polygon points="531.1,337.8 536.0,335.0 531.1,332.5 526.2,335.1" fill="rgb(250,76,76)"/>
<polygon points="540.9,337.9 545.8,335.5 540.9,332.7 536.0,335.0" fill="rgb(250,63,63)"/>
<polygon points="580.0,344.1 584.9,342.4 580.0,338.3 575.1,339.9" fill="rgb(250,75,28)"/>
<polygon points="589.7,347.0 594.6,345.5 589.8,341.0 584.9,342.4" fill="rgb(250,103,21)"/>
<polygon points="473.0,347.9 477.7,343.6 472.9,342.8 468.1,347.0" fill="rgb(250,175,105)"/>
<polygon points="492.2,342.3 497.0,338.6 492.1,337.2 487.3,340.9" fill="rgb(250,131,105)"/>
<polygon points="501.9,340.4 506.7,336.9 501.8,335.3 497.0,338.6" fill="rgb(250,114,103)"/>
<polygon points="521.4,338.1 526.2,335.1 521.3,332.9 516.5,335.8" fill="rgb(250,87,87)"/>
<polygon points="599.4,350.4 604.2,349.1 599.5,344.3 594.6,345.5" fill="rgb(250,139,13)"/>
<polygon points="618.6,359.1 623.4,358.1 618.7,352.5 613.9,353.3" fill="rgb(247,240,0)"/>
<polygon points="628.1,364.3 632.9,363.6 628.2,357.5 623.4,358.1" fill="rgb(180,237,0)"/>
<polygon points="646.8,376.7 651.6,376.3 647.0,369.3 642.3,369.6" fill="rgb(26,216,0)"/>
<polygon points="550.7,338.7 555.6,336.4 550.7,333.3 545.8,335.5" fill="rgb(250,49,49)"/>
<polygon points="570.3,341.7 575.1,339.9 570.3,336.1 565.4,337.9" fill="rgb(250,56,35)"/>
<polygon points="482.6,344.8 487.3,340.9 482.5,339.7 477.7,343.6" fill="rgb(250,151,105)"/>
<polygon points="511.6,339.0 516.5,335.8 511.6,333.9 506.7,336.9" fill="rgb(250,96,96)"/>
<polygon points="560.5,339.9 565.4,337.9 560.5,334.4 555.6,336.4" fill="rgb(250,43,42)"/>
<polygon points="609.0,354.4 613.9,353.3 609.1,348.1 604.2,349.1" fill="rgb(250,185,6)"/>
<polygon points="637.5,370.2 642.3,369.6 637.7,363.1 632.9,363.6" fill="rgb(104,227,0)"/>
<polygon points="536.0,340.8 540.9,337.9 536.0,335.0 531.1,337.8" fill="rgb(250,71,71)"/>
<polygon points="584.8,348.7 589.7,347.0 584.9,342.4 580.0,344.1" fill="rgb(250,107,25)"/>
<polygon points="477.8,349.2 482.6,344.8 477.7,343.6 473.0,347.9" fill="rgb(250,172,105)"/>
<polygon points="506.8,342.5 511.6,339.0 506.7,336.9 501.9,340.4" fill="rgb(250,116,102)"/>
<polygon points="526.3,340.8 531.1,337.8 526.2,335.1 521.4,338.1" fill="rgb(250,83,83)"/>
<polygon points="594.5,352.0 599.4,350.4 594.6,345.5 589.7,347.0" fill="rgb(250,140,17)"/>
<polygon points="613.7,360.3 618.6,359.1 613.9,353.3 609.0,354.4" fill="rgb(250,236,2)"/>
<polygon points="642.1,377.3 646.8,376.7 642.3,369.6 637.5,370.2" fill="rgb(41,222,0)"/>
<polygon points="545.8,341.3 550.7,338.7 545.8,335.5 540.9,337.9" fill="rgb(250,58,58)"/>
<polygon points="575.1,346.0 580.0,344.1 575.1,339.9 570.3,341.7" fill="rgb(250,82,32)"/>
<polygon points="487.4,346.4 492.2,342.3 487.3,340.9 482.6,344.8" fill="rgb(250,150,105)"/>
<polygon points="497.1,344.2 501.9,340.4 497.0,338.6 492.2,342.3" fill="rgb(250,132,105)"/>
<polygon points="516.5,341.4 521.4,338.1 516.5,335.8 511.6,339.0" fill="rgb(250,98,94)"/>
<polygon points="555.6,342.3 560.5,339.9 555.6,336.4 550.7,338.7" fill="rgb(250,55,45)"/>
<polygon points="565.4,343.9 570.3,341.7 565.4,337.9 560.5,339.9" fill="rgb(250,65,39)"/>
<polygon points="604.2,355.8 609.0,354.4 604.2,349.1 599.4,350.4" fill="rgb(250,183,10)"/>
<polygon points="623.3,365.3 628.1,364.3 623.4,358.1 618.6,359.1" fill="rgb(193,242,0)"/>
<polygon points="632.7,371.0 637.5,370.2 632.9,363.6 628.1,364.3" fill="rgb(118,232,0)"/>
<polygon points="482.7,350.8 487.4,346.4 482.6,344.8 477.8,349.2" fill="rgb(250,171,105)"/>
<polygon points="511.7,345.0 516.5,341.4 511.6,339.0 506.8,342.5" fill="rgb(250,119,99)"/>
<polygon points="531.2,343.9 536.0,340.8 531.1,337.8 526.3,340.8" fill="rgb(250,89,78)"/>
<polygon points="589.7,353.9 594.5,352.0 589.7,347.0 584.8,348.7" fill="rgb(250,144,21)"/>
<polygon points="608.9,361.7 613.7,360.3 609.0,354.4 604.2,355.8" fill="rgb(250,234,6)"/>
<polygon points="637.3,378.2 642.1,377.3 637.5,370.2 632.7,371.0" fill="rgb(53,227,0)"/>
<polygon points="541.0,344.2 545.8,341.3 540.9,337.9 536.0,340.8" fill="rgb(250,78,65)"/>
<polygon points="580.0,350.8 584.8,348.7 580.0,344.1 575.1,346.0" fill="rgb(250,114,28)"/>
<polygon points="502.0,346.4 506.8,342.5 501.9,340.4 497.1,344.2" fill="rgb(250,135,105)"/>
<polygon points="521.4,344.2 526.3,340.8 521.4,338.1 516.5,341.4" fill="rgb(250,103,90)"/>
<polygon points="550.7,345.0 555.6,342.3 550.7,338.7 545.8,341.3" fill="rgb(250,71,50)"/>
<polygon points="560.5,346.4 565.4,343.9 560.5,339.9 555.6,342.3" fill="rgb(250,77,42)"/>
<polygon points="570.2,348.3 575.1,346.0 570.3,341.7 565.4,343.9" fill="rgb(250,92,35)"/>
<polygon points="599.3,357.5 604.2,355.8 599.4,350.4 594.5,352.0" fill="rgb(250,184,13)"/>
<polygon points="618.4,366.6 623.3,365.3 618.6,359.1 613.7,360.3" fill="rgb(203,247,0)"/>
<polygon points="492.3,348.3 497.1,344.2 492.2,342.3 487.4,346.4" fill="rgb(250,151,105)"/>
<polygon points="627.9,372.1 632.7,371.0 628.1,364.3 623.3,365.3" fill="rgb(129,237,0)"/>
<polygon points="516.6,347.9 521.4,344.2 516.5,341.4 511.7,345.0" fill="rgb(250,125,95)"/>
<polygon points="604.1,363.5 608.9,361.7 604.2,355.8 599.3,357.5" fill="rgb(250,234,9)"/>
<polygon points="487.6,352.8 492.3,348.3 487.4,346.4 482.7,350.8" fill="rgb(250,173,105)"/>
<polygon points="506.9,349.0 511.7,345.0 506.8,342.5 502.0,346.4" fill="rgb(250,141,104)"/>
<polygon points="526.3,347.4 531.2,343.9 526.3,340.8 521.4,344.2" fill="rgb(250,110,84)"/>
<polygon points="536.1,347.4 541.0,344.2 536.0,340.8 531.2,343.9" fill="rgb(250,99,72)"/>
<polygon points="545.9,348.0 550.7,345.0 545.8,341.3 541.0,344.2" fill="rgb(250,92,57)"/>
<polygon points="555.6,349.2 560.5,346.4 555.6,342.3 550.7,345.0" fill="rgb(250,92,45)"/>
<polygon points="565.4,350.9 570.2,348.3 565.4,343.9 560.5,346.4" fill="rgb(250,104,38)"/>
<polygon points="575.1,353.2 580.0,350.8 575.1,346.0 570.2,348.3" fill="rgb(250,124,32)"/>
<polygon points="584.8,356.0 589.7,353.9 584.8,348.7 580.0,350.8" fill="rgb(250,151,24)"/>
<polygon points="594.4,359.5 599.3,357.5 594.5,352.0 589.7,353.9" fill="rgb(250,188,17)"/>
<polygon points="613.6,368.1 618.4,366.6 613.7,360.3 608.9,361.7" fill="rgb(208,250,2)"/>
<polygon points="632.5,379.3 637.3,378.2 632.7,371.0 627.9,372.1" fill="rgb(62,232,0)"/>
<polygon points="497.2,350.6 502.0,346.4 497.1,344.2 492.3,348.3" fill="rgb(250,155,105)"/>
<polygon points="623.1,373.4 627.9,372.1 623.3,365.3 618.4,366.6" fill="rgb(137,242,0)"/>
<polygon points="521.5,351.2 526.3,347.4 521.4,344.2 516.6,347.9" fill="rgb(250,132,89)"/>
<polygon points="599.2,365.5 604.1,363.5 599.3,357.5 594.4,359.5" fill="rgb(250,238,13)"/>
<polygon points="492.4,355.2 497.2,350.6 492.3,348.3 487.6,352.8" fill="rgb(250,177,105)"/>
<polygon points="511.8,352.0 516.6,347.9 511.7,345.0 506.9,349.0" fill="rgb(250,147,99)"/>
<polygon points="550.7,352.3 555.6,349.2 550.7,345.0 545.9,348.0" fill="rgb(250,110,49)"/>
<polygon points="560.5,353.8 565.4,350.9 560.5,346.4 555.6,349.2" fill="rgb(250,119,41)"/>
<polygon points="570.2,355.8 575.1,353.2 570.2,348.3 565.4,350.9" fill="rgb(250,136,35)"/>
<polygon points="608.8,370.0 613.6,368.1 608.9,361.7 604.1,363.5" fill="rgb(208,250,5)"/>
<polygon points="627.7,380.8 632.5,379.3 627.9,372.1 623.1,373.4" fill="rgb(69,236,0)"/>
<polygon points="541.0,351.3 545.9,348.0 541.0,344.2 536.1,347.4" fill="rgb(250,113,64)"/>
<polygon points="579.9,358.5 584.8,356.0 580.0,350.8 575.1,353.2" fill="rgb(250,161,28)"/>
<polygon points="502.1,353.3 506.9,349.0 502.0,346.4 497.2,350.6" fill="rgb(250,162,105)"/>
<polygon points="531.2,351.0 536.1,347.4 531.2,343.9 526.3,347.4" fill="rgb(250,121,77)"/>
<polygon points="589.6,361.7 594.4,359.5 589.7,353.9 584.8,356.0" fill="rgb(250,195,20)"/>
<polygon points="618.3,375.0 623.1,373.4 618.4,366.6 613.6,368.1" fill="rgb(142,247,0)"/>
<polygon points="497.3,358.0 502.1,353.3 497.2,350.6 492.4,355.2" fill="rgb(250,184,105)"/>
<polygon points="516.7,355.3 521.5,351.2 516.6,347.9 511.8,352.0" fill="rgb(250,155,93)"/>
<polygon points="526.4,354.9 531.2,351.0 526.3,347.4 521.5,351.2" fill="rgb(250,143,82)"/>
<polygon points="545.9,355.7 550.7,352.3 545.9,348.0 541.0,351.3" fill="rgb(250,132,55)"/>
<polygon points="555.6,356.9 560.5,353.8 555.6,349.2 550.7,352.3" fill="rgb(250,137,44)"/>
<polygon points="565.3,358.8 570.2,355.8 565.4,350.9 560.5,353.8" fill="rgb(250,152,37)"/>
<polygon points="575.0,361.2 579.9,358.5 575.1,353.2 570.2,355.8" fill="rgb(250,174,31)"/>
<polygon points="594.4,367.9 599.2,365.5 594.4,359.5 589.6,361.7" fill="rgb(250,245,16)"/>
<polygon points="603.9,372.1 608.8,370.0 604.1,363.5 599.2,365.5" fill="rgb(205,250,9)"/>
<polygon points="622.9,382.5 627.7,380.8 623.1,373.4 618.3,375.0" fill="rgb(72,241,0)"/>
<polygon points="507.0,356.4 511.8,352.0 506.9,349.0 502.1,353.3" fill="rgb(250,170,102)"/>
<polygon points="613.5,377.0 618.3,375.0 613.6,368.1 608.8,370.0" fill="rgb(143,250,1)"/>
<polygon points="536.2,355.0 541.0,351.3 536.1,347.4 531.2,351.0" fill="rgb(250,135,69)"/>
<polygon points="584.7,364.2 589.6,361.7 584.8,356.0 579.9,358.5" fill="rgb(250,205,23)"/>
<polygon points="502.2,361.2 507.0,356.4 502.1,353.3 497.3,358.0" fill="rgb(250,194,104)"/>
<polygon points="560.5,362.1 565.3,358.8 560.5,353.8 555.6,356.9" fill="rgb(250,169,40)"/>
<polygon points="618.1,384.4 622.9,382.5 618.3,375.0 613.5,377.0" fill="rgb(72,245,0)"/>
<polygon points="511.9,359.8 516.7,355.3 511.8,352.0 507.0,356.4" fill="rgb(250,179,96)"/>
<polygon points="521.6,359.1 526.4,354.9 521.5,351.2 516.7,355.3" fill="rgb(250,167,86)"/>
<polygon points="531.3,359.0 536.2,355.0 531.2,351.0 526.4,354.9" fill="rgb(250,159,74)"/>
<polygon points="541.0,359.4 545.9,355.7 541.0,351.3 536.2,355.0" fill="rgb(250,154,60)"/>
<polygon points="550.8,360.5 555.6,356.9 550.7,352.3 545.9,355.7" fill="rgb(250,157,46)"/>
<polygon points="570.2,364.3 575.0,361.2 570.2,355.8 565.3,358.8" fill="rgb(250,189,33)"/>
<polygon points="579.9,367.1 584.7,364.2 579.9,358.5 575.0,361.2" fill="rgb(250,218,26)"/>
<polygon points="589.5,370.5 594.4,367.9 589.6,361.7 584.7,364.2" fill="rgb(245,250,19)"/>
<polygon points="599.1,374.5 603.9,372.1 599.2,365.5 594.4,367.9" fill="rgb(198,250,12)"/>
<polygon points="608.6,379.1 613.5,377.0 608.8,370.0 603.9,372.1" fill="rgb(140,250,4)"/>
<polygon points="507.1,364.7 511.9,359.8 507.0,356.4 502.2,361.2" fill="rgb(250,204,98)"/>
<polygon points="536.2,363.5 541.0,359.4 536.2,355.0 531.3,359.0" fill="rgb(250,179,65)"/>
<polygon points="555.6,365.7 560.5,362.1 555.6,356.9 550.8,360.5" fill="rgb(250,190,42)"/>
<polygon points="565.3,367.6 570.2,364.3 565.3,358.8 560.5,362.1" fill="rgb(250,208,36)"/>
<polygon points="584.6,373.4 589.5,370.5 584.7,364.2 579.9,367.1" fill="rgb(232,250,22)"/>
<polygon points="613.3,386.7 618.1,384.4 613.5,377.0 608.6,379.1" fill="rgb(68,250,0)"/>
<polygon points="516.8,363.7 521.6,359.1 516.7,355.3 511.9,359.8" fill="rgb(250,192,89)"/>
<polygon points="526.5,363.3 531.3,359.0 526.4,354.9 521.6,359.1" fill="rgb(250,183,77)"/>
<polygon points="545.9,364.3 550.8,360.5 545.9,355.7 541.0,359.4" fill="rgb(250,180,50)"/>
<polygon points="575.0,370.2 579.9,367.1 575.0,361.2 570.2,364.3" fill="rgb(250,233,29)"/>
<polygon points="594.2,377.2 599.1,374.5 594.4,367.9 589.5,370.5" fill="rgb(188,250,15)"/>
<polygon points="603.8,381.6 608.6,379.1 603.9,372.1 599.1,374.5" fill="rgb(134,250,7)"/>
<polygon points="512.0,368.7 516.8,363.7 511.9,359.8 507.1,364.7" fill="rgb(250,218,91)"/>
<polygon points="531.4,367.9 536.2,363.5 531.3,359.0 526.5,363.3" fill="rgb(250,204,69)"/>
<polygon points="541.1,368.5 545.9,364.3 541.0,359.4 536.2,363.5" fill="rgb(250,205,55)"/>
<polygon points="550.8,369.6 555.6,365.7 550.8,360.5 545.9,364.3" fill="rgb(250,212,44)"/>
<polygon points="560.5,371.3 565.3,367.6 560.5,362.1 555.6,365.7" fill="rgb(250,228,38)"/>
<polygon points="570.2,373.7 575.0,370.2 570.2,364.3 565.3,367.6" fill="rgb(248,250,32)"/>
<polygon points="579.8,376.6 584.6,373.4 579.9,367.1 575.0,370.2" fill="rgb(217,250,25)"/>
<polygon points="589.4,380.2 594.2,377.2 589.5,370.5 584.6,373.4" fill="rgb(176,250,18)"/>
<polygon points="608.5,389.3 613.3,386.7 608.6,379.1 603.8,381.6" fill="rgb(63,250,3)"/>
<polygon points="521.7,368.0 526.5,363.3 521.6,359.1 516.8,363.7" fill="rgb(250,209,81)"/>
<polygon points="599.0,384.4 603.8,381.6 599.1,374.5 594.2,377.2" fill="rgb(125,250,10)"/>
<polygon points="546.0,373.9 550.8,369.6 545.9,364.3 541.1,368.5" fill="rgb(250,238,46)"/>
<polygon points="575.0,380.2 579.8,376.6 575.0,370.2 570.2,373.7" fill="rgb(198,250,27)"/>
<polygon points="516.9,373.0 521.7,368.0 516.8,363.7 512.0,368.7" fill="rgb(250,237,83)"/>
<polygon points="526.6,372.7 531.4,367.9 526.5,363.3 521.7,368.0" fill="rgb(250,232,72)"/>
<polygon points="536.3,373.0 541.1,368.5 536.2,363.5 531.4,367.9" fill="rgb(250,232,59)"/>
<polygon points="555.6,375.3 560.5,371.3 555.6,365.7 550.8,369.6" fill="rgb(248,250,40)"/>
<polygon points="565.3,377.4 570.2,373.7 565.3,367.6 560.5,371.3" fill="rgb(227,250,34)"/>
<polygon points="584.6,383.5 589.4,380.2 584.6,373.4 579.8,376.6" fill="rgb(160,250,20)"/>
<polygon points="594.1,387.5 599.0,384.4 594.2,377.2 589.4,380.2" fill="rgb(112,250,13)"/>
<polygon points="603.6,392.1 608.5,389.3 603.8,381.6 599.0,384.4" fill="rgb(54,250,6)"/>
<polygon points="521.8,377.8 526.6,372.7 521.7,368.0 516.9,373.0" fill="rgb(239,250,74)"/>
<polygon points="541.2,378.4 546.0,373.9 541.1,368.5 536.3,373.0" fill="rgb(234,250,49)"/>
<polygon points="550.8,379.7 555.6,375.3 550.8,369.6 546.0,373.9" fill="rgb(223,250,42)"/>
<polygon points="570.1,384.0 575.0,380.2 570.2,373.7 565.3,377.4" fill="rgb(177,250,29)"/>
<polygon points="579.7,387.1 584.6,383.5 579.8,376.6 575.0,380.2" fill="rgb(142,250,23)"/>
<polygon points="598.8,395.3 603.6,392.1 599.0,384.4 594.1,387.5" fill="rgb(41,250,9)"/>
<polygon points="531.5,377.8 536.3,373.0 531.4,367.9 526.6,372.7" fill="rgb(240,250,62)"/>
<polygon points="560.5,381.5 565.3,377.4 560.5,371.3 555.6,375.3" fill="rgb(204,250,36)"/>
<polygon points="589.3,390.9 594.1,387.5 589.4,380.2 584.6,383.5" fill="rgb(97,250,16)"/>
<polygon points="526.7,383.0 531.5,377.8 526.6,372.7 521.8,377.8" fill="rgb(209,250,65)"/>
<polygon points="536.4,383.4 541.2,378.4 536.3,373.0 531.5,377.8" fill="rgb(205,250,52)"/>
<polygon points="546.0,384.4 550.8,379.7 546.0,373.9 541.2,378.4" fill="rgb(194,250,44)"/>
<polygon points="555.7,386.0 560.5,381.5 555.6,375.3 550.8,379.7" fill="rgb(178,250,38)"/>
<polygon points="565.3,388.2 570.1,384.0 565.3,377.4 560.5,381.5" fill="rgb(153,250,32)"/>
<polygon points="574.9,391.0 579.7,387.1 575.0,380.2 570.1,384.0" fill="rgb(121,250,25)"/>
<polygon points="584.5,394.5 589.3,390.9 584.6,383.5 579.7,387.1" fill="rgb(78,250,18)"/>
<polygon points="594.0,398.7 598.8,395.3 594.1,387.5 589.3,390.9" fill="rgb(26,250,11)"/>
<polygon points="531.6,388.7 536.4,383.4 531.5,377.8 526.7,383.0" fill="rgb(173,250,55)"/>
<polygon points="560.5,392.7 565.3,388.2 560.5,381.5 555.7,386.0" fill="rgb(127,250,34)"/>
<polygon points="589.2,402.5 594.0,398.7 589.3,390.9 584.5,394.5" fill="rgb(14,250,20)"/>
<polygon points="541.2,389.4 546.0,384.4 541.2,378.4 536.4,383.4" fill="rgb(164,250,45)"/>
<polygon points="550.9,390.7 555.7,386.0 550.8,379.7 546.0,384.4" fill="rgb(149,250,39)"/>
<polygon points="570.1,395.3 574.9,391.0 570.1,384.0 565.3,388.2" fill="rgb(97,250,27)"/>
<polygon points="579.6,398.6 584.5,394.5 579.7,387.1 574.9,391.0" fill="rgb(57,250,21)"/>
<polygon points="536.5,394.7 541.2,389.4 536.4,383.4 531.6,388.7" fill="rgb(130,250,46)"/>
<polygon points="555.7,397.5 560.5,392.7 555.7,386.0 550.9,390.7" fill="rgb(98,250,35)"/>
<polygon points="565.3,399.9 570.1,395.3 565.3,388.2 560.5,392.7" fill="rgb(70,250,29)"/>
<polygon points="584.4,406.5 589.2,402.5 584.5,394.5 579.6,398.6" fill="rgb(16,250,46)"/>
<polygon points="546.1,395.8 550.9,390.7 546.0,384.4 541.2,389.4" fill="rgb(118,250,41)"/>
<polygon points="574.8,402.9 579.6,398.6 574.9,391.0 570.1,395.3" fill="rgb(33,250,23)"/>
<polygon points="541.3,401.2 546.1,395.8 541.2,389.4 536.5,394.7" fill="rgb(84,250,42)"/>
<polygon points="550.9,402.7 555.7,397.5 550.9,390.7 546.1,395.8" fill="rgb(66,250,37)"/>
<polygon points="560.5,404.8 565.3,399.9 560.5,392.7 555.7,397.5" fill="rgb(41,250,31)"/>
<polygon points="570.0,407.5 574.8,402.9 570.1,395.3 565.3,399.9" fill="rgb(25,250,43)"/>
<polygon points="579.6,410.9 584.4,406.5 579.6,398.6 574.8,402.9" fill="rgb(19,250,74)"/>
<polygon points="546.1,408.2 550.9,402.7 546.1,395.8 541.3,401.2" fill="rgb(38,250,45)"/>
<polygon points="574.8,415.7 579.6,410.9 574.8,402.9 570.0,407.5" fill="rgb(21,250,105)"/>
<polygon points="555.7,410.0 560.5,404.8 555.7,397.5 550.9,402.7" fill="rgb(33,250,57)"/>
<polygon points="565.2,412.5 570.0,407.5 565.3,399.9 560.5,404.8" fill="rgb(27,250,77)"/>
<polygon points="550.9,415.6 555.7,410.0 550.9,402.7 546.1,408.2" fill="rgb(34,250,95)"/>
<polygon points="570.0,420.7 574.8,415.7 570.0,407.5 565.2,412.5" fill="rgb(23,250,138)"/>
<polygon points="560.5,417.8 565.2,412.5 560.5,404.8 555.7,410.0" fill="rgb(29,250,112)"/>
<polygon points="555.7,423.5 560.5,417.8 555.7,410.0 550.9,415.6" fill="rgb(30,250,150)"/>
<polygon points="565.2,426.1 570.0,420.7 565.2,412.5 560.5,417.8" fill="rgb(25,250,174)"/>
<polygon points="560.5,431.8 565.2,426.1 560.5,417.8 555.7,423.5" fill="rgb(26,250,212)"/>
</g>
<line x1="547.5" y1="298.3" x2="547.5" y2="322.6" stroke="#222" stroke-width="0.6"/>
<rect x="530.4" y="298.5" width="17" height="6.1" fill="#fff" stroke="#222" stroke-width="0.5"/>
<text x="538.9" y="303.0" font-size="3.9" text-anchor="middle" fill="#111" font-family="Liberation Sans, sans-serif">97.5089</text>
<text transform="translate(435.6,387.4) rotate(-90)" font-size="7.0" text-anchor="middle" fill="#2e2e2e" stroke="#2e2e2e" stroke-width="0.1" textLength="33.7" lengthAdjust="spacingAndGlyphs" font-family="Liberation Sans, sans-serif">R% for ME</text>
<text x="478.8" y="490.8" font-size="7.2" text-anchor="middle" fill="#2e2e2e" stroke="#2e2e2e" stroke-width="0.1" textLength="60.0" lengthAdjust="spacingAndGlyphs" font-family="Liberation Sans, sans-serif">C: Catalyst amount</text>
<text x="642.8" y="490.8" font-size="7.2" text-anchor="middle" fill="#2e2e2e" stroke="#2e2e2e" stroke-width="0.1" textLength="72.7" lengthAdjust="spacingAndGlyphs" font-family="Liberation Sans, sans-serif">A: Drug concentration</text>
</g>
<g id="panel-f">
<text x="346.3" y="519.3" font-size="5.80" fill="#1a1a1a" stroke="#1a1a1a" stroke-width="0.1" font-family="Liberation Sans, sans-serif" >Factor Coding: Actual</text>
<text x="346.3" y="538.3" font-size="5.80" fill="#000" stroke="#000" stroke-width="0.1" font-family="Liberation Sans, sans-serif" font-weight="bold" textLength="29.5" lengthAdjust="spacingAndGlyphs">R% for ME</text>
<rect x="361.9" y="541.7" width="21.6" height="8.6" fill="url(#lg)" stroke="#10104a" stroke-width="0.5"/>
<text x="346.3" y="548.1" font-size="5.60" fill="#2b2b9c" stroke="#2b2b9c" stroke-width="0.1" font-family="Liberation Sans, sans-serif" >62.62</text>
<text x="386.0" y="548.1" font-size="5.60" fill="#c0262c" stroke="#c0262c" stroke-width="0.1" font-family="Liberation Sans, sans-serif" >95.42</text>
<text x="346.3" y="566.3" font-size="5.80" fill="#1a1a1a" stroke="#1a1a1a" stroke-width="0.1" font-family="Liberation Sans, sans-serif" >X1 = C</text>
<text x="346.3" y="576.0" font-size="5.80" fill="#1a1a1a" stroke="#1a1a1a" stroke-width="0.1" font-family="Liberation Sans, sans-serif" >X2 = D</text>
<text x="346.3" y="594.2" font-size="5.70" fill="#000" stroke="#000" stroke-width="0.1" font-family="Liberation Sans, sans-serif" font-weight="bold">Actual Factors</text>
<text x="346.3" y="604.0" font-size="5.80" fill="#1a1a1a" stroke="#1a1a1a" stroke-width="0.1" font-family="Liberation Sans, sans-serif" >A = 0.177871</text>
<text x="346.3" y="613.7" font-size="5.80" fill="#1a1a1a" stroke="#1a1a1a" stroke-width="0.1" font-family="Liberation Sans, sans-serif" >B = -0.313403</text>
<text x="419.0" y="528.9" font-size="8.0" font-weight="bold" fill="#111" text-anchor="middle" font-family="Liberation Sans, sans-serif">(f)</text>
<text x="575.2" y="525.4" font-size="6.3" text-anchor="middle" fill="#2e2e2e" stroke="#2e2e2e" stroke-width="0.12" font-family="Liberation Sans, sans-serif">3D Surface</text>
<polyline points="465.6,677.9 559.0,646.1 652.8,677.9" stroke="#2a2a2a" stroke-width="0.7" fill="none"/>
<polyline points="464.4,653.8 559.0,624.4 654.0,653.7" stroke="#2a2a2a" stroke-width="0.7" fill="none"/>
<polyline points="463.2,629.7 559.0,602.8 655.1,629.6" stroke="#2a2a2a" stroke-width="0.7" fill="none"/>
<polyline points="462.0,605.6 559.0,581.1 656.3,605.5" stroke="#2a2a2a" stroke-width="0.7" fill="none"/>
<polyline points="460.8,581.5 559.0,559.4 657.5,581.4" stroke="#2a2a2a" stroke-width="0.7" fill="none"/>
<line x1="467.1" y1="708.0" x2="460.8" y2="581.5" stroke="#2a2a2a" stroke-width="0.7" fill="none"/>
<line x1="488.9" y1="669.9" x2="485.3" y2="576.0" stroke="#2a2a2a" stroke-width="0.7" fill="none"/>
<line x1="512.3" y1="662.0" x2="509.9" y2="570.5" stroke="#2a2a2a" stroke-width="0.7" fill="none"/>
<line x1="535.7" y1="654.0" x2="534.5" y2="564.9" stroke="#2a2a2a" stroke-width="0.7" fill="none"/>
<line x1="651.3" y1="708.0" x2="657.5" y2="581.4" stroke="#2a2a2a" stroke-width="0.7" fill="none"/>
<line x1="629.3" y1="669.9" x2="632.9" y2="575.9" stroke="#2a2a2a" stroke-width="0.7" fill="none"/>
<line x1="605.9" y1="662.0" x2="608.3" y2="570.4" stroke="#2a2a2a" stroke-width="0.7" fill="none"/>
<line x1="582.5" y1="654.0" x2="583.7" y2="564.9" stroke="#2a2a2a" stroke-width="0.7" fill="none"/>
<line x1="559.0" y1="673.2" x2="559.0" y2="646.1" stroke="#a8a8a8" stroke-width="0.8"/>
<line x1="559.0" y1="646.1" x2="559.0" y2="559.4" stroke="#2a2a2a" stroke-width="0.7" fill="none"/>
<polygon points="467.1,708.0 559.0,673.2 651.3,708.0 559.0,751.9" fill="#5e5e5e" stroke="#151515" stroke-width="0.7"/>
<polyline points="546.0,745.7 546.7,745.7 548.5,745.8 548.9,745.8 550.8,745.8 551.2,745.8 553.1,745.8 553.5,745.8 555.3,745.8 556.0,745.7 557.4,745.7 558.5,745.6 559.5,745.6 561.2,745.4 561.5,745.4 563.4,745.3 564.0,745.2 565.4,745.1 567.0,744.9 567.2,744.8 569.0,744.6 570.2,744.5 570.8,744.4 572.6,744.1 573.6,743.9 574.3,743.8 575.9,743.5 577.3,743.2" fill="none" stroke="rgb(38,206,54)" stroke-width="1.5" stroke-linecap="round"/>
<polyline points="469.1,709.0 468.7,708.4 468.1,707.6" fill="none" stroke="rgb(38,206,54)" stroke-width="1.5" stroke-linecap="round"/>
<polyline points="634.2,716.1 634.8,715.6 635.6,714.9 636.4,714.2 636.4,714.1 637.1,713.4 637.8,712.7 638.4,712.2 638.5,712.0 639.2,711.3 639.9,710.6 640.1,710.4 640.6,709.8 641.2,709.1 641.6,708.7 641.8,708.3 642.5,707.6 642.9,707.1 643.1,706.8 643.7,706.1 644.1,705.5 644.2,705.3" fill="none" stroke="rgb(38,206,54)" stroke-width="1.5" stroke-linecap="round"/>
<polyline points="525.2,735.7 525.9,735.9 527.4,736.3 529.0,736.6 529.4,736.7 530.7,737.0 532.4,737.3 533.1,737.4 534.1,737.6 535.8,737.8 536.5,737.9 537.7,738.1 539.5,738.3 539.5,738.3 541.4,738.5 542.3,738.6 543.4,738.7 545.0,738.8 545.5,738.8 547.6,738.9 547.6,738.9 549.8,739.0 550.0,739.0 552.0,739.0 552.3,739.0 554.4,739.0 554.5,739.0 556.7,738.9 556.9,738.9 558.8,738.8 559.5,738.8 560.8,738.7 562.2,738.5 562.8,738.5 564.7,738.3 565.1,738.3 566.5,738.1 568.2,737.9 568.3,737.9 570.1,737.6 571.6,737.4 571.8,737.3 573.5,737.0 575.2,736.7 575.3,736.7 576.8,736.4 578.4,736.1 579.5,735.8 579.9,735.7 581.5,735.3 583.0,734.9 584.4,734.6 584.4,734.5 585.9,734.1 587.3,733.7 588.7,733.3 590.1,732.8 590.8,732.6 591.4,732.4 592.8,731.9 594.1,731.4 595.4,730.9 596.6,730.4 597.9,729.9 599.1,729.4 600.3,728.9 601.5,728.4 602.7,727.9 603.8,727.3 605.0,726.8 606.1,726.2 607.2,725.6 608.3,725.1 609.4,724.5 610.4,723.9 611.4,723.3 612.5,722.7 613.5,722.1 614.5,721.5 614.8,721.3 615.4,720.9 616.4,720.2 617.3,719.6 618.3,719.0 619.2,718.3 619.7,718.0 620.1,717.7 620.9,717.0 621.8,716.4 622.6,715.7 623.1,715.4 623.5,715.1 624.3,714.4 625.1,713.7 625.8,713.1 625.9,713.0 626.7,712.3 627.4,711.6 628.0,711.1 628.1,710.9 628.9,710.2 629.6,709.5 629.8,709.2 630.3,708.8 630.9,708.1 631.4,707.5 631.6,707.3 632.2,706.6 632.8,705.9 632.9,705.9 633.5,705.1 634.0,704.4 634.1,704.3 634.6,703.6 635.2,702.9 635.2,702.9 635.7,702.1" fill="none" stroke="rgb(100,206,38)" stroke-width="1.5" stroke-linecap="round"/>
<polyline points="489.9,718.9 489.2,718.3 488.4,717.6 487.5,717.0 487.0,716.5 486.7,716.3 486.0,715.6 485.2,714.9 484.7,714.4 484.4,714.2 483.7,713.5 483.0,712.8 482.7,712.5 482.3,712.0 481.6,711.3 481.0,710.7 480.9,710.6 480.2,709.9 479.6,709.1 479.5,709.0 479.0,708.4 478.4,707.6 478.1,707.4 477.8,706.9 477.2,706.1 477.0,705.8 476.6,705.4 476.1,704.6" fill="none" stroke="rgb(100,206,38)" stroke-width="1.5" stroke-linecap="round"/>
<polyline points="485.2,701.1 485.7,701.9 486.0,702.2 486.3,702.7 486.8,703.4 487.1,703.7 487.4,704.2 488.0,704.9 488.3,705.3 488.6,705.6 489.3,706.4 489.8,706.9 489.9,707.1 490.6,707.8 491.3,708.5 491.4,708.6 492.0,709.2 492.7,709.9 493.4,710.6 493.5,710.6 494.2,711.3 495.0,712.0 495.8,712.7 495.9,712.7 496.7,713.3 497.5,714.0 498.3,714.6 499.1,715.2 499.2,715.3 500.1,715.9 501.0,716.6 502.0,717.2 502.9,717.8 503.9,718.4 504.0,718.5 504.9,719.0 505.9,719.6 506.9,720.2 508.0,720.8 509.1,721.3 510.2,721.9 511.3,722.5 512.5,723.0 513.6,723.5 514.8,724.0 516.0,724.5 517.3,725.0 518.6,725.5 519.9,726.0 520.5,726.2 521.2,726.5 522.6,726.9 524.0,727.3 525.4,727.8 526.8,728.2 526.9,728.2 528.4,728.5 529.9,728.9 531.4,729.2 531.5,729.3 533.1,729.6 534.8,729.9 535.2,730.0 536.5,730.2 538.3,730.5 538.6,730.5 540.1,730.7 541.6,730.9 542.0,730.9 543.9,731.1 544.5,731.1 545.9,731.2 547.1,731.3 548.0,731.3 549.6,731.4 550.2,731.4 552.0,731.4 552.4,731.4 554.2,731.4 554.8,731.4 556.4,731.4 557.3,731.3 558.5,731.3 559.9,731.2 560.5,731.2 562.5,731.0 562.7,731.0 564.3,730.8 565.7,730.6 566.2,730.6 568.0,730.3 569.0,730.2 569.7,730.1 571.4,729.8 572.6,729.6 573.0,729.5 574.6,729.2 576.2,728.8 576.8,728.7 577.8,728.5 579.3,728.1 580.8,727.7 581.9,727.4 582.2,727.3 583.6,726.9 585.0,726.5 586.4,726.0 587.7,725.6 589.0,725.1 589.3,725.0 590.3,724.6 591.6,724.1 592.8,723.6 594.0,723.1 595.2,722.6 596.4,722.1 597.6,721.6 598.7,721.0 599.8,720.5 600.9,719.9 602.0,719.4 603.0,718.8 604.1,718.2 604.2,718.1 605.1,717.6 606.1,717.0 607.0,716.4 608.0,715.8 608.9,715.2 609.9,714.6 610.1,714.4 610.8,713.9 611.6,713.3 612.5,712.7 613.4,712.0 613.6,711.8 614.2,711.3 615.0,710.7 615.8,710.0 616.3,709.6 616.6,709.3 617.3,708.6 618.1,708.0 618.4,707.6 618.8,707.3 619.5,706.6 620.2,705.9 620.2,705.8 620.8,705.1 621.5,704.4 621.6,704.2 622.1,703.7 622.7,702.9 622.9,702.7 623.3,702.2 623.8,701.5 624.0,701.2 624.4,700.7 624.9,699.9 625.0,699.8 625.4,699.2 625.8,698.5 625.9,698.4" fill="none" stroke="rgb(179,206,38)" stroke-width="1.5" stroke-linecap="round"/>
<polyline points="496.2,697.0 496.4,697.4 496.7,697.8 497.2,698.5 497.3,698.8 497.7,699.3 498.2,700.0 498.4,700.2 498.8,700.7 499.4,701.5 499.6,701.7 500.0,702.2 500.7,702.9 501.1,703.3 501.4,703.6 502.0,704.3 502.7,705.0 502.8,705.1 503.5,705.7 504.2,706.4 505.0,707.0 505.0,707.0 505.8,707.7 506.6,708.3 507.5,709.0 508.0,709.4 508.4,709.6 509.3,710.3 510.2,710.9 511.1,711.5 512.1,712.1 513.1,712.7 513.1,712.7 514.1,713.2 515.1,713.8 516.2,714.4 517.3,714.9 518.4,715.5 519.6,716.0 520.8,716.5 522.0,717.0 523.2,717.5 524.5,718.0 525.3,718.2 525.8,718.4 527.1,718.9 528.5,719.3 529.9,719.7 531.4,720.1 531.8,720.2 532.9,720.5 534.4,720.8 536.0,721.1 536.2,721.2 537.7,721.5 539.4,721.7 539.8,721.8 541.1,722.0 543.0,722.2 543.0,722.2 544.9,722.4 545.9,722.5 546.8,722.6 548.6,722.7 548.9,722.7 551.0,722.8 551.1,722.8 553.3,722.8 553.4,722.8 555.6,722.8 555.7,722.8 557.7,722.7 558.3,722.6 559.7,722.5 561.1,722.4 561.6,722.4 563.5,722.2 564.1,722.1 565.3,722.0 567.1,721.7 567.4,721.7 568.7,721.4 570.4,721.1 571.2,721.0 572.0,720.8 573.5,720.5 575.1,720.1 575.9,719.9 576.5,719.7 578.0,719.3 579.4,718.9 580.7,718.5 582.1,718.1 582.8,717.8 583.4,717.6 584.6,717.1 585.9,716.7 587.1,716.2 588.3,715.7 589.4,715.1 590.6,714.6 591.7,714.1 592.8,713.5 593.8,713.0 594.9,712.4 595.3,712.2 595.9,711.9 596.9,711.3 597.8,710.7 598.8,710.1 599.7,709.5 600.6,708.8 600.7,708.8 601.5,708.2 602.3,707.6 603.2,706.9 603.8,706.4 604.0,706.3 604.7,705.6 605.5,704.9 606.0,704.4 606.2,704.3 606.9,703.6 607.6,702.9 607.8,702.7 608.3,702.2 608.9,701.5 609.3,701.1 609.5,700.7 610.1,700.0 610.4,699.6 610.7,699.3 611.2,698.5 611.4,698.2 611.7,697.8 612.2,697.0 612.3,696.9 612.7,696.2 613.0,695.6 613.1,695.5 613.5,694.7 613.6,694.4 613.8,693.9" fill="none" stroke="rgb(206,154,38)" stroke-width="1.5" stroke-linecap="round"/>
<polyline points="511.0,691.4 511.1,691.6 511.3,692.2 511.6,692.8 511.7,693.0 512.2,693.7 512.3,694.0 512.6,694.5 513.1,695.3 513.1,695.3 513.6,696.0 514.2,696.7 514.2,696.7 514.8,697.4 515.4,698.1 515.5,698.2 516.1,698.8 516.8,699.5 517.3,700.0 517.5,700.2 518.3,700.8 519.1,701.5 519.8,702.0 519.9,702.1 520.8,702.7 521.7,703.3 522.6,703.9 523.6,704.5 524.6,705.1 524.6,705.1 525.6,705.6 526.7,706.2 527.8,706.7 528.9,707.2 530.1,707.7 531.4,708.2 532.6,708.6 532.6,708.6 534.0,709.0 535.3,709.5 536.8,709.9 538.2,710.2 538.9,710.4 539.8,710.6 541.4,710.9 542.9,711.1 543.1,711.2 544.8,711.4 546.1,711.6 546.7,711.6 548.6,711.8 548.9,711.8 550.7,711.9 551.5,711.9 552.9,711.9 553.8,711.9 555.3,711.9 556.0,711.9 557.8,711.8 558.0,711.8 560.0,711.6 560.7,711.6 561.8,711.4 563.6,711.2 564.0,711.1 565.2,710.9 566.9,710.6 568.1,710.3 568.4,710.3 569.9,709.9 571.3,709.5 572.7,709.1 574.1,708.7 574.4,708.6 575.3,708.3 576.6,707.8 577.8,707.4 579.0,706.9 580.1,706.4 581.2,705.8 582.3,705.3 583.2,704.8 583.3,704.7 584.3,704.2 585.2,703.6 586.2,703.0 587.0,702.4 587.9,701.8 587.9,701.8 588.7,701.2 589.5,700.5 590.3,699.9 590.3,699.8 591.0,699.2 591.7,698.5 592.1,698.1 592.3,697.8 592.9,697.1 593.3,696.6 593.5,696.4 594.0,695.7 594.3,695.2 594.5,694.9 595.0,694.2 595.1,694.0 595.4,693.4 595.7,692.8 595.8,692.6 596.1,691.8 596.2,691.7 596.4,691.0 596.5,690.6 596.6,690.1 596.7,689.6 596.8,689.3 596.9,688.6 596.9,688.4 596.9,687.6 596.9,687.5" fill="none" stroke="rgb(206,75,38)" stroke-width="1.5" stroke-linecap="round"/>
<circle cx="465.6" cy="677.9" r="0.95" fill="#111"/>
<text x="462.4" y="675.6" font-size="6.2" text-anchor="end" fill="#2e2e2e" stroke="#2e2e2e" stroke-width="0.12" font-family="Liberation Sans, sans-serif">60</text>
<circle cx="464.4" cy="653.8" r="0.95" fill="#111"/>
<text x="461.2" y="651.5" font-size="6.2" text-anchor="end" fill="#2e2e2e" stroke="#2e2e2e" stroke-width="0.12" font-family="Liberation Sans, sans-serif">70</text>
<circle cx="463.2" cy="629.7" r="0.95" fill="#111"/>
<text x="460.0" y="627.4" font-size="6.2" text-anchor="end" fill="#2e2e2e" stroke="#2e2e2e" stroke-width="0.12" font-family="Liberation Sans, sans-serif">80</text>
<circle cx="462.0" cy="605.6" r="0.95" fill="#111"/>
<text x="458.8" y="603.3" font-size="6.2" text-anchor="end" fill="#2e2e2e" stroke="#2e2e2e" stroke-width="0.12" font-family="Liberation Sans, sans-serif">90</text>
<circle cx="460.8" cy="581.5" r="0.95" fill="#111"/>
<text x="457.6" y="579.2" font-size="6.2" text-anchor="end" fill="#2e2e2e" stroke="#2e2e2e" stroke-width="0.12" font-family="Liberation Sans, sans-serif">100</text>
<circle cx="559.0" cy="751.9" r="0.95" fill="#111"/>
<text x="555.4" y="758.4" font-size="6.2" text-anchor="end" fill="#2e2e2e" stroke="#2e2e2e" stroke-width="0.12" font-family="Liberation Sans, sans-serif">-1</text>
<circle cx="559.0" cy="751.9" r="0.95" fill="#111"/>
<text x="562.9" y="758.4" font-size="6.2" text-anchor="start" fill="#2e2e2e" stroke="#2e2e2e" stroke-width="0.12" font-family="Liberation Sans, sans-serif">-1</text>
<circle cx="536.1" cy="740.9" r="0.95" fill="#111"/>
<text x="532.5" y="747.4" font-size="6.2" text-anchor="end" fill="#2e2e2e" stroke="#2e2e2e" stroke-width="0.12" font-family="Liberation Sans, sans-serif">-0.5</text>
<circle cx="582.1" cy="740.9" r="0.95" fill="#111"/>
<text x="586.0" y="747.4" font-size="6.2" text-anchor="start" fill="#2e2e2e" stroke="#2e2e2e" stroke-width="0.12" font-family="Liberation Sans, sans-serif">-0.5</text>
<circle cx="513.1" cy="730.0" r="0.95" fill="#111"/>
<text x="509.5" y="736.5" font-size="6.2" text-anchor="end" fill="#2e2e2e" stroke="#2e2e2e" stroke-width="0.12" font-family="Liberation Sans, sans-serif">0</text>
<circle cx="605.2" cy="730.0" r="0.95" fill="#111"/>
<text x="609.1" y="736.5" font-size="6.2" text-anchor="start" fill="#2e2e2e" stroke="#2e2e2e" stroke-width="0.12" font-family="Liberation Sans, sans-serif">0</text>
<circle cx="490.1" cy="719.0" r="0.95" fill="#111"/>
<text x="486.5" y="725.5" font-size="6.2" text-anchor="end" fill="#2e2e2e" stroke="#2e2e2e" stroke-width="0.12" font-family="Liberation Sans, sans-serif">0.5</text>
<circle cx="628.2" cy="719.0" r="0.95" fill="#111"/>
<text x="632.1" y="725.5" font-size="6.2" text-anchor="start" fill="#2e2e2e" stroke="#2e2e2e" stroke-width="0.12" font-family="Liberation Sans, sans-serif">0.5</text>
<circle cx="467.1" cy="708.0" r="0.95" fill="#111"/>
<text x="463.5" y="714.5" font-size="6.2" text-anchor="end" fill="#2e2e2e" stroke="#2e2e2e" stroke-width="0.12" font-family="Liberation Sans, sans-serif">1</text>
<circle cx="651.3" cy="708.0" r="0.95" fill="#111"/>
<text x="655.2" y="714.5" font-size="6.2" text-anchor="start" fill="#2e2e2e" stroke="#2e2e2e" stroke-width="0.12" font-family="Liberation Sans, sans-serif">1</text>
<g stroke="#181818" stroke-width="0.4" stroke-linejoin="round">
<polygon points="559.1,569.5 563.9,569.4 559.0,568.7 554.2,568.8" fill="rgb(250,16,16)"/>
<polygon points="554.2,569.8 559.1,569.5 554.2,568.8 549.3,569.3" fill="rgb(250,24,24)"/>
<polygon points="564.0,570.4 568.8,570.4 563.9,569.4 559.1,569.5" fill="rgb(250,15,15)"/>
<polygon points="549.3,570.5 554.2,569.8 549.3,569.3 544.4,570.0" fill="rgb(250,31,31)"/>
<polygon points="559.1,570.7 564.0,570.4 559.1,569.5 554.2,569.8" fill="rgb(250,22,22)"/>
<polygon points="568.9,571.5 573.7,571.6 568.8,570.4 564.0,570.4" fill="rgb(250,13,13)"/>
<polygon points="544.4,571.4 549.3,570.5 544.4,570.0 539.5,571.0" fill="rgb(250,37,37)"/>
<polygon points="554.2,571.3 559.1,570.7 554.2,569.8 549.3,570.5" fill="rgb(250,29,29)"/>
<polygon points="564.0,571.8 568.9,571.5 564.0,570.4 559.1,570.7" fill="rgb(250,21,21)"/>
<polygon points="573.8,573.0 578.6,573.1 573.7,571.6 568.9,571.5" fill="rgb(250,11,11)"/>
<polygon points="549.3,572.2 554.2,571.3 549.3,570.5 544.4,571.4" fill="rgb(250,36,36)"/>
<polygon points="559.1,572.3 564.0,571.8 559.1,570.7 554.2,571.3" fill="rgb(250,28,28)"/>
<polygon points="568.9,573.2 573.8,573.0 568.9,571.5 564.0,571.8" fill="rgb(250,19,19)"/>
<polygon points="539.5,572.7 544.4,571.4 539.5,571.0 534.6,572.4" fill="rgb(250,43,43)"/>
<polygon points="578.7,574.8 583.5,575.0 578.6,573.1 573.8,573.0" fill="rgb(250,8,8)"/>
<polygon points="554.2,573.1 559.1,572.3 554.2,571.3 549.3,572.2" fill="rgb(250,35,35)"/>
<polygon points="564.0,573.7 568.9,573.2 564.0,571.8 559.1,572.3" fill="rgb(250,26,26)"/>
<polygon points="534.6,574.3 539.5,572.7 534.6,572.4 529.7,574.1" fill="rgb(250,51,51)"/>
<polygon points="544.4,573.4 549.3,572.2 544.4,571.4 539.5,572.7" fill="rgb(250,42,42)"/>
<polygon points="573.8,574.9 578.7,574.8 573.8,573.0 568.9,573.2" fill="rgb(250,16,16)"/>
<polygon points="583.5,576.9 588.4,577.1 583.5,575.0 578.7,574.8" fill="rgb(250,6,6)"/>
<polygon points="529.7,576.3 534.6,574.3 529.7,574.1 524.8,576.1" fill="rgb(250,63,63)"/>
<polygon points="539.5,574.9 544.4,573.4 539.5,572.7 534.6,574.3" fill="rgb(250,50,50)"/>
<polygon points="549.3,574.3 554.2,573.1 549.3,572.2 544.4,573.4" fill="rgb(250,41,41)"/>
<polygon points="559.1,574.4 564.0,573.7 559.1,572.3 554.2,573.1" fill="rgb(250,33,33)"/>
<polygon points="568.9,575.3 573.8,574.9 568.9,573.2 564.0,573.7" fill="rgb(250,24,24)"/>
<polygon points="578.7,576.9 583.5,576.9 578.7,574.8 573.8,574.9" fill="rgb(250,13,13)"/>
<polygon points="588.4,579.3 593.3,579.5 588.4,577.1 583.5,576.9" fill="rgb(250,11,3)"/>
<polygon points="524.8,578.5 529.7,576.3 524.8,576.1 519.9,578.4" fill="rgb(250,74,74)"/>
<polygon points="534.6,576.8 539.5,574.9 534.6,574.3 529.7,576.3" fill="rgb(250,63,63)"/>
<polygon points="544.4,575.8 549.3,574.3 544.4,573.4 539.5,574.9" fill="rgb(250,48,48)"/>
<polygon points="554.2,575.5 559.1,574.4 554.2,573.1 549.3,574.3" fill="rgb(250,40,40)"/>
<polygon points="564.0,576.0 568.9,575.3 564.0,573.7 559.1,574.4" fill="rgb(250,31,31)"/>
<polygon points="573.8,577.3 578.7,576.9 573.8,574.9 568.9,575.3" fill="rgb(250,21,21)"/>
<polygon points="583.5,579.3 588.4,579.3 583.5,576.9 578.7,576.9" fill="rgb(250,10,10)"/>
<polygon points="593.3,582.0 598.1,582.3 593.3,579.5 588.4,579.3" fill="rgb(249,28,0)"/>
<polygon points="520.0,581.1 524.8,578.5 519.9,578.4 515.1,581.1" fill="rgb(250,83,83)"/>
<polygon points="529.7,579.0 534.6,576.8 529.7,576.3 524.8,578.5" fill="rgb(250,74,74)"/>
<polygon points="539.5,577.5 544.4,575.8 539.5,574.9 534.6,576.8" fill="rgb(250,61,61)"/>
<polygon points="549.3,576.9 554.2,575.5 549.3,574.3 544.4,575.8" fill="rgb(250,46,46)"/>
<polygon points="559.1,577.0 564.0,576.0 559.1,574.4 554.2,575.5" fill="rgb(250,37,37)"/>
<polygon points="568.9,577.9 573.8,577.3 568.9,575.3 564.0,576.0" fill="rgb(250,28,28)"/>
<polygon points="578.7,579.6 583.5,579.3 578.7,576.9 573.8,577.3" fill="rgb(250,18,18)"/>
<polygon points="588.4,581.9 593.3,582.0 588.4,579.3 583.5,579.3" fill="rgb(250,15,7)"/>
<polygon points="598.1,585.0 603.0,585.4 598.1,582.3 593.3,582.0" fill="rgb(244,50,0)"/>
<polygon points="524.8,581.5 529.7,579.0 524.8,578.5 520.0,581.1" fill="rgb(250,84,84)"/>
<polygon points="534.6,579.7 539.5,577.5 534.6,576.8 529.7,579.0" fill="rgb(250,73,73)"/>
<polygon points="544.4,578.6 549.3,576.9 544.4,575.8 539.5,577.5" fill="rgb(250,58,58)"/>
<polygon points="573.8,580.1 578.7,579.6 573.8,577.3 568.9,577.9" fill="rgb(250,25,25)"/>
<polygon points="583.5,582.2 588.4,581.9 583.5,579.3 578.7,579.6" fill="rgb(250,14,14)"/>
<polygon points="593.3,584.9 598.1,585.0 593.3,582.0 588.4,581.9" fill="rgb(250,33,3)"/>
<polygon points="515.1,584.1 520.0,581.1 515.1,581.1 510.3,584.1" fill="rgb(250,103,90)"/>
<polygon points="554.2,578.4 559.1,577.0 554.2,575.5 549.3,576.9" fill="rgb(250,44,44)"/>
<polygon points="564.0,578.9 568.9,577.9 564.0,576.0 559.1,577.0" fill="rgb(250,35,35)"/>
<polygon points="603.0,588.4 607.8,588.8 603.0,585.4 598.1,585.0" fill="rgb(239,75,0)"/>
<polygon points="529.7,582.1 534.6,579.7 529.7,579.0 524.8,581.5" fill="rgb(250,84,84)"/>
<polygon points="539.5,580.7 544.4,578.6 539.5,577.5 534.6,579.7" fill="rgb(250,71,71)"/>
<polygon points="578.7,582.7 583.5,582.2 578.7,579.6 573.8,580.1" fill="rgb(250,21,21)"/>
<polygon points="588.4,585.1 593.3,584.9 588.4,581.9 583.5,582.2" fill="rgb(250,23,10)"/>
<polygon points="510.3,587.4 515.1,584.1 510.3,584.1 505.4,587.5" fill="rgb(250,124,95)"/>
<polygon points="520.0,584.3 524.8,581.5 520.0,581.1 515.1,584.1" fill="rgb(250,94,91)"/>
<polygon points="549.3,580.0 554.2,578.4 549.3,576.9 544.4,578.6" fill="rgb(250,54,54)"/>
<polygon points="559.1,580.1 564.0,578.9 559.1,577.0 554.2,578.4" fill="rgb(250,41,41)"/>
<polygon points="568.9,581.0 573.8,580.1 568.9,577.9 564.0,578.9" fill="rgb(250,32,32)"/>
<polygon points="598.1,588.2 603.0,588.4 598.1,585.0 593.3,584.9" fill="rgb(249,56,0)"/>
<polygon points="607.8,592.1 612.6,592.6 607.8,588.8 603.0,588.4" fill="rgb(234,102,0)"/>
<polygon points="534.6,583.0 539.5,580.7 534.6,579.7 529.7,582.1" fill="rgb(250,82,82)"/>
<polygon points="583.5,585.5 588.4,585.1 583.5,582.2 578.7,582.7" fill="rgb(250,18,18)"/>
<polygon points="524.8,584.9 529.7,582.1 524.8,581.5 520.0,584.3" fill="rgb(250,92,92)"/>
<polygon points="544.4,582.0 549.3,580.0 544.4,578.6 539.5,580.7" fill="rgb(250,67,67)"/>
<polygon points="554.2,581.7 559.1,580.1 554.2,578.4 549.3,580.0" fill="rgb(250,48,48)"/>
<polygon points="564.0,582.2 568.9,581.0 564.0,578.9 559.1,580.1" fill="rgb(250,38,38)"/>
<polygon points="573.8,583.5 578.7,582.7 573.8,580.1 568.9,581.0" fill="rgb(250,28,28)"/>
<polygon points="593.3,588.3 598.1,588.2 593.3,584.9 588.4,585.1" fill="rgb(250,44,6)"/>
<polygon points="505.5,591.1 510.3,587.4 505.4,587.5 500.7,591.3" fill="rgb(250,146,99)"/>
<polygon points="515.1,587.6 520.0,584.3 515.1,584.1 510.3,587.4" fill="rgb(250,116,97)"/>
<polygon points="603.0,591.9 607.8,592.1 603.0,588.4 598.1,588.2" fill="rgb(244,84,0)"/>
<polygon points="612.6,596.1 617.4,596.7 612.6,592.6 607.8,592.1" fill="rgb(229,133,0)"/>
<polygon points="500.7,595.1 505.5,591.1 500.7,591.3 495.9,595.4" fill="rgb(250,168,101)"/>
<polygon points="510.3,591.1 515.1,587.6 510.3,587.4 505.5,591.1" fill="rgb(250,137,102)"/>
<polygon points="520.0,588.0 524.8,584.9 520.0,584.3 515.1,587.6" fill="rgb(250,109,99)"/>
<polygon points="529.7,585.7 534.6,583.0 529.7,582.1 524.8,584.9" fill="rgb(250,91,91)"/>
<polygon points="539.5,584.3 544.4,582.0 539.5,580.7 534.6,583.0" fill="rgb(250,79,79)"/>
<polygon points="549.3,583.6 554.2,581.7 549.3,580.0 544.4,582.0" fill="rgb(250,62,62)"/>
<polygon points="559.1,583.7 564.0,582.2 559.1,580.1 554.2,581.7" fill="rgb(250,45,45)"/>
<polygon points="568.9,584.6 573.8,583.5 568.9,581.0 564.0,582.2" fill="rgb(250,35,35)"/>
<polygon points="578.7,586.3 583.5,585.5 578.7,582.7 573.8,583.5" fill="rgb(250,25,25)"/>
<polygon points="588.4,588.7 593.3,588.3 588.4,585.1 583.5,585.5" fill="rgb(250,37,14)"/>
<polygon points="598.1,591.9 603.0,591.9 598.1,588.2 593.3,588.3" fill="rgb(250,70,2)"/>
<polygon points="607.8,595.8 612.6,596.1 607.8,592.1 603.0,591.9" fill="rgb(238,115,0)"/>
<polygon points="617.4,600.5 622.1,601.1 617.4,596.7 612.6,596.1" fill="rgb(224,165,0)"/>
<polygon points="544.4,585.8 549.3,583.6 544.4,582.0 539.5,584.3" fill="rgb(250,75,75)"/>
<polygon points="554.2,585.6 559.1,583.7 554.2,581.7 549.3,583.6" fill="rgb(250,56,56)"/>
<polygon points="564.0,586.1 568.9,584.6 564.0,582.2 559.1,583.7" fill="rgb(250,41,41)"/>
<polygon points="573.8,587.4 578.7,586.3 573.8,583.5 568.9,584.6" fill="rgb(250,31,31)"/>
<polygon points="495.9,599.5 500.7,595.1 495.9,595.4 491.1,599.9" fill="rgb(250,192,102)"/>
<polygon points="505.5,595.1 510.3,591.1 505.5,591.1 500.7,595.1" fill="rgb(250,159,105)"/>
<polygon points="515.2,591.5 520.0,588.0 515.1,587.6 510.3,591.1" fill="rgb(250,130,104)"/>
<polygon points="524.9,588.8 529.7,585.7 524.8,584.9 520.0,588.0" fill="rgb(250,104,99)"/>
<polygon points="534.6,586.9 539.5,584.3 534.6,583.0 529.7,585.7" fill="rgb(250,89,89)"/>
<polygon points="583.5,589.4 588.4,588.7 583.5,585.5 578.7,586.3" fill="rgb(250,35,20)"/>
<polygon points="593.2,592.3 598.1,591.9 593.3,588.3 588.4,588.7" fill="rgb(250,61,9)"/>
<polygon points="602.9,595.9 607.8,595.8 603.0,591.9 598.1,591.9" fill="rgb(247,100,0)"/>
<polygon points="612.5,600.2 617.4,600.5 612.6,596.1 607.8,595.8" fill="rgb(233,149,0)"/>
<polygon points="622.1,605.2 626.9,605.9 622.1,601.1 617.4,600.5" fill="rgb(219,200,0)"/>
<polygon points="500.7,599.4 505.5,595.1 500.7,595.1 495.9,599.5" fill="rgb(250,181,105)"/>
<polygon points="510.4,595.4 515.2,591.5 510.3,591.1 505.5,595.1" fill="rgb(250,150,105)"/>
<polygon points="520.0,592.2 524.9,588.8 520.0,588.0 515.2,591.5" fill="rgb(250,125,105)"/>
<polygon points="549.3,587.7 554.2,585.6 549.3,583.6 544.4,585.8" fill="rgb(250,69,69)"/>
<polygon points="559.1,587.8 564.0,586.1 559.1,583.7 554.2,585.6" fill="rgb(250,48,48)"/>
<polygon points="568.9,588.7 573.8,587.4 568.9,584.6 564.0,586.1" fill="rgb(250,38,38)"/>
<polygon points="598.1,596.2 602.9,595.9 598.1,591.9 593.2,592.3" fill="rgb(250,89,5)"/>
<polygon points="607.7,600.1 612.5,600.2 607.8,595.8 602.9,595.9" fill="rgb(242,134,0)"/>
<polygon points="617.3,604.9 622.1,605.2 617.4,600.5 612.5,600.2" fill="rgb(227,184,0)"/>
<polygon points="491.2,604.3 495.9,599.5 491.1,599.9 486.4,604.8" fill="rgb(250,219,102)"/>
<polygon points="539.5,588.4 544.4,585.8 539.5,584.3 534.6,586.9" fill="rgb(250,86,86)"/>
<polygon points="578.6,590.4 583.5,589.4 578.7,586.3 573.8,587.4" fill="rgb(250,36,27)"/>
<polygon points="626.8,610.4 631.6,611.0 626.9,605.9 622.1,605.2" fill="rgb(192,214,0)"/>
<polygon points="529.8,589.9 534.6,586.9 529.7,585.7 524.9,588.8" fill="rgb(250,100,98)"/>
<polygon points="588.4,592.9 593.2,592.3 588.4,588.7 583.5,589.4" fill="rgb(250,56,16)"/>
<polygon points="554.2,589.9 559.1,587.8 554.2,585.6 549.3,587.7" fill="rgb(250,62,62)"/>
<polygon points="564.0,590.4 568.9,588.7 564.0,586.1 559.1,587.8" fill="rgb(250,44,44)"/>
<polygon points="505.6,599.6 510.4,595.4 505.5,595.1 500.7,599.4" fill="rgb(250,171,105)"/>
<polygon points="515.2,596.0 520.0,592.2 515.2,591.5 510.4,595.4" fill="rgb(250,143,105)"/>
<polygon points="602.9,600.4 607.7,600.1 602.9,595.9 598.1,596.2" fill="rgb(250,122,1)"/>
<polygon points="612.5,604.8 617.3,604.9 612.5,600.2 607.7,600.1" fill="rgb(236,171,0)"/>
<polygon points="496.0,604.1 500.7,599.4 495.9,599.5 491.2,604.3" fill="rgb(250,206,105)"/>
<polygon points="544.4,590.2 549.3,587.7 544.4,585.8 539.5,588.4" fill="rgb(250,81,81)"/>
<polygon points="573.8,591.7 578.6,590.4 573.8,587.4 568.9,588.7" fill="rgb(250,40,34)"/>
<polygon points="622.0,609.9 626.8,610.4 622.1,605.2 617.3,604.9" fill="rgb(222,221,0)"/>
<polygon points="524.9,593.2 529.8,589.9 524.9,588.8 520.0,592.2" fill="rgb(250,121,104)"/>
<polygon points="534.6,591.3 539.5,588.4 534.6,586.9 529.8,589.9" fill="rgb(250,96,95)"/>
<polygon points="583.5,593.9 588.4,592.9 583.5,589.4 578.6,590.4" fill="rgb(250,55,23)"/>
<polygon points="593.2,596.7 598.1,596.2 593.2,592.3 588.4,592.9" fill="rgb(250,82,12)"/>
<polygon points="486.5,609.5 491.2,604.3 486.4,604.8 481.8,610.1" fill="rgb(250,247,101)"/>
<polygon points="631.5,615.8 636.2,616.6 631.6,611.0 626.8,610.4" fill="rgb(144,209,0)"/>
<polygon points="559.1,592.4 564.0,590.4 559.1,587.8 554.2,589.9" fill="rgb(250,53,53)"/>
<polygon points="510.4,600.1 515.2,596.0 510.4,595.4 505.6,599.6" fill="rgb(250,163,105)"/>
<polygon points="607.7,605.0 612.5,604.8 607.7,600.1 602.9,600.4" fill="rgb(245,159,0)"/>
<polygon points="481.8,615.0 486.5,609.5 481.8,610.1 477.1,615.7" fill="rgb(220,250,99)"/>
<polygon points="500.8,604.2 505.6,599.6 500.7,599.4 496.0,604.1" fill="rgb(250,195,105)"/>
<polygon points="549.3,592.3 554.2,589.9 549.3,587.7 544.4,590.2" fill="rgb(250,74,74)"/>
<polygon points="568.9,593.4 573.8,591.7 568.9,588.7 564.0,590.4" fill="rgb(250,48,40)"/>
<polygon points="617.2,609.8 622.0,609.9 617.3,604.9 612.5,604.8" fill="rgb(230,209,0)"/>
<polygon points="636.1,621.7 640.9,622.5 636.2,616.6 631.5,615.8" fill="rgb(95,204,0)"/>
<polygon points="520.1,596.9 524.9,593.2 520.0,592.2 515.2,596.0" fill="rgb(250,138,105)"/>
<polygon points="529.8,594.5 534.6,591.3 529.8,589.9 524.9,593.2" fill="rgb(250,118,102)"/>
<polygon points="539.5,593.0 544.4,590.2 539.5,588.4 534.6,591.3" fill="rgb(250,94,91)"/>
<polygon points="578.6,595.1 583.5,593.9 578.6,590.4 573.8,591.7" fill="rgb(250,58,29)"/>
<polygon points="588.4,597.6 593.2,596.7 588.4,592.9 583.5,593.9" fill="rgb(250,79,18)"/>
<polygon points="598.0,600.9 602.9,600.4 598.1,596.2 593.2,596.7" fill="rgb(250,113,7)"/>
<polygon points="491.3,609.2 496.0,604.1 491.2,604.3 486.5,609.5" fill="rgb(250,233,105)"/>
<polygon points="626.7,615.4 631.5,615.8 626.8,610.4 622.0,609.9" fill="rgb(173,217,0)"/>
<polygon points="486.6,614.6 491.3,609.2 486.5,609.5 481.8,615.0" fill="rgb(237,250,105)"/>
<polygon points="505.6,604.6 510.4,600.1 505.6,599.6 500.8,604.2" fill="rgb(250,186,105)"/>
<polygon points="554.2,594.8 559.1,592.4 554.2,589.9 549.3,592.3" fill="rgb(250,73,66)"/>
<polygon points="564.0,595.3 568.9,593.4 564.0,590.4 559.1,592.4" fill="rgb(250,59,45)"/>
<polygon points="612.4,609.9 617.2,609.8 612.5,604.8 607.7,605.0" fill="rgb(239,198,0)"/>
<polygon points="631.4,621.2 636.1,621.7 631.5,615.8 626.7,615.4" fill="rgb(122,212,0)"/>
<polygon points="515.3,600.9 520.1,596.9 515.2,596.0 510.4,600.1" fill="rgb(250,158,105)"/>
<polygon points="525.0,598.1 529.8,594.5 524.9,593.2 520.1,596.9" fill="rgb(250,136,105)"/>
<polygon points="534.7,596.2 539.5,593.0 534.6,591.3 529.8,594.5" fill="rgb(250,116,99)"/>
<polygon points="544.4,595.0 549.3,592.3 544.4,590.2 539.5,593.0" fill="rgb(250,94,85)"/>
<polygon points="573.7,596.6 578.6,595.1 573.8,591.7 568.9,593.4" fill="rgb(250,64,36)"/>
<polygon points="583.5,598.8 588.4,597.6 583.5,593.9 578.6,595.1" fill="rgb(250,80,25)"/>
<polygon points="593.2,601.7 598.0,600.9 593.2,596.7 588.4,597.6" fill="rgb(250,108,14)"/>
<polygon points="602.8,605.4 607.7,605.0 602.9,600.4 598.0,600.9" fill="rgb(250,150,3)"/>
<polygon points="477.2,621.0 481.8,615.0 477.1,615.7 472.5,621.8" fill="rgb(184,250,97)"/>
<polygon points="496.1,609.2 500.8,604.2 496.0,604.1 491.3,609.2" fill="rgb(250,221,105)"/>
<polygon points="622.0,615.2 626.7,615.4 622.0,609.9 617.2,609.8" fill="rgb(201,225,0)"/>
<polygon points="640.8,627.9 645.4,628.7 640.9,622.5 636.1,621.7" fill="rgb(44,199,0)"/>
<polygon points="491.4,614.5 496.1,609.2 491.3,609.2 486.6,614.6" fill="rgb(250,250,105)"/>
<polygon points="626.6,620.9 631.4,621.2 626.7,615.4 622.0,615.2" fill="rgb(149,219,0)"/>
<polygon points="520.1,602.1 525.0,598.1 520.1,596.9 515.3,600.9" fill="rgb(250,155,105)"/>
<polygon points="529.8,599.7 534.7,596.2 529.8,594.5 525.0,598.1" fill="rgb(250,137,105)"/>
<polygon points="539.6,598.1 544.4,595.0 539.5,593.0 534.7,596.2" fill="rgb(250,116,94)"/>
<polygon points="549.3,597.4 554.2,594.8 549.3,592.3 544.4,595.0" fill="rgb(250,95,78)"/>
<polygon points="568.9,598.5 573.7,596.6 568.9,593.4 564.0,595.3" fill="rgb(250,73,41)"/>
<polygon points="578.6,600.3 583.5,598.8 578.6,595.1 573.7,596.6" fill="rgb(250,85,31)"/>
<polygon points="588.3,602.8 593.2,601.7 588.4,597.6 583.5,598.8" fill="rgb(250,107,20)"/>
<polygon points="598.0,606.2 602.8,605.4 598.0,600.9 593.2,601.7" fill="rgb(250,142,9)"/>
<polygon points="481.9,620.5 486.6,614.6 481.8,615.0 477.2,621.0" fill="rgb(203,250,103)"/>
<polygon points="500.9,609.5 505.6,604.6 500.8,604.2 496.1,609.2" fill="rgb(250,212,105)"/>
<polygon points="510.5,605.3 515.3,600.9 510.4,600.1 505.6,604.6" fill="rgb(250,180,105)"/>
<polygon points="559.1,597.6 564.0,595.3 559.1,592.4 554.2,594.8" fill="rgb(250,77,57)"/>
<polygon points="607.6,610.3 612.4,609.9 607.7,605.0 602.8,605.4" fill="rgb(247,190,0)"/>
<polygon points="617.2,615.2 622.0,615.2 617.2,609.8 612.4,609.9" fill="rgb(227,233,0)"/>
<polygon points="636.0,627.3 640.8,627.9 636.1,621.7 631.4,621.2" fill="rgb(70,206,0)"/>
<polygon points="472.6,627.4 477.2,621.0 472.5,621.8 467.9,628.3" fill="rgb(144,250,94)"/>
<polygon points="645.3,634.5 650.0,635.4 645.4,628.7 640.8,627.9" fill="rgb(0,194,7)"/>
<polygon points="496.2,614.7 500.9,609.5 496.1,609.2 491.4,614.5" fill="rgb(250,239,105)"/>
<polygon points="621.9,620.9 626.6,620.9 622.0,615.2 617.2,615.2" fill="rgb(173,227,0)"/>
<polygon points="525.0,603.5 529.8,599.7 525.0,598.1 520.1,602.1" fill="rgb(250,154,105)"/>
<polygon points="534.7,601.5 539.6,598.1 534.7,596.2 529.8,599.7" fill="rgb(250,137,102)"/>
<polygon points="544.5,600.4 549.3,597.4 544.4,595.0 539.6,598.1" fill="rgb(250,117,88)"/>
<polygon points="573.7,602.1 578.6,600.3 573.7,596.6 568.9,598.5" fill="rgb(250,92,37)"/>
<polygon points="583.4,604.3 588.3,602.8 583.5,598.8 578.6,600.3" fill="rgb(250,110,26)"/>
<polygon points="593.1,607.3 598.0,606.2 593.2,601.7 588.3,602.8" fill="rgb(250,139,15)"/>
<polygon points="468.1,634.2 472.6,627.4 467.9,628.3 463.4,635.2" fill="rgb(99,250,90)"/>
<polygon points="486.7,620.3 491.4,614.5 486.6,614.6 481.9,620.5" fill="rgb(218,250,105)"/>
<polygon points="515.3,606.4 520.1,602.1 515.3,600.9 510.5,605.3" fill="rgb(250,176,105)"/>
<polygon points="602.8,611.0 607.6,610.3 602.8,605.4 598.0,606.2" fill="rgb(250,182,4)"/>
<polygon points="631.3,627.0 636.0,627.3 631.4,621.2 626.6,620.9" fill="rgb(95,214,0)"/>
<polygon points="649.9,641.5 654.5,642.4 650.0,635.4 645.3,634.5" fill="rgb(0,190,60)"/>
<polygon points="554.2,600.1 559.1,597.6 554.2,594.8 549.3,597.4" fill="rgb(250,99,69)"/>
<polygon points="564.0,600.7 568.9,598.5 564.0,595.3 559.1,597.6" fill="rgb(250,85,47)"/>
<polygon points="477.3,626.7 481.9,620.5 477.2,621.0 472.6,627.4" fill="rgb(166,250,100)"/>
<polygon points="505.7,610.1 510.5,605.3 505.6,604.6 500.9,609.5" fill="rgb(250,204,105)"/>
<polygon points="612.4,615.6 617.2,615.2 612.4,609.9 607.6,610.3" fill="rgb(241,231,0)"/>
<polygon points="640.6,633.9 645.3,634.5 640.8,627.9 636.0,627.3" fill="rgb(17,201,0)"/>
<polygon points="529.9,605.3 534.7,601.5 529.8,599.7 525.0,603.5" fill="rgb(250,156,105)"/>
<polygon points="539.6,603.8 544.5,600.4 539.6,598.1 534.7,601.5" fill="rgb(250,138,97)"/>
<polygon points="578.6,606.0 583.4,604.3 578.6,600.3 573.7,602.1" fill="rgb(250,116,32)"/>
<polygon points="588.3,608.6 593.1,607.3 588.3,602.8 583.4,604.3" fill="rgb(250,140,21)"/>
<polygon points="472.8,633.4 477.3,626.7 472.6,627.4 468.1,634.2" fill="rgb(124,250,96)"/>
<polygon points="491.5,620.4 496.2,614.7 491.4,614.5 486.7,620.3" fill="rgb(230,250,105)"/>
<polygon points="501.0,615.3 505.7,610.1 500.9,609.5 496.2,614.7" fill="rgb(250,231,105)"/>
<polygon points="520.2,607.7 525.0,603.5 520.1,602.1 515.3,606.4" fill="rgb(250,175,105)"/>
<polygon points="597.9,612.0 602.8,611.0 598.0,606.2 593.1,607.3" fill="rgb(250,176,10)"/>
<polygon points="617.1,621.2 621.9,620.9 617.2,615.2 612.4,615.6" fill="rgb(195,235,0)"/>
<polygon points="626.5,627.0 631.3,627.0 626.6,620.9 621.9,620.9" fill="rgb(118,221,0)"/>
<polygon points="645.2,640.9 649.9,641.5 645.3,634.5 640.6,633.9" fill="rgb(0,197,37)"/>
<polygon points="549.3,603.1 554.2,600.1 549.3,597.4 544.5,600.4" fill="rgb(250,120,80)"/>
<polygon points="568.8,604.2 573.7,602.1 568.9,598.5 564.0,600.7" fill="rgb(250,103,42)"/>
<polygon points="482.1,626.4 486.7,620.3 481.9,620.5 477.3,626.7" fill="rgb(184,250,105)"/>
<polygon points="510.5,611.1 515.3,606.4 510.5,605.3 505.7,610.1" fill="rgb(250,200,105)"/>
<polygon points="559.1,603.2 564.0,600.7 559.1,597.6 554.2,600.1" fill="rgb(250,106,60)"/>
<polygon points="607.5,616.2 612.4,615.6 607.6,610.3 602.8,611.0" fill="rgb(249,227,0)"/>
<polygon points="635.9,633.6 640.6,633.9 636.0,627.3 631.3,627.0" fill="rgb(40,209,0)"/>
<polygon points="534.7,607.5 539.6,603.8 534.7,601.5 529.9,605.3" fill="rgb(250,160,104)"/>
<polygon points="583.4,610.3 588.3,608.6 583.4,604.3 578.6,606.0" fill="rgb(250,143,27)"/>
<polygon points="477.5,633.0 482.1,626.4 477.3,626.7 472.8,633.4" fill="rgb(145,250,102)"/>
<polygon points="505.8,616.1 510.5,611.1 505.7,610.1 501.0,615.3" fill="rgb(250,226,105)"/>
<polygon points="525.1,609.4 529.9,605.3 525.0,603.5 520.2,607.7" fill="rgb(250,175,105)"/>
<polygon points="593.1,613.3 597.9,612.0 593.1,607.3 588.3,608.6" fill="rgb(250,175,16)"/>
<polygon points="612.3,621.8 617.1,621.2 612.4,615.6 607.5,616.2" fill="rgb(215,243,0)"/>
<polygon points="640.5,640.5 645.2,640.9 640.6,633.9 635.9,633.6" fill="rgb(0,203,15)"/>
<polygon points="544.5,606.3 549.3,603.1 544.5,600.4 539.6,603.8" fill="rgb(250,142,90)"/>
<polygon points="573.7,608.0 578.6,606.0 573.7,602.1 568.8,604.2" fill="rgb(250,124,38)"/>
<polygon points="486.8,626.4 491.5,620.4 486.7,620.3 482.1,626.4" fill="rgb(197,250,105)"/>
<polygon points="496.3,620.8 501.0,615.3 496.2,614.7 491.5,620.4" fill="rgb(239,250,105)"/>
<polygon points="515.4,612.3 520.2,607.7 515.3,606.4 510.5,611.1" fill="rgb(250,197,105)"/>
<polygon points="554.2,606.1 559.1,603.2 554.2,600.1 549.3,603.1" fill="rgb(250,126,71)"/>
<polygon points="564.0,606.6 568.8,604.2 564.0,600.7 559.1,603.2" fill="rgb(250,117,49)"/>
<polygon points="602.7,617.2 607.5,616.2 602.8,611.0 597.9,612.0" fill="rgb(250,219,5)"/>
<polygon points="621.8,627.3 626.5,627.0 621.9,620.9 617.1,621.2" fill="rgb(139,229,0)"/>
<polygon points="631.2,633.5 635.9,633.6 631.3,627.0 626.5,627.0" fill="rgb(62,216,0)"/>
<polygon points="482.2,632.9 486.8,626.4 482.1,626.4 477.5,633.0" fill="rgb(161,250,105)"/>
<polygon points="510.6,617.3 515.4,612.3 510.5,611.1 505.8,616.1" fill="rgb(250,222,105)"/>
<polygon points="529.9,611.5 534.7,607.5 529.9,605.3 525.1,609.4" fill="rgb(250,179,105)"/>
<polygon points="588.2,614.9 593.1,613.3 588.3,608.6 583.4,610.3" fill="rgb(250,177,22)"/>
<polygon points="607.5,622.7 612.3,621.8 607.5,616.2 602.7,617.2" fill="rgb(232,250,1)"/>
<polygon points="635.8,640.3 640.5,640.5 635.9,633.6 631.2,633.5" fill="rgb(5,210,0)"/>
<polygon points="539.6,609.9 544.5,606.3 539.6,603.8 534.7,607.5" fill="rgb(250,163,98)"/>
<polygon points="578.5,612.3 583.4,610.3 578.6,606.0 573.7,608.0" fill="rgb(250,151,33)"/>
<polygon points="501.1,621.6 505.8,616.1 501.0,615.3 496.3,620.8" fill="rgb(246,250,105)"/>
<polygon points="520.2,613.9 525.1,609.4 520.2,607.7 515.4,612.3" fill="rgb(250,197,105)"/>
<polygon points="549.4,609.2 554.2,606.1 549.3,603.1 544.5,606.3" fill="rgb(250,148,82)"/>
<polygon points="559.1,609.4 564.0,606.6 559.1,603.2 554.2,606.1" fill="rgb(250,136,61)"/>
<polygon points="568.8,610.4 573.7,608.0 568.8,604.2 564.0,606.6" fill="rgb(250,136,43)"/>
<polygon points="597.9,618.4 602.7,617.2 597.9,612.0 593.1,613.3" fill="rgb(250,215,11)"/>
<polygon points="617.0,627.8 621.8,627.3 617.1,621.2 612.3,621.8" fill="rgb(158,237,0)"/>
<polygon points="491.6,626.7 496.3,620.8 491.5,620.4 486.8,626.4" fill="rgb(207,250,105)"/>
<polygon points="626.4,633.7 631.2,633.5 626.5,627.0 621.8,627.3" fill="rgb(82,223,0)"/>
<polygon points="515.5,618.8 520.2,613.9 515.4,612.3 510.6,617.3" fill="rgb(250,221,105)"/>
<polygon points="602.6,623.9 607.5,622.7 602.7,617.2 597.9,618.4" fill="rgb(238,250,6)"/>
<polygon points="486.9,633.1 491.6,626.7 486.8,626.4 482.2,632.9" fill="rgb(173,250,105)"/>
<polygon points="505.9,622.6 510.6,617.3 505.8,616.1 501.1,621.6" fill="rgb(250,250,105)"/>
<polygon points="525.1,615.9 529.9,611.5 525.1,609.4 520.2,613.9" fill="rgb(250,200,105)"/>
<polygon points="534.8,613.9 539.6,609.9 534.7,607.5 529.9,611.5" fill="rgb(250,184,105)"/>
<polygon points="544.5,612.8 549.4,609.2 544.5,606.3 539.6,609.9" fill="rgb(250,169,91)"/>
<polygon points="554.2,612.5 559.1,609.4 554.2,606.1 549.4,609.2" fill="rgb(250,157,72)"/>
<polygon points="564.0,613.1 568.8,610.4 564.0,606.6 559.1,609.4" fill="rgb(250,151,50)"/>
<polygon points="573.7,614.6 578.5,612.3 573.7,608.0 568.8,610.4" fill="rgb(250,161,38)"/>
<polygon points="583.4,616.8 588.2,614.9 583.4,610.3 578.5,612.3" fill="rgb(250,182,28)"/>
<polygon points="593.0,620.0 597.9,618.4 593.1,613.3 588.2,614.9" fill="rgb(250,215,17)"/>
<polygon points="612.2,628.6 617.0,627.8 612.3,621.8 607.5,622.7" fill="rgb(174,244,0)"/>
<polygon points="631.0,640.5 635.8,640.3 631.2,633.5 626.4,633.7" fill="rgb(23,217,0)"/>
<polygon points="496.4,627.4 501.1,621.6 496.3,620.8 491.6,626.7" fill="rgb(215,250,105)"/>
<polygon points="621.6,634.2 626.4,633.7 621.8,627.3 617.0,627.8" fill="rgb(99,230,0)"/>
<polygon points="520.3,620.7 525.1,615.9 520.2,613.9 515.5,618.8" fill="rgb(250,223,105)"/>
<polygon points="597.8,625.4 602.6,623.9 597.9,618.4 593.0,620.0" fill="rgb(241,250,12)"/>
<polygon points="491.7,633.6 496.4,627.4 491.6,626.7 486.9,633.1" fill="rgb(181,250,105)"/>
<polygon points="510.7,624.1 515.5,618.8 510.6,617.3 505.9,622.6" fill="rgb(250,248,105)"/>
<polygon points="549.4,616.0 554.2,612.5 549.4,609.2 544.5,612.8" fill="rgb(250,178,82)"/>
<polygon points="559.1,616.1 564.0,613.1 559.1,609.4 554.2,612.5" fill="rgb(250,170,62)"/>
<polygon points="568.8,617.2 573.7,614.6 568.8,610.4 564.0,613.1" fill="rgb(250,173,44)"/>
<polygon points="607.4,629.7 612.2,628.6 607.5,622.7 602.6,623.9" fill="rgb(185,250,1)"/>
<polygon points="626.3,640.9 631.0,640.5 626.4,633.7 621.6,634.2" fill="rgb(39,225,0)"/>
<polygon points="539.7,616.6 544.5,612.8 539.6,609.9 534.8,613.9" fill="rgb(250,190,98)"/>
<polygon points="578.5,619.1 583.4,616.8 578.5,612.3 573.7,614.6" fill="rgb(250,190,33)"/>
<polygon points="501.2,628.4 505.9,622.6 501.1,621.6 496.4,627.4" fill="rgb(220,250,105)"/>
<polygon points="530.0,618.2 534.8,613.9 529.9,611.5 525.1,615.9" fill="rgb(250,204,105)"/>
<polygon points="588.2,621.8 593.0,620.0 588.2,614.9 583.4,616.8" fill="rgb(250,218,23)"/>
<polygon points="616.9,634.9 621.6,634.2 617.0,627.8 612.2,628.6" fill="rgb(114,238,0)"/>
<polygon points="496.5,634.5 501.2,628.4 496.4,627.4 491.7,633.6" fill="rgb(188,250,105)"/>
<polygon points="515.6,625.8 520.3,620.7 515.5,618.8 510.7,624.1" fill="rgb(250,248,105)"/>
<polygon points="525.2,622.9 530.0,618.2 525.1,615.9 520.3,620.7" fill="rgb(250,227,105)"/>
<polygon points="544.5,619.7 549.4,616.0 544.5,612.8 539.7,616.6" fill="rgb(250,199,91)"/>
<polygon points="554.2,619.5 559.1,616.1 554.2,612.5 549.4,616.0" fill="rgb(250,190,72)"/>
<polygon points="563.9,620.1 568.8,617.2 564.0,613.1 559.1,616.1" fill="rgb(250,189,50)"/>
<polygon points="573.6,621.6 578.5,619.1 573.7,614.6 568.8,617.2" fill="rgb(250,201,39)"/>
<polygon points="592.9,627.2 597.8,625.4 593.0,620.0 588.2,621.8" fill="rgb(240,250,18)"/>
<polygon points="602.5,631.2 607.4,629.7 602.6,623.9 597.8,625.4" fill="rgb(190,250,7)"/>
<polygon points="621.5,641.6 626.3,640.9 621.6,634.2 616.9,634.9" fill="rgb(53,232,0)"/>
<polygon points="506.0,629.7 510.7,624.1 505.9,622.6 501.2,628.4" fill="rgb(223,250,105)"/>
<polygon points="612.1,636.0 616.9,634.9 612.2,628.6 607.4,629.7" fill="rgb(126,245,0)"/>
<polygon points="534.8,620.9 539.7,616.6 534.8,613.9 530.0,618.2" fill="rgb(250,212,105)"/>
<polygon points="583.3,624.0 588.2,621.8 583.4,616.8 578.5,619.1" fill="rgb(250,224,28)"/>
<polygon points="501.3,635.7 506.0,629.7 501.2,628.4 496.5,634.5" fill="rgb(192,250,105)"/>
<polygon points="559.1,623.4 563.9,620.1 559.1,616.1 554.2,619.5" fill="rgb(250,208,61)"/>
<polygon points="616.7,642.6 621.5,641.6 616.9,634.9 612.1,636.0" fill="rgb(64,239,0)"/>
<polygon points="510.8,631.4 515.6,625.8 510.7,624.1 506.0,629.7" fill="rgb(223,250,105)"/>
<polygon points="520.4,627.9 525.2,622.9 520.3,620.7 515.6,625.8" fill="rgb(248,250,105)"/>
<polygon points="530.0,625.5 534.8,620.9 530.0,618.2 525.2,622.9" fill="rgb(250,233,105)"/>
<polygon points="539.7,623.9 544.5,619.7 539.7,616.6 534.8,620.9" fill="rgb(250,220,98)"/>
<polygon points="549.4,623.2 554.2,619.5 549.4,616.0 544.5,619.7" fill="rgb(250,211,82)"/>
<polygon points="568.8,624.5 573.6,621.6 568.8,617.2 563.9,620.1" fill="rgb(250,215,43)"/>
<polygon points="578.5,626.5 583.3,624.0 578.5,619.1 573.6,621.6" fill="rgb(250,234,34)"/>
<polygon points="588.1,629.2 592.9,627.2 588.2,621.8 583.3,624.0" fill="rgb(235,250,23)"/>
<polygon points="597.7,632.9 602.5,631.2 597.8,625.4 592.9,627.2" fill="rgb(192,250,13)"/>
<polygon points="607.2,637.4 612.1,636.0 607.4,629.7 602.5,631.2" fill="rgb(134,250,2)"/>
<polygon points="506.1,637.3 510.8,631.4 506.0,629.7 501.3,635.7" fill="rgb(193,250,105)"/>
<polygon points="534.9,628.4 539.7,623.9 534.8,620.9 530.0,625.5" fill="rgb(250,242,104)"/>
<polygon points="554.2,627.1 559.1,623.4 554.2,619.5 549.4,623.2" fill="rgb(250,228,71)"/>
<polygon points="563.9,627.7 568.8,624.5 563.9,620.1 559.1,623.4" fill="rgb(250,231,50)"/>
<polygon points="583.2,631.7 588.1,629.2 583.3,624.0 578.5,626.5" fill="rgb(228,250,28)"/>
<polygon points="611.9,643.9 616.7,642.6 612.1,636.0 607.2,637.4" fill="rgb(72,246,0)"/>
<polygon points="515.6,633.4 520.4,627.9 515.6,625.8 510.8,631.4" fill="rgb(221,250,105)"/>
<polygon points="525.2,630.4 530.0,625.5 525.2,622.9 520.4,627.9" fill="rgb(243,250,105)"/>
<polygon points="544.6,627.3 549.4,623.2 544.5,619.7 539.7,623.9" fill="rgb(250,232,90)"/>
<polygon points="573.6,629.3 578.5,626.5 573.6,621.6 568.8,624.5" fill="rgb(250,246,39)"/>
<polygon points="592.9,634.9 597.7,632.9 592.9,627.2 588.1,629.2" fill="rgb(190,250,18)"/>
<polygon points="602.4,639.0 607.2,637.4 602.5,631.2 597.7,632.9" fill="rgb(138,250,7)"/>
<polygon points="510.9,639.2 515.6,633.4 510.8,631.4 506.1,637.3" fill="rgb(192,250,105)"/>
<polygon points="530.1,633.3 534.9,628.4 530.0,625.5 525.2,630.4" fill="rgb(235,250,105)"/>
<polygon points="539.7,631.7 544.6,627.3 539.7,623.9 534.9,628.4" fill="rgb(247,250,96)"/>
<polygon points="549.4,631.0 554.2,627.1 549.4,623.2 544.6,627.3" fill="rgb(250,248,80)"/>
<polygon points="559.1,631.3 563.9,627.7 559.1,623.4 554.2,627.1" fill="rgb(250,249,60)"/>
<polygon points="568.8,632.4 573.6,629.3 568.8,624.5 563.9,627.7" fill="rgb(239,250,43)"/>
<polygon points="578.4,634.4 583.2,631.7 578.5,626.5 573.6,629.3" fill="rgb(218,250,33)"/>
<polygon points="588.0,637.3 592.9,634.9 588.1,629.2 583.2,631.7" fill="rgb(184,250,23)"/>
<polygon points="607.1,645.5 611.9,643.9 607.2,637.4 602.4,639.0" fill="rgb(78,250,2)"/>
<polygon points="520.5,635.8 525.2,630.4 520.4,627.9 515.6,633.4" fill="rgb(217,250,105)"/>
<polygon points="597.6,641.0 602.4,639.0 597.7,632.9 592.9,634.9" fill="rgb(138,250,13)"/>
<polygon points="544.6,635.4 549.4,631.0 544.6,627.3 539.7,631.7" fill="rgb(231,250,88)"/>
<polygon points="573.6,637.5 578.4,634.4 573.6,629.3 568.8,632.4" fill="rgb(205,250,38)"/>
<polygon points="515.7,641.5 520.5,635.8 515.6,633.4 510.9,639.2" fill="rgb(189,250,105)"/>
<polygon points="525.3,638.5 530.1,633.3 525.2,630.4 520.5,635.8" fill="rgb(210,250,105)"/>
<polygon points="534.9,636.5 539.7,631.7 534.9,628.4 530.1,633.3" fill="rgb(224,250,102)"/>
<polygon points="554.3,635.2 559.1,631.3 554.2,627.1 549.4,631.0" fill="rgb(231,250,70)"/>
<polygon points="563.9,635.9 568.8,632.4 563.9,627.7 559.1,631.3" fill="rgb(222,250,48)"/>
<polygon points="583.2,639.9 588.0,637.3 583.2,631.7 578.4,634.4" fill="rgb(176,250,28)"/>
<polygon points="592.8,643.3 597.6,641.0 592.9,634.9 588.0,637.3" fill="rgb(135,250,18)"/>
<polygon points="602.3,647.5 607.1,645.5 602.4,639.0 597.6,641.0" fill="rgb(80,250,8)"/>
<polygon points="520.6,644.1 525.3,638.5 520.5,635.8 515.7,641.5" fill="rgb(183,250,105)"/>
<polygon points="539.8,640.1 544.6,635.4 539.7,631.7 534.9,636.5" fill="rgb(209,250,94)"/>
<polygon points="549.4,639.4 554.3,635.2 549.4,631.0 544.6,635.4" fill="rgb(211,250,78)"/>
<polygon points="568.7,640.9 573.6,637.5 568.8,632.4 563.9,635.9" fill="rgb(189,250,43)"/>
<polygon points="578.3,642.9 583.2,639.9 578.4,634.4 573.6,637.5" fill="rgb(165,250,33)"/>
<polygon points="597.5,649.7 602.3,647.5 597.6,641.0 592.8,643.3" fill="rgb(79,250,13)"/>
<polygon points="530.2,641.6 534.9,636.5 530.1,633.3 525.3,638.5" fill="rgb(201,250,105)"/>
<polygon points="559.1,639.7 563.9,635.9 559.1,631.3 554.3,635.2" fill="rgb(204,250,59)"/>
<polygon points="587.9,645.9 592.8,643.3 588.0,637.3 583.2,639.9" fill="rgb(129,250,23)"/>
<polygon points="525.4,647.1 530.2,641.6 525.3,638.5 520.6,644.1" fill="rgb(174,250,105)"/>
<polygon points="535.0,645.1 539.8,640.1 534.9,636.5 530.2,641.6" fill="rgb(187,250,100)"/>
<polygon points="544.6,644.0 549.4,639.4 544.6,635.4 539.8,640.1" fill="rgb(190,250,86)"/>
<polygon points="554.3,643.9 559.1,639.7 554.3,635.2 549.4,639.4" fill="rgb(185,250,68)"/>
<polygon points="563.9,644.6 568.7,640.9 563.9,635.9 559.1,639.7" fill="rgb(171,250,47)"/>
<polygon points="573.5,646.2 578.3,642.9 573.6,637.5 568.7,640.9" fill="rgb(151,250,38)"/>
<polygon points="583.1,648.8 587.9,645.9 583.2,639.9 578.3,642.9" fill="rgb(119,250,28)"/>
<polygon points="592.7,652.2 597.5,649.7 592.8,643.3 587.9,645.9" fill="rgb(75,250,18)"/>
<polygon points="530.2,650.5 535.0,645.1 530.2,641.6 525.4,647.1" fill="rgb(163,250,104)"/>
<polygon points="559.1,648.7 563.9,644.6 559.1,639.7 554.3,643.9" fill="rgb(153,250,56)"/>
<polygon points="587.9,655.1 592.7,652.2 587.9,645.9 583.1,648.8" fill="rgb(68,250,23)"/>
<polygon points="539.8,649.0 544.6,644.0 539.8,640.1 535.0,645.1" fill="rgb(168,250,92)"/>
<polygon points="549.5,648.4 554.3,643.9 549.4,639.4 544.6,644.0" fill="rgb(165,250,76)"/>
<polygon points="568.7,649.9 573.5,646.2 568.7,640.9 563.9,644.6" fill="rgb(134,250,42)"/>
<polygon points="578.3,652.0 583.1,648.8 578.3,642.9 573.5,646.2" fill="rgb(107,250,33)"/>
<polygon points="535.1,654.3 539.8,649.0 535.0,645.1 530.2,650.5" fill="rgb(145,250,97)"/>
<polygon points="554.3,653.1 559.1,648.7 554.3,643.9 549.5,648.4" fill="rgb(135,250,65)"/>
<polygon points="563.9,653.9 568.7,649.9 563.9,644.6 559.1,648.7" fill="rgb(115,250,46)"/>
<polygon points="583.0,658.2 587.9,655.1 583.1,648.8 578.3,652.0" fill="rgb(58,250,27)"/>
<polygon points="544.7,653.2 549.5,648.4 544.6,644.0 539.8,649.0" fill="rgb(144,250,83)"/>
<polygon points="573.5,655.6 578.3,652.0 573.5,646.2 568.7,649.9" fill="rgb(92,250,37)"/>
<polygon points="539.9,658.5 544.7,653.2 539.8,649.0 535.1,654.3" fill="rgb(122,250,89)"/>
<polygon points="549.5,657.9 554.3,653.1 549.5,648.4 544.7,653.2" fill="rgb(115,250,73)"/>
<polygon points="559.1,658.3 563.9,653.9 559.1,648.7 554.3,653.1" fill="rgb(97,250,54)"/>
<polygon points="568.7,659.5 573.5,655.6 568.7,649.9 563.9,653.9" fill="rgb(75,250,41)"/>
<polygon points="578.2,661.7 583.0,658.2 578.3,652.0 573.5,655.6" fill="rgb(45,250,32)"/>
<polygon points="544.7,663.1 549.5,657.9 544.7,653.2 539.9,658.5" fill="rgb(94,250,80)"/>
<polygon points="573.4,665.6 578.2,661.7 573.5,655.6 568.7,659.5" fill="rgb(36,250,43)"/>
<polygon points="554.3,663.0 559.1,658.3 554.3,653.1 549.5,657.9" fill="rgb(78,250,62)"/>
<polygon points="563.9,663.8 568.7,659.5 563.9,653.9 559.1,658.3" fill="rgb(55,250,45)"/>
<polygon points="549.5,668.0 554.3,663.0 549.5,657.9 544.7,663.1" fill="rgb(70,250,81)"/>
<polygon points="568.6,669.8 573.4,665.6 568.7,659.5 563.9,663.8" fill="rgb(40,250,69)"/>
<polygon points="559.1,668.4 563.9,663.8 559.1,658.3 554.3,663.0" fill="rgb(51,250,66)"/>
<polygon points="554.3,673.4 559.1,668.4 554.3,663.0 549.5,668.0" fill="rgb(59,250,101)"/>
<polygon points="563.8,674.3 568.6,669.8 563.9,663.8 559.1,668.4" fill="rgb(44,250,98)"/>
<polygon points="559.0,679.2 563.8,674.3 559.1,668.4 554.3,673.4" fill="rgb(47,250,128)"/>
</g>
<line x1="550.0" y1="551.4" x2="550.0" y2="575.7" stroke="#222" stroke-width="0.6"/>
<rect x="532.9" y="551.6" width="17" height="6.1" fill="#fff" stroke="#222" stroke-width="0.5"/>
<text x="541.4" y="556.1" font-size="3.9" text-anchor="middle" fill="#111" font-family="Liberation Sans, sans-serif">97.5089</text>
<text transform="translate(434.2,646.0) rotate(-90)" font-size="7.0" text-anchor="middle" fill="#2e2e2e" stroke="#2e2e2e" stroke-width="0.1" textLength="33.7" lengthAdjust="spacingAndGlyphs" font-family="Liberation Sans, sans-serif">R% for ME</text>
<text x="477.4" y="749.4" font-size="7.2" text-anchor="middle" fill="#2e2e2e" stroke="#2e2e2e" stroke-width="0.1" textLength="75.2" lengthAdjust="spacingAndGlyphs" font-family="Liberation Sans, sans-serif">D: H2O2 concentration</text>
<text x="641.4" y="749.4" font-size="7.2" text-anchor="middle" fill="#2e2e2e" stroke="#2e2e2e" stroke-width="0.1" textLength="60.0" lengthAdjust="spacingAndGlyphs" font-family="Liberation Sans, sans-serif">C: Catalyst amount</text>
</g>
<g id="panel-g">
<text x="168.2" y="777.5" font-size="5.80" fill="#1a1a1a" stroke="#1a1a1a" stroke-width="0.1" font-family="Liberation Sans, sans-serif" >Factor Coding: Actual</text>
<text x="168.2" y="796.5" font-size="5.80" fill="#000" stroke="#000" stroke-width="0.1" font-family="Liberation Sans, sans-serif" font-weight="bold" textLength="29.5" lengthAdjust="spacingAndGlyphs">R% for ME</text>
<rect x="183.8" y="799.9" width="21.6" height="8.6" fill="url(#lg)" stroke="#10104a" stroke-width="0.5"/>
<text x="168.2" y="806.3" font-size="5.60" fill="#2b2b9c" stroke="#2b2b9c" stroke-width="0.1" font-family="Liberation Sans, sans-serif" >62.62</text>
<text x="207.9" y="806.3" font-size="5.60" fill="#c0262c" stroke="#c0262c" stroke-width="0.1" font-family="Liberation Sans, sans-serif" >95.42</text>
<text x="168.2" y="824.5" font-size="5.80" fill="#1a1a1a" stroke="#1a1a1a" stroke-width="0.1" font-family="Liberation Sans, sans-serif" >X1 = A</text>
<text x="168.2" y="834.2" font-size="5.80" fill="#1a1a1a" stroke="#1a1a1a" stroke-width="0.1" font-family="Liberation Sans, sans-serif" >X2 = C</text>
<text x="168.2" y="852.4" font-size="5.70" fill="#000" stroke="#000" stroke-width="0.1" font-family="Liberation Sans, sans-serif" font-weight="bold">Actual Factors</text>
<text x="168.2" y="862.2" font-size="5.80" fill="#1a1a1a" stroke="#1a1a1a" stroke-width="0.1" font-family="Liberation Sans, sans-serif" >B = -0.313403</text>
<text x="168.2" y="871.9" font-size="5.80" fill="#1a1a1a" stroke="#1a1a1a" stroke-width="0.1" font-family="Liberation Sans, sans-serif" >D = 0.628142</text>
<text x="242.6" y="781.9" font-size="8.0" font-weight="bold" fill="#111" text-anchor="middle" font-family="Liberation Sans, sans-serif">(g)</text>
<text x="397.1" y="783.6" font-size="6.3" text-anchor="middle" fill="#2e2e2e" stroke="#2e2e2e" stroke-width="0.12" font-family="Liberation Sans, sans-serif">3D Surface</text>
<polyline points="287.5,936.1 380.9,904.3 474.7,936.1" stroke="#2a2a2a" stroke-width="0.7" fill="none"/>
<polyline points="286.3,912.0 380.9,882.6 475.9,911.9" stroke="#2a2a2a" stroke-width="0.7" fill="none"/>
<polyline points="285.1,887.9 380.9,861.0 477.0,887.8" stroke="#2a2a2a" stroke-width="0.7" fill="none"/>
<polyline points="283.9,863.8 380.9,839.3 478.2,863.7" stroke="#2a2a2a" stroke-width="0.7" fill="none"/>
<polyline points="282.6,839.7 380.9,817.6 479.4,839.6" stroke="#2a2a2a" stroke-width="0.7" fill="none"/>
<line x1="289.0" y1="966.2" x2="282.6" y2="839.7" stroke="#2a2a2a" stroke-width="0.7" fill="none"/>
<line x1="310.8" y1="928.1" x2="307.2" y2="834.2" stroke="#2a2a2a" stroke-width="0.7" fill="none"/>
<line x1="334.2" y1="920.2" x2="331.8" y2="828.7" stroke="#2a2a2a" stroke-width="0.7" fill="none"/>
<line x1="357.6" y1="912.2" x2="356.4" y2="823.1" stroke="#2a2a2a" stroke-width="0.7" fill="none"/>
<line x1="473.2" y1="966.2" x2="479.4" y2="839.6" stroke="#2a2a2a" stroke-width="0.7" fill="none"/>
<line x1="451.2" y1="928.1" x2="454.8" y2="834.1" stroke="#2a2a2a" stroke-width="0.7" fill="none"/>
<line x1="427.8" y1="920.2" x2="430.2" y2="828.6" stroke="#2a2a2a" stroke-width="0.7" fill="none"/>
<line x1="404.4" y1="912.2" x2="405.6" y2="823.1" stroke="#2a2a2a" stroke-width="0.7" fill="none"/>
<line x1="380.9" y1="931.4" x2="380.9" y2="904.3" stroke="#a8a8a8" stroke-width="0.8"/>
<line x1="380.9" y1="904.3" x2="380.9" y2="817.6" stroke="#2a2a2a" stroke-width="0.7" fill="none"/>
<polygon points="289.0,966.2 380.9,931.4 473.2,966.2 380.9,1010.1" fill="#5e5e5e" stroke="#151515" stroke-width="0.7"/>
<polyline points="371.9,1005.8 373.8,1005.6 374.4,1005.6 375.7,1005.4 377.3,1005.3 377.6,1005.2 379.5,1005.0 380.4,1004.9 381.3,1004.8 383.1,1004.6 383.5,1004.5 384.9,1004.3 386.7,1004.1 386.7,1004.1 388.5,1003.8 390.1,1003.6 390.2,1003.6 391.9,1003.3 393.6,1003.0 393.6,1003.0 395.3,1002.7 397.0,1002.4 397.3,1002.3" fill="none" stroke="rgb(38,206,123)" stroke-width="1.5" stroke-linecap="round"/>
<polyline points="361.5,1000.8 363.6,1000.7 363.9,1000.7 365.6,1000.6 366.6,1000.6 367.6,1000.5 369.3,1000.4 369.6,1000.4 371.5,1000.2 372.1,1000.1 373.4,1000.0 375.0,999.9 375.3,999.8 377.2,999.6 378.0,999.6 379.1,999.4 380.9,999.2 381.2,999.2 382.7,999.0 384.4,998.8 384.5,998.7 386.2,998.5 387.7,998.3 388.0,998.2 389.7,997.9 391.2,997.7 391.4,997.7 393.1,997.4 394.7,997.1 394.9,997.0 396.4,996.7 398.0,996.4 398.8,996.2 399.6,996.1 401.2,995.7 402.8,995.4 403.0,995.3 404.4,995.0 405.9,994.7 407.5,994.3 407.5,994.3 409.0,993.9 410.5,993.5 412.0,993.1 412.5,993.0 413.4,992.7 414.9,992.3 416.3,991.9 417.8,991.5 418.2,991.3 419.2,991.0 420.6,990.6 422.0,990.1 423.4,989.7 424.7,989.2 425.0,989.1" fill="none" stroke="rgb(46,206,38)" stroke-width="1.5" stroke-linecap="round"/>
<polyline points="460.8,972.1 461.5,971.6 462.4,971.0 463.4,970.3 464.3,969.7 465.1,969.1 465.2,969.0 466.0,968.4 466.9,967.7 467.7,967.1 468.4,966.5 468.5,966.4 469.4,965.7 470.1,965.0" fill="none" stroke="rgb(46,206,38)" stroke-width="1.5" stroke-linecap="round"/>
<polyline points="348.7,994.7 348.8,994.7 351.0,994.8 351.1,994.8 353.3,994.8 353.5,994.8 355.5,994.8 355.9,994.8 357.6,994.7 358.3,994.7 359.8,994.7 360.9,994.6 361.9,994.6 363.5,994.5 363.9,994.5 365.9,994.4 366.1,994.4 367.9,994.3 368.9,994.2 369.9,994.1 371.7,994.0 371.8,994.0 373.7,993.8 374.6,993.7 375.6,993.6 377.5,993.4 377.7,993.4 379.3,993.2 380.8,993.0 381.1,992.9 382.8,992.7 384.2,992.5 384.6,992.4 386.3,992.2 387.6,992.0 388.0,991.9 389.7,991.6 391.3,991.3 391.4,991.3 393.0,991.0 394.7,990.7 395.2,990.6 396.3,990.4 397.9,990.0 399.4,989.7 399.4,989.7 401.0,989.3 402.5,989.0 404.0,988.6 404.0,988.6 405.5,988.2 407.0,987.8 408.5,987.4 409.2,987.2 409.9,987.0 411.4,986.6 412.8,986.2 414.2,985.7 415.4,985.4 415.6,985.3 417.0,984.9 418.3,984.4 419.7,984.0 421.0,983.5 422.3,983.0 423.6,982.5 423.9,982.4 424.9,982.1 426.1,981.6 427.4,981.1 428.6,980.6 429.9,980.1 431.1,979.5 432.3,979.0 433.4,978.5 434.6,977.9 435.7,977.4 436.9,976.9 438.0,976.3 439.1,975.7 440.2,975.2 441.3,974.6 442.3,974.0 443.4,973.5 444.4,972.9 444.6,972.8 445.4,972.3 446.4,971.7 447.4,971.1 448.3,970.4 449.3,969.8 450.2,969.2 450.5,969.0 451.1,968.6 452.0,967.9 452.9,967.3 453.8,966.6 454.2,966.3 454.6,966.0 455.4,965.3 456.2,964.6 456.9,964.1 457.0,964.0 457.7,963.3 458.5,962.6 458.9,962.2 459.2,961.9 459.9,961.2" fill="none" stroke="rgb(140,206,38)" stroke-width="1.5" stroke-linecap="round"/>
<polyline points="330.3,985.9 330.4,985.9 332.2,986.2 333.3,986.3 334.1,986.4 336.0,986.6 336.2,986.7 338.0,986.8 338.9,986.9 340.0,987.0 341.6,987.1 342.1,987.2 344.2,987.3 344.2,987.3 346.3,987.4 346.6,987.4 348.5,987.5 349.0,987.5 350.8,987.6 351.4,987.6 353.1,987.6 353.7,987.6 355.4,987.6 355.9,987.6 357.9,987.6 358.1,987.6 360.2,987.5 360.4,987.5 362.3,987.5 362.9,987.4 364.3,987.4 365.6,987.3 366.3,987.2 368.3,987.1 368.4,987.1 370.2,987.0 371.2,986.9 372.1,986.8 374.0,986.6 374.2,986.6 375.9,986.4 377.3,986.2 377.7,986.2 379.4,985.9 380.6,985.8 381.2,985.7 382.9,985.4 384.1,985.3 384.6,985.2 386.3,984.9 387.8,984.6 388.0,984.6 389.6,984.3 391.2,984.0 391.8,983.8 392.8,983.6 394.3,983.3 395.9,982.9 396.2,982.9 397.4,982.6 398.9,982.2 400.4,981.8 401.3,981.6 401.9,981.4 403.3,981.0 404.7,980.6 406.1,980.2 407.5,979.8 407.5,979.8 408.9,979.4 410.2,978.9 411.5,978.5 412.9,978.0 414.1,977.5 415.4,977.1 416.7,976.6 417.3,976.3 417.9,976.1 419.1,975.6 420.3,975.1 421.5,974.6 422.7,974.0 423.8,973.5 424.9,973.0 426.1,972.4 427.1,971.9 427.8,971.6 428.2,971.3 429.3,970.8 430.3,970.2 431.3,969.6 432.3,969.0 433.2,968.4 434.2,967.8 435.0,967.3 435.1,967.2 436.0,966.6 436.9,965.9 437.8,965.3 438.5,964.7 438.6,964.6 439.4,964.0 440.2,963.3 440.9,962.6 440.9,962.6 441.6,961.9 442.3,961.2 442.6,960.9 443.0,960.5 443.6,959.8 444.0,959.3 444.2,959.1 444.7,958.3 445.0,957.9 445.2,957.5 445.7,956.8 445.8,956.6 446.1,956.0" fill="none" stroke="rgb(206,178,38)" stroke-width="1.5" stroke-linecap="round"/>
<polyline points="375.5,933.5 377.3,933.5 377.7,933.5 379.6,933.5 380.0,933.5 382.1,933.6 382.2,933.6 384.3,933.6 384.5,933.6 386.5,933.7 387.0,933.7" fill="none" stroke="rgb(206,178,38)" stroke-width="1.5" stroke-linecap="round"/>
<polyline points="301.6,961.4 301.7,961.4 302.1,962.2 302.5,962.8 302.6,963.0 303.2,963.7 303.8,964.4 303.9,964.4 304.6,965.1 305.3,965.8 306.1,966.4 306.2,966.5 307.0,967.1 308.0,967.8 308.9,968.4 309.9,969.0 311.0,969.6 312.1,970.1 313.2,970.7 314.3,971.2 315.6,971.7 316.8,972.2 318.1,972.7 319.4,973.2 320.8,973.6 322.2,974.1 323.0,974.3 323.6,974.5 325.1,974.9 326.6,975.3 327.9,975.6 328.1,975.7 329.7,976.0 331.4,976.3 331.9,976.4 333.0,976.7 334.8,977.0 335.4,977.1 336.5,977.2 338.3,977.5 338.6,977.5 340.2,977.7 341.5,977.9 342.1,977.9 344.1,978.1 344.3,978.2 346.1,978.3 347.0,978.4 348.2,978.4 349.5,978.5 350.3,978.5 351.9,978.6 352.5,978.6 354.3,978.6 354.8,978.7 356.5,978.7 357.2,978.7 358.7,978.6 359.6,978.6 360.8,978.6 362.2,978.5 362.9,978.5 364.8,978.4 364.9,978.4 366.9,978.3 367.6,978.2 368.8,978.1 370.6,978.0 370.7,977.9 372.5,977.7 373.7,977.6 374.3,977.5 376.1,977.3 377.0,977.2 377.8,977.1 379.5,976.8 380.6,976.6 381.2,976.5 382.8,976.2 384.4,975.9 384.7,975.8 386.0,975.6 387.5,975.2 389.0,974.9 389.3,974.8 390.5,974.5 391.9,974.1 393.4,973.7 394.8,973.3 395.2,973.2 396.1,972.9 397.5,972.5 398.8,972.1 400.1,971.6 401.3,971.2 402.6,970.7 403.8,970.2 405.0,969.7 406.1,969.2 407.3,968.7 408.4,968.2 409.5,967.6 410.5,967.1 411.5,966.5 412.5,965.9 413.5,965.3 414.2,964.8 414.4,964.7 415.3,964.1 416.1,963.5 416.9,962.8 417.3,962.5 417.7,962.2 418.4,961.5 419.1,960.8 419.2,960.7 419.7,960.1 420.3,959.4 420.4,959.2 420.8,958.6 421.2,957.9 421.2,957.8 421.6,957.0 421.7,956.7 421.9,956.2 422.0,955.7 422.0,955.3 422.1,954.7 422.1,954.4 422.0,953.8 421.9,953.4 421.8,952.9 421.6,952.3 421.5,952.1 421.1,951.4 420.9,951.1 420.5,950.7 419.9,950.0 419.6,949.7 419.2,949.4 418.5,948.8 417.6,948.2 416.7,947.6 416.7,947.6 415.7,947.1 414.7,946.6 413.6,946.2 412.5,945.7 411.3,945.3 410.0,944.9 408.7,944.5 408.2,944.4 407.4,944.2 406.0,943.8 404.5,943.5 403.0,943.2 402.4,943.1 401.5,942.9 399.9,942.7 398.3,942.4 398.2,942.4 396.6,942.2 394.9,941.9 394.6,941.9 393.2,941.7 391.4,941.5 391.3,941.5 389.6,941.4 388.2,941.3 387.7,941.2 385.8,941.1 385.3,941.0 383.8,940.9 382.6,940.9 381.8,940.8 379.9,940.7 379.7,940.7 377.6,940.6 377.4,940.6 375.5,940.6 374.9,940.6 373.3,940.5 372.5,940.5 371.0,940.5 370.2,940.5 368.7,940.5 367.9,940.5 366.4,940.5 365.7,940.5 364.0,940.5 363.5,940.5 361.5,940.6 361.3,940.6 359.2,940.6 358.9,940.6 357.2,940.7 356.3,940.7" fill="none" stroke="rgb(206,83,38)" stroke-width="1.5" stroke-linecap="round"/>
<circle cx="287.5" cy="936.1" r="0.95" fill="#111"/>
<text x="284.3" y="933.8" font-size="6.2" text-anchor="end" fill="#2e2e2e" stroke="#2e2e2e" stroke-width="0.12" font-family="Liberation Sans, sans-serif">60</text>
<circle cx="286.3" cy="912.0" r="0.95" fill="#111"/>
<text x="283.1" y="909.7" font-size="6.2" text-anchor="end" fill="#2e2e2e" stroke="#2e2e2e" stroke-width="0.12" font-family="Liberation Sans, sans-serif">70</text>
<circle cx="285.1" cy="887.9" r="0.95" fill="#111"/>
<text x="281.9" y="885.6" font-size="6.2" text-anchor="end" fill="#2e2e2e" stroke="#2e2e2e" stroke-width="0.12" font-family="Liberation Sans, sans-serif">80</text>
<circle cx="283.9" cy="863.8" r="0.95" fill="#111"/>
<text x="280.7" y="861.5" font-size="6.2" text-anchor="end" fill="#2e2e2e" stroke="#2e2e2e" stroke-width="0.12" font-family="Liberation Sans, sans-serif">90</text>
<circle cx="282.6" cy="839.7" r="0.95" fill="#111"/>
<text x="279.4" y="837.4" font-size="6.2" text-anchor="end" fill="#2e2e2e" stroke="#2e2e2e" stroke-width="0.12" font-family="Liberation Sans, sans-serif">100</text>
<circle cx="380.9" cy="1010.1" r="0.95" fill="#111"/>
<text x="377.3" y="1016.6" font-size="6.2" text-anchor="end" fill="#2e2e2e" stroke="#2e2e2e" stroke-width="0.12" font-family="Liberation Sans, sans-serif">-1</text>
<circle cx="380.9" cy="1010.1" r="0.95" fill="#111"/>
<text x="384.8" y="1016.6" font-size="6.2" text-anchor="start" fill="#2e2e2e" stroke="#2e2e2e" stroke-width="0.12" font-family="Liberation Sans, sans-serif">-1</text>
<circle cx="358.0" cy="999.1" r="0.95" fill="#111"/>
<text x="354.4" y="1005.6" font-size="6.2" text-anchor="end" fill="#2e2e2e" stroke="#2e2e2e" stroke-width="0.12" font-family="Liberation Sans, sans-serif">-0.5</text>
<circle cx="404.0" cy="999.1" r="0.95" fill="#111"/>
<text x="407.9" y="1005.6" font-size="6.2" text-anchor="start" fill="#2e2e2e" stroke="#2e2e2e" stroke-width="0.12" font-family="Liberation Sans, sans-serif">-0.5</text>
<circle cx="335.0" cy="988.2" r="0.95" fill="#111"/>
<text x="331.4" y="994.7" font-size="6.2" text-anchor="end" fill="#2e2e2e" stroke="#2e2e2e" stroke-width="0.12" font-family="Liberation Sans, sans-serif">0</text>
<circle cx="427.1" cy="988.2" r="0.95" fill="#111"/>
<text x="431.0" y="994.7" font-size="6.2" text-anchor="start" fill="#2e2e2e" stroke="#2e2e2e" stroke-width="0.12" font-family="Liberation Sans, sans-serif">0</text>
<circle cx="312.0" cy="977.2" r="0.95" fill="#111"/>
<text x="308.4" y="983.7" font-size="6.2" text-anchor="end" fill="#2e2e2e" stroke="#2e2e2e" stroke-width="0.12" font-family="Liberation Sans, sans-serif">0.5</text>
<circle cx="450.1" cy="977.2" r="0.95" fill="#111"/>
<text x="454.0" y="983.7" font-size="6.2" text-anchor="start" fill="#2e2e2e" stroke="#2e2e2e" stroke-width="0.12" font-family="Liberation Sans, sans-serif">0.5</text>
<circle cx="289.0" cy="966.2" r="0.95" fill="#111"/>
<text x="285.4" y="972.7" font-size="6.2" text-anchor="end" fill="#2e2e2e" stroke="#2e2e2e" stroke-width="0.12" font-family="Liberation Sans, sans-serif">1</text>
<circle cx="473.2" cy="966.2" r="0.95" fill="#111"/>
<text x="477.1" y="972.7" font-size="6.2" text-anchor="start" fill="#2e2e2e" stroke="#2e2e2e" stroke-width="0.12" font-family="Liberation Sans, sans-serif">1</text>
<g stroke="#181818" stroke-width="0.4" stroke-linejoin="round">
<polygon points="381.0,842.6 385.8,844.4 380.9,846.1 376.1,844.1" fill="rgb(193,168,0)"/>
<polygon points="376.1,841.1 381.0,842.6 376.1,844.1 371.2,842.5" fill="rgb(202,142,0)"/>
<polygon points="385.8,841.4 390.7,843.1 385.8,844.4 381.0,842.6" fill="rgb(199,144,0)"/>
<polygon points="371.2,839.8 376.1,841.1 371.2,842.5 366.4,841.0" fill="rgb(211,117,0)"/>
<polygon points="381.0,840.0 385.8,841.4 381.0,842.6 376.1,841.1" fill="rgb(208,117,0)"/>
<polygon points="390.7,840.6 395.5,842.1 390.7,843.1 385.8,841.4" fill="rgb(206,122,0)"/>
<polygon points="366.3,838.7 371.2,839.8 366.4,841.0 361.5,839.9" fill="rgb(221,92,0)"/>
<polygon points="376.1,838.8 381.0,840.0 376.1,841.1 371.2,839.8" fill="rgb(218,91,0)"/>
<polygon points="385.8,839.3 390.7,840.6 385.8,841.4 381.0,840.0" fill="rgb(215,95,0)"/>
<polygon points="395.6,840.2 400.4,841.6 395.5,842.1 390.7,840.6" fill="rgb(212,103,0)"/>
<polygon points="371.2,837.9 376.1,838.8 371.2,839.8 366.3,838.7" fill="rgb(228,66,0)"/>
<polygon points="381.0,838.3 385.8,839.3 381.0,840.0 376.1,838.8" fill="rgb(224,69,0)"/>
<polygon points="390.7,839.0 395.6,840.2 390.7,840.6 385.8,839.3" fill="rgb(221,76,0)"/>
<polygon points="361.4,838.0 366.3,838.7 361.5,839.9 356.6,839.0" fill="rgb(231,69,0)"/>
<polygon points="400.5,840.1 405.3,841.4 400.4,841.6 395.6,840.2" fill="rgb(218,88,0)"/>
<polygon points="376.1,837.5 381.0,838.3 376.1,838.8 371.2,837.9" fill="rgb(234,44,0)"/>
<polygon points="385.9,838.1 390.7,839.0 385.8,839.3 381.0,838.3" fill="rgb(231,50,0)"/>
<polygon points="356.5,837.5 361.4,838.0 356.6,839.0 351.7,838.4" fill="rgb(241,47,0)"/>
<polygon points="366.3,837.3 371.2,837.9 366.3,838.7 361.4,838.0" fill="rgb(238,43,0)"/>
<polygon points="395.6,839.1 400.5,840.1 395.6,840.2 390.7,839.0" fill="rgb(227,61,0)"/>
<polygon points="405.4,840.5 410.2,841.7 405.3,841.4 400.5,840.1" fill="rgb(223,77,0)"/>
<polygon points="351.6,837.2 356.5,837.5 351.7,838.4 346.8,838.0" fill="rgb(250,28,1)"/>
<polygon points="361.4,836.9 366.3,837.3 361.4,838.0 356.5,837.5" fill="rgb(248,21,0)"/>
<polygon points="371.2,837.0 376.1,837.5 371.2,837.9 366.3,837.3" fill="rgb(244,20,0)"/>
<polygon points="381.0,837.4 385.9,838.1 381.0,838.3 376.1,837.5" fill="rgb(240,25,0)"/>
<polygon points="390.8,838.3 395.6,839.1 390.7,839.0 385.9,838.1" fill="rgb(237,35,0)"/>
<polygon points="400.5,839.6 405.4,840.5 400.5,840.1 395.6,839.1" fill="rgb(232,50,0)"/>
<polygon points="410.3,841.3 415.1,842.3 410.2,841.7 405.4,840.5" fill="rgb(228,70,0)"/>
<polygon points="346.7,837.3 351.6,837.2 346.8,838.0 341.9,838.0" fill="rgb(250,18,9)"/>
<polygon points="356.5,836.8 361.4,836.9 356.5,837.5 351.6,837.2" fill="rgb(250,7,6)"/>
<polygon points="366.3,836.7 371.2,837.0 366.3,837.3 361.4,836.9" fill="rgb(250,3,3)"/>
<polygon points="376.1,837.0 381.0,837.4 376.1,837.5 371.2,837.0" fill="rgb(250,1,0)"/>
<polygon points="385.9,837.7 390.8,838.3 385.9,838.1 381.0,837.4" fill="rgb(246,10,0)"/>
<polygon points="395.6,838.9 400.5,839.6 395.6,839.1 390.8,838.3" fill="rgb(242,24,0)"/>
<polygon points="405.4,840.5 410.3,841.3 405.4,840.5 400.5,839.6" fill="rgb(237,44,0)"/>
<polygon points="415.1,842.5 420.0,843.4 415.1,842.3 410.3,841.3" fill="rgb(232,68,0)"/>
<polygon points="341.8,837.7 346.7,837.3 341.9,838.0 337.0,838.2" fill="rgb(250,16,16)"/>
<polygon points="351.6,837.0 356.5,836.8 351.6,837.2 346.7,837.3" fill="rgb(250,14,14)"/>
<polygon points="361.4,836.7 366.3,836.7 361.4,836.9 356.5,836.8" fill="rgb(250,11,11)"/>
<polygon points="371.2,836.9 376.1,837.0 371.2,837.0 366.3,836.7" fill="rgb(250,8,8)"/>
<polygon points="381.0,837.5 385.9,837.7 381.0,837.4 376.1,837.0" fill="rgb(250,4,4)"/>
<polygon points="390.8,838.5 395.6,838.9 390.8,838.3 385.9,837.7" fill="rgb(250,1,1)"/>
<polygon points="400.5,839.9 405.4,840.5 400.5,839.6 395.6,838.9" fill="rgb(246,18,0)"/>
<polygon points="410.3,841.8 415.1,842.5 410.3,841.3 405.4,840.5" fill="rgb(241,42,0)"/>
<polygon points="420.0,844.1 424.8,844.9 420.0,843.4 415.1,842.5" fill="rgb(235,71,0)"/>
<polygon points="346.7,837.5 351.6,837.0 346.7,837.3 341.8,837.7" fill="rgb(250,21,21)"/>
<polygon points="356.5,837.0 361.4,836.7 356.5,836.8 351.6,837.0" fill="rgb(250,18,18)"/>
<polygon points="366.3,837.0 371.2,836.9 366.3,836.7 361.4,836.7" fill="rgb(250,15,15)"/>
<polygon points="395.7,839.6 400.5,839.9 395.6,838.9 390.8,838.5" fill="rgb(250,4,4)"/>
<polygon points="405.4,841.3 410.3,841.8 405.4,840.5 400.5,839.9" fill="rgb(249,18,0)"/>
<polygon points="415.2,843.5 420.0,844.1 415.1,842.5 410.3,841.8" fill="rgb(243,46,0)"/>
<polygon points="336.9,838.4 341.8,837.7 337.0,838.2 332.1,838.8" fill="rgb(250,24,24)"/>
<polygon points="376.1,837.4 381.0,837.5 376.1,837.0 371.2,836.9" fill="rgb(250,12,12)"/>
<polygon points="385.9,838.3 390.8,838.5 385.9,837.7 381.0,837.5" fill="rgb(250,8,8)"/>
<polygon points="424.9,846.1 429.7,846.9 424.8,844.9 420.0,844.1" fill="rgb(237,79,0)"/>
<polygon points="351.6,837.7 356.5,837.0 351.6,837.0 346.7,837.5" fill="rgb(250,25,25)"/>
<polygon points="361.4,837.5 366.3,837.0 361.4,836.7 356.5,837.0" fill="rgb(250,22,22)"/>
<polygon points="400.6,841.1 405.4,841.3 400.5,839.9 395.7,839.6" fill="rgb(250,6,6)"/>
<polygon points="410.3,843.1 415.2,843.5 410.3,841.8 405.4,841.3" fill="rgb(250,24,1)"/>
<polygon points="332.0,839.4 336.9,838.4 332.1,838.8 327.2,839.7" fill="rgb(250,31,31)"/>
<polygon points="341.8,838.3 346.7,837.5 341.8,837.7 336.9,838.4" fill="rgb(250,28,28)"/>
<polygon points="371.2,837.7 376.1,837.4 371.2,836.9 366.3,837.0" fill="rgb(250,19,19)"/>
<polygon points="381.0,838.4 385.9,838.3 381.0,837.5 376.1,837.4" fill="rgb(250,15,15)"/>
<polygon points="390.8,839.5 395.7,839.6 390.8,838.5 385.9,838.3" fill="rgb(250,11,11)"/>
<polygon points="420.0,845.7 424.9,846.1 420.0,844.1 415.2,843.5" fill="rgb(245,55,0)"/>
<polygon points="429.7,848.7 434.5,849.3 429.7,846.9 424.9,846.1" fill="rgb(238,92,0)"/>
<polygon points="356.5,838.2 361.4,837.5 356.5,837.0 351.6,837.7" fill="rgb(250,29,29)"/>
<polygon points="405.4,843.1 410.3,843.1 405.4,841.3 400.6,841.1" fill="rgb(250,10,8)"/>
<polygon points="346.7,838.6 351.6,837.7 346.7,837.5 341.8,838.3" fill="rgb(250,32,32)"/>
<polygon points="366.3,838.3 371.2,837.7 366.3,837.0 361.4,837.5" fill="rgb(250,26,26)"/>
<polygon points="376.1,838.8 381.0,838.4 376.1,837.4 371.2,837.7" fill="rgb(250,22,22)"/>
<polygon points="385.9,839.7 390.8,839.5 385.9,838.3 381.0,838.4" fill="rgb(250,18,18)"/>
<polygon points="395.7,841.2 400.6,841.1 395.7,839.6 390.8,839.5" fill="rgb(250,13,13)"/>
<polygon points="415.2,845.4 420.0,845.7 415.2,843.5 410.3,843.1" fill="rgb(250,35,2)"/>
<polygon points="327.1,840.7 332.0,839.4 327.2,839.7 322.3,840.9" fill="rgb(250,38,38)"/>
<polygon points="336.9,839.4 341.8,838.3 336.9,838.4 332.0,839.4" fill="rgb(250,35,35)"/>
<polygon points="424.9,848.3 429.7,848.7 424.9,846.1 420.0,845.7" fill="rgb(245,70,0)"/>
<polygon points="434.6,851.6 439.4,852.2 434.5,849.3 429.7,848.7" fill="rgb(237,111,0)"/>
<polygon points="322.3,842.3 327.1,840.7 322.3,840.9 317.4,842.4" fill="rgb(250,44,44)"/>
<polygon points="332.0,840.8 336.9,839.4 332.0,839.4 327.1,840.7" fill="rgb(250,42,42)"/>
<polygon points="341.8,839.8 346.7,838.6 341.8,838.3 336.9,839.4" fill="rgb(250,39,39)"/>
<polygon points="351.6,839.2 356.5,838.2 351.6,837.7 346.7,838.6" fill="rgb(250,36,36)"/>
<polygon points="361.4,839.1 366.3,838.3 361.4,837.5 356.5,838.2" fill="rgb(250,32,32)"/>
<polygon points="371.2,839.4 376.1,838.8 371.2,837.7 366.3,838.3" fill="rgb(250,28,28)"/>
<polygon points="381.0,840.2 385.9,839.7 381.0,838.4 376.1,838.8" fill="rgb(250,24,24)"/>
<polygon points="390.8,841.5 395.7,841.2 390.8,839.5 385.9,839.7" fill="rgb(250,19,19)"/>
<polygon points="400.6,843.2 405.4,843.1 400.6,841.1 395.7,841.2" fill="rgb(250,14,14)"/>
<polygon points="410.3,845.4 415.2,845.4 410.3,843.1 405.4,843.1" fill="rgb(250,22,8)"/>
<polygon points="420.0,848.1 424.9,848.3 420.0,845.7 415.2,845.4" fill="rgb(250,51,3)"/>
<polygon points="429.7,851.3 434.6,851.6 429.7,848.7 424.9,848.3" fill="rgb(245,90,0)"/>
<polygon points="439.4,855.1 444.2,855.5 439.4,852.2 434.6,851.6" fill="rgb(236,134,0)"/>
<polygon points="366.3,840.4 371.2,839.4 366.3,838.3 361.4,839.1" fill="rgb(250,35,35)"/>
<polygon points="376.1,841.0 381.0,840.2 376.1,838.8 371.2,839.4" fill="rgb(250,30,30)"/>
<polygon points="385.9,842.1 390.8,841.5 385.9,839.7 381.0,840.2" fill="rgb(250,25,25)"/>
<polygon points="395.7,843.7 400.6,843.2 395.7,841.2 390.8,841.5" fill="rgb(250,20,20)"/>
<polygon points="317.4,844.3 322.3,842.3 317.4,842.4 312.5,844.3" fill="rgb(250,55,55)"/>
<polygon points="327.1,842.6 332.0,840.8 327.1,840.7 322.3,842.3" fill="rgb(250,49,49)"/>
<polygon points="336.9,841.3 341.8,839.8 336.9,839.4 332.0,840.8" fill="rgb(250,45,45)"/>
<polygon points="346.7,840.5 351.6,839.2 346.7,838.6 341.8,839.8" fill="rgb(250,42,42)"/>
<polygon points="356.5,840.2 361.4,839.1 356.5,838.2 351.6,839.2" fill="rgb(250,39,39)"/>
<polygon points="405.4,845.7 410.3,845.4 405.4,843.1 400.6,843.2" fill="rgb(250,14,14)"/>
<polygon points="415.2,848.3 420.0,848.1 415.2,845.4 410.3,845.4" fill="rgb(250,38,8)"/>
<polygon points="424.9,851.3 429.7,851.3 424.9,848.3 420.0,848.1" fill="rgb(250,73,2)"/>
<polygon points="434.5,854.9 439.4,855.1 434.6,851.6 429.7,851.3" fill="rgb(244,116,0)"/>
<polygon points="444.1,859.0 448.9,859.3 444.2,855.5 439.4,855.1" fill="rgb(234,163,0)"/>
<polygon points="322.2,844.7 327.1,842.6 322.3,842.3 317.4,844.3" fill="rgb(250,64,64)"/>
<polygon points="332.0,843.2 336.9,841.3 332.0,840.8 327.1,842.6" fill="rgb(250,57,57)"/>
<polygon points="341.8,842.2 346.7,840.5 341.8,839.8 336.9,841.3" fill="rgb(250,50,50)"/>
<polygon points="371.2,842.1 376.1,841.0 371.2,839.4 366.3,840.4" fill="rgb(250,36,36)"/>
<polygon points="381.0,843.0 385.9,842.1 381.0,840.2 376.1,841.0" fill="rgb(250,31,31)"/>
<polygon points="390.8,844.4 395.7,843.7 390.8,841.5 385.9,842.1" fill="rgb(250,26,26)"/>
<polygon points="420.0,851.5 424.9,851.3 420.0,848.1 415.2,848.3" fill="rgb(250,60,7)"/>
<polygon points="429.7,854.9 434.5,854.9 429.7,851.3 424.9,851.3" fill="rgb(250,99,1)"/>
<polygon points="439.3,858.9 444.1,859.0 439.4,855.1 434.5,854.9" fill="rgb(241,146,0)"/>
<polygon points="312.5,846.7 317.4,844.3 312.5,844.3 307.7,846.5" fill="rgb(250,71,68)"/>
<polygon points="361.4,841.6 366.3,840.4 361.4,839.1 356.5,840.2" fill="rgb(250,41,41)"/>
<polygon points="400.6,846.3 405.4,845.7 400.6,843.2 395.7,843.7" fill="rgb(250,20,20)"/>
<polygon points="448.9,863.4 453.7,863.6 448.9,859.3 444.1,859.0" fill="rgb(232,195,0)"/>
<polygon points="351.6,841.7 356.5,840.2 351.6,839.2 346.7,840.5" fill="rgb(250,45,45)"/>
<polygon points="410.3,848.6 415.2,848.3 410.3,845.4 405.4,845.7" fill="rgb(250,29,14)"/>
<polygon points="376.1,844.1 381.0,843.0 376.1,841.0 371.2,842.1" fill="rgb(250,37,37)"/>
<polygon points="385.9,845.4 390.8,844.4 385.9,842.1 381.0,843.0" fill="rgb(250,31,31)"/>
<polygon points="327.1,845.4 332.0,843.2 327.1,842.6 322.2,844.7" fill="rgb(250,71,71)"/>
<polygon points="336.9,844.2 341.8,842.2 336.9,841.3 332.0,843.2" fill="rgb(250,64,64)"/>
<polygon points="424.9,855.3 429.7,854.9 424.9,851.3 420.0,851.5" fill="rgb(250,86,6)"/>
<polygon points="434.5,859.0 439.3,858.9 434.5,854.9 429.7,854.9" fill="rgb(248,131,0)"/>
<polygon points="317.4,847.1 322.2,844.7 317.4,844.3 312.5,846.7" fill="rgb(250,76,76)"/>
<polygon points="366.3,843.4 371.2,842.1 366.3,840.4 361.4,841.6" fill="rgb(250,42,42)"/>
<polygon points="395.7,847.1 400.6,846.3 395.7,843.7 390.8,844.4" fill="rgb(250,25,25)"/>
<polygon points="444.1,863.4 448.9,863.4 444.1,859.0 439.3,858.9" fill="rgb(238,180,0)"/>
<polygon points="346.7,843.4 351.6,841.7 346.7,840.5 341.8,842.2" fill="rgb(250,55,55)"/>
<polygon points="356.5,843.2 361.4,841.6 356.5,840.2 351.6,841.7" fill="rgb(250,46,46)"/>
<polygon points="405.4,849.3 410.3,848.6 405.4,845.7 400.6,846.3" fill="rgb(250,23,19)"/>
<polygon points="415.2,852.0 420.0,851.5 415.2,848.3 410.3,848.6" fill="rgb(250,50,13)"/>
<polygon points="307.7,849.3 312.5,846.7 307.7,846.5 302.9,849.1" fill="rgb(250,94,80)"/>
<polygon points="453.6,868.3 458.4,868.5 453.7,863.6 448.9,863.4" fill="rgb(225,228,0)"/>
<polygon points="381.0,846.6 385.9,845.4 381.0,843.0 376.1,844.1" fill="rgb(250,36,36)"/>
<polygon points="332.0,846.5 336.9,844.2 332.0,843.2 327.1,845.4" fill="rgb(250,76,76)"/>
<polygon points="429.7,859.4 434.5,859.0 429.7,854.9 424.9,855.3" fill="rgb(250,118,3)"/>
<polygon points="302.9,852.4 307.7,849.3 302.9,849.1 298.1,852.1" fill="rgb(250,117,91)"/>
<polygon points="322.3,847.9 327.1,845.4 322.2,844.7 317.4,847.1" fill="rgb(250,82,82)"/>
<polygon points="371.2,845.6 376.1,844.1 371.2,842.1 366.3,843.4" fill="rgb(250,42,42)"/>
<polygon points="390.8,848.2 395.7,847.1 390.8,844.4 385.9,845.4" fill="rgb(250,31,31)"/>
<polygon points="439.3,863.6 444.1,863.4 439.3,858.9 434.5,859.0" fill="rgb(245,167,0)"/>
<polygon points="458.3,873.7 463.0,873.8 458.4,868.5 453.6,868.3" fill="rgb(177,225,0)"/>
<polygon points="341.8,845.5 346.7,843.4 341.8,842.2 336.9,844.2" fill="rgb(250,68,68)"/>
<polygon points="351.6,845.0 356.5,843.2 351.6,841.7 346.7,843.4" fill="rgb(250,58,58)"/>
<polygon points="361.4,845.1 366.3,843.4 361.4,841.6 356.5,843.2" fill="rgb(250,47,47)"/>
<polygon points="400.6,850.2 405.4,849.3 400.6,846.3 395.7,847.1" fill="rgb(250,24,24)"/>
<polygon points="410.3,852.8 415.2,852.0 410.3,848.6 405.4,849.3" fill="rgb(250,45,18)"/>
<polygon points="420.0,855.8 424.9,855.3 420.0,851.5 415.2,852.0" fill="rgb(250,77,11)"/>
<polygon points="312.6,849.9 317.4,847.1 312.5,846.7 307.7,849.3" fill="rgb(250,91,87)"/>
<polygon points="448.8,868.4 453.6,868.3 448.9,863.4 444.1,863.4" fill="rgb(235,219,0)"/>
<polygon points="307.7,853.0 312.6,849.9 307.7,849.3 302.9,852.4" fill="rgb(250,114,96)"/>
<polygon points="327.2,849.1 332.0,846.5 327.1,845.4 322.3,847.9" fill="rgb(250,86,86)"/>
<polygon points="376.1,848.2 381.0,846.6 376.1,844.1 371.2,845.6" fill="rgb(250,41,41)"/>
<polygon points="385.9,849.5 390.8,848.2 385.9,845.4 381.0,846.6" fill="rgb(250,35,35)"/>
<polygon points="434.4,864.1 439.3,863.6 434.5,859.0 429.7,859.4" fill="rgb(250,156,1)"/>
<polygon points="453.5,873.9 458.3,873.7 453.6,868.3 448.8,868.4" fill="rgb(200,230,0)"/>
<polygon points="336.9,847.9 341.8,845.5 336.9,844.2 332.0,846.5" fill="rgb(250,79,79)"/>
<polygon points="346.7,847.2 351.6,845.0 346.7,843.4 341.8,845.5" fill="rgb(250,70,70)"/>
<polygon points="356.5,847.1 361.4,845.1 356.5,843.2 351.6,845.0" fill="rgb(250,59,59)"/>
<polygon points="366.3,847.4 371.2,845.6 366.3,843.4 361.4,845.1" fill="rgb(250,47,47)"/>
<polygon points="395.7,851.4 400.6,850.2 395.7,847.1 390.8,848.2" fill="rgb(250,29,29)"/>
<polygon points="405.4,853.8 410.3,852.8 405.4,849.3 400.6,850.2" fill="rgb(250,43,22)"/>
<polygon points="415.1,856.7 420.0,855.8 415.2,852.0 410.3,852.8" fill="rgb(250,72,15)"/>
<polygon points="424.8,860.1 429.7,859.4 424.9,855.3 420.0,855.8" fill="rgb(250,109,8)"/>
<polygon points="298.1,855.8 302.9,852.4 298.1,852.1 293.3,855.4" fill="rgb(250,139,99)"/>
<polygon points="317.4,850.8 322.3,847.9 317.4,847.1 312.6,849.9" fill="rgb(250,92,92)"/>
<polygon points="444.0,868.7 448.8,868.4 444.1,863.4 439.3,863.6" fill="rgb(241,208,0)"/>
<polygon points="462.9,879.6 467.7,879.6 463.0,873.8 458.3,873.7" fill="rgb(124,220,0)"/>
<polygon points="312.6,854.0 317.4,850.8 312.6,849.9 307.7,853.0" fill="rgb(250,113,101)"/>
<polygon points="448.7,874.3 453.5,873.9 448.8,868.4 444.0,868.7" fill="rgb(221,236,0)"/>
<polygon points="341.8,849.7 346.7,847.2 341.8,845.5 336.9,847.9" fill="rgb(250,80,80)"/>
<polygon points="351.6,849.3 356.5,847.1 351.6,845.0 346.7,847.2" fill="rgb(250,69,69)"/>
<polygon points="361.4,849.5 366.3,847.4 361.4,845.1 356.5,847.1" fill="rgb(250,57,57)"/>
<polygon points="371.2,850.1 376.1,848.2 371.2,845.6 366.3,847.4" fill="rgb(250,46,46)"/>
<polygon points="390.8,852.9 395.7,851.4 390.8,848.2 385.9,849.5" fill="rgb(250,34,34)"/>
<polygon points="400.5,855.1 405.4,853.8 400.6,850.2 395.7,851.4" fill="rgb(250,44,27)"/>
<polygon points="410.3,857.8 415.1,856.7 410.3,852.8 405.4,853.8" fill="rgb(250,70,20)"/>
<polygon points="420.0,861.1 424.8,860.1 420.0,855.8 415.1,856.7" fill="rgb(250,103,13)"/>
<polygon points="303.0,856.5 307.7,853.0 302.9,852.4 298.1,855.8" fill="rgb(250,136,104)"/>
<polygon points="322.3,852.1 327.2,849.1 322.3,847.9 317.4,850.8" fill="rgb(250,95,95)"/>
<polygon points="332.1,850.7 336.9,847.9 332.0,846.5 327.2,849.1" fill="rgb(250,88,88)"/>
<polygon points="381.0,851.2 385.9,849.5 381.0,846.6 376.1,848.2" fill="rgb(250,40,40)"/>
<polygon points="429.6,864.9 434.4,864.1 429.7,859.4 424.8,860.1" fill="rgb(250,147,5)"/>
<polygon points="439.2,869.3 444.0,868.7 439.3,863.6 434.4,864.1" fill="rgb(246,199,0)"/>
<polygon points="458.2,879.9 462.9,879.6 458.3,873.7 453.5,873.9" fill="rgb(145,226,0)"/>
<polygon points="293.4,859.6 298.1,855.8 293.3,855.4 288.5,859.1" fill="rgb(250,161,105)"/>
<polygon points="467.5,886.1 472.3,886.0 467.7,879.6 462.9,879.6" fill="rgb(69,216,0)"/>
<polygon points="317.5,855.4 322.3,852.1 317.4,850.8 312.6,854.0" fill="rgb(250,113,103)"/>
<polygon points="443.9,874.9 448.7,874.3 444.0,868.7 439.2,869.3" fill="rgb(239,242,0)"/>
<polygon points="346.7,851.9 351.6,849.3 346.7,847.2 341.8,849.7" fill="rgb(250,79,79)"/>
<polygon points="356.5,851.8 361.4,849.5 356.5,847.1 351.6,849.3" fill="rgb(250,67,67)"/>
<polygon points="366.3,852.3 371.2,850.1 366.3,847.4 361.4,849.5" fill="rgb(250,54,54)"/>
<polygon points="395.6,856.7 400.5,855.1 395.7,851.4 390.8,852.9" fill="rgb(250,49,31)"/>
<polygon points="405.4,859.2 410.3,857.8 405.4,853.8 400.5,855.1" fill="rgb(250,71,24)"/>
<polygon points="415.1,862.3 420.0,861.1 415.1,856.7 410.3,857.8" fill="rgb(250,101,17)"/>
<polygon points="288.6,863.8 293.4,859.6 288.5,859.1 283.8,863.2" fill="rgb(250,181,105)"/>
<polygon points="307.8,857.7 312.6,854.0 307.7,853.0 303.0,856.5" fill="rgb(250,133,105)"/>
<polygon points="337.0,852.6 341.8,849.7 336.9,847.9 332.1,850.7" fill="rgb(250,89,89)"/>
<polygon points="424.7,865.9 429.6,864.9 424.8,860.1 420.0,861.1" fill="rgb(250,141,9)"/>
<polygon points="453.4,880.4 458.2,879.9 453.5,873.9 448.7,874.3" fill="rgb(164,231,0)"/>
<polygon points="472.1,893.1 476.8,893.0 472.3,886.0 467.5,886.1" fill="rgb(10,211,0)"/>
<polygon points="376.1,853.2 381.0,851.2 376.1,848.2 371.2,850.1" fill="rgb(250,44,44)"/>
<polygon points="385.9,854.7 390.8,852.9 385.9,849.5 381.0,851.2" fill="rgb(250,38,38)"/>
<polygon points="298.2,860.4 303.0,856.5 298.1,855.8 293.4,859.6" fill="rgb(250,155,105)"/>
<polygon points="327.2,853.7 332.1,850.7 327.2,849.1 322.3,852.1" fill="rgb(250,97,97)"/>
<polygon points="434.4,870.1 439.2,869.3 434.4,864.1 429.6,864.9" fill="rgb(250,191,2)"/>
<polygon points="462.8,886.4 467.5,886.1 462.9,879.6 458.2,879.9" fill="rgb(87,221,0)"/>
<polygon points="351.6,854.6 356.5,851.8 351.6,849.3 346.7,851.9" fill="rgb(250,76,76)"/>
<polygon points="361.4,854.7 366.3,852.3 361.4,849.5 356.5,851.8" fill="rgb(250,63,63)"/>
<polygon points="400.5,860.9 405.4,859.2 400.5,855.1 395.6,856.7" fill="rgb(250,75,28)"/>
<polygon points="410.2,863.8 415.1,862.3 410.3,857.8 405.4,859.2" fill="rgb(250,103,21)"/>
<polygon points="293.5,864.7 298.2,860.4 293.4,859.6 288.6,863.8" fill="rgb(250,175,105)"/>
<polygon points="312.7,859.1 317.5,855.4 312.6,854.0 307.8,857.7" fill="rgb(250,131,105)"/>
<polygon points="322.4,857.2 327.2,853.7 322.3,852.1 317.5,855.4" fill="rgb(250,114,103)"/>
<polygon points="341.9,854.9 346.7,851.9 341.8,849.7 337.0,852.6" fill="rgb(250,87,87)"/>
<polygon points="419.9,867.2 424.7,865.9 420.0,861.1 415.1,862.3" fill="rgb(250,139,13)"/>
<polygon points="439.1,875.9 443.9,874.9 439.2,869.3 434.4,870.1" fill="rgb(247,240,0)"/>
<polygon points="448.6,881.1 453.4,880.4 448.7,874.3 443.9,874.9" fill="rgb(180,237,0)"/>
<polygon points="467.3,893.5 472.1,893.1 467.5,886.1 462.8,886.4" fill="rgb(26,216,0)"/>
<polygon points="371.2,855.5 376.1,853.2 371.2,850.1 366.3,852.3" fill="rgb(250,49,49)"/>
<polygon points="390.8,858.5 395.6,856.7 390.8,852.9 385.9,854.7" fill="rgb(250,56,35)"/>
<polygon points="303.1,861.6 307.8,857.7 303.0,856.5 298.2,860.4" fill="rgb(250,151,105)"/>
<polygon points="332.1,855.8 337.0,852.6 332.1,850.7 327.2,853.7" fill="rgb(250,96,96)"/>
<polygon points="381.0,856.7 385.9,854.7 381.0,851.2 376.1,853.2" fill="rgb(250,43,42)"/>
<polygon points="429.5,871.2 434.4,870.1 429.6,864.9 424.7,865.9" fill="rgb(250,185,6)"/>
<polygon points="458.0,887.0 462.8,886.4 458.2,879.9 453.4,880.4" fill="rgb(104,227,0)"/>
<polygon points="356.5,857.6 361.4,854.7 356.5,851.8 351.6,854.6" fill="rgb(250,71,71)"/>
<polygon points="405.3,865.5 410.2,863.8 405.4,859.2 400.5,860.9" fill="rgb(250,107,25)"/>
<polygon points="298.3,866.0 303.1,861.6 298.2,860.4 293.5,864.7" fill="rgb(250,172,105)"/>
<polygon points="327.3,859.3 332.1,855.8 327.2,853.7 322.4,857.2" fill="rgb(250,116,102)"/>
<polygon points="346.8,857.6 351.6,854.6 346.7,851.9 341.9,854.9" fill="rgb(250,83,83)"/>
<polygon points="415.0,868.8 419.9,867.2 415.1,862.3 410.2,863.8" fill="rgb(250,140,17)"/>
<polygon points="434.2,877.1 439.1,875.9 434.4,870.1 429.5,871.2" fill="rgb(250,236,2)"/>
<polygon points="462.6,894.1 467.3,893.5 462.8,886.4 458.0,887.0" fill="rgb(41,222,0)"/>
<polygon points="366.3,858.1 371.2,855.5 366.3,852.3 361.4,854.7" fill="rgb(250,58,58)"/>
<polygon points="395.6,862.8 400.5,860.9 395.6,856.7 390.8,858.5" fill="rgb(250,82,32)"/>
<polygon points="307.9,863.2 312.7,859.1 307.8,857.7 303.1,861.6" fill="rgb(250,150,105)"/>
<polygon points="317.6,861.0 322.4,857.2 317.5,855.4 312.7,859.1" fill="rgb(250,132,105)"/>
<polygon points="337.0,858.2 341.9,854.9 337.0,852.6 332.1,855.8" fill="rgb(250,98,94)"/>
<polygon points="376.1,859.1 381.0,856.7 376.1,853.2 371.2,855.5" fill="rgb(250,55,45)"/>
<polygon points="385.9,860.7 390.8,858.5 385.9,854.7 381.0,856.7" fill="rgb(250,65,39)"/>
<polygon points="424.7,872.6 429.5,871.2 424.7,865.9 419.9,867.2" fill="rgb(250,183,10)"/>
<polygon points="443.8,882.1 448.6,881.1 443.9,874.9 439.1,875.9" fill="rgb(193,242,0)"/>
<polygon points="453.2,887.8 458.0,887.0 453.4,880.4 448.6,881.1" fill="rgb(118,232,0)"/>
<polygon points="303.2,867.6 307.9,863.2 303.1,861.6 298.3,866.0" fill="rgb(250,171,105)"/>
<polygon points="332.2,861.8 337.0,858.2 332.1,855.8 327.3,859.3" fill="rgb(250,119,99)"/>
<polygon points="351.7,860.7 356.5,857.6 351.6,854.6 346.8,857.6" fill="rgb(250,89,78)"/>
<polygon points="410.2,870.7 415.0,868.8 410.2,863.8 405.3,865.5" fill="rgb(250,144,21)"/>
<polygon points="429.4,878.5 434.2,877.1 429.5,871.2 424.7,872.6" fill="rgb(250,234,6)"/>
<polygon points="457.8,895.0 462.6,894.1 458.0,887.0 453.2,887.8" fill="rgb(53,227,0)"/>
<polygon points="361.5,861.0 366.3,858.1 361.4,854.7 356.5,857.6" fill="rgb(250,78,65)"/>
<polygon points="400.5,867.6 405.3,865.5 400.5,860.9 395.6,862.8" fill="rgb(250,114,28)"/>
<polygon points="322.5,863.2 327.3,859.3 322.4,857.2 317.6,861.0" fill="rgb(250,135,105)"/>
<polygon points="341.9,861.0 346.8,857.6 341.9,854.9 337.0,858.2" fill="rgb(250,103,90)"/>
<polygon points="371.2,861.8 376.1,859.1 371.2,855.5 366.3,858.1" fill="rgb(250,71,50)"/>
<polygon points="381.0,863.2 385.9,860.7 381.0,856.7 376.1,859.1" fill="rgb(250,77,42)"/>
<polygon points="390.7,865.1 395.6,862.8 390.8,858.5 385.9,860.7" fill="rgb(250,92,35)"/>
<polygon points="419.8,874.3 424.7,872.6 419.9,867.2 415.0,868.8" fill="rgb(250,184,13)"/>
<polygon points="438.9,883.4 443.8,882.1 439.1,875.9 434.2,877.1" fill="rgb(203,247,0)"/>
<polygon points="312.8,865.1 317.6,861.0 312.7,859.1 307.9,863.2" fill="rgb(250,151,105)"/>
<polygon points="448.4,888.9 453.2,887.8 448.6,881.1 443.8,882.1" fill="rgb(129,237,0)"/>
<polygon points="337.1,864.7 341.9,861.0 337.0,858.2 332.2,861.8" fill="rgb(250,125,95)"/>
<polygon points="424.6,880.3 429.4,878.5 424.7,872.6 419.8,874.3" fill="rgb(250,234,9)"/>
<polygon points="308.1,869.6 312.8,865.1 307.9,863.2 303.2,867.6" fill="rgb(250,173,105)"/>
<polygon points="327.4,865.8 332.2,861.8 327.3,859.3 322.5,863.2" fill="rgb(250,141,104)"/>
<polygon points="346.8,864.2 351.7,860.7 346.8,857.6 341.9,861.0" fill="rgb(250,110,84)"/>
<polygon points="356.6,864.2 361.5,861.0 356.5,857.6 351.7,860.7" fill="rgb(250,99,72)"/>
<polygon points="366.4,864.8 371.2,861.8 366.3,858.1 361.5,861.0" fill="rgb(250,92,57)"/>
<polygon points="376.1,866.0 381.0,863.2 376.1,859.1 371.2,861.8" fill="rgb(250,92,45)"/>
<polygon points="385.9,867.7 390.7,865.1 385.9,860.7 381.0,863.2" fill="rgb(250,104,38)"/>
<polygon points="395.6,870.0 400.5,867.6 395.6,862.8 390.7,865.1" fill="rgb(250,124,32)"/>
<polygon points="405.3,872.8 410.2,870.7 405.3,865.5 400.5,867.6" fill="rgb(250,151,24)"/>
<polygon points="414.9,876.3 419.8,874.3 415.0,868.8 410.2,870.7" fill="rgb(250,188,17)"/>
<polygon points="434.1,884.9 438.9,883.4 434.2,877.1 429.4,878.5" fill="rgb(208,250,2)"/>
<polygon points="453.0,896.1 457.8,895.0 453.2,887.8 448.4,888.9" fill="rgb(62,232,0)"/>
<polygon points="317.7,867.4 322.5,863.2 317.6,861.0 312.8,865.1" fill="rgb(250,155,105)"/>
<polygon points="443.6,890.2 448.4,888.9 443.8,882.1 438.9,883.4" fill="rgb(137,242,0)"/>
<polygon points="342.0,868.0 346.8,864.2 341.9,861.0 337.1,864.7" fill="rgb(250,132,89)"/>
<polygon points="419.7,882.3 424.6,880.3 419.8,874.3 414.9,876.3" fill="rgb(250,238,13)"/>
<polygon points="312.9,872.0 317.7,867.4 312.8,865.1 308.1,869.6" fill="rgb(250,177,105)"/>
<polygon points="332.3,868.8 337.1,864.7 332.2,861.8 327.4,865.8" fill="rgb(250,147,99)"/>
<polygon points="371.2,869.1 376.1,866.0 371.2,861.8 366.4,864.8" fill="rgb(250,110,49)"/>
<polygon points="381.0,870.6 385.9,867.7 381.0,863.2 376.1,866.0" fill="rgb(250,119,41)"/>
<polygon points="390.7,872.6 395.6,870.0 390.7,865.1 385.9,867.7" fill="rgb(250,136,35)"/>
<polygon points="429.3,886.8 434.1,884.9 429.4,878.5 424.6,880.3" fill="rgb(208,250,5)"/>
<polygon points="448.2,897.6 453.0,896.1 448.4,888.9 443.6,890.2" fill="rgb(69,236,0)"/>
<polygon points="361.5,868.1 366.4,864.8 361.5,861.0 356.6,864.2" fill="rgb(250,113,64)"/>
<polygon points="400.4,875.3 405.3,872.8 400.5,867.6 395.6,870.0" fill="rgb(250,161,28)"/>
<polygon points="322.6,870.1 327.4,865.8 322.5,863.2 317.7,867.4" fill="rgb(250,162,105)"/>
<polygon points="351.7,867.8 356.6,864.2 351.7,860.7 346.8,864.2" fill="rgb(250,121,77)"/>
<polygon points="410.1,878.5 414.9,876.3 410.2,870.7 405.3,872.8" fill="rgb(250,195,20)"/>
<polygon points="438.8,891.8 443.6,890.2 438.9,883.4 434.1,884.9" fill="rgb(142,247,0)"/>
<polygon points="317.8,874.8 322.6,870.1 317.7,867.4 312.9,872.0" fill="rgb(250,184,105)"/>
<polygon points="337.2,872.1 342.0,868.0 337.1,864.7 332.3,868.8" fill="rgb(250,155,93)"/>
<polygon points="346.9,871.7 351.7,867.8 346.8,864.2 342.0,868.0" fill="rgb(250,143,82)"/>
<polygon points="366.4,872.5 371.2,869.1 366.4,864.8 361.5,868.1" fill="rgb(250,132,55)"/>
<polygon points="376.1,873.7 381.0,870.6 376.1,866.0 371.2,869.1" fill="rgb(250,137,44)"/>
<polygon points="385.8,875.6 390.7,872.6 385.9,867.7 381.0,870.6" fill="rgb(250,152,37)"/>
<polygon points="395.5,878.0 400.4,875.3 395.6,870.0 390.7,872.6" fill="rgb(250,174,31)"/>
<polygon points="414.9,884.7 419.7,882.3 414.9,876.3 410.1,878.5" fill="rgb(250,245,16)"/>
<polygon points="424.4,888.9 429.3,886.8 424.6,880.3 419.7,882.3" fill="rgb(205,250,9)"/>
<polygon points="443.4,899.3 448.2,897.6 443.6,890.2 438.8,891.8" fill="rgb(72,241,0)"/>
<polygon points="327.5,873.2 332.3,868.8 327.4,865.8 322.6,870.1" fill="rgb(250,170,102)"/>
<polygon points="434.0,893.8 438.8,891.8 434.1,884.9 429.3,886.8" fill="rgb(143,250,1)"/>
<polygon points="356.7,871.8 361.5,868.1 356.6,864.2 351.7,867.8" fill="rgb(250,135,69)"/>
<polygon points="405.2,881.0 410.1,878.5 405.3,872.8 400.4,875.3" fill="rgb(250,205,23)"/>
<polygon points="322.7,878.0 327.5,873.2 322.6,870.1 317.8,874.8" fill="rgb(250,194,104)"/>
<polygon points="381.0,878.9 385.8,875.6 381.0,870.6 376.1,873.7" fill="rgb(250,169,40)"/>
<polygon points="438.6,901.2 443.4,899.3 438.8,891.8 434.0,893.8" fill="rgb(72,245,0)"/>
<polygon points="332.4,876.6 337.2,872.1 332.3,868.8 327.5,873.2" fill="rgb(250,179,96)"/>
<polygon points="342.1,875.9 346.9,871.7 342.0,868.0 337.2,872.1" fill="rgb(250,167,86)"/>
<polygon points="351.8,875.8 356.7,871.8 351.7,867.8 346.9,871.7" fill="rgb(250,159,74)"/>
<polygon points="361.5,876.2 366.4,872.5 361.5,868.1 356.7,871.8" fill="rgb(250,154,60)"/>
<polygon points="371.3,877.3 376.1,873.7 371.2,869.1 366.4,872.5" fill="rgb(250,157,46)"/>
<polygon points="390.7,881.1 395.5,878.0 390.7,872.6 385.8,875.6" fill="rgb(250,189,33)"/>
<polygon points="400.4,883.9 405.2,881.0 400.4,875.3 395.5,878.0" fill="rgb(250,218,26)"/>
<polygon points="410.0,887.3 414.9,884.7 410.1,878.5 405.2,881.0" fill="rgb(245,250,19)"/>
<polygon points="419.6,891.3 424.4,888.9 419.7,882.3 414.9,884.7" fill="rgb(198,250,12)"/>
<polygon points="429.1,895.9 434.0,893.8 429.3,886.8 424.4,888.9" fill="rgb(140,250,4)"/>
<polygon points="327.6,881.5 332.4,876.6 327.5,873.2 322.7,878.0" fill="rgb(250,204,98)"/>
<polygon points="356.7,880.3 361.5,876.2 356.7,871.8 351.8,875.8" fill="rgb(250,179,65)"/>
<polygon points="376.1,882.5 381.0,878.9 376.1,873.7 371.3,877.3" fill="rgb(250,190,42)"/>
<polygon points="385.8,884.4 390.7,881.1 385.8,875.6 381.0,878.9" fill="rgb(250,208,36)"/>
<polygon points="405.1,890.2 410.0,887.3 405.2,881.0 400.4,883.9" fill="rgb(232,250,22)"/>
<polygon points="433.8,903.5 438.6,901.2 434.0,893.8 429.1,895.9" fill="rgb(68,250,0)"/>
<polygon points="337.3,880.5 342.1,875.9 337.2,872.1 332.4,876.6" fill="rgb(250,192,89)"/>
<polygon points="347.0,880.1 351.8,875.8 346.9,871.7 342.1,875.9" fill="rgb(250,183,77)"/>
<polygon points="366.4,881.1 371.3,877.3 366.4,872.5 361.5,876.2" fill="rgb(250,180,50)"/>
<polygon points="395.5,887.0 400.4,883.9 395.5,878.0 390.7,881.1" fill="rgb(250,233,29)"/>
<polygon points="414.7,894.0 419.6,891.3 414.9,884.7 410.0,887.3" fill="rgb(188,250,15)"/>
<polygon points="424.3,898.4 429.1,895.9 424.4,888.9 419.6,891.3" fill="rgb(134,250,7)"/>
<polygon points="332.5,885.5 337.3,880.5 332.4,876.6 327.6,881.5" fill="rgb(250,218,91)"/>
<polygon points="351.9,884.7 356.7,880.3 351.8,875.8 347.0,880.1" fill="rgb(250,204,69)"/>
<polygon points="361.6,885.3 366.4,881.1 361.5,876.2 356.7,880.3" fill="rgb(250,205,55)"/>
<polygon points="371.3,886.4 376.1,882.5 371.3,877.3 366.4,881.1" fill="rgb(250,212,44)"/>
<polygon points="381.0,888.1 385.8,884.4 381.0,878.9 376.1,882.5" fill="rgb(250,228,38)"/>
<polygon points="390.7,890.5 395.5,887.0 390.7,881.1 385.8,884.4" fill="rgb(248,250,32)"/>
<polygon points="400.3,893.4 405.1,890.2 400.4,883.9 395.5,887.0" fill="rgb(217,250,25)"/>
<polygon points="409.9,897.0 414.7,894.0 410.0,887.3 405.1,890.2" fill="rgb(176,250,18)"/>
<polygon points="429.0,906.1 433.8,903.5 429.1,895.9 424.3,898.4" fill="rgb(63,250,3)"/>
<polygon points="342.2,884.8 347.0,880.1 342.1,875.9 337.3,880.5" fill="rgb(250,209,81)"/>
<polygon points="419.5,901.2 424.3,898.4 419.6,891.3 414.7,894.0" fill="rgb(125,250,10)"/>
<polygon points="366.5,890.7 371.3,886.4 366.4,881.1 361.6,885.3" fill="rgb(250,238,46)"/>
<polygon points="395.5,897.0 400.3,893.4 395.5,887.0 390.7,890.5" fill="rgb(198,250,27)"/>
<polygon points="337.4,889.8 342.2,884.8 337.3,880.5 332.5,885.5" fill="rgb(250,237,83)"/>
<polygon points="347.1,889.5 351.9,884.7 347.0,880.1 342.2,884.8" fill="rgb(250,232,72)"/>
<polygon points="356.8,889.8 361.6,885.3 356.7,880.3 351.9,884.7" fill="rgb(250,232,59)"/>
<polygon points="376.1,892.1 381.0,888.1 376.1,882.5 371.3,886.4" fill="rgb(248,250,40)"/>
<polygon points="385.8,894.2 390.7,890.5 385.8,884.4 381.0,888.1" fill="rgb(227,250,34)"/>
<polygon points="405.1,900.3 409.9,897.0 405.1,890.2 400.3,893.4" fill="rgb(160,250,20)"/>
<polygon points="414.6,904.3 419.5,901.2 414.7,894.0 409.9,897.0" fill="rgb(112,250,13)"/>
<polygon points="424.1,908.9 429.0,906.1 424.3,898.4 419.5,901.2" fill="rgb(54,250,6)"/>
<polygon points="342.3,894.6 347.1,889.5 342.2,884.8 337.4,889.8" fill="rgb(239,250,74)"/>
<polygon points="361.7,895.2 366.5,890.7 361.6,885.3 356.8,889.8" fill="rgb(234,250,49)"/>
<polygon points="371.3,896.5 376.1,892.1 371.3,886.4 366.5,890.7" fill="rgb(223,250,42)"/>
<polygon points="390.6,900.8 395.5,897.0 390.7,890.5 385.8,894.2" fill="rgb(177,250,29)"/>
<polygon points="400.2,903.9 405.1,900.3 400.3,893.4 395.5,897.0" fill="rgb(142,250,23)"/>
<polygon points="419.3,912.1 424.1,908.9 419.5,901.2 414.6,904.3" fill="rgb(41,250,9)"/>
<polygon points="352.0,894.6 356.8,889.8 351.9,884.7 347.1,889.5" fill="rgb(240,250,62)"/>
<polygon points="381.0,898.3 385.8,894.2 381.0,888.1 376.1,892.1" fill="rgb(204,250,36)"/>
<polygon points="409.8,907.7 414.6,904.3 409.9,897.0 405.1,900.3" fill="rgb(97,250,16)"/>
<polygon points="347.2,899.8 352.0,894.6 347.1,889.5 342.3,894.6" fill="rgb(209,250,65)"/>
<polygon points="356.9,900.2 361.7,895.2 356.8,889.8 352.0,894.6" fill="rgb(205,250,52)"/>
<polygon points="366.5,901.2 371.3,896.5 366.5,890.7 361.7,895.2" fill="rgb(194,250,44)"/>
<polygon points="376.2,902.8 381.0,898.3 376.1,892.1 371.3,896.5" fill="rgb(178,250,38)"/>
<polygon points="385.8,905.0 390.6,900.8 385.8,894.2 381.0,898.3" fill="rgb(153,250,32)"/>
<polygon points="395.4,907.8 400.2,903.9 395.5,897.0 390.6,900.8" fill="rgb(121,250,25)"/>
<polygon points="405.0,911.3 409.8,907.7 405.1,900.3 400.2,903.9" fill="rgb(78,250,18)"/>
<polygon points="414.5,915.5 419.3,912.1 414.6,904.3 409.8,907.7" fill="rgb(26,250,11)"/>
<polygon points="352.1,905.5 356.9,900.2 352.0,894.6 347.2,899.8" fill="rgb(173,250,55)"/>
<polygon points="381.0,909.5 385.8,905.0 381.0,898.3 376.2,902.8" fill="rgb(127,250,34)"/>
<polygon points="409.7,919.3 414.5,915.5 409.8,907.7 405.0,911.3" fill="rgb(14,250,20)"/>
<polygon points="361.7,906.2 366.5,901.2 361.7,895.2 356.9,900.2" fill="rgb(164,250,45)"/>
<polygon points="371.4,907.5 376.2,902.8 371.3,896.5 366.5,901.2" fill="rgb(149,250,39)"/>
<polygon points="390.6,912.1 395.4,907.8 390.6,900.8 385.8,905.0" fill="rgb(97,250,27)"/>
<polygon points="400.1,915.4 405.0,911.3 400.2,903.9 395.4,907.8" fill="rgb(57,250,21)"/>
<polygon points="357.0,911.5 361.7,906.2 356.9,900.2 352.1,905.5" fill="rgb(130,250,46)"/>
<polygon points="376.2,914.3 381.0,909.5 376.2,902.8 371.4,907.5" fill="rgb(98,250,35)"/>
<polygon points="385.8,916.7 390.6,912.1 385.8,905.0 381.0,909.5" fill="rgb(70,250,29)"/>
<polygon points="404.9,923.3 409.7,919.3 405.0,911.3 400.1,915.4" fill="rgb(16,250,46)"/>
<polygon points="366.6,912.6 371.4,907.5 366.5,901.2 361.7,906.2" fill="rgb(118,250,41)"/>
<polygon points="395.3,919.7 400.1,915.4 395.4,907.8 390.6,912.1" fill="rgb(33,250,23)"/>
<polygon points="361.8,918.0 366.6,912.6 361.7,906.2 357.0,911.5" fill="rgb(84,250,42)"/>
<polygon points="371.4,919.5 376.2,914.3 371.4,907.5 366.6,912.6" fill="rgb(66,250,37)"/>
<polygon points="381.0,921.6 385.8,916.7 381.0,909.5 376.2,914.3" fill="rgb(41,250,31)"/>
<polygon points="390.5,924.3 395.3,919.7 390.6,912.1 385.8,916.7" fill="rgb(25,250,43)"/>
<polygon points="400.1,927.7 404.9,923.3 400.1,915.4 395.3,919.7" fill="rgb(19,250,74)"/>
<polygon points="366.6,925.0 371.4,919.5 366.6,912.6 361.8,918.0" fill="rgb(38,250,45)"/>
<polygon points="395.3,932.5 400.1,927.7 395.3,919.7 390.5,924.3" fill="rgb(21,250,105)"/>
<polygon points="376.2,926.8 381.0,921.6 376.2,914.3 371.4,919.5" fill="rgb(33,250,57)"/>
<polygon points="385.7,929.3 390.5,924.3 385.8,916.7 381.0,921.6" fill="rgb(27,250,77)"/>
<polygon points="371.4,932.4 376.2,926.8 371.4,919.5 366.6,925.0" fill="rgb(34,250,95)"/>
<polygon points="390.5,937.5 395.3,932.5 390.5,924.3 385.7,929.3" fill="rgb(23,250,138)"/>
<polygon points="381.0,934.6 385.7,929.3 381.0,921.6 376.2,926.8" fill="rgb(29,250,112)"/>
<polygon points="376.2,940.3 381.0,934.6 376.2,926.8 371.4,932.4" fill="rgb(30,250,150)"/>
<polygon points="385.7,942.9 390.5,937.5 385.7,929.3 381.0,934.6" fill="rgb(25,250,174)"/>
<polygon points="380.9,948.6 385.7,942.9 381.0,934.6 376.2,940.3" fill="rgb(26,250,212)"/>
</g>
<line x1="368.0" y1="815.1" x2="368.0" y2="839.4" stroke="#222" stroke-width="0.6"/>
<rect x="350.9" y="815.3" width="17" height="6.1" fill="#fff" stroke="#222" stroke-width="0.5"/>
<text x="359.4" y="819.8" font-size="3.9" text-anchor="middle" fill="#111" font-family="Liberation Sans, sans-serif">97.5089</text>
<text transform="translate(256.1,904.2) rotate(-90)" font-size="7.0" text-anchor="middle" fill="#2e2e2e" stroke="#2e2e2e" stroke-width="0.1" textLength="33.7" lengthAdjust="spacingAndGlyphs" font-family="Liberation Sans, sans-serif">R% for ME</text>
<text x="299.3" y="1007.6" font-size="7.2" text-anchor="middle" fill="#2e2e2e" stroke="#2e2e2e" stroke-width="0.1" textLength="60.0" lengthAdjust="spacingAndGlyphs" font-family="Liberation Sans, sans-serif">C: Catalyst amount</text>
<text x="463.3" y="1007.6" font-size="7.2" text-anchor="middle" fill="#2e2e2e" stroke="#2e2e2e" stroke-width="0.1" textLength="72.7" lengthAdjust="spacingAndGlyphs" font-family="Liberation Sans, sans-serif">A: Drug concentration</text>
</g>
</svg></body></html>
